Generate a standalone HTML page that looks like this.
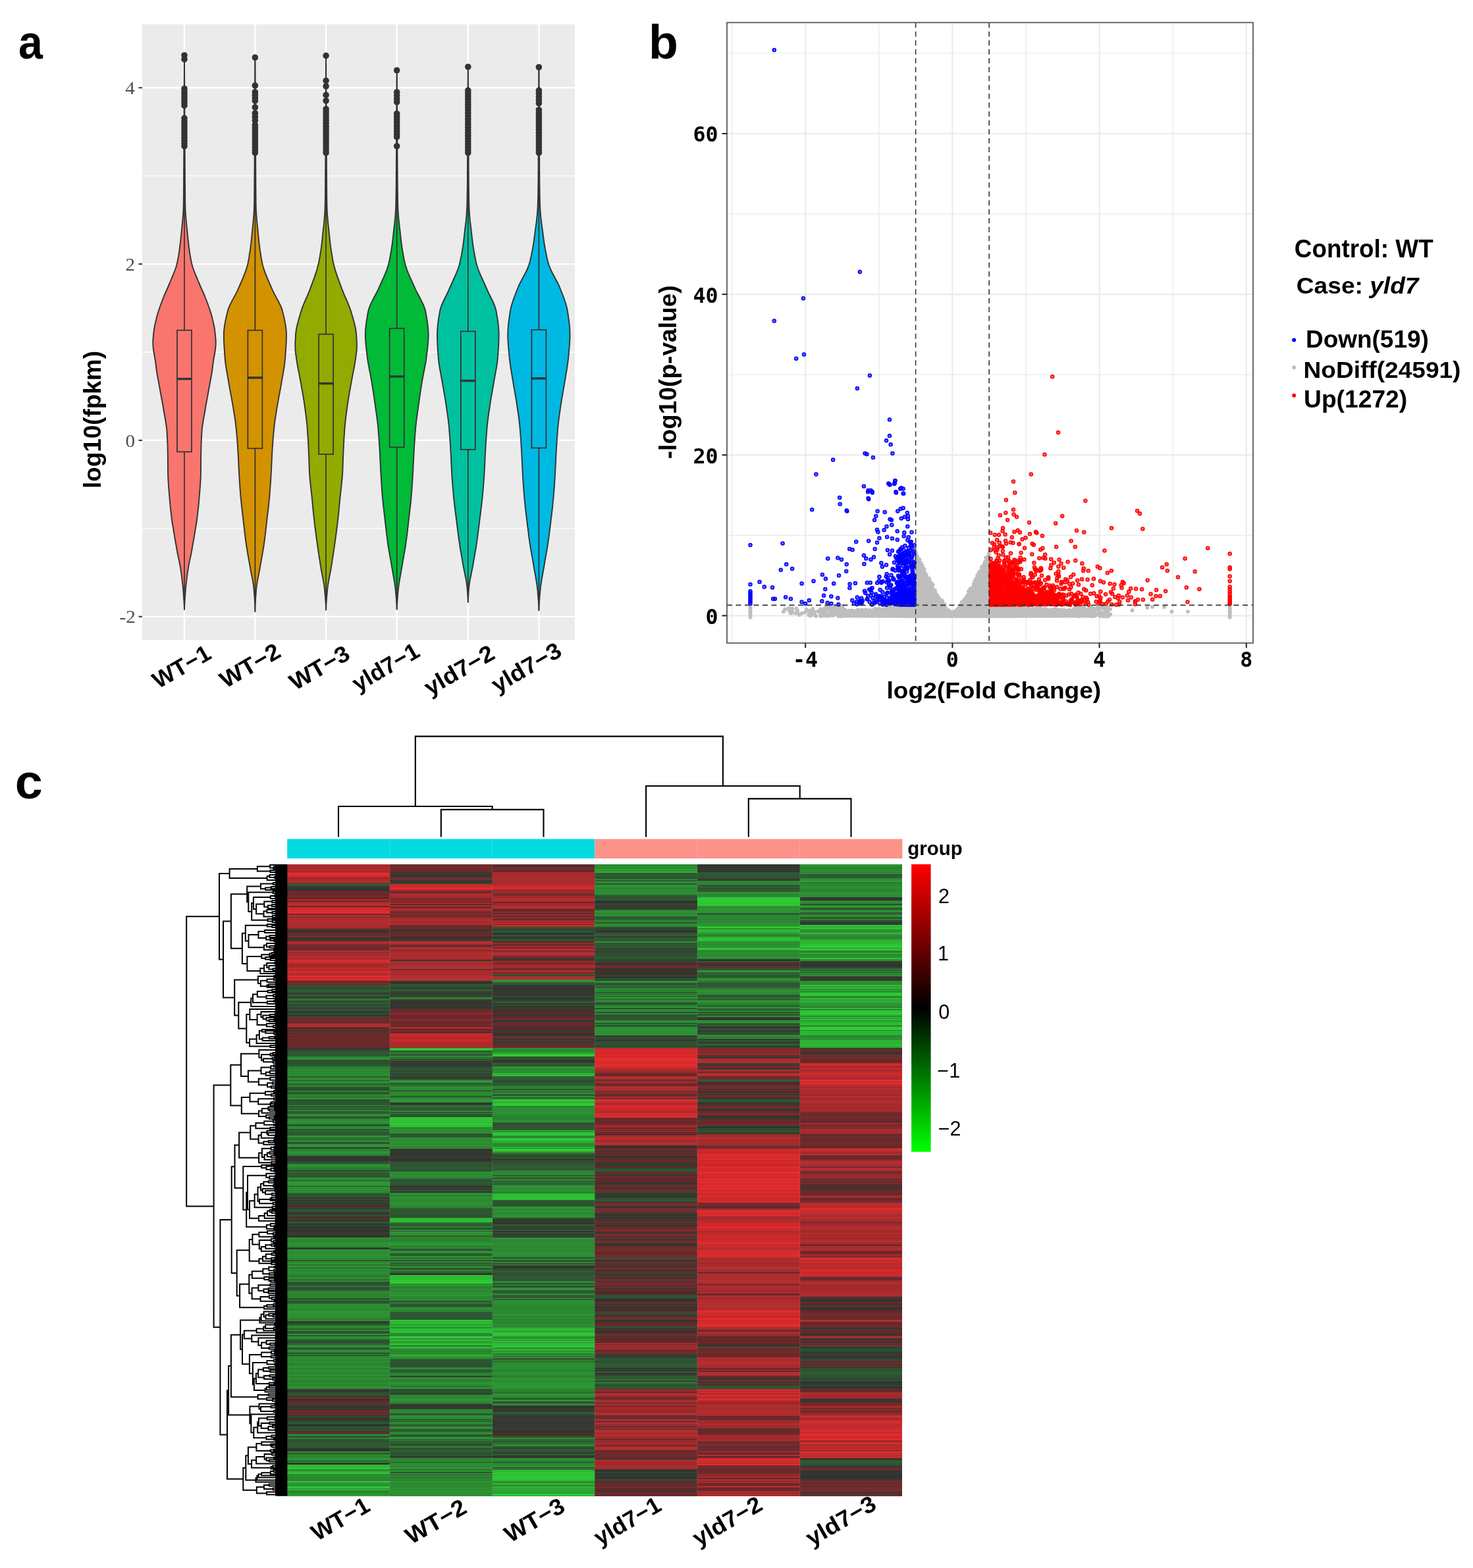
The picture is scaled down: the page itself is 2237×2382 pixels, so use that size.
<!DOCTYPE html><html><head><meta charset="utf-8"><title>Figure</title><style>
html,body{margin:0;padding:0;background:#fff;}
#w{position:relative;width:2237px;height:2382px;overflow:hidden;background:#fff;}
svg{position:absolute;left:0;top:0;}
.lab{font-family:"Liberation Sans",Arial,sans-serif;font-weight:bold;fill:#000;}
.ytka{font-family:"Liberation Serif","Times New Roman",serif;fill:#4D4D4D;}
.xla{font-family:"Liberation Sans",Arial,sans-serif;font-weight:bold;fill:#000;}
.yta{font-family:"Liberation Sans",Arial,sans-serif;font-weight:bold;fill:#000;}
.tkb{font-family:"DejaVu Sans Mono",monospace;font-weight:bold;fill:#000;}
.tt{font-family:"Liberation Sans",Arial,sans-serif;font-weight:bold;fill:#000;}
.lg1{font-family:"Liberation Sans",Arial,sans-serif;font-weight:bold;fill:#000;}
.lg2{font-family:"Liberation Sans",Arial,sans-serif;font-weight:bold;fill:#000;}
.grp{font-family:"Liberation Sans",Arial,sans-serif;font-weight:bold;fill:#000;}
.lgn{font-family:"Liberation Sans",Arial,sans-serif;fill:#000;}
</style></head><body><div id="w">
<div style="position:absolute;left:436.2px;top:1313.0px;width:155.7px;height:959.5px;background:linear-gradient(#b62e30 0.0px 1.5px,#aa2b2d 1.5px 3.0px,#a3292b 3.0px 5.0px,#ab2b2d 5.0px 7.0px,#b42e30 7.0px 9.0px,#aa2b2d 9.0px 9.6px,#a0292a 9.6px 10.6px,#af2c2e 10.6px 13.0px,#e72d2f 13.0px 15.0px,#dc2b2d 15.0px 16.5px,#dc2b2d 16.5px 18.5px,#c62628 18.5px 20.0px,#9f282a 20.0px 22.0px,#a3292b 22.0px 22.6px,#ae2c2e 22.6px 23.6px,#a72a2c 23.6px 25.1px,#b52e30 25.1px 27.1px,#a42a2c 27.1px 29.0px,#2f5833 29.0px 30.0px,#2d5431 30.0px 31.5px,#305a34 31.5px 33.5px,#363a31 33.5px 36.0px,#30342c 36.0px 38.0px,#363b32 38.0px 38.6px,#2f332c 38.6px 40.0px,#632628 40.0px 42.5px,#732c2f 42.5px 43.5px,#6b292b 43.5px 44.1px,#6a292b 44.1px 46.6px,#6d2a2c 46.6px 47.0px,#68282a 47.0px 48.0px,#9e282a 48.0px 48.6px,#652729 48.6px 50.1px,#632628 50.1px 51.1px,#662729 51.1px 52.6px,#ac2c2e 52.6px 54.6px,#6a292b 54.6px 57.1px,#a92b2d 57.1px 58.6px,#b62e30 58.6px 59.6px,#b62e30 59.6px 61.6px,#b92f31 61.6px 62.6px,#652729 62.6px 64.6px,#a52a2c 64.6px 65.0px,#d1282a 65.0px 67.0px,#d3292b 67.0px 68.0px,#c82729 68.0px 68.6px,#db2a2c 68.6px 70.6px,#da2a2c 70.6px 71.2px,#db2a2c 71.2px 72.2px,#e62d2f 72.2px 73.2px,#e22c2e 73.2px 74.7px,#e32c2e 74.7px 75.0px,#68282a 75.0px 76.0px,#67282a 76.0px 77.0px,#af2c2e 77.0px 78.0px,#b82f31 78.0px 80.0px,#6a292b 80.0px 81.5px,#ac2c2e 81.5px 82.1px,#b12d2f 82.1px 83.1px,#b72e30 83.1px 84.1px,#a3292b 84.1px 85.0px,#b92f31 85.0px 87.5px,#a42a2c 87.5px 88.5px,#b02d2f 88.5px 90.5px,#af2c2e 90.5px 92.5px,#a4292b 92.5px 93.5px,#b22d2f 93.5px 94.5px,#a52a2c 94.5px 95.1px,#a52a2c 95.1px 96.6px,#a3292b 96.6px 97.0px,#742d2f 97.0px 98.0px,#722c2e 98.0px 98.6px,#353931 98.6px 99.6px,#343830 99.6px 101.6px,#69292a 101.6px 102.2px,#30332c 102.2px 103.2px,#642728 103.2px 105.7px,#742d2f 105.7px 106.7px,#69292b 106.7px 107.3px,#353a31 107.3px 107.9px,#742d2f 107.9px 110.4px,#6f2b2d 110.4px 111.4px,#33372f 111.4px 112.0px,#343830 112.0px 112.6px,#32362f 112.6px 114.6px,#30342c 114.6px 115.2px,#67282a 115.2px 117.0px,#a82b2d 117.0px 118.5px,#aa2b2d 118.5px 121.0px,#a0292a 121.0px 122.5px,#6d2a2c 122.5px 124.5px,#732d2f 124.5px 126.0px,#6d2a2c 126.0px 126.6px,#632628 126.6px 128.1px,#6d2a2c 128.1px 129.1px,#732c2e 129.1px 131.1px,#ab2b2d 131.1px 133.6px,#6e2b2d 133.6px 134.6px,#b42e30 134.6px 135.0px,#b62e30 135.0px 136.0px,#a42a2b 136.0px 137.5px,#a4292b 137.5px 138.5px,#ab2b2d 138.5px 139.5px,#b12d2f 139.5px 140.1px,#b42e30 140.1px 141.1px,#aa2b2d 141.1px 141.7px,#b72e31 141.7px 142.7px,#a82b2d 142.7px 144.2px,#ab2b2d 144.2px 145.0px,#de2b2d 145.0px 146.0px,#d5292b 146.0px 148.0px,#e22c2e 148.0px 148.6px,#e32c2e 148.6px 149.0px,#b02d2f 149.0px 149.6px,#ad2c2e 149.6px 150.6px,#b02d2f 150.6px 151.6px,#9e282a 151.6px 153.6px,#a92b2d 153.6px 154.6px,#9e282a 154.6px 155.6px,#a42a2c 155.6px 156.6px,#b42e30 156.6px 157.0px,#c92729 157.0px 159.5px,#b42e30 159.5px 161.5px,#a3292b 161.5px 162.1px,#de2b2d 162.1px 163.6px,#c72628 163.6px 165.1px,#d1282a 165.1px 166.1px,#ac2c2e 166.1px 168.6px,#e12b2e 168.6px 169.6px,#e52c2f 169.6px 170.6px,#d5292b 170.6px 173.1px,#b72e31 173.1px 174.1px,#dc2b2d 174.1px 175.6px,#b82f31 175.6px 177.0px,#69282a 177.0px 178.5px,#652729 178.5px 179.5px,#732c2e 179.5px 182.0px,#672829 182.0px 182.6px,#742d2f 182.6px 184.0px,#305a34 184.0px 185.0px,#2f5933 185.0px 186.0px,#2a502e 186.0px 186.6px,#2d5431 186.6px 188.1px,#2a4f2e 188.1px 189.1px,#2a4f2e 189.1px 189.7px,#305934 189.7px 191.7px,#315c35 191.7px 192.7px,#2f5833 192.7px 195.2px,#33372f 195.2px 196.7px,#2b522f 196.7px 199.2px,#305a34 199.2px 201.2px,#343830 201.2px 203.2px,#2f5833 203.2px 205.0px,#29852f 205.0px 207.0px,#343830 207.0px 208.0px,#2d5431 208.0px 210.0px,#2e5732 210.0px 210.6px,#2a4f2e 210.6px 211.2px,#315c35 211.2px 212.7px,#2f5833 212.7px 213.3px,#33372f 213.3px 213.9px,#2d5531 213.9px 215.4px,#305b35 215.4px 216.4px,#2b502e 216.4px 217.9px,#373b33 217.9px 219.4px,#373c33 219.4px 220.4px,#2b522f 220.4px 221.0px,#2f5933 221.0px 223.5px,#30342c 223.5px 224.5px,#363b32 224.5px 227.0px,#2b512f 227.0px 229.0px,#30332c 229.0px 231.0px,#2e5632 231.0px 232.0px,#6c2a2c 232.0px 233.0px,#6c2a2c 233.0px 235.5px,#6c2a2c 235.5px 236.5px,#6d2a2c 236.5px 238.5px,#67282a 238.5px 239.5px,#6e2a2c 239.5px 242.0px,#b72e30 242.0px 243.0px,#ae2c2e 243.0px 244.0px,#a42a2b 244.0px 245.0px,#b62e30 245.0px 246.0px,#b62e30 246.0px 247.0px,#67282a 247.0px 248.0px,#373b33 248.0px 248.6px,#652729 248.6px 250.6px,#712c2e 250.6px 252.1px,#353931 252.1px 252.7px,#343830 252.7px 253.7px,#6f2b2d 253.7px 254.7px,#6b292b 254.7px 255.7px,#343830 255.7px 256.3px,#6b292b 256.3px 257.0px,#662729 257.0px 258.0px,#662729 258.0px 259.0px,#742d2f 259.0px 260.0px,#652729 260.0px 262.5px,#652729 262.5px 263.1px,#6b292b 263.1px 265.6px,#69282a 265.6px 266.2px,#6a292b 266.2px 267.7px,#6a292b 267.7px 268.7px,#69292b 268.7px 270.7px,#6f2b2d 270.7px 273.2px,#662729 273.2px 274.2px,#69292b 274.2px 275.7px,#6a292b 275.7px 276.7px,#6d2a2c 276.7px 277.7px,#6c2a2c 277.7px 278.3px,#68282a 278.3px 278.9px,#712c2e 278.9px 279.0px,#373b32 279.0px 281.5px,#373b33 281.5px 283.0px,#2e5732 283.0px 285.0px,#2e5732 285.0px 287.0px,#305a34 287.0px 288.0px,#2c5230 288.0px 289.0px,#2f5933 289.0px 289.6px,#305a34 289.6px 290.6px,#2b502f 290.6px 292.0px,#2e9435 292.0px 293.0px,#2b8930 293.0px 295.5px,#2d9134 295.5px 297.0px,#2b512f 297.0px 298.5px,#2b502e 298.5px 299.5px,#373b33 299.5px 300.5px,#315c35 300.5px 301.1px,#2b522f 301.1px 303.6px,#2e5632 303.6px 305.1px,#2d5531 305.1px 306.6px,#363a32 306.6px 307.0px,#28812e 307.0px 309.0px,#29832e 309.0px 311.0px,#2a8630 311.0px 312.0px,#2c8c32 312.0px 313.5px,#2d8f33 313.5px 314.5px,#29832e 314.5px 315.1px,#2a8630 315.1px 316.1px,#2c8d32 316.1px 317.1px,#2b8a31 317.1px 319.1px,#2c8d32 319.1px 321.1px,#2c8f33 321.1px 321.7px,#29822e 321.7px 322.0px,#2f5833 322.0px 324.0px,#2f9535 324.0px 324.6px,#29842f 324.6px 326.1px,#2c8e32 326.1px 327.6px,#2d5431 327.6px 329.1px,#2a8730 329.1px 331.1px,#2d8f33 331.1px 333.1px,#2f5833 333.1px 335.1px,#28812e 335.1px 337.6px,#2e5733 337.6px 338.6px,#2d5431 338.6px 340.1px,#2a4f2e 340.1px 341.1px,#2a502e 341.1px 343.6px,#2b8b31 343.6px 344.6px,#29832e 344.6px 345.6px,#2b512f 345.6px 348.1px,#2b502e 348.1px 349.1px,#29832e 349.1px 351.1px,#29842f 351.1px 351.7px,#2d8f33 351.7px 352.7px,#2f5733 352.7px 354.2px,#2d9234 354.2px 356.7px,#2b512f 356.7px 358.7px,#2c522f 358.7px 359.7px,#2a8730 359.7px 360.3px,#2c5430 360.3px 362.3px,#2f5933 362.3px 363.3px,#2e5733 363.3px 365.8px,#2a862f 365.8px 366.8px,#305b35 366.8px 369.3px,#2a4f2e 369.3px 369.9px,#2c8e32 369.9px 370.9px,#2a8730 370.9px 371.5px,#2b512f 371.5px 372.1px,#2d5430 372.1px 373.1px,#2a8830 373.1px 374.6px,#305a34 374.6px 376.1px,#2d5531 376.1px 376.7px,#2f5934 376.7px 378.7px,#2a8630 378.7px 380.2px,#2d8f33 380.2px 381.2px,#2c8d32 381.2px 383.2px,#2b512f 383.2px 385.7px,#29822e 385.7px 388.2px,#29822e 388.2px 389.2px,#2e9334 389.2px 391.2px,#2d9234 391.2px 392.7px,#2e9535 392.7px 393.3px,#2a8730 393.3px 395.3px,#2c5330 395.3px 397.8px,#2d8f33 397.8px 398.8px,#29832e 398.8px 399.8px,#2c8e32 399.8px 402.3px,#2d5531 402.3px 404.8px,#2a852f 404.8px 405.8px,#2c522f 405.8px 407.0px,#305a34 407.0px 408.0px,#2c5430 408.0px 408.6px,#2e5732 408.6px 410.1px,#2f5933 410.1px 411.1px,#305a34 411.1px 412.0px,#2c8e32 412.0px 414.0px,#2d9134 414.0px 415.0px,#2b522f 415.0px 416.0px,#2c8d32 416.0px 416.6px,#305a34 416.6px 417.2px,#2c5330 417.2px 417.8px,#29822e 417.8px 419.8px,#2a8730 419.8px 422.3px,#2b512f 422.3px 422.9px,#2d5431 422.9px 425.4px,#2d9134 425.4px 427.9px,#2b8b31 427.9px 429.9px,#2f9635 429.9px 430.0px,#30342d 430.0px 432.0px,#2c8c32 432.0px 433.5px,#28822e 433.5px 436.0px,#2e9535 436.0px 438.0px,#2d9134 438.0px 439.5px,#2a8830 439.5px 442.0px,#305a34 442.0px 442.6px,#2f5733 442.6px 444.1px,#2f332c 444.1px 446.1px,#33372f 446.1px 446.7px,#31342d 446.7px 447.7px,#31352d 447.7px 450.2px,#343830 450.2px 451.2px,#2a4f2e 451.2px 452.2px,#2c5330 452.2px 453.2px,#2b512f 453.2px 454.2px,#2a4f2e 454.2px 454.8px,#2a4f2e 454.8px 455.0px,#2b8830 455.0px 455.6px,#2d9033 455.6px 457.6px,#2b8a31 457.6px 459.6px,#2e9535 459.6px 460.6px,#315c35 460.6px 461.6px,#2a8630 461.6px 463.6px,#2c5330 463.6px 465.1px,#2b502e 465.1px 467.1px,#2a852f 467.1px 468.1px,#2d5431 468.1px 469.1px,#305934 469.1px 471.1px,#2c522f 471.1px 471.7px,#305b35 471.7px 472.3px,#2f5833 472.3px 473.8px,#2d5431 473.8px 475.8px,#2e9535 475.8px 476.8px,#2d9133 476.8px 477.0px,#2c8c32 477.0px 479.0px,#29842f 479.0px 480.0px,#305a34 480.0px 481.0px,#2a8630 481.0px 482.0px,#2e9435 482.0px 484.5px,#2f9635 484.5px 487.0px,#2c8c32 487.0px 489.0px,#2d5431 489.0px 489.6px,#2e9334 489.6px 492.1px,#2b8a31 492.1px 493.1px,#2e9334 493.1px 494.6px,#2b8931 494.6px 495.6px,#2b8b31 495.6px 497.6px,#29822e 497.6px 500.0px,#33372f 500.0px 501.0px,#305934 501.0px 502.5px,#2a4f2e 502.5px 503.1px,#2d5531 503.1px 504.6px,#2d5531 504.6px 505.6px,#305a34 505.6px 506.2px,#343930 506.2px 508.7px,#315c35 508.7px 509.7px,#32362e 509.7px 512.2px,#2a502e 512.2px 513.7px,#353a31 513.7px 514.7px,#32352e 514.7px 515.7px,#2c5330 515.7px 517.2px,#31342d 517.2px 518.7px,#353931 518.7px 519.3px,#33372f 519.3px 520.0px,#6d2a2c 520.0px 521.5px,#652729 521.5px 522.0px,#30342d 522.0px 522.6px,#2c5330 522.6px 524.1px,#2b512f 524.1px 525.6px,#305a34 525.6px 526.6px,#315b35 526.6px 528.1px,#33372f 528.1px 530.1px,#363a32 530.1px 532.6px,#2e5732 532.6px 533.6px,#31352d 533.6px 534.2px,#2b502e 534.2px 535.2px,#32362e 535.2px 536.7px,#2e5732 536.7px 537.0px,#67282a 537.0px 538.0px,#722c2e 538.0px 539.0px,#343930 539.0px 541.0px,#353931 541.0px 543.0px,#2f5833 543.0px 545.0px,#2a4f2e 545.0px 546.0px,#30342c 546.0px 548.5px,#2d5431 548.5px 549.0px,#32362e 549.0px 550.0px,#32352e 550.0px 551.0px,#33372f 551.0px 551.6px,#30342d 551.6px 554.1px,#343830 554.1px 556.1px,#30342c 556.1px 558.1px,#31352d 558.1px 559.1px,#383c33 559.1px 561.6px,#343830 561.6px 562.6px,#373b33 562.6px 563.2px,#32362e 563.2px 563.8px,#31352e 563.8px 564.8px,#32362e 564.8px 566.8px,#31352d 566.8px 567.0px,#2e9234 567.0px 569.0px,#28812e 569.0px 570.5px,#2d9234 570.5px 571.5px,#29832f 571.5px 574.0px,#2e9334 574.0px 576.5px,#2c8e32 576.5px 578.0px,#2e9234 578.0px 580.5px,#29842f 580.5px 581.1px,#2b8b31 581.1px 582.0px,#343830 582.0px 583.0px,#343830 583.0px 583.6px,#32362e 583.6px 584.6px,#32352e 584.6px 585.0px,#2f9535 585.0px 587.0px,#2c8f33 587.0px 587.6px,#2d9033 587.6px 588.2px,#2b8931 588.2px 589.2px,#2c8e32 589.2px 590.7px,#2a8830 590.7px 592.2px,#2e9535 592.2px 594.2px,#2d9134 594.2px 596.2px,#2b8b31 596.2px 597.0px,#2e9334 597.0px 598.5px,#29832e 598.5px 600.0px,#2c8c32 600.0px 600.6px,#2d5431 600.6px 602.6px,#2a4f2e 602.6px 603.2px,#2b8a31 603.2px 605.7px,#2d9134 605.7px 607.2px,#2e9435 607.2px 608.2px,#2d5531 608.2px 609.2px,#2f9635 609.2px 611.2px,#2c8c32 611.2px 612.7px,#2f5833 612.7px 613.7px,#2f9735 613.7px 614.7px,#2d8f33 614.7px 615.0px,#2b8a31 615.0px 617.0px,#2a852f 617.0px 618.0px,#2b8a31 618.0px 620.5px,#2e9535 620.5px 621.1px,#2c8c32 621.1px 621.7px,#29832e 621.7px 622.7px,#2c8d32 622.7px 624.7px,#28802e 624.7px 625.0px,#2a4f2e 625.0px 626.0px,#2e9435 626.0px 627.0px,#2a8830 627.0px 629.0px,#2a8730 629.0px 631.0px,#2c5330 631.0px 632.5px,#2d9234 632.5px 634.0px,#2b512f 634.0px 635.5px,#2b512f 635.5px 638.0px,#2a4f2e 638.0px 639.0px,#315c35 639.0px 641.5px,#2a862f 641.5px 642.5px,#2c5330 642.5px 643.1px,#2c5230 643.1px 644.1px,#2b502f 644.1px 645.6px,#305934 645.6px 648.1px,#2a852f 648.1px 649.6px,#2d9033 649.6px 650.6px,#2a862f 650.6px 651.6px,#2a8630 651.6px 654.1px,#29832e 654.1px 656.6px,#2a8730 656.6px 658.6px,#2c5230 658.6px 659.6px,#2d5531 659.6px 662.1px,#2c8c32 662.1px 662.7px,#2a4f2e 662.7px 664.0px,#2c5330 664.0px 666.0px,#2d5431 666.0px 667.0px,#29822e 667.0px 669.0px,#2f9635 669.0px 670.0px,#2a862f 670.0px 671.0px,#2d9133 671.0px 672.0px,#29842f 672.0px 672.6px,#2f9635 672.6px 673.6px,#2c8e32 673.6px 674.2px,#2b8931 674.2px 676.2px,#28822e 676.2px 677.7px,#2c8d32 677.7px 678.3px,#2e9535 678.3px 680.8px,#2d8f33 680.8px 681.8px,#2c8c32 681.8px 682.4px,#2e9334 682.4px 684.4px,#2d9033 684.4px 686.9px,#2d9133 686.9px 688.9px,#29842f 688.9px 690.9px,#29832e 690.9px 691.9px,#2a862f 691.9px 693.4px,#2c8d32 693.4px 694.0px,#363a32 694.0px 695.0px,#31352d 695.0px 697.0px,#305a34 697.0px 698.5px,#2a4f2e 698.5px 700.5px,#28812e 700.5px 702.5px,#29842f 702.5px 704.0px,#2c8e32 704.0px 705.0px,#2f5933 705.0px 706.5px,#305b35 706.5px 707.1px,#2c8d32 707.1px 709.1px,#2b512f 709.1px 711.6px,#2f5833 711.6px 712.6px,#2d9234 712.6px 714.6px,#2f5833 714.6px 716.6px,#2c5230 716.6px 717.0px,#2b8b31 717.0px 718.0px,#2e9334 718.0px 720.5px,#28822e 720.5px 722.0px,#2d5531 722.0px 723.5px,#2b522f 723.5px 726.0px,#2b502f 726.0px 726.6px,#315c35 726.6px 728.6px,#2f5933 728.6px 729.6px,#2f5933 729.6px 730.0px,#2b8931 730.0px 730.6px,#2b8931 730.6px 732.6px,#2f9535 732.6px 733.6px,#2f5833 733.6px 734.2px,#2c5330 734.2px 736.7px,#2a862f 736.7px 737.3px,#2a852f 737.3px 738.8px,#2f9635 738.8px 739.8px,#29842f 739.8px 741.8px,#2a4f2e 741.8px 743.8px,#2e9535 743.8px 744.8px,#2b512f 744.8px 746.8px,#2b522f 746.8px 747.0px,#2d9234 747.0px 748.5px,#2b8a31 748.5px 749.5px,#29842f 749.5px 750.5px,#2e9234 750.5px 752.5px,#29852f 752.5px 754.0px,#2c8e32 754.0px 755.0px,#2b8b31 755.0px 756.0px,#2f9735 756.0px 757.5px,#29842f 757.5px 760.0px,#29852f 760.0px 761.5px,#2b8a31 761.5px 763.0px,#2d9033 763.0px 763.6px,#2f9635 763.6px 764.6px,#28812e 764.6px 766.6px,#2d9133 766.6px 767.6px,#2b8931 767.6px 769.6px,#2d9033 769.6px 772.1px,#29832e 772.1px 773.1px,#29842f 773.1px 773.7px,#29832f 773.7px 774.7px,#2d9133 774.7px 775.7px,#28812e 775.7px 776.3px,#2e9334 776.3px 777.3px,#29822e 777.3px 778.8px,#2a8830 778.8px 780.3px,#2d8f33 780.3px 782.3px,#2b8931 782.3px 783.3px,#2b8b31 783.3px 784.3px,#29842f 784.3px 785.3px,#29832f 785.3px 787.3px,#2a8730 787.3px 788.3px,#2b8b31 788.3px 789.8px,#29832f 789.8px 792.3px,#2c8d32 792.3px 794.8px,#2d9133 794.8px 795.8px,#2b8931 795.8px 797.0px,#363a32 797.0px 798.0px,#353931 798.0px 800.0px,#30342d 800.0px 801.5px,#373b32 801.5px 802.0px,#2b502e 802.0px 803.0px,#2c5330 803.0px 804.0px,#2b512f 804.0px 805.0px,#2f5933 805.0px 805.6px,#2e5632 805.6px 807.0px,#353931 807.0px 809.5px,#69292a 809.5px 810.5px,#722c2e 810.5px 811.1px,#67282a 811.1px 812.1px,#33372f 812.1px 813.6px,#32362e 813.6px 815.1px,#67282a 815.1px 816.6px,#363a32 816.6px 818.1px,#67282a 818.1px 819.1px,#732c2e 819.1px 819.7px,#67282a 819.7px 820.7px,#373b33 820.7px 822.7px,#373b33 822.7px 824.2px,#32362f 824.2px 825.7px,#353931 825.7px 827.7px,#30332c 827.7px 828.7px,#6d2a2c 828.7px 829.7px,#722c2e 829.7px 830.7px,#6d2a2c 830.7px 833.2px,#353931 833.2px 834.2px,#6e2a2c 834.2px 835.2px,#6d2a2c 835.2px 837.0px,#363a32 837.0px 837.6px,#373b33 837.6px 839.1px,#2f5833 839.1px 839.7px,#32362e 839.7px 840.7px,#31352d 840.7px 841.3px,#31352d 841.3px 842.3px,#343830 842.3px 844.3px,#343830 844.3px 845.8px,#2a502e 845.8px 848.3px,#2f5833 848.3px 850.3px,#30342c 850.3px 851.3px,#353931 851.3px 851.9px,#31342d 851.9px 854.4px,#2b512f 854.4px 855.4px,#305a34 855.4px 857.4px,#32362e 857.4px 858.4px,#2d5531 858.4px 860.9px,#32362e 860.9px 862.0px,#732c2e 862.0px 863.0px,#652729 863.0px 865.0px,#305a34 865.0px 865.6px,#2e9334 865.6px 868.1px,#2d5531 868.1px 870.1px,#2d5431 870.1px 871.1px,#2a8630 871.1px 872.6px,#2f5833 872.6px 874.6px,#2c5230 874.6px 875.6px,#2b512f 875.6px 878.1px,#305a34 878.1px 879.1px,#2f5733 879.1px 881.1px,#305a34 881.1px 882.0px,#2d5431 882.0px 883.0px,#2f5833 883.0px 885.5px,#2f5833 885.5px 886.1px,#2c5230 886.1px 887.1px,#33372f 887.1px 888.1px,#30332c 888.1px 890.6px,#373b32 890.6px 892.0px,#2d9133 892.0px 893.0px,#2e9535 893.0px 893.6px,#2b512f 893.6px 895.6px,#2e9234 895.6px 896.2px,#2b8931 896.2px 898.7px,#29832f 898.7px 900.7px,#2d9033 900.7px 902.7px,#2e9434 902.7px 904.7px,#29832e 904.7px 906.2px,#2d5531 906.2px 907.2px,#28812e 907.2px 908.2px,#2a8630 908.2px 909.0px,#32352e 909.0px 910.5px,#30342c 910.5px 911.5px,#32362e 911.5px 912.0px,#2ec134 912.0px 913.0px,#2ab230 913.0px 914.0px,#2fc535 914.0px 915.0px,#2bb631 915.0px 915.6px,#2bb431 915.6px 917.1px,#31cf38 917.1px 918.1px,#2dbf33 918.1px 919.0px,#2c8d32 919.0px 920.5px,#2c8d32 920.5px 922.5px,#2cb831 922.5px 925.0px,#30cb37 925.0px 926.0px,#2f9535 926.0px 927.5px,#28812e 927.5px 928.1px,#2d8f33 928.1px 929.1px,#2d9134 929.1px 930.1px,#2b8b31 930.1px 931.1px,#2b8830 931.1px 932.1px,#2a862f 932.1px 934.1px,#2a8730 934.1px 936.6px,#2fc836 936.6px 938.6px,#2dbf33 938.6px 939.2px,#2e9435 939.2px 941.7px,#2c8d32 941.7px 943.7px,#2d9133 943.7px 944.7px,#30c936 944.7px 946.7px,#2dbe33 946.7px 947.7px,#2e9535 947.7px 948.7px,#2cb832 948.7px 949.7px,#2bb731 949.7px 950.7px,#2a8730 950.7px 953.2px,#29832e 953.2px 954.2px,#29842f 954.2px 955.2px,#2c8c32 955.2px 955.8px,#2f9635 955.8px 957.3px,#29842f 957.3px 958.3px,#2bb330 958.3px 958.9px,#2f9635 958.9px 959.5px)"></div>
<div style="position:absolute;left:591.9px;top:1313.0px;width:155.7px;height:959.5px;background:linear-gradient(#6b292b 0.0px 1.0px,#722c2e 1.0px 3.5px,#642728 3.5px 4.5px,#732d2f 4.5px 6.0px,#722c2e 6.0px 7.0px,#6c2a2c 7.0px 8.0px,#652729 8.0px 8.6px,#6e2b2d 8.6px 11.1px,#642728 11.1px 13.0px,#343930 13.0px 15.0px,#363b32 15.0px 16.5px,#33372f 16.5px 19.0px,#373b33 19.0px 20.0px,#712c2e 20.0px 20.6px,#702b2d 20.6px 23.1px,#6e2b2d 23.1px 24.0px,#343830 24.0px 25.5px,#343830 25.5px 27.0px,#343830 27.0px 29.0px,#2e5732 29.0px 30.0px,#c72728 30.0px 32.0px,#cb2729 32.0px 33.0px,#d1282a 33.0px 34.5px,#df2b2d 34.5px 35.5px,#cc2729 35.5px 36.5px,#e72d2f 36.5px 38.0px,#c72628 38.0px 39.0px,#722c2e 39.0px 40.0px,#b52e30 40.0px 40.6px,#652729 40.6px 43.1px,#6c2a2c 43.1px 43.7px,#b62e30 43.7px 44.7px,#ac2c2e 44.7px 47.2px,#ac2c2e 47.2px 48.2px,#a52a2c 48.2px 49.7px,#a1292b 49.7px 52.2px,#6b292b 52.2px 53.7px,#ab2b2d 53.7px 54.7px,#6c2a2c 54.7px 55.3px,#652729 55.3px 55.9px,#a72a2c 55.9px 56.9px,#67282a 56.9px 57.9px,#a3292b 57.9px 58.9px,#b12d2f 58.9px 60.4px,#642728 60.4px 61.9px,#af2c2e 61.9px 64.4px,#6d2a2c 64.4px 66.9px,#b42e30 66.9px 68.4px,#af2c2e 68.4px 70.9px,#662829 70.9px 71.9px,#a1292b 71.9px 72.9px,#642628 72.9px 75.4px,#b82f31 75.4px 76.4px,#68282a 76.4px 78.4px,#6f2b2d 78.4px 79.0px,#722c2e 79.0px 81.5px,#a0282a 81.5px 83.0px,#b42e30 83.0px 84.0px,#a1292b 84.0px 85.0px,#b82f31 85.0px 85.6px,#ac2c2e 85.6px 86.6px,#a42a2c 86.6px 88.1px,#a1292b 88.1px 90.1px,#b62e30 90.1px 90.7px,#b82f31 90.7px 91.7px,#b02d2f 91.7px 92.0px,#67282a 92.0px 93.5px,#6a292b 93.5px 95.0px,#6a292b 95.0px 97.0px,#642728 97.0px 98.0px,#6d2a2c 98.0px 99.5px,#32362e 99.5px 102.0px,#6d2a2c 102.0px 104.5px,#652729 104.5px 105.1px,#68282a 105.1px 106.1px,#363b32 106.1px 106.7px,#6e2b2d 106.7px 108.7px,#30342c 108.7px 110.2px,#632628 110.2px 111.2px,#32362e 111.2px 113.2px,#31342d 113.2px 113.8px,#6b292b 113.8px 114.4px,#6e2b2d 114.4px 115.4px,#373c33 115.4px 116.0px,#67282a 116.0px 117.0px,#b92f31 117.0px 119.0px,#b02d2f 119.0px 119.6px,#ac2c2e 119.6px 122.1px,#69292b 122.1px 124.1px,#652729 124.1px 125.1px,#732d2f 125.1px 125.7px,#b22d2f 125.7px 128.2px,#b82f31 128.2px 129.2px,#a1292b 129.2px 130.7px,#69292b 130.7px 132.0px,#b82f31 132.0px 133.0px,#a1292b 133.0px 133.6px,#ac2c2e 133.6px 135.1px,#b92f31 135.1px 137.1px,#a62a2c 137.1px 137.7px,#ad2c2e 137.7px 139.7px,#ad2c2e 139.7px 140.3px,#b02d2f 140.3px 141.3px,#ac2c2e 141.3px 143.3px,#a72a2c 143.3px 144.3px,#a52a2c 144.3px 145.0px,#33372f 145.0px 146.5px,#343830 146.5px 147.0px,#ad2c2e 147.0px 148.0px,#a2292b 148.0px 149.5px,#b42e30 149.5px 150.1px,#a2292b 150.1px 152.1px,#ac2c2e 152.1px 154.1px,#af2c2e 154.1px 155.6px,#b82f31 155.6px 158.1px,#b42e30 158.1px 159.0px,#662729 159.0px 160.0px,#702b2d 160.0px 160.6px,#69292b 160.6px 161.0px,#ac2c2e 161.0px 162.0px,#a92b2d 162.0px 162.6px,#a62a2c 162.6px 164.1px,#af2d2f 164.1px 166.1px,#a82b2d 166.1px 166.7px,#a0292a 166.7px 167.7px,#ad2c2e 167.7px 168.7px,#b72e31 168.7px 171.2px,#b62e30 171.2px 172.2px,#b02d2f 172.2px 173.2px,#b82f31 173.2px 175.2px,#b92f31 175.2px 177.0px,#33372f 177.0px 177.6px,#32352e 177.6px 178.6px,#31352e 178.6px 180.6px,#30342c 180.6px 181.6px,#33362f 181.6px 182.0px,#2d5531 182.0px 184.5px,#2b502e 184.5px 186.0px,#305a34 186.0px 187.0px,#33362f 187.0px 187.6px,#31352d 187.6px 188.6px,#2a4f2e 188.6px 189.2px,#2c522f 189.2px 190.2px,#2f5933 190.2px 192.7px,#373c33 192.7px 193.7px,#2c5430 193.7px 194.3px,#343830 194.3px 195.3px,#2b522f 195.3px 196.3px,#31352d 196.3px 198.3px,#2f5934 198.3px 198.9px,#2b522f 198.9px 199.5px,#363a32 199.5px 201.5px,#2d5430 201.5px 202.0px,#2a8730 202.0px 202.6px,#29822e 202.6px 205.0px,#363a32 205.0px 206.5px,#652729 206.5px 207.5px,#353931 207.5px 208.5px,#33372f 208.5px 209.1px,#343830 209.1px 210.6px,#30332c 210.6px 211.6px,#343830 211.6px 214.1px,#33372f 214.1px 214.7px,#383c33 214.7px 215.7px,#642729 215.7px 216.3px,#32362f 216.3px 218.8px,#363a32 218.8px 220.3px,#702b2d 220.3px 221.8px,#373c33 221.8px 222.0px,#6c2a2c 222.0px 223.0px,#6a292b 223.0px 223.6px,#6d2a2c 223.6px 226.1px,#a72a2c 226.1px 227.1px,#652729 227.1px 228.1px,#9f282a 228.1px 229.1px,#662729 229.1px 230.6px,#6b292b 230.6px 233.1px,#6c2a2c 233.1px 235.6px,#b22d2f 235.6px 237.0px,#702b2d 237.0px 238.0px,#662729 238.0px 239.0px,#712c2e 239.0px 240.0px,#69282a 240.0px 242.5px,#712c2e 242.5px 244.5px,#6a292b 244.5px 247.0px,#ae2c2e 247.0px 249.0px,#a82b2c 249.0px 250.0px,#652729 250.0px 252.0px,#742d2f 252.0px 254.5px,#642729 254.5px 255.5px,#67282a 255.5px 257.0px,#d3292b 257.0px 258.0px,#c82728 258.0px 258.6px,#de2b2d 258.6px 259.6px,#a0282a 259.6px 261.1px,#b72e31 261.1px 262.1px,#c92729 262.1px 263.6px,#a1292b 263.6px 264.6px,#ca2729 264.6px 265.6px,#cb2729 265.6px 268.1px,#cb2729 268.1px 269.6px,#a0292b 269.6px 270.6px,#cc2729 270.6px 271.6px,#a72a2c 271.6px 273.6px,#ae2c2e 273.6px 274.6px,#a82b2c 274.6px 275.6px,#ae2c2e 275.6px 278.1px,#a1292b 278.1px 279.0px,#2ab130 279.0px 280.0px,#30cb37 280.0px 282.0px,#2cb932 282.0px 283.0px,#2c5230 283.0px 284.0px,#2c5330 284.0px 284.6px,#29842f 284.6px 285.6px,#305a34 285.6px 287.1px,#2c8c32 287.1px 288.1px,#2f5934 288.1px 290.6px,#2d9234 290.6px 293.1px,#2d5431 293.1px 294.1px,#2c8c32 294.1px 295.1px,#2d5430 295.1px 296.6px,#2f5733 296.6px 299.0px,#343830 299.0px 300.0px,#373b32 300.0px 301.0px,#373c33 301.0px 301.6px,#343830 301.6px 302.2px,#363a31 302.2px 304.7px,#373b33 304.7px 305.0px,#373c33 305.0px 305.6px,#32362e 305.6px 306.6px,#2f5833 306.6px 307.6px,#2d5431 307.6px 308.2px,#353931 308.2px 309.2px,#2d5531 309.2px 311.2px,#2e5632 311.2px 313.7px,#373b33 313.7px 314.7px,#2b512f 314.7px 317.2px,#2d5531 317.2px 318.2px,#373b33 318.2px 320.2px,#2c5330 320.2px 320.8px,#2c5230 320.8px 321.8px,#373c33 321.8px 322.0px,#363b32 322.0px 323.0px,#343830 323.0px 323.6px,#383c33 323.6px 325.6px,#343930 325.6px 327.0px,#29842f 327.0px 329.0px,#2e9535 329.0px 331.0px,#2e9434 331.0px 331.6px,#29842f 331.6px 332.2px,#2e5632 332.2px 333.2px,#2f5833 333.2px 335.2px,#28822e 335.2px 335.8px,#305a34 335.8px 336.8px,#2a852f 336.8px 338.3px,#2d9234 338.3px 339.8px,#2b8930 339.8px 340.8px,#2d8f33 340.8px 343.3px,#315b35 343.3px 344.8px,#29842f 344.8px 346.3px,#2a852f 346.3px 347.3px,#2d8f33 347.3px 348.3px,#2c8c32 348.3px 350.3px,#28812e 350.3px 351.3px,#2a8730 351.3px 352.3px,#2b512f 352.3px 353.3px,#2e5632 353.3px 353.9px,#2e5632 353.9px 354.5px,#2b8a31 354.5px 356.0px,#2a8830 356.0px 357.0px,#2f9635 357.0px 357.6px,#2f9735 357.6px 359.1px,#2e9234 359.1px 360.6px,#2a8830 360.6px 361.6px,#2b8931 361.6px 362.0px,#343830 362.0px 363.0px,#30342c 363.0px 365.0px,#2a4f2e 365.0px 365.6px,#2b512f 365.6px 366.2px,#305b35 366.2px 366.8px,#2a8830 366.8px 367.8px,#2f5833 367.8px 368.8px,#2b502f 368.8px 369.4px,#305a34 369.4px 371.9px,#2d5430 371.9px 374.4px,#29842f 374.4px 375.0px,#2d9133 375.0px 375.6px,#2c5330 375.6px 378.1px,#2a8630 378.1px 379.1px,#2e5632 379.1px 381.1px,#2a502e 381.1px 383.1px,#2a502e 383.1px 384.0px,#31ce37 384.0px 385.0px,#2ec034 385.0px 387.5px,#31ce37 387.5px 388.5px,#2ec234 388.5px 391.0px,#2dbf33 391.0px 392.0px,#2dbe33 392.0px 394.0px,#31cf38 394.0px 396.0px,#2dbe33 396.0px 397.5px,#2bb531 397.5px 398.5px,#31ce37 398.5px 399.0px,#2b8a31 399.0px 399.6px,#2b8931 399.6px 401.6px,#2a8730 401.6px 402.2px,#29842f 402.2px 402.8px,#2e9334 402.8px 405.3px,#28812e 405.3px 405.9px,#2e9234 405.9px 407.4px,#2c8e32 407.4px 408.9px,#2b8b31 408.9px 409.0px,#2c5330 409.0px 410.0px,#2c5330 410.0px 411.0px,#2c5330 411.0px 411.6px,#2e5632 411.6px 413.6px,#2d5531 413.6px 415.0px,#2d9133 415.0px 417.0px,#2a8830 417.0px 418.0px,#2c8d32 418.0px 420.0px,#2b8a31 420.0px 421.5px,#2b8b31 421.5px 423.5px,#2f9635 423.5px 424.5px,#2a862f 424.5px 426.0px,#2e9334 426.0px 428.0px,#29842f 428.0px 430.5px,#2c8d32 430.5px 432.0px,#363a32 432.0px 433.0px,#32362e 433.0px 435.5px,#343830 435.5px 437.5px,#353931 437.5px 438.5px,#32362e 438.5px 439.5px,#353931 439.5px 440.1px,#32362e 440.1px 440.7px,#30342d 440.7px 442.7px,#373b33 442.7px 445.2px,#353931 445.2px 447.2px,#2f332c 447.2px 449.7px,#33372f 449.7px 451.2px,#343830 451.2px 452.0px,#2e5632 452.0px 454.5px,#2a502e 454.5px 455.1px,#2f5733 455.1px 456.6px,#2f5733 456.6px 457.2px,#2c5230 457.2px 457.8px,#2a4f2e 457.8px 459.3px,#305a34 459.3px 460.3px,#2e5732 460.3px 461.3px,#305a34 461.3px 462.8px,#2b512f 462.8px 463.8px,#2e5632 463.8px 466.3px,#2c5330 466.3px 467.0px,#2f9535 467.0px 467.6px,#2e9434 467.6px 469.1px,#2a8730 469.1px 470.1px,#2c8c32 470.1px 472.6px,#2f9535 472.6px 473.6px,#29852f 473.6px 476.1px,#2e9234 476.1px 477.0px,#315b35 477.0px 479.5px,#2c522f 479.5px 482.0px,#2f5833 482.0px 484.5px,#305a34 484.5px 485.5px,#2b502e 485.5px 486.5px,#2c5330 486.5px 487.0px,#305a34 487.0px 488.0px,#33372f 488.0px 490.0px,#373b33 490.0px 492.5px,#373c33 492.5px 495.0px,#315c35 495.0px 496.0px,#2b512f 496.0px 497.5px,#32352e 497.5px 499.0px,#2c8e32 499.0px 501.5px,#2d9133 501.5px 502.5px,#28822e 502.5px 505.0px,#2d9234 505.0px 506.5px,#2c8d32 506.5px 507.1px,#2c8f33 507.1px 508.6px,#2a852f 508.6px 510.1px,#2a8830 510.1px 512.6px,#2e9435 512.6px 513.2px,#2e9234 513.2px 514.7px,#2a852f 514.7px 515.7px,#2d9234 515.7px 517.7px,#29842f 517.7px 520.2px,#2a8730 520.2px 521.7px,#2d9033 521.7px 522.0px,#2f5833 522.0px 522.6px,#2f5934 522.6px 525.1px,#2c5330 525.1px 525.7px,#315b35 525.7px 526.3px,#2e5632 526.3px 527.3px,#2e5732 527.3px 529.3px,#305934 529.3px 530.8px,#2b502e 530.8px 531.8px,#2e5632 531.8px 532.8px,#2a502e 532.8px 534.3px,#305a34 534.3px 534.9px,#2a4f2e 534.9px 536.9px,#2e5632 536.9px 537.0px,#2bb631 537.0px 538.0px,#2dbb32 538.0px 540.0px,#2cba32 540.0px 541.5px,#2cbb32 541.5px 542.1px,#2cb932 542.1px 543.1px,#2ec034 543.1px 544.0px,#2c522f 544.0px 545.0px,#29822e 545.0px 546.5px,#2f5833 546.5px 548.0px,#2f5733 548.0px 550.5px,#2a8630 550.5px 552.5px,#2a4f2e 552.5px 554.5px,#2f5934 554.5px 555.1px,#29842f 555.1px 555.7px,#2c8d32 555.7px 556.7px,#305a34 556.7px 557.7px,#2b8b31 557.7px 558.3px,#2f9635 558.3px 559.8px,#2e9435 559.8px 560.8px,#2a4f2e 560.8px 561.4px,#2b8a31 561.4px 562.9px,#2b8b31 562.9px 563.9px,#305a34 563.9px 566.4px,#2c8e32 566.4px 567.0px,#29822e 567.0px 567.6px,#29832f 567.6px 569.6px,#2c8d32 569.6px 570.2px,#28812e 570.2px 571.7px,#2d9133 571.7px 572.3px,#2b8b31 572.3px 574.8px,#29852f 574.8px 575.4px,#2e9334 575.4px 576.4px,#2f9635 576.4px 577.9px,#2e9535 577.9px 578.9px,#29832e 578.9px 581.4px,#28812e 581.4px 582.0px,#2b8931 582.0px 584.5px,#2b512f 584.5px 586.0px,#2f5833 586.0px 586.6px,#2d8f33 586.6px 588.1px,#2a8730 588.1px 589.1px,#2e9434 589.1px 591.1px,#2d5531 591.1px 593.1px,#2e5632 593.1px 594.6px,#2e9435 594.6px 597.0px,#29822e 597.0px 598.5px,#2f5933 598.5px 599.5px,#2d8f33 599.5px 601.5px,#2c5330 601.5px 603.0px,#2c8c32 603.0px 605.0px,#2f5833 605.0px 607.5px,#2a8830 607.5px 608.1px,#2e5732 608.1px 609.6px,#2a8730 609.6px 610.6px,#2b8a31 610.6px 611.6px,#2e9334 611.6px 613.1px,#2e5732 613.1px 615.6px,#2a8830 615.6px 618.1px,#2c5230 618.1px 619.1px,#2b8931 619.1px 620.0px,#383c33 620.0px 621.0px,#363a31 621.0px 622.0px,#32362e 622.0px 624.0px,#2ec034 624.0px 626.5px,#2cb932 626.5px 627.1px,#2cbb32 627.1px 629.1px,#2cba32 629.1px 630.6px,#30c936 630.6px 633.1px,#2fc535 633.1px 634.6px,#30cc37 634.6px 635.6px,#2fc535 635.6px 637.0px,#2c8e32 637.0px 637.6px,#2b8b31 637.6px 639.1px,#2f9735 639.1px 641.1px,#28812e 641.1px 643.1px,#2a8830 643.1px 644.1px,#29822e 644.1px 644.7px,#2c8d32 644.7px 645.7px,#2d9033 645.7px 646.7px,#2b8931 646.7px 647.7px,#29842f 647.7px 648.7px,#2c8c32 648.7px 650.7px,#2c8c32 650.7px 651.3px,#2d8f33 651.3px 652.8px,#2e9234 652.8px 653.8px,#2e9434 653.8px 656.3px,#2a862f 656.3px 658.3px,#28812e 658.3px 659.3px,#2c8f33 659.3px 659.9px,#2d9133 659.9px 660.5px,#28812e 660.5px 661.5px,#2d9033 661.5px 662.0px,#2a8730 662.0px 662.6px,#2f5833 662.6px 663.6px,#305a34 663.6px 666.1px,#2d9033 666.1px 667.1px,#305a34 667.1px 667.7px,#2e5632 667.7px 669.7px,#2b522f 669.7px 670.7px,#2f5833 670.7px 672.7px,#2e9435 672.7px 673.7px,#2e9535 673.7px 674.7px,#2b8b31 674.7px 677.2px,#2a852f 677.2px 679.2px,#2a852f 679.2px 680.2px,#2d5531 680.2px 681.2px,#2f5833 681.2px 683.7px,#2d9033 683.7px 684.3px,#2c5330 684.3px 686.3px,#315c35 686.3px 688.3px,#2d5431 688.3px 690.3px,#315b35 690.3px 690.9px,#2c5230 690.9px 692.0px,#2fc535 692.0px 694.5px,#2cb932 694.5px 695.1px,#2cb831 695.1px 697.1px,#2cb932 697.1px 697.7px,#2dbb32 697.7px 698.7px,#2a8630 698.7px 700.2px,#2bb330 700.2px 700.8px,#2cba32 700.8px 703.3px,#2b8a31 703.3px 705.3px,#2dbd33 705.3px 707.8px,#2cb832 707.8px 709.3px,#2ec134 709.3px 710.8px,#2cb932 710.8px 711.8px,#30c936 711.8px 712.0px,#2b8b31 712.0px 714.0px,#29852f 714.0px 716.0px,#2d9033 716.0px 717.0px,#31cd37 717.0px 719.5px,#2ec134 719.5px 720.1px,#2e9535 720.1px 722.1px,#2cb831 722.1px 723.1px,#2ec034 723.1px 724.1px,#2cb932 724.1px 725.1px,#29822e 725.1px 726.1px,#2bb531 726.1px 726.7px,#2d9134 726.7px 728.2px,#31cd37 728.2px 729.7px,#2c8d32 729.7px 731.2px,#29842f 731.2px 731.8px,#2a862f 731.8px 733.3px,#2dbe33 733.3px 734.8px,#2f9635 734.8px 736.8px,#28812e 736.8px 739.3px,#29852f 739.3px 741.8px,#2cba32 741.8px 742.4px,#2c8d32 742.4px 743.4px,#29842f 743.4px 744.0px,#2d9133 744.0px 745.0px,#2ab130 745.0px 746.0px,#2bb631 746.0px 747.0px,#2d9133 747.0px 747.6px,#2d8f33 747.6px 749.1px,#2e9234 749.1px 750.1px,#29842f 750.1px 752.0px,#2b502e 752.0px 754.5px,#315b35 754.5px 755.1px,#305b34 755.1px 755.7px,#2d5431 755.7px 756.7px,#2c5230 756.7px 759.0px,#2d5431 759.0px 761.5px,#2c522f 761.5px 764.0px,#29852f 764.0px 765.0px,#29842f 765.0px 765.6px,#2f9535 765.6px 766.6px,#315c35 766.6px 769.1px,#2f5833 769.1px 771.6px,#28802e 771.6px 774.1px,#2b8931 774.1px 775.6px,#29832e 775.6px 777.0px,#383c33 777.0px 778.0px,#343830 778.0px 779.0px,#29842f 779.0px 780.5px,#2d8f33 780.5px 782.5px,#29842f 782.5px 784.5px,#28812e 784.5px 786.5px,#2d9134 786.5px 789.0px,#2c8e33 789.0px 791.0px,#29852f 791.0px 792.5px,#28812e 792.5px 795.0px,#2e9434 795.0px 797.0px,#2d5431 797.0px 797.6px,#343930 797.6px 798.6px,#2c5430 798.6px 801.1px,#2a502e 801.1px 801.7px,#2a4f2e 801.7px 802.7px,#2f5833 802.7px 803.3px,#2a4f2e 803.3px 804.3px,#373b33 804.3px 805.0px,#2c522f 805.0px 805.6px,#29832e 805.6px 806.6px,#2c8c32 806.6px 807.6px,#2c8c32 807.6px 808.2px,#2b8931 808.2px 809.7px,#2b8931 809.7px 812.2px,#2f9635 812.2px 813.7px,#2a8830 813.7px 814.3px,#2e9234 814.3px 814.9px,#2a8730 814.9px 816.4px,#2b8931 816.4px 818.9px,#315b35 818.9px 820.0px,#373b33 820.0px 820.6px,#32352e 820.6px 821.2px,#32362e 821.2px 822.2px,#353931 822.2px 822.8px,#31352d 822.8px 825.3px,#373b32 825.3px 826.8px,#363a32 826.8px 827.0px,#2b502e 827.0px 827.6px,#2b8830 827.6px 829.1px,#2c8d32 829.1px 831.1px,#2a8730 831.1px 833.1px,#2d8f33 833.1px 834.1px,#2d5431 834.1px 836.1px,#305934 836.1px 837.0px,#2c8e33 837.0px 839.5px,#2f9635 839.5px 840.5px,#2b8a31 840.5px 842.0px,#2b8830 842.0px 842.6px,#2e5632 842.6px 845.1px,#2c8d32 845.1px 846.1px,#2b502e 846.1px 847.1px,#2a8830 847.1px 849.6px,#2c8c32 849.6px 850.6px,#2d9033 850.6px 851.2px,#2b512f 851.2px 852.2px,#315b35 852.2px 853.7px,#2c8d32 853.7px 855.2px,#2d9133 855.2px 856.2px,#2c8e32 856.2px 857.7px,#2b512f 857.7px 860.2px,#2f5833 860.2px 862.2px,#29842f 862.2px 863.7px,#2d8f33 863.7px 866.2px,#2a4f2e 866.2px 867.2px,#2b512f 867.2px 867.8px,#2f5833 867.8px 870.3px,#2e9334 870.3px 872.3px,#2d8f33 872.3px 872.9px,#28812e 872.9px 874.4px,#2b512f 874.4px 875.4px,#2c8e32 875.4px 876.4px,#2d5430 876.4px 877.4px,#305b35 877.4px 879.9px,#2c522f 879.9px 881.9px,#315c35 881.9px 882.0px,#2c5330 882.0px 883.0px,#2a4f2e 883.0px 884.5px,#2b8b31 884.5px 886.0px,#2c5230 886.0px 888.0px,#2e5732 888.0px 890.0px,#315c35 890.0px 892.5px,#2d5531 892.5px 895.0px,#2c5230 895.0px 897.0px,#2d5431 897.0px 899.5px,#30342c 899.5px 901.0px,#2d5431 901.0px 901.6px,#373c33 901.6px 902.0px,#2b8a31 902.0px 903.5px,#29842f 903.5px 905.5px,#2b8930 905.5px 908.0px,#2a4f2e 908.0px 909.0px,#29832f 909.0px 910.0px,#2e9435 910.0px 911.0px,#2d8f33 911.0px 913.5px,#29842f 913.5px 914.5px,#28812e 914.5px 915.1px,#2d9234 915.1px 917.6px,#2f9635 917.6px 918.2px,#2e9435 918.2px 919.2px,#315b35 919.2px 920.2px,#2a8730 920.2px 921.2px,#2d8f33 921.2px 922.7px,#29842f 922.7px 923.3px,#2c5330 923.3px 924.8px,#2f9535 924.8px 927.3px,#2c522f 927.3px 927.9px,#2c8d32 927.9px 929.9px,#2c8d32 929.9px 930.9px,#2e5732 930.9px 931.9px,#2c5330 931.9px 932.0px,#2e9434 932.0px 933.5px,#2a852f 933.5px 936.0px,#29832e 936.0px 936.6px,#2a852f 936.6px 937.2px,#2e9334 937.2px 938.2px,#2e9334 938.2px 939.7px,#2b8830 939.7px 941.2px,#29822e 941.2px 942.2px,#2f9635 942.2px 943.2px,#2a862f 943.2px 945.2px,#2d9033 945.2px 945.8px,#2c8c32 945.8px 947.8px,#2e9234 947.8px 949.8px,#2b8931 949.8px 951.3px,#2f9635 951.3px 953.8px,#2d9234 953.8px 955.3px,#2d8f33 955.3px 955.9px,#2b8b31 955.9px 956.9px,#2e9334 956.9px 958.9px,#2d8f33 958.9px 959.5px)"></div>
<div style="position:absolute;left:747.6px;top:1313.0px;width:155.7px;height:959.5px;background:linear-gradient(#6e2a2d 0.0px 1.0px,#6d2a2c 1.0px 2.0px,#32362e 2.0px 3.0px,#353931 3.0px 4.5px,#6e2a2c 4.5px 7.0px,#702b2d 7.0px 9.0px,#642728 9.0px 10.0px,#662729 10.0px 12.0px,#b72f31 12.0px 13.0px,#a62a2c 13.0px 14.0px,#9f282a 14.0px 15.5px,#ad2c2e 15.5px 18.0px,#ab2b2d 18.0px 19.0px,#a1292b 19.0px 19.6px,#a0292a 19.6px 20.2px,#ae2c2e 20.2px 22.7px,#a42a2c 22.7px 23.3px,#ae2c2e 23.3px 24.8px,#a72a2c 24.8px 25.8px,#a92b2d 25.8px 27.8px,#a52a2c 27.8px 28.8px,#a82b2c 28.8px 29.8px,#ae2c2e 29.8px 32.0px,#d1282a 32.0px 33.0px,#c82729 33.0px 35.5px,#dc2b2d 35.5px 37.5px,#c82729 37.5px 39.0px,#68282a 39.0px 40.5px,#b62e30 40.5px 41.5px,#6e2a2d 41.5px 42.1px,#a62a2c 42.1px 43.6px,#ac2c2e 43.6px 44.2px,#702b2d 44.2px 45.7px,#712c2e 45.7px 48.2px,#a2292b 48.2px 49.7px,#732d2f 49.7px 50.3px,#a2292b 50.3px 51.3px,#a52a2c 51.3px 52.3px,#b52e30 52.3px 54.3px,#ad2c2e 54.3px 55.8px,#672829 55.8px 56.4px,#b32d2f 56.4px 57.4px,#662729 57.4px 59.4px,#a3292b 59.4px 60.4px,#9f282a 60.4px 61.9px,#a2292b 61.9px 63.4px,#ad2c2e 63.4px 64.4px,#b92f31 64.4px 65.9px,#a2292b 65.9px 68.4px,#662729 68.4px 70.9px,#662829 70.9px 72.4px,#aa2b2d 72.4px 73.0px,#6b292b 73.0px 73.6px,#642729 73.6px 74.6px,#6f2b2d 74.6px 75.6px,#aa2b2d 75.6px 76.6px,#712b2e 76.6px 78.1px,#6f2b2d 78.1px 80.1px,#6f2b2d 80.1px 81.1px,#a82b2d 81.1px 82.1px,#6c2a2c 82.1px 83.1px,#67282a 83.1px 84.6px,#a62a2c 84.6px 85.6px,#b32e30 85.6px 86.6px,#712c2e 86.6px 87.2px,#a3292b 87.2px 88.7px,#b32d2f 88.7px 89.7px,#b42e30 89.7px 90.7px,#a82b2d 90.7px 91.3px,#702b2d 91.3px 92.0px,#c72628 92.0px 93.0px,#d2292a 93.0px 94.5px,#c92729 94.5px 95.0px,#2a502e 95.0px 96.0px,#315c35 96.0px 97.0px,#383c33 97.0px 97.6px,#2b522f 97.6px 98.6px,#33372f 98.6px 100.1px,#2b512f 100.1px 102.1px,#2e5632 102.1px 103.6px,#373b33 103.6px 104.2px,#30342c 104.2px 105.7px,#31352e 105.7px 107.2px,#2d5531 107.2px 109.7px,#30332c 109.7px 111.2px,#32362e 111.2px 112.7px,#2d5430 112.7px 114.7px,#2c5330 114.7px 116.2px,#2b502e 116.2px 117.0px,#68282a 117.0px 119.0px,#67282a 119.0px 120.0px,#b22d2f 120.0px 121.5px,#6b292b 121.5px 122.1px,#6a292b 122.1px 124.1px,#ad2c2e 124.1px 125.6px,#6a292b 125.6px 127.1px,#712b2e 127.1px 128.1px,#b22d2f 128.1px 130.6px,#732d2f 130.6px 133.1px,#ac2c2e 133.1px 135.1px,#b42e30 135.1px 135.7px,#b72e31 135.7px 137.7px,#a1292b 137.7px 138.3px,#a2292b 138.3px 138.9px,#722c2e 138.9px 140.9px,#6e2a2c 140.9px 142.4px,#67282a 142.4px 143.0px,#32362f 143.0px 145.0px,#68282a 145.0px 147.5px,#aa2b2d 147.5px 148.1px,#6f2b2d 148.1px 148.7px,#ab2b2d 148.7px 149.3px,#ae2c2e 149.3px 150.3px,#652729 150.3px 151.8px,#ad2c2e 151.8px 153.3px,#a72a2c 153.3px 155.3px,#ac2c2e 155.3px 156.8px,#732c2f 156.8px 157.8px,#712c2e 157.8px 160.3px,#662729 160.3px 161.3px,#b12d2f 161.3px 163.8px,#68282a 163.8px 166.3px,#b72f31 166.3px 166.9px,#732c2f 166.9px 167.0px,#2c522f 167.0px 169.5px,#2b502e 169.5px 170.0px,#b62e30 170.0px 170.6px,#ad2c2e 170.6px 171.6px,#b82f31 171.6px 173.1px,#ae2c2e 173.1px 175.0px,#2d9133 175.0px 176.0px,#2d9134 176.0px 178.0px,#2c8e32 178.0px 179.0px,#2f5733 179.0px 181.5px,#315c35 181.5px 182.5px,#315c35 182.5px 183.5px,#363b32 183.5px 184.1px,#343830 184.1px 186.6px,#373b33 186.6px 187.2px,#30332c 187.2px 189.7px,#2f5934 189.7px 190.3px,#383c33 190.3px 190.9px,#31352d 190.9px 192.4px,#32362e 192.4px 193.4px,#363a32 193.4px 195.9px,#363a32 195.9px 197.4px,#31342d 197.4px 198.9px,#343830 198.9px 200.4px,#315c35 200.4px 201.0px,#30342d 201.0px 202.0px,#343830 202.0px 203.5px,#30332c 203.5px 204.5px,#353a31 204.5px 207.0px,#2a502e 207.0px 209.0px,#2f5833 209.0px 211.5px,#343830 211.5px 212.1px,#343830 212.1px 212.7px,#363a32 212.7px 213.3px,#2a4f2e 213.3px 214.8px,#31352d 214.8px 216.8px,#2a4f2e 216.8px 217.0px,#353930 217.0px 219.5px,#363b32 219.5px 221.0px,#33372f 221.0px 223.0px,#632628 223.0px 225.5px,#30342c 225.5px 226.5px,#68282a 226.5px 228.5px,#343830 228.5px 231.0px,#652729 231.0px 233.5px,#69292a 233.5px 235.5px,#742d2f 235.5px 236.1px,#68282a 236.1px 237.0px,#32362e 237.0px 238.0px,#33372f 238.0px 240.5px,#6f2b2d 240.5px 242.5px,#32362e 242.5px 243.5px,#702b2d 243.5px 244.5px,#652729 244.5px 247.0px,#642728 247.0px 248.0px,#30342c 248.0px 249.0px,#662729 249.0px 251.0px,#33372f 251.0px 253.0px,#373c33 253.0px 254.5px,#642728 254.5px 256.5px,#30342c 256.5px 258.0px,#30342c 258.0px 260.5px,#343830 260.5px 261.5px,#742d2f 261.5px 262.5px,#722c2e 262.5px 264.5px,#363a32 264.5px 267.0px,#712c2e 267.0px 267.6px,#373c33 267.6px 269.1px,#353931 269.1px 270.1px,#363a32 270.1px 272.1px,#702b2d 272.1px 272.7px,#6b292b 272.7px 275.2px,#32352e 275.2px 275.8px,#732c2e 275.8px 278.3px,#69282a 278.3px 279.0px,#2d9033 279.0px 280.0px,#2d9033 280.0px 281.0px,#29832f 281.0px 283.0px,#2c8c32 283.0px 285.0px,#2e9434 285.0px 286.0px,#2e9435 286.0px 287.0px,#2ab330 287.0px 288.0px,#2dbb32 288.0px 289.5px,#31cc37 289.5px 290.5px,#31ce37 290.5px 291.1px,#2dbf33 291.1px 292.0px,#2a4f2e 292.0px 293.5px,#2d5431 293.5px 295.5px,#2a502e 295.5px 296.5px,#2a4f2e 296.5px 297.1px,#33372f 297.1px 298.6px,#32362e 298.6px 300.6px,#2b502e 300.6px 301.6px,#2e5732 301.6px 302.2px,#2f5833 302.2px 304.2px,#305a34 304.2px 305.2px,#2c5330 305.2px 307.0px,#2f9635 307.0px 309.0px,#2e9535 309.0px 309.6px,#2b8b31 309.6px 311.6px,#2e9334 311.6px 312.6px,#28822e 312.6px 313.6px,#2d9033 313.6px 314.6px,#2e9435 314.6px 315.2px,#2e9434 315.2px 316.2px,#28812e 316.2px 317.0px,#2cb731 317.0px 318.5px,#2bb731 318.5px 321.0px,#2ec134 321.0px 322.0px,#2b502e 322.0px 322.6px,#305a34 322.6px 325.1px,#305a34 325.1px 326.1px,#2e5632 326.1px 327.1px,#2d5531 327.1px 329.1px,#31352d 329.1px 330.1px,#305a34 330.1px 331.1px,#2a502e 331.1px 332.1px,#305a34 332.1px 334.6px,#315b35 334.6px 336.6px,#33372f 336.6px 337.0px,#2d9133 337.0px 338.0px,#28802e 338.0px 340.0px,#2a8830 340.0px 341.0px,#2d5431 341.0px 343.0px,#2a8730 343.0px 345.5px,#2f5733 345.5px 346.1px,#2a8730 346.1px 348.1px,#2c8c32 348.1px 349.1px,#2f5833 349.1px 351.6px,#2e9535 351.6px 354.1px,#305a34 354.1px 355.6px,#29852f 355.6px 356.6px,#2d5531 356.6px 357.0px,#2cb932 357.0px 358.0px,#2fc836 358.0px 359.5px,#2fc736 359.5px 360.5px,#2cb932 360.5px 361.5px,#2ab230 361.5px 363.5px,#30cb37 363.5px 366.0px,#2ec034 366.0px 367.0px,#2c8d32 367.0px 368.0px,#28822e 368.0px 370.0px,#2f9735 370.0px 371.5px,#2b8b31 371.5px 373.0px,#2d9133 373.0px 374.0px,#2b8b31 374.0px 375.5px,#2e9234 375.5px 377.0px,#2c8d32 377.0px 377.6px,#2e9334 377.6px 379.1px,#2b8b31 379.1px 381.6px,#29832f 381.6px 382.2px,#29822e 382.2px 384.2px,#29832e 384.2px 385.7px,#2e9334 385.7px 386.3px,#28822e 386.3px 388.3px,#2c8d32 388.3px 389.8px,#2e9334 389.8px 390.8px,#2c8d32 390.8px 392.0px,#2e5632 392.0px 394.5px,#2a4f2e 394.5px 396.5px,#2c5330 396.5px 397.5px,#305a34 397.5px 398.1px,#2e5732 398.1px 399.1px,#2b512f 399.1px 400.1px,#2e5632 400.1px 401.1px,#305a34 401.1px 402.6px,#2b512f 402.6px 404.0px,#2dbd33 404.0px 405.0px,#2e9434 405.0px 405.6px,#2a8830 405.6px 406.6px,#2ec334 406.6px 407.6px,#2fc735 407.6px 410.1px,#2fc736 410.1px 412.1px,#2e9234 412.1px 413.1px,#2a8830 413.1px 414.1px,#2a8630 414.1px 416.1px,#2fc735 416.1px 418.6px,#2a862f 418.6px 419.2px,#30c836 419.2px 419.8px,#2b8b31 419.8px 420.8px,#31cd37 420.8px 421.8px,#2f9635 421.8px 424.3px,#2a862f 424.3px 426.3px,#2a8830 426.3px 427.3px,#2a8730 427.3px 428.8px,#2bb531 428.8px 431.3px,#2a862f 431.3px 432.3px,#30ca36 432.3px 432.9px,#30cb37 432.9px 434.9px,#2bb531 434.9px 436.9px,#2a8730 436.9px 438.9px,#30cb37 438.9px 439.0px,#2d5431 439.0px 440.0px,#315c35 440.0px 441.5px,#2b522f 441.5px 443.5px,#2f332c 443.5px 444.5px,#2e5632 444.5px 447.0px,#353931 447.0px 448.0px,#33372f 448.0px 450.0px,#2d5531 450.0px 451.0px,#2c5230 451.0px 453.5px,#373c33 453.5px 454.1px,#2f5934 454.1px 456.1px,#2d5430 456.1px 457.0px,#305b35 457.0px 458.5px,#315c35 458.5px 460.5px,#315c35 460.5px 462.5px,#2d5531 462.5px 464.5px,#2e5732 464.5px 465.1px,#2a852f 465.1px 467.6px,#2b8b31 467.6px 469.1px,#2b8830 469.1px 471.6px,#305a34 471.6px 473.6px,#2b8a31 473.6px 475.6px,#2b512f 475.6px 478.1px,#2a8730 478.1px 480.1px,#29842f 480.1px 480.7px,#2e5632 480.7px 483.2px,#29822e 483.2px 484.2px,#315c35 484.2px 485.7px,#305934 485.7px 487.0px,#2e9334 487.0px 488.0px,#2b8a31 488.0px 489.0px,#2c8e32 489.0px 489.6px,#2e9334 489.6px 491.1px,#2e9234 491.1px 491.7px,#2b8a31 491.7px 493.7px,#2f9635 493.7px 494.7px,#2d9033 494.7px 496.7px,#2c8d32 496.7px 497.7px,#28812e 497.7px 499.7px,#2a862f 499.7px 500.0px,#2cb932 500.0px 501.0px,#2dbe33 501.0px 502.0px,#2dbe33 502.0px 503.0px,#2cbb32 503.0px 504.5px,#2dbe33 504.5px 505.5px,#2dbf33 505.5px 508.0px,#2cb731 508.0px 509.0px,#2ec134 509.0px 510.0px,#2c5430 510.0px 511.0px,#2f5833 511.0px 512.5px,#2d5531 512.5px 514.0px,#2e5732 514.0px 515.0px,#2c5230 515.0px 517.0px,#2d5431 517.0px 518.5px,#2e5732 518.5px 520.0px,#2e9535 520.0px 522.0px,#2c8d32 522.0px 523.5px,#2d9133 523.5px 524.5px,#2a8830 524.5px 525.1px,#28812e 525.1px 525.7px,#2e9434 525.7px 526.3px,#2f9635 526.3px 527.3px,#2f9535 527.3px 528.3px,#2e9334 528.3px 528.9px,#2f9635 528.9px 529.5px,#28812e 529.5px 530.5px,#2b8931 530.5px 531.1px,#2b8b31 531.1px 532.6px,#2d8f33 532.6px 534.6px,#2c8e32 534.6px 535.6px,#2d8f33 535.6px 536.2px,#2b8b31 536.2px 537.0px,#2b502e 537.0px 538.0px,#2b512f 538.0px 539.5px,#33372f 539.5px 541.0px,#30342c 541.0px 542.0px,#2c5330 542.0px 543.0px,#31352d 543.0px 544.5px,#32352e 544.5px 547.0px,#315c35 547.0px 547.6px,#2e5733 547.6px 549.1px,#2f5833 549.1px 550.1px,#30342d 550.1px 550.7px,#2b512f 550.7px 551.3px,#343830 551.3px 552.3px,#2f5833 552.3px 553.3px,#33372f 553.3px 555.3px,#2f5934 555.3px 557.3px,#31352e 557.3px 558.8px,#30342c 558.8px 559.4px,#2e5632 559.4px 560.4px,#2d5430 560.4px 561.4px,#33372f 561.4px 563.9px,#2d5431 563.9px 564.5px,#305934 564.5px 565.1px,#32362e 565.1px 566.1px,#363b32 566.1px 567.0px,#2d9234 567.0px 568.0px,#2e9234 568.0px 568.6px,#2c8c32 568.6px 569.6px,#2b8b31 569.6px 570.6px,#2a8630 570.6px 572.6px,#28812e 572.6px 574.1px,#2c8e32 574.1px 575.1px,#2d9033 575.1px 576.6px,#2b8a31 576.6px 578.6px,#2c8d32 578.6px 579.6px,#2b8b31 579.6px 580.2px,#2a8630 580.2px 582.2px,#2b8a31 582.2px 583.2px,#2b8b31 583.2px 585.2px,#2a8830 585.2px 587.7px,#2c8e33 587.7px 589.7px,#2b8931 589.7px 590.3px,#2d9133 590.3px 591.3px,#2e9535 591.3px 592.3px,#2b8930 592.3px 593.3px,#2d9134 593.3px 593.9px,#2d8f33 593.9px 595.4px,#2c8d32 595.4px 596.0px,#28822e 596.0px 597.0px,#2e5632 597.0px 598.0px,#2a4f2e 598.0px 599.0px,#2c8c32 599.0px 601.0px,#2f5934 601.0px 602.0px,#2e5732 602.0px 603.0px,#2f5733 603.0px 604.5px,#2b8a31 604.5px 606.5px,#2b512f 606.5px 608.5px,#2d9234 608.5px 609.0px,#373b33 609.0px 611.5px,#31352e 611.5px 613.5px,#30342c 613.5px 614.0px,#2c522f 614.0px 615.0px,#2b512f 615.0px 617.0px,#2e5732 617.0px 618.5px,#305b35 618.5px 620.0px,#2c5330 620.0px 621.0px,#2a4f2e 621.0px 623.5px,#2c5330 623.5px 624.5px,#2e5632 624.5px 625.5px,#2d5531 625.5px 626.1px,#305b35 626.1px 628.6px,#2f5934 628.6px 629.2px,#2e5732 629.2px 631.7px,#2d5531 631.7px 632.0px,#2c5330 632.0px 633.5px,#2b8a31 633.5px 634.5px,#2b8a31 634.5px 636.5px,#2c5230 636.5px 637.5px,#305934 637.5px 639.0px,#2f9635 639.0px 639.6px,#2a4f2e 639.6px 642.1px,#2c5330 642.1px 643.1px,#2e9334 643.1px 645.6px,#2e9535 645.6px 646.6px,#2c5330 646.6px 648.1px,#2f5833 648.1px 650.6px,#2f5934 650.6px 651.6px,#2d8f33 651.6px 653.6px,#315c35 653.6px 655.6px,#2e5632 655.6px 658.1px,#2f5933 658.1px 659.1px,#2f9635 659.1px 659.7px,#315c35 659.7px 662.0px,#2b8b31 662.0px 663.0px,#2e9434 663.0px 664.0px,#2c8e33 664.0px 666.0px,#2c8d32 666.0px 668.0px,#2c8d32 668.0px 669.0px,#2b8b31 669.0px 670.0px,#2c8d32 670.0px 671.0px,#29842f 671.0px 672.5px,#29852f 672.5px 673.5px,#28812e 673.5px 675.0px,#2b8a31 675.0px 677.0px,#2b8931 677.0px 679.5px,#2c8e32 679.5px 680.5px,#2a8830 680.5px 683.0px,#2e9435 683.0px 685.5px,#2d9133 685.5px 686.5px,#2a862f 686.5px 689.0px,#2d9033 689.0px 690.5px,#29822e 690.5px 691.5px,#29842f 691.5px 692.1px,#2b8930 692.1px 693.6px,#2a8830 693.6px 694.6px,#2a862f 694.6px 695.6px,#2b8931 695.6px 696.6px,#2a8730 696.6px 697.2px,#2a8630 697.2px 698.2px,#2b8a31 698.2px 699.2px,#2e9435 699.2px 700.2px,#2b8b31 700.2px 702.7px,#2e9535 702.7px 703.7px,#2b8a31 703.7px 704.0px,#2ab130 704.0px 706.0px,#2ec335 706.0px 708.0px,#2b8b31 708.0px 708.6px,#2fc635 708.6px 710.1px,#29842f 710.1px 710.7px,#2fc535 710.7px 713.2px,#31ce37 713.2px 714.2px,#2ec034 714.2px 715.7px,#2cb831 715.7px 716.7px,#2d8f33 716.7px 718.7px,#2c8e33 718.7px 719.3px,#2d9033 719.3px 720.8px,#2c8e33 720.8px 721.4px,#2bb631 721.4px 722.9px,#2b8930 722.9px 723.9px,#2fc736 723.9px 726.4px,#2e9535 726.4px 727.0px,#2bb431 727.0px 728.5px,#2dbe33 728.5px 730.0px,#2ec034 730.0px 732.0px,#2fc535 732.0px 733.0px,#30ca36 733.0px 733.6px,#2c8c32 733.6px 734.2px,#2b8b31 734.2px 735.2px,#2c8c32 735.2px 736.2px,#2bb531 736.2px 738.7px,#2fc435 738.7px 739.3px,#2c8c32 739.3px 740.8px,#2bb430 740.8px 741.4px,#2cb932 741.4px 742.0px,#2c8c32 742.0px 743.0px,#2a8830 743.0px 744.0px,#28802e 744.0px 745.5px,#2d9033 745.5px 746.1px,#2f9635 746.1px 747.0px,#315c35 747.0px 748.0px,#2e9435 748.0px 750.0px,#2e5732 750.0px 752.0px,#305b35 752.0px 753.5px,#29852f 753.5px 755.0px,#2c522f 755.0px 756.5px,#2d9133 756.5px 757.0px,#29842f 757.0px 759.0px,#2f9635 759.0px 760.5px,#2a8830 760.5px 762.5px,#2d9234 762.5px 764.5px,#2b8931 764.5px 767.0px,#2d9134 767.0px 768.5px,#28812e 768.5px 770.0px,#29842f 770.0px 771.5px,#2d9033 771.5px 773.5px,#2e9434 773.5px 774.5px,#2c8e32 774.5px 776.5px,#29822e 776.5px 778.0px,#28812e 778.0px 780.5px,#2e9234 780.5px 782.5px,#2c8c32 782.5px 783.5px,#2e9435 783.5px 785.0px,#29852f 785.0px 786.0px,#2c8c32 786.0px 787.5px,#2e9334 787.5px 788.1px,#2e9334 788.1px 790.6px,#2f9535 790.6px 793.1px,#2f9635 793.1px 794.6px,#2e9434 794.6px 795.6px,#2b8b31 795.6px 796.6px,#2b8b31 796.6px 797.6px,#29842f 797.6px 799.1px,#2a8730 799.1px 800.1px,#28822e 800.1px 802.0px,#315c35 802.0px 803.0px,#29842f 803.0px 804.5px,#2b8b31 804.5px 805.1px,#2e9234 805.1px 807.6px,#2a502e 807.6px 808.2px,#29832e 808.2px 810.7px,#2a4f2e 810.7px 813.2px,#2c8f33 813.2px 815.7px,#2d9133 815.7px 816.3px,#2a4f2e 816.3px 818.3px,#2f5833 818.3px 819.0px,#2a852f 819.0px 821.5px,#2d9234 821.5px 822.0px,#353931 822.0px 823.5px,#33372f 823.5px 824.5px,#2f332c 824.5px 826.0px,#373b33 826.0px 827.0px,#353a31 827.0px 827.6px,#353a31 827.6px 829.1px,#32352e 829.1px 830.6px,#33372f 830.6px 831.2px,#373c33 831.2px 831.8px,#343830 831.8px 832.0px,#2f5933 832.0px 832.6px,#2f5934 832.6px 834.6px,#2a4f2e 834.6px 836.6px,#353931 836.6px 837.0px,#343830 837.0px 838.0px,#32352e 838.0px 839.0px,#373b32 839.0px 840.5px,#363a32 840.5px 841.5px,#343830 841.5px 842.5px,#373b33 842.5px 844.5px,#343830 844.5px 847.0px,#343830 847.0px 849.5px,#31352d 849.5px 850.5px,#353931 850.5px 853.0px,#363b32 853.0px 854.0px,#373b33 854.0px 855.0px,#343830 855.0px 856.0px,#373c33 856.0px 857.0px,#363a31 857.0px 859.5px,#363a32 859.5px 860.5px,#353931 860.5px 861.1px,#30332c 861.1px 862.6px,#363a32 862.6px 864.1px,#353931 864.1px 865.1px,#33372f 865.1px 866.1px,#31352d 866.1px 866.7px,#343830 866.7px 867.0px,#6c2a2c 867.0px 869.0px,#2d5531 869.0px 869.6px,#2b522f 869.6px 870.2px,#2c5230 870.2px 871.2px,#2d8f33 871.2px 872.7px,#2d5531 872.7px 873.7px,#29852f 873.7px 874.7px,#2d5431 874.7px 876.7px,#315b35 876.7px 879.2px,#2b8830 879.2px 880.2px,#2b512f 880.2px 881.2px,#2d8f33 881.2px 882.2px,#2c8c32 882.2px 883.7px,#2d5430 883.7px 885.7px,#2d5431 885.7px 886.3px,#2a4f2e 886.3px 887.0px,#363a32 887.0px 888.0px,#305b35 888.0px 889.5px,#2f5833 889.5px 890.5px,#315c35 890.5px 891.1px,#2a502e 891.1px 891.7px,#2d5531 891.7px 892.3px,#315b35 892.3px 893.3px,#32362e 893.3px 895.3px,#305934 895.3px 895.9px,#305b34 895.9px 898.4px,#30342c 898.4px 900.4px,#353931 900.4px 901.9px,#363a31 901.9px 902.0px,#2b8b31 902.0px 902.6px,#2c8e32 902.6px 904.1px,#29842f 904.1px 906.1px,#2f9535 906.1px 907.1px,#305a34 907.1px 907.7px,#2c8e33 907.7px 908.3px,#2e5732 908.3px 908.9px,#29842f 908.9px 909.9px,#28822e 909.9px 912.4px,#2d9033 912.4px 913.4px,#2c8d32 913.4px 915.4px,#2e9535 915.4px 916.4px,#2d5531 916.4px 917.9px,#2f9635 917.9px 918.9px,#2e9535 918.9px 919.5px,#315c35 919.5px 920.0px,#2dbe33 920.0px 922.5px,#2bb631 922.5px 924.5px,#31cc37 924.5px 925.5px,#2fc435 925.5px 926.5px,#2ec234 926.5px 927.5px,#2ec334 927.5px 928.1px,#2ec334 928.1px 929.1px,#2fc535 929.1px 931.1px,#30c936 931.1px 932.0px,#2fc535 932.0px 933.0px,#2ec335 933.0px 935.0px,#2dbc33 935.0px 937.0px,#28822e 937.0px 938.5px,#2d8f33 938.5px 940.5px,#2bb531 940.5px 941.5px,#2ab02f 941.5px 943.5px,#29842f 943.5px 945.0px,#2dbf33 945.0px 945.6px,#2b8b31 945.6px 946.2px,#2dbf33 946.2px 947.2px,#2e9234 947.2px 948.2px,#2cbb32 948.2px 949.2px,#2d9133 949.2px 949.8px,#30c936 949.8px 950.8px,#2d9033 950.8px 952.3px,#2e9234 952.3px 953.3px,#31cc37 953.3px 953.9px,#2b8b31 953.9px 956.4px,#31cc37 956.4px 957.0px,#31cd37 957.0px 959.0px,#2f9535 959.0px 959.5px)"></div>
<div style="position:absolute;left:903.3px;top:1313.0px;width:155.7px;height:959.5px;background:linear-gradient(#2a862f 0.0px 1.0px,#2c8c32 1.0px 1.6px,#2a852f 1.6px 2.6px,#2c8f33 2.6px 3.6px,#2a8730 3.6px 4.2px,#2c8e32 4.2px 5.2px,#2b8b31 5.2px 6.7px,#2b8b31 6.7px 7.0px,#2b8931 7.0px 7.6px,#2ec334 7.6px 8.6px,#29842f 8.6px 10.6px,#31cf38 10.6px 12.0px,#2e9334 12.0px 13.5px,#315c35 13.5px 15.0px,#2a4f2e 15.0px 15.6px,#315b35 15.6px 17.1px,#305b35 17.1px 18.1px,#2e5732 18.1px 19.1px,#2a502e 19.1px 21.6px,#2c8e32 21.6px 22.2px,#2a8730 22.2px 23.7px,#315c35 23.7px 24.7px,#2c5330 24.7px 25.3px,#2f5933 25.3px 26.3px,#2f9635 26.3px 27.3px,#2c8d32 27.3px 28.3px,#28822e 28.3px 29.3px,#305a34 29.3px 30.8px,#2a4f2e 30.8px 31.4px,#2c8c32 31.4px 32.4px,#2e9434 32.4px 33.0px,#2d9133 33.0px 35.0px,#29842f 35.0px 36.0px,#28822e 36.0px 38.0px,#2e9234 38.0px 38.6px,#2c8d32 38.6px 39.6px,#28812e 39.6px 41.1px,#2c8d32 41.1px 42.1px,#2c8c32 42.1px 44.6px,#29852f 44.6px 46.6px,#2a8730 46.6px 47.0px,#2a502e 47.0px 49.5px,#315b35 49.5px 50.5px,#2a502e 50.5px 52.5px,#305a34 52.5px 55.0px,#30342d 55.0px 57.0px,#31352d 57.0px 59.0px,#363b32 59.0px 60.0px,#2b512f 60.0px 61.0px,#383c33 61.0px 62.5px,#363b32 62.5px 63.5px,#373b32 63.5px 66.0px,#31352d 66.0px 67.0px,#363a32 67.0px 68.5px,#315c35 68.5px 70.0px,#2c8c32 70.0px 71.5px,#2e9435 71.5px 72.1px,#2d8f33 72.1px 74.1px,#2a8830 74.1px 75.6px,#2e9234 75.6px 76.6px,#29852f 76.6px 77.2px,#2c8f33 77.2px 78.7px,#2d5531 78.7px 80.7px,#305a34 80.7px 82.7px,#2a502e 82.7px 84.2px,#29832e 84.2px 85.7px,#29852f 85.7px 86.3px,#2a852f 86.3px 88.3px,#2f5934 88.3px 89.3px,#305b35 89.3px 90.3px,#28802e 90.3px 91.3px,#2e9334 91.3px 93.3px,#28812e 93.3px 93.9px,#2a8830 93.9px 94.9px,#29832f 94.9px 95.0px,#2c5330 95.0px 97.0px,#32362e 97.0px 98.0px,#2b522f 98.0px 99.0px,#2b502f 99.0px 100.0px,#32362e 100.0px 101.0px,#31352d 101.0px 103.0px,#2b502e 103.0px 103.6px,#383c33 103.6px 104.6px,#315c35 104.6px 106.6px,#305b35 106.6px 108.6px,#363a32 108.6px 111.1px,#2f5833 111.1px 113.6px,#2f5934 113.6px 116.1px,#2a502e 116.1px 117.0px,#2e9334 117.0px 119.0px,#2c522f 119.0px 120.5px,#2f5933 120.5px 121.5px,#2f5933 121.5px 123.0px,#2d5531 123.0px 124.5px,#2f5934 124.5px 125.1px,#2d5431 125.1px 126.1px,#2e5632 126.1px 128.1px,#363a32 128.1px 130.1px,#2c5230 130.1px 131.6px,#373b33 131.6px 133.6px,#2c5430 133.6px 135.6px,#2b502f 135.6px 137.6px,#2c5430 137.6px 140.1px,#2e5632 140.1px 141.6px,#2d5430 141.6px 143.1px,#315c35 143.1px 144.1px,#2b512f 144.1px 144.7px,#30332c 144.7px 145.7px,#2f5833 145.7px 146.7px,#315c35 146.7px 147.0px,#33372f 147.0px 147.6px,#732d2f 147.6px 149.1px,#33372f 149.1px 151.6px,#32362e 151.6px 152.6px,#6d2a2c 152.6px 154.1px,#722c2e 154.1px 156.1px,#702b2d 156.1px 157.1px,#642728 157.1px 157.7px,#652729 157.7px 158.3px,#30342c 158.3px 158.9px,#32362e 158.9px 160.9px,#6a292b 160.9px 161.5px,#30342c 161.5px 162.5px,#6b292b 162.5px 163.5px,#32352e 163.5px 165.5px,#31352d 165.5px 167.5px,#642729 167.5px 168.5px,#363a31 168.5px 169.0px,#2a4f2e 169.0px 169.6px,#31352e 169.6px 170.6px,#30342c 170.6px 173.1px,#2d5431 173.1px 174.1px,#2a4f2e 174.1px 176.6px,#373b33 176.6px 177.0px,#2c8d32 177.0px 178.0px,#2f9635 178.0px 179.0px,#2c8e32 179.0px 179.6px,#2e5732 179.6px 181.1px,#2c5230 181.1px 183.6px,#2b8931 183.6px 185.1px,#2e5733 185.1px 187.1px,#315c35 187.1px 188.1px,#2c8e33 188.1px 188.7px,#2a8630 188.7px 191.2px,#29852f 191.2px 193.7px,#29842f 193.7px 194.3px,#2f5833 194.3px 195.8px,#2e9434 195.8px 196.8px,#2e5732 196.8px 197.8px,#2d9033 197.8px 200.3px,#2d5431 200.3px 200.9px,#2d9033 200.9px 201.9px,#2c8c32 201.9px 204.4px,#2a8630 204.4px 205.4px,#305a34 205.4px 206.4px,#29832e 206.4px 207.4px,#2f9635 207.4px 209.4px,#2f5933 209.4px 211.4px,#2a4f2e 211.4px 212.4px,#305a34 212.4px 214.4px,#2a8830 214.4px 215.9px,#2c8c32 215.9px 217.4px,#2f9635 217.4px 218.0px,#2b502f 218.0px 220.5px,#2a862f 220.5px 221.5px,#2d8f33 221.5px 224.0px,#2c5330 224.0px 226.0px,#2a8830 226.0px 228.5px,#2f5934 228.5px 229.1px,#2d5431 229.1px 231.6px,#2d5531 231.6px 233.6px,#2b8a31 233.6px 234.2px,#2d5531 234.2px 236.7px,#2b522f 236.7px 237.0px,#2e9435 237.0px 239.5px,#2b8a31 239.5px 241.0px,#2c5330 241.0px 241.6px,#2e5733 241.6px 242.6px,#2d8f33 242.6px 243.6px,#2c5330 243.6px 246.1px,#2f5933 246.1px 247.0px,#2f9635 247.0px 248.5px,#2c8c32 248.5px 250.5px,#2e9234 250.5px 253.0px,#2d9033 253.0px 255.0px,#2e9334 255.0px 255.6px,#29842f 255.6px 256.6px,#2f9535 256.6px 257.2px,#2e9334 257.2px 259.7px,#29842f 259.7px 260.0px,#31342d 260.0px 261.0px,#383c33 261.0px 262.0px,#353930 262.0px 263.0px,#315c35 263.0px 264.0px,#373b33 264.0px 265.5px,#2e5632 265.5px 266.1px,#33372f 266.1px 267.6px,#373b33 267.6px 269.1px,#315b35 269.1px 269.7px,#30342c 269.7px 270.3px,#373c33 270.3px 271.3px,#2f5833 271.3px 272.3px,#2d5531 272.3px 272.9px,#2b512f 272.9px 273.9px,#2b512f 273.9px 274.9px,#2d5431 274.9px 275.9px,#30342d 275.9px 277.4px,#2f5933 277.4px 278.4px,#2d5531 278.4px 279.0px,#c82728 279.0px 281.5px,#db2a2c 281.5px 283.0px,#d5292b 283.0px 285.5px,#d5292b 285.5px 287.5px,#d3292b 287.5px 288.5px,#d6292b 288.5px 290.5px,#dd2b2d 290.5px 291.1px,#d4292b 291.1px 292.1px,#cf282a 292.1px 292.7px,#da2a2c 292.7px 294.2px,#e62d2f 294.2px 295.7px,#e42c2e 295.7px 298.2px,#df2b2d 298.2px 299.2px,#df2b2d 299.2px 301.2px,#d72a2c 301.2px 303.2px,#e22c2e 303.2px 305.7px,#e22c2e 305.7px 308.2px,#cc2829 308.2px 310.0px,#b32d30 310.0px 312.0px,#9f282a 312.0px 313.0px,#ab2b2d 313.0px 315.0px,#722c2e 315.0px 316.5px,#ac2c2e 316.5px 317.5px,#6b292b 317.5px 318.5px,#6b292b 318.5px 320.0px,#69282a 320.0px 321.5px,#662729 321.5px 322.1px,#b62e30 322.1px 324.6px,#ac2c2e 324.6px 326.1px,#9f282a 326.1px 327.1px,#712c2e 327.1px 328.6px,#702b2d 328.6px 329.6px,#af2c2e 329.6px 332.1px,#6d2a2c 332.1px 334.1px,#69292b 334.1px 335.6px,#632628 335.6px 337.0px,#b92f31 337.0px 339.0px,#ab2b2d 339.0px 339.6px,#b02d2f 339.6px 341.6px,#b32d2f 341.6px 343.6px,#b22d2f 343.6px 344.2px,#6e2b2d 344.2px 346.2px,#a92b2d 346.2px 347.2px,#722c2e 347.2px 349.7px,#6c2a2c 349.7px 351.2px,#642729 351.2px 352.2px,#6c2a2c 352.2px 353.2px,#ad2c2e 353.2px 355.2px,#712c2e 355.2px 356.2px,#722c2e 356.2px 357.0px,#df2b2d 357.0px 358.5px,#e72d2f 358.5px 360.0px,#b72e31 360.0px 362.0px,#d3292b 362.0px 363.0px,#a0292b 363.0px 365.5px,#cf282a 365.5px 367.5px,#d82a2c 367.5px 370.0px,#d5292b 370.0px 371.0px,#b02d2f 371.0px 372.0px,#d4292b 372.0px 373.0px,#c62628 373.0px 375.5px,#b62e30 375.5px 377.5px,#ac2c2e 377.5px 378.1px,#db2a2c 378.1px 380.6px,#c82729 380.6px 381.6px,#e62d2f 381.6px 383.6px,#b32d30 383.6px 384.6px,#d92a2c 384.6px 385.0px,#6e2a2c 385.0px 387.0px,#642728 387.0px 387.6px,#a42a2c 387.6px 388.2px,#6b292b 388.2px 390.2px,#662829 390.2px 391.7px,#6e2a2c 391.7px 392.7px,#6b292b 392.7px 393.7px,#6d2a2c 393.7px 396.2px,#a62a2c 396.2px 397.2px,#a0282a 397.2px 399.7px,#67282a 399.7px 401.7px,#b32d2f 401.7px 403.2px,#6a292b 403.2px 404.2px,#67282a 404.2px 405.2px,#b52e30 405.2px 406.2px,#6b292b 406.2px 407.2px,#69282a 407.2px 408.7px,#6d2a2c 408.7px 409.3px,#652729 409.3px 411.8px,#a1292b 411.8px 412.0px,#b52e30 412.0px 413.0px,#a3292b 413.0px 414.5px,#b52e30 414.5px 417.0px,#b82f31 417.0px 418.0px,#af2c2e 418.0px 418.6px,#a0282a 418.6px 419.6px,#a1292b 419.6px 420.6px,#ae2c2e 420.6px 422.6px,#b52e30 422.6px 424.1px,#b82f31 424.1px 424.7px,#b02d2f 424.7px 425.3px,#ae2c2e 425.3px 426.3px,#ab2b2d 426.3px 427.0px,#33372f 427.0px 428.5px,#30332c 428.5px 431.0px,#6a292b 431.0px 432.0px,#6f2b2d 432.0px 434.5px,#712c2e 434.5px 435.5px,#343830 435.5px 436.5px,#68282a 436.5px 437.5px,#6a292b 437.5px 439.5px,#363a31 439.5px 440.1px,#69282a 440.1px 442.6px,#32362e 442.6px 444.1px,#30342d 444.1px 445.6px,#67282a 445.6px 447.6px,#363a31 447.6px 448.6px,#6b292b 448.6px 451.1px,#69292b 451.1px 452.6px,#2f332c 452.6px 453.6px,#32362f 453.6px 454.2px,#343930 454.2px 456.7px,#31352d 456.7px 457.7px,#68282a 457.7px 459.7px,#373b33 459.7px 462.0px,#2d5531 462.0px 464.5px,#2e5732 464.5px 467.0px,#68282a 467.0px 468.0px,#68282a 468.0px 468.6px,#6e2b2d 468.6px 469.6px,#353931 469.6px 470.6px,#353a31 470.6px 471.2px,#6c2a2c 471.2px 472.2px,#363a32 472.2px 473.7px,#702b2d 473.7px 475.2px,#69282a 475.2px 476.7px,#652729 476.7px 478.7px,#642728 478.7px 481.2px,#632628 481.2px 483.2px,#373b33 483.2px 484.0px,#31352d 484.0px 485.5px,#343830 485.5px 487.0px,#6c2a2c 487.0px 489.0px,#6c2a2c 489.0px 489.6px,#632628 489.6px 490.6px,#363a32 490.6px 492.1px,#632628 492.1px 493.1px,#6d2a2c 493.1px 495.6px,#68282a 495.6px 496.6px,#32362e 496.6px 497.0px,#2c5330 497.0px 497.6px,#2a4f2e 497.6px 499.0px,#363a32 499.0px 499.6px,#353931 499.6px 500.6px,#363a32 500.6px 501.6px,#343830 501.6px 502.6px,#32352e 502.6px 503.2px,#32362e 503.2px 505.2px,#363b32 505.2px 506.2px,#343830 506.2px 507.0px,#2e5632 507.0px 507.6px,#2d5531 507.6px 508.2px,#2d5431 508.2px 510.2px,#2f5833 510.2px 511.7px,#2e5732 511.7px 512.0px,#363a32 512.0px 514.0px,#6e2b2d 514.0px 515.5px,#702b2d 515.5px 516.5px,#732c2f 516.5px 519.0px,#363a31 519.0px 521.5px,#31342d 521.5px 522.1px,#732c2f 522.1px 522.7px,#6f2b2d 522.7px 523.7px,#722c2e 523.7px 526.2px,#722c2e 526.2px 527.2px,#732d2f 527.2px 529.0px,#363a31 529.0px 529.6px,#373b32 529.6px 531.6px,#30342c 531.6px 534.1px,#373b33 534.1px 536.1px,#31352d 536.1px 537.0px,#343830 537.0px 537.6px,#353931 537.6px 538.2px,#363b32 538.2px 538.8px,#652729 538.8px 539.8px,#343830 539.8px 542.3px,#712c2e 542.3px 543.3px,#6c2a2c 543.3px 544.8px,#31352d 544.8px 546.3px,#6d2a2c 546.3px 546.9px,#652729 546.9px 547.5px,#32362e 547.5px 550.0px,#6b292b 550.0px 551.0px,#652729 551.0px 552.0px,#6d2a2c 552.0px 554.0px,#702b2d 554.0px 555.5px,#722c2e 555.5px 558.0px,#67282a 558.0px 559.0px,#33372f 559.0px 559.6px,#30342c 559.6px 561.1px,#742d2f 561.1px 563.6px,#30342c 563.6px 564.2px,#6d2a2c 564.2px 565.2px,#353931 565.2px 566.2px,#6e2b2d 566.2px 568.7px,#702b2d 568.7px 569.3px,#363a32 569.3px 570.3px,#363b32 570.3px 571.8px,#732c2e 571.8px 572.8px,#722c2e 572.8px 574.3px,#6f2b2d 574.3px 576.3px,#31352d 576.3px 577.0px,#30342c 577.0px 578.5px,#353931 578.5px 580.0px,#68282a 580.0px 582.5px,#702b2d 582.5px 584.0px,#702b2d 584.0px 584.6px,#722c2e 584.6px 585.6px,#6f2b2d 585.6px 587.1px,#6f2b2d 587.1px 589.1px,#632628 589.1px 591.1px,#6b292b 591.1px 592.1px,#632628 592.1px 592.7px,#702b2d 592.7px 594.2px,#732c2e 594.2px 595.2px,#712c2e 595.2px 595.8px,#68282a 595.8px 596.4px,#69282a 596.4px 597.0px,#2e5732 597.0px 598.0px,#2e5732 598.0px 599.0px,#722c2e 599.0px 600.0px,#6f2b2d 600.0px 600.6px,#33372f 600.6px 603.1px,#363b32 603.1px 604.1px,#732c2f 604.1px 604.7px,#67282a 604.7px 607.2px,#353931 607.2px 607.8px,#6d2a2c 607.8px 610.3px,#33372f 610.3px 610.9px,#30332c 610.9px 611.9px,#722c2e 611.9px 612.9px,#712c2e 612.9px 614.4px,#732c2e 614.4px 615.0px,#652729 615.0px 617.5px,#353a31 617.5px 619.0px,#712c2e 619.0px 620.0px,#373b32 620.0px 622.5px,#702b2d 622.5px 623.5px,#32362e 623.5px 624.1px,#363a32 624.1px 625.1px,#662729 625.1px 626.1px,#6e2a2c 626.1px 627.1px,#363a31 627.1px 629.6px,#343830 629.6px 630.2px,#702b2d 630.2px 631.2px,#702b2d 631.2px 631.8px,#722c2e 631.8px 633.3px,#353931 633.3px 634.3px,#6c2a2c 634.3px 635.3px,#6c2a2c 635.3px 637.8px,#712c2e 637.8px 640.3px,#652729 640.3px 642.3px,#6b292b 642.3px 644.3px,#343830 644.3px 646.3px,#69292a 646.3px 648.3px,#662729 648.3px 649.3px,#30342d 649.3px 651.3px,#642729 651.3px 653.8px,#32362e 653.8px 654.0px,#2a4f2e 654.0px 654.6px,#2d5430 654.6px 655.6px,#2c5330 655.6px 657.1px,#2b502f 657.1px 658.1px,#2e5632 658.1px 659.0px,#33372f 659.0px 660.0px,#32362e 660.0px 662.5px,#30332c 662.5px 664.0px,#31352d 664.0px 665.0px,#732d2f 665.0px 666.0px,#6c2a2c 666.0px 667.0px,#343830 667.0px 669.5px,#632628 669.5px 671.0px,#363a32 671.0px 672.0px,#33362f 672.0px 672.6px,#31352d 672.6px 674.1px,#31352d 674.1px 676.1px,#642728 676.1px 677.1px,#31342d 677.1px 677.7px,#32362e 677.7px 678.3px,#33372f 678.3px 679.3px,#702b2e 679.3px 680.3px,#6d2a2c 680.3px 681.0px,#2d5531 681.0px 683.0px,#343830 683.0px 685.0px,#6b292b 685.0px 686.0px,#353930 686.0px 688.5px,#732d2f 688.5px 690.0px,#712c2e 690.0px 692.0px,#32362e 692.0px 693.0px,#30332c 693.0px 693.6px,#31352d 693.6px 696.1px,#662729 696.1px 698.6px,#69282a 698.6px 699.6px,#6f2b2d 699.6px 700.6px,#662829 700.6px 702.0px,#2b512f 702.0px 703.0px,#2f5833 703.0px 704.0px,#33372f 704.0px 705.5px,#363a32 705.5px 706.1px,#353931 706.1px 707.1px,#632628 707.1px 708.6px,#33372f 708.6px 709.6px,#31352d 709.6px 712.1px,#373b33 712.1px 713.1px,#722c2e 713.1px 714.1px,#6d2a2c 714.1px 715.6px,#702b2d 715.6px 716.6px,#353931 716.6px 718.1px,#69292b 718.1px 719.1px,#6c2a2c 719.1px 720.6px,#30342c 720.6px 721.2px,#31352d 721.2px 722.2px,#642628 722.2px 724.2px,#6c2a2c 724.2px 726.2px,#30342c 726.2px 727.0px,#aa2b2d 727.0px 729.5px,#6a292b 729.5px 730.1px,#a52a2c 730.1px 732.1px,#a1292b 732.1px 734.6px,#a62a2c 734.6px 735.2px,#a3292b 735.2px 736.2px,#a4292b 736.2px 737.0px,#702b2d 737.0px 739.5px,#6b292b 739.5px 740.1px,#6b292b 740.1px 740.7px,#742d2f 740.7px 741.7px,#742d2f 741.7px 744.2px,#373c33 744.2px 745.7px,#363a32 745.7px 746.7px,#383c33 746.7px 748.2px,#363b32 748.2px 750.0px,#305934 750.0px 751.5px,#2f5833 751.5px 753.0px,#2f5833 753.0px 753.6px,#2b502f 753.6px 754.6px,#2b512f 754.6px 755.6px,#2a4f2e 755.6px 757.6px,#305a34 757.6px 760.1px,#305a34 760.1px 761.1px,#2d5431 761.1px 762.1px,#315c35 762.1px 763.1px,#2d5531 763.1px 765.0px,#30342d 765.0px 767.0px,#2d5531 767.0px 768.5px,#30342c 768.5px 770.5px,#315c35 770.5px 772.5px,#363a32 772.5px 775.0px,#363b32 775.0px 776.0px,#2b512f 776.0px 778.5px,#315c35 778.5px 781.0px,#373c33 781.0px 782.0px,#2d9033 782.0px 783.0px,#2d5431 783.0px 785.0px,#2b522f 785.0px 786.5px,#2b512f 786.5px 787.5px,#2c8d32 787.5px 788.5px,#315b35 788.5px 790.0px,#2a502e 790.0px 792.0px,#2f5933 792.0px 793.0px,#2c5330 793.0px 793.6px,#2d5431 793.6px 794.6px,#2f5833 794.6px 796.1px,#2f5934 796.1px 797.0px,#68282a 797.0px 798.0px,#a0292a 798.0px 799.0px,#a0282a 799.0px 801.5px,#632628 801.5px 803.5px,#a72a2c 803.5px 804.5px,#af2c2e 804.5px 805.5px,#b12d2f 805.5px 808.0px,#632628 808.0px 809.5px,#af2d2f 809.5px 810.1px,#652729 810.1px 810.7px,#68282a 810.7px 813.2px,#a82b2d 813.2px 815.7px,#af2c2e 815.7px 818.2px,#6f2b2d 818.2px 818.8px,#702b2d 818.8px 819.8px,#b22d2f 819.8px 822.3px,#6f2b2d 822.3px 822.9px,#6b292b 822.9px 823.9px,#9f282a 823.9px 824.5px,#a4292b 824.5px 826.5px,#9e282a 826.5px 827.5px,#a52a2c 827.5px 828.5px,#b62e30 828.5px 829.1px,#652729 829.1px 830.1px,#ac2c2e 830.1px 830.7px,#a72a2c 830.7px 831.7px,#702b2d 831.7px 833.2px,#b62e30 833.2px 835.7px,#732d2f 835.7px 836.3px,#a2292b 836.3px 837.0px,#722c2e 837.0px 838.0px,#6c2a2c 838.0px 839.0px,#642728 839.0px 840.5px,#722c2e 840.5px 842.0px,#662729 842.0px 843.0px,#b72e30 843.0px 845.5px,#732d2f 845.5px 848.0px,#b52e30 848.0px 849.0px,#b12d2f 849.0px 851.5px,#6b292b 851.5px 852.1px,#b12d2f 852.1px 853.1px,#702b2d 853.1px 855.6px,#ae2c2e 855.6px 856.6px,#69292b 856.6px 857.2px,#742d2f 857.2px 858.7px,#b02d2f 858.7px 859.7px,#ad2c2e 859.7px 860.3px,#b52e30 860.3px 862.8px,#a3292b 862.8px 864.8px,#ab2b2d 864.8px 867.3px,#b32d2f 867.3px 868.3px,#b52e30 868.3px 869.3px,#a3292b 869.3px 870.3px,#9e282a 870.3px 871.3px,#9e282a 871.3px 872.8px,#6b292b 872.8px 874.8px,#b82f31 874.8px 875.8px,#722c2e 875.8px 877.3px,#a3292b 877.3px 879.8px,#b22d2f 879.8px 880.8px,#a2292b 880.8px 881.8px,#6a292b 881.8px 884.3px,#aa2b2d 884.3px 885.8px,#b32e30 885.8px 888.3px,#a92b2d 888.3px 888.9px,#b12d2f 888.9px 889.9px,#b62e30 889.9px 890.0px,#662729 890.0px 891.0px,#662729 891.0px 892.5px,#6b292b 892.5px 893.1px,#6c2a2c 893.1px 893.7px,#6e2a2d 893.7px 896.2px,#6d2a2c 896.2px 898.7px,#6f2b2d 898.7px 899.7px,#6b292b 899.7px 901.2px,#6b292b 901.2px 902.0px,#32352e 902.0px 903.5px,#33372f 903.5px 904.0px,#a42a2c 904.0px 906.5px,#ab2b2d 906.5px 908.5px,#a0282a 908.5px 911.0px,#a52a2c 911.0px 912.0px,#9e282a 912.0px 913.0px,#ac2c2e 913.0px 914.0px,#b22d2f 914.0px 914.6px,#a1292b 914.6px 915.2px,#a82b2d 915.2px 916.7px,#b72e31 916.7px 917.3px,#a62a2c 917.3px 918.8px,#a1292b 918.8px 919.0px,#363a32 919.0px 920.5px,#30342c 920.5px 923.0px,#2f5833 923.0px 924.0px,#30342c 924.0px 926.0px,#363a32 926.0px 927.5px,#343830 927.5px 929.5px,#353931 929.5px 931.0px,#32362e 931.0px 933.5px,#30342d 933.5px 934.5px,#2d5531 934.5px 935.0px,#702b2d 935.0px 935.6px,#363a32 935.6px 937.1px,#722c2e 937.1px 938.1px,#363a32 938.1px 940.1px,#68282a 940.1px 941.1px,#722c2e 941.1px 942.1px,#68282a 942.1px 943.1px,#632628 943.1px 945.1px,#702b2d 945.1px 947.6px,#632628 947.6px 949.1px,#642728 949.1px 950.6px,#343830 950.6px 952.6px,#32362e 952.6px 953.2px,#68282a 953.2px 954.2px,#6c2a2c 954.2px 956.2px,#69282a 956.2px 957.2px,#6b292b 957.2px 958.2px,#67282a 958.2px 959.5px)"></div>
<div style="position:absolute;left:1059.0px;top:1313.0px;width:155.7px;height:959.5px;background:linear-gradient(#32362e 0.0px 2.5px,#31352d 2.5px 4.5px,#31352d 4.5px 5.5px,#373b33 5.5px 6.1px,#343830 6.1px 7.1px,#2f332c 7.1px 8.1px,#363a32 8.1px 10.1px,#30332c 10.1px 11.6px,#353931 11.6px 12.0px,#305934 12.0px 14.5px,#315c35 14.5px 15.5px,#2b512f 15.5px 16.1px,#2f5833 16.1px 16.7px,#2e5632 16.7px 17.7px,#2b512f 17.7px 18.7px,#2c5330 18.7px 19.7px,#305934 19.7px 20.7px,#2b512f 20.7px 22.0px,#363a31 22.0px 23.5px,#343830 23.5px 25.0px,#2a8830 25.0px 26.5px,#2b8b31 26.5px 27.5px,#29852f 27.5px 30.0px,#2e9434 30.0px 31.0px,#2d5431 31.0px 32.5px,#2e5732 32.5px 34.0px,#315b35 34.0px 36.5px,#2a4f2e 36.5px 38.0px,#2f5833 38.0px 39.5px,#2d5431 39.5px 40.5px,#2f5833 40.5px 42.0px,#2f9635 42.0px 44.0px,#2b8931 44.0px 45.0px,#2b8830 45.0px 45.6px,#2a8730 45.6px 47.1px,#2b8931 47.1px 48.6px,#2f9535 48.6px 49.2px,#2f9635 49.2px 50.0px,#2ec134 50.0px 52.0px,#31cd37 52.0px 54.0px,#30c936 54.0px 55.5px,#30cb37 55.5px 57.0px,#2fc836 57.0px 57.6px,#2ec234 57.6px 60.1px,#2fc635 60.1px 62.6px,#2cb832 62.6px 63.2px,#2ab02f 63.2px 64.0px,#2a8830 64.0px 66.5px,#2e9434 66.5px 69.0px,#2e9234 69.0px 70.0px,#2d9033 70.0px 71.0px,#2c8d32 71.0px 72.0px,#2d9133 72.0px 74.5px,#2f5933 74.5px 77.0px,#2c8f33 77.0px 78.5px,#2a8830 78.5px 80.5px,#2b8a31 80.5px 83.0px,#28812e 83.0px 85.0px,#2e9234 85.0px 86.0px,#29852f 86.0px 88.0px,#2c8c32 88.0px 89.0px,#2d8f33 89.0px 91.5px,#2e9334 91.5px 92.0px,#2d9033 92.0px 94.5px,#2ab330 94.5px 95.1px,#30cc37 95.1px 97.1px,#2b8a31 97.1px 98.6px,#2dbf33 98.6px 100.1px,#2ec034 100.1px 101.1px,#2bb531 101.1px 103.6px,#29832e 103.6px 104.6px,#2cb831 104.6px 105.6px,#28812e 105.6px 107.6px,#2a862f 107.6px 109.1px,#28802e 109.1px 110.1px,#2ab230 110.1px 112.6px,#30c836 112.6px 114.1px,#2dbc33 114.1px 115.6px,#2bb531 115.6px 117.0px,#2d8f33 117.0px 119.5px,#2c8e32 119.5px 122.0px,#28822e 122.0px 123.5px,#2f9635 123.5px 125.5px,#2c8d32 125.5px 127.0px,#30cc37 127.0px 128.0px,#2fc535 128.0px 130.0px,#2d9234 130.0px 131.0px,#2a8830 131.0px 132.0px,#29842f 132.0px 132.6px,#2c8d32 132.6px 134.1px,#2c8c32 134.1px 136.6px,#2c8c32 136.6px 138.1px,#2a8630 138.1px 139.6px,#2f9635 139.6px 141.6px,#29832e 141.6px 142.2px,#2e9334 142.2px 143.2px,#28812e 143.2px 143.8px,#2c8c32 143.8px 144.0px,#363a32 144.0px 145.0px,#30342c 145.0px 147.0px,#305a34 147.0px 148.0px,#2e5632 148.0px 148.6px,#2d5531 148.6px 149.0px,#662729 149.0px 150.0px,#32352e 150.0px 151.0px,#6b292b 151.0px 151.6px,#31352d 151.6px 152.6px,#2f332c 152.6px 153.6px,#6e2b2d 153.6px 154.6px,#6a292b 154.6px 157.0px,#2c5230 157.0px 159.0px,#2e5632 159.0px 161.5px,#2f9635 161.5px 164.0px,#2e5632 164.0px 166.0px,#28812e 166.0px 166.6px,#2d5431 166.6px 168.6px,#305a34 168.6px 170.1px,#2b512f 170.1px 171.6px,#28812e 171.6px 173.1px,#2b8931 173.1px 175.1px,#2f9635 175.1px 176.6px,#305a34 176.6px 177.2px,#2f5833 177.2px 178.2px,#2f9635 178.2px 179.2px,#2f5733 179.2px 181.2px,#2e5632 181.2px 183.7px,#305b34 183.7px 184.7px,#305a34 184.7px 185.7px,#305a34 185.7px 187.7px,#2e9435 187.7px 188.3px,#2e9535 188.3px 188.9px,#2b502e 188.9px 189.5px,#305a34 189.5px 190.5px,#2e9234 190.5px 193.0px,#2d9234 193.0px 194.5px,#2b8a31 194.5px 197.0px,#2c8e32 197.0px 198.5px,#2e5632 198.5px 201.0px,#315c35 201.0px 203.0px,#28812e 203.0px 204.0px,#2d5531 204.0px 206.0px,#2a8630 206.0px 208.5px,#2f9635 208.5px 210.5px,#28812e 210.5px 213.0px,#2c8d32 213.0px 213.6px,#2c5230 213.6px 215.6px,#29852f 215.6px 216.6px,#2c8e33 216.6px 219.1px,#315c35 219.1px 220.6px,#2f5833 220.6px 222.1px,#29842f 222.1px 222.7px,#2e9334 222.7px 223.7px,#305a34 223.7px 224.3px,#2a502e 224.3px 225.8px,#2b8a31 225.8px 227.3px,#2c5330 227.3px 229.8px,#2c8e32 229.8px 232.0px,#363a32 232.0px 234.0px,#32362f 234.0px 236.5px,#353931 236.5px 237.0px,#2f9535 237.0px 238.0px,#2e9435 238.0px 238.6px,#2b8b31 238.6px 241.1px,#29852f 241.1px 242.0px,#31352d 242.0px 242.6px,#2e5732 242.6px 244.1px,#2f5933 244.1px 245.6px,#373b33 245.6px 246.6px,#353931 246.6px 247.6px,#343830 247.6px 249.6px,#30332c 249.6px 250.2px,#305a34 250.2px 250.8px,#2e5732 250.8px 251.8px,#31352d 251.8px 254.3px,#2b512f 254.3px 255.8px,#373b33 255.8px 256.8px,#305a34 256.8px 258.3px,#33372f 258.3px 259.0px,#2e9334 259.0px 261.0px,#28822e 261.0px 262.0px,#29822e 262.0px 264.5px,#2d8f33 264.5px 265.0px,#373b33 265.0px 266.5px,#383c33 266.5px 267.1px,#305a34 267.1px 267.7px,#2b512f 267.7px 269.7px,#33372f 269.7px 271.7px,#2a4f2e 271.7px 272.7px,#315c35 272.7px 274.7px,#2c5330 274.7px 275.7px,#31342d 275.7px 276.3px,#353931 276.3px 277.3px,#33372f 277.3px 278.3px,#2d5531 278.3px 279.0px,#6a292b 279.0px 280.0px,#a42a2c 280.0px 280.6px,#642728 280.6px 281.6px,#712c2e 281.6px 282.6px,#ab2b2d 282.6px 283.6px,#712c2e 283.6px 285.6px,#a52a2c 285.6px 287.1px,#6b292b 287.1px 287.7px,#b52e30 287.7px 288.7px,#67282a 288.7px 289.7px,#642729 289.7px 290.3px,#6c2a2c 290.3px 291.8px,#ab2b2d 291.8px 292.0px,#33372f 292.0px 293.0px,#353a31 293.0px 295.0px,#9f282a 295.0px 296.5px,#b72f31 296.5px 297.5px,#af2c2f 297.5px 298.5px,#a82b2d 298.5px 299.1px,#b22d2f 299.1px 301.1px,#b52e30 301.1px 302.0px,#363a32 302.0px 303.0px,#662729 303.0px 304.0px,#373b32 304.0px 305.5px,#373c33 305.5px 306.1px,#6f2b2d 306.1px 307.6px,#6d2a2c 307.6px 310.1px,#343830 310.1px 312.0px,#b12d2f 312.0px 313.0px,#ab2b2d 313.0px 314.0px,#9f282a 314.0px 314.6px,#6e2b2d 314.6px 316.6px,#a62a2c 316.6px 317.6px,#b52e30 317.6px 318.6px,#b82f31 318.6px 320.6px,#a42a2c 320.6px 321.6px,#6a292b 321.6px 324.1px,#6d2a2c 324.1px 326.1px,#722c2e 326.1px 327.0px,#305b35 327.0px 327.6px,#305a34 327.6px 328.6px,#2f5934 328.6px 330.0px,#343830 330.0px 331.0px,#632628 331.0px 333.5px,#30342c 333.5px 335.5px,#702b2d 335.5px 338.0px,#732c2f 338.0px 340.0px,#68282a 340.0px 342.0px,#32362f 342.0px 342.6px,#363b32 342.6px 343.2px,#6c2a2c 343.2px 344.7px,#30342d 344.7px 346.7px,#353931 346.7px 347.3px,#6e2a2c 347.3px 348.8px,#373b32 348.8px 351.3px,#6e2b2d 351.3px 352.8px,#68282a 352.8px 354.8px,#343830 354.8px 356.8px,#353931 356.8px 357.0px,#315c35 357.0px 358.0px,#2c5230 358.0px 360.5px,#305b35 360.5px 361.0px,#33372f 361.0px 361.6px,#31352e 361.6px 362.2px,#363a32 362.2px 363.2px,#32362e 363.2px 364.2px,#353a31 364.2px 365.2px,#373c33 365.2px 365.8px,#702b2d 365.8px 366.8px,#652729 366.8px 368.3px,#722c2e 368.3px 370.8px,#31352d 370.8px 372.3px,#31342d 372.3px 373.8px,#32352e 373.8px 374.4px,#68282a 374.4px 375.9px,#69292b 375.9px 378.4px,#722c2e 378.4px 379.4px,#732c2e 379.4px 380.9px,#6d2a2c 380.9px 381.5px,#69282a 381.5px 382.5px,#30342d 382.5px 384.5px,#343830 384.5px 387.0px,#662729 387.0px 389.0px,#69282a 389.0px 389.6px,#6e2a2d 389.6px 390.6px,#632628 390.6px 392.1px,#6e2a2c 392.1px 392.7px,#6c2a2c 392.7px 393.3px,#672829 393.3px 394.3px,#702b2d 394.3px 395.8px,#67282a 395.8px 397.0px,#2c5330 397.0px 398.5px,#30342c 398.5px 401.0px,#2b522f 401.0px 403.0px,#353930 403.0px 404.5px,#315c35 404.5px 405.5px,#2a4f2e 405.5px 407.0px,#2b512f 407.0px 408.0px,#32362e 408.0px 410.0px,#a62a2c 410.0px 412.5px,#a3292b 412.5px 414.0px,#b52e30 414.0px 414.6px,#b62e30 414.6px 415.6px,#b82f31 415.6px 416.6px,#ac2c2e 416.6px 417.6px,#a0292a 417.6px 419.6px,#ab2b2d 419.6px 421.1px,#a52a2c 421.1px 423.1px,#a52a2c 423.1px 424.6px,#a52a2c 424.6px 425.6px,#a82b2d 425.6px 426.6px,#a52a2c 426.6px 427.0px,#722c2e 427.0px 429.0px,#732c2e 429.0px 430.0px,#722c2e 430.0px 431.0px,#69282a 431.0px 432.0px,#c92729 432.0px 434.5px,#cf282a 434.5px 436.5px,#d2292b 436.5px 437.1px,#c52628 437.1px 438.1px,#cb2729 438.1px 440.1px,#e12b2e 440.1px 442.1px,#d72a2c 442.1px 443.1px,#e42c2e 443.1px 444.1px,#d1282a 444.1px 444.7px,#d82a2c 444.7px 447.2px,#e12c2e 447.2px 448.7px,#ca2729 448.7px 449.7px,#c92729 449.7px 450.7px,#ce282a 450.7px 453.2px,#d82a2c 453.2px 454.7px,#c82729 454.7px 456.7px,#dc2b2d 456.7px 457.3px,#d0282a 457.3px 459.3px,#d6292b 459.3px 459.9px,#c82728 459.9px 460.5px,#e42c2e 460.5px 461.5px,#dd2b2d 461.5px 462.5px,#d3292b 462.5px 463.5px,#d5292b 463.5px 466.0px,#ce282a 466.0px 467.5px,#e62d2f 467.5px 470.0px,#d0282a 470.0px 470.6px,#da2a2c 470.6px 472.6px,#da2a2c 472.6px 474.1px,#cd282a 474.1px 475.1px,#d82a2c 475.1px 476.1px,#ca2729 476.1px 477.1px,#e62d2f 477.1px 478.6px,#db2a2c 478.6px 479.6px,#dc2b2d 479.6px 482.1px,#df2b2d 482.1px 484.1px,#e02b2d 484.1px 485.1px,#d2292b 485.1px 486.6px,#e52c2e 486.6px 487.6px,#df2b2d 487.6px 488.6px,#db2a2c 488.6px 490.1px,#da2a2c 490.1px 491.1px,#e42c2e 491.1px 493.6px,#dc2b2d 493.6px 494.6px,#d3292b 494.6px 496.1px,#c82728 496.1px 497.1px,#da2a2c 497.1px 498.1px,#e52c2f 498.1px 498.7px,#d0282a 498.7px 501.2px,#d0282a 501.2px 503.7px,#d82a2c 503.7px 504.7px,#e22c2e 504.7px 505.7px,#c72728 505.7px 506.7px,#ce282a 506.7px 508.2px,#ce282a 508.2px 510.2px,#c72728 510.2px 511.2px,#e22c2e 511.2px 512.7px,#d82a2c 512.7px 513.0px,#a72a2c 513.0px 514.0px,#ad2c2e 514.0px 515.0px,#632628 515.0px 516.0px,#6e2b2d 516.0px 517.0px,#732d2f 517.0px 519.0px,#68282a 519.0px 519.6px,#68282a 519.6px 520.6px,#652729 520.6px 522.6px,#b92f31 522.6px 523.6px,#732c2f 523.6px 524.6px,#ac2c2e 524.6px 525.0px,#df2b2d 525.0px 527.5px,#e32c2e 527.5px 528.5px,#d82a2c 528.5px 529.5px,#df2b2d 529.5px 530.5px,#cc2729 530.5px 531.5px,#ca2729 531.5px 532.5px,#e72d2f 532.5px 533.5px,#d6292b 533.5px 534.0px,#b92f31 534.0px 535.5px,#a92b2d 535.5px 537.0px,#a52a2c 537.0px 539.0px,#ae2c2e 539.0px 541.0px,#b52e30 541.0px 542.0px,#b22d2f 542.0px 544.0px,#c92729 544.0px 545.5px,#ce282a 545.5px 547.0px,#cc2829 547.0px 549.5px,#d92a2c 549.5px 551.0px,#e02b2d 551.0px 553.0px,#ce282a 553.0px 554.0px,#d0282a 554.0px 556.5px,#d0282a 556.5px 557.0px,#ad2c2e 557.0px 558.0px,#aa2b2d 558.0px 559.0px,#a82b2c 559.0px 560.5px,#cd2829 560.5px 561.5px,#d0282a 561.5px 562.5px,#a3292b 562.5px 563.5px,#d72a2c 563.5px 565.0px,#cd282a 565.0px 567.0px,#d0282a 567.0px 569.5px,#cb2729 569.5px 570.5px,#cb2729 570.5px 571.5px,#df2b2d 571.5px 572.5px,#c62628 572.5px 573.5px,#d2292b 573.5px 574.5px,#e32c2e 574.5px 575.5px,#e12b2e 575.5px 577.0px,#ae2c2e 577.0px 577.6px,#de2b2d 577.6px 578.6px,#cb2729 578.6px 580.6px,#b42e30 580.6px 581.6px,#aa2b2d 581.6px 582.2px,#d5292b 582.2px 583.2px,#a2292b 583.2px 584.2px,#d2292b 584.2px 584.8px,#d2292b 584.8px 585.4px,#b92f31 585.4px 587.0px,#de2b2d 587.0px 589.5px,#d82a2c 589.5px 591.0px,#cc2829 591.0px 592.5px,#e12c2e 592.5px 595.0px,#cb2729 595.0px 595.6px,#e02b2d 595.6px 597.0px,#b72f31 597.0px 598.0px,#a2292b 598.0px 599.5px,#a82b2c 599.5px 601.5px,#ac2c2e 601.5px 602.5px,#b12d2f 602.5px 604.0px,#ab2b2d 604.0px 605.5px,#a3292b 605.5px 608.0px,#b22d2f 608.0px 609.0px,#a4292b 609.0px 611.5px,#b82f31 611.5px 614.0px,#b22d2f 614.0px 615.0px,#ac2c2e 615.0px 616.0px,#9e282a 616.0px 617.0px,#b02d2f 617.0px 618.5px,#ad2c2e 618.5px 619.0px,#6d2a2c 619.0px 620.0px,#702b2e 620.0px 622.0px,#b92f31 622.0px 623.0px,#ab2b2d 623.0px 625.5px,#ac2c2e 625.5px 627.0px,#a52a2c 627.0px 628.0px,#b62e30 628.0px 630.0px,#a3292b 630.0px 631.5px,#b62e30 631.5px 634.0px,#af2c2e 634.0px 635.0px,#b72f31 635.0px 637.0px,#712c2e 637.0px 637.6px,#6b292b 637.6px 639.0px,#a2292b 639.0px 640.0px,#b32e30 640.0px 641.0px,#a3292b 641.0px 642.0px,#b62e30 642.0px 643.0px,#af2c2e 643.0px 644.0px,#a2292b 644.0px 645.0px,#b62e30 645.0px 646.0px,#a2292b 646.0px 647.5px,#a2292b 647.5px 648.5px,#9f282a 648.5px 649.5px,#a0282a 649.5px 650.5px,#af2c2e 650.5px 651.5px,#b22d2f 651.5px 652.0px,#6b292b 652.0px 652.6px,#652729 652.6px 653.6px,#6a292b 653.6px 655.0px,#b12d2f 655.0px 657.0px,#b32d2f 657.0px 657.6px,#9e282a 657.6px 658.6px,#a0292a 658.6px 661.1px,#b32d2f 661.1px 663.6px,#a92b2d 663.6px 664.6px,#b12d2f 664.6px 666.1px,#b72f31 666.1px 668.6px,#b12d2f 668.6px 671.1px,#b82f31 671.1px 672.6px,#ae2c2e 672.6px 675.1px,#b22d2f 675.1px 676.1px,#ac2c2e 676.1px 677.0px,#c72628 677.0px 678.5px,#e42c2e 678.5px 680.0px,#da2a2c 680.0px 682.0px,#c82729 682.0px 682.6px,#dc2b2d 682.6px 683.6px,#d0282a 683.6px 686.1px,#cd282a 686.1px 686.7px,#c72728 686.7px 689.2px,#dd2b2d 689.2px 691.7px,#da2a2c 691.7px 693.2px,#ce282a 693.2px 695.2px,#d82a2c 695.2px 696.7px,#cf282a 696.7px 697.7px,#d92a2c 697.7px 699.2px,#e72d2f 699.2px 701.7px,#cb2729 701.7px 702.0px,#b82f31 702.0px 704.0px,#a82b2d 704.0px 706.0px,#a1292b 706.0px 707.0px,#6e2b2d 707.0px 708.0px,#742d2f 708.0px 709.5px,#662729 709.5px 710.5px,#ab2b2d 710.5px 712.5px,#ad2c2e 712.5px 714.0px,#712c2e 714.0px 714.6px,#9e282a 714.6px 716.6px,#b22d2f 716.6px 717.0px,#642728 717.0px 719.5px,#67282a 719.5px 722.0px,#642729 722.0px 724.0px,#652729 724.0px 726.0px,#712b2e 726.0px 726.6px,#632628 726.6px 727.6px,#652729 727.6px 728.6px,#652729 728.6px 730.1px,#2f332c 730.1px 731.6px,#6c2a2c 731.6px 732.0px,#2c5230 732.0px 733.0px,#2b512f 733.0px 734.0px,#742d2f 734.0px 736.0px,#68282a 736.0px 736.6px,#6a292b 736.6px 737.2px,#6e2b2d 737.2px 738.7px,#6e2a2c 738.7px 741.2px,#6f2b2d 741.2px 743.2px,#68282a 743.2px 744.2px,#652729 744.2px 745.7px,#6e2a2c 745.7px 746.3px,#6b292b 746.3px 747.8px,#69292b 747.8px 749.0px,#b12d2f 749.0px 750.0px,#b22d2f 750.0px 751.0px,#ae2c2e 751.0px 752.0px,#af2c2e 752.0px 752.6px,#ae2c2e 752.6px 754.6px,#b52e30 754.6px 755.6px,#b32d2f 755.6px 757.6px,#b72e30 757.6px 759.6px,#ad2c2e 759.6px 760.2px,#a72a2c 760.2px 762.2px,#a72a2c 762.2px 764.2px,#b42e30 764.2px 765.0px,#68282a 765.0px 767.0px,#6f2b2d 767.0px 768.0px,#b42e30 768.0px 769.0px,#662729 769.0px 771.5px,#b02d2f 771.5px 774.0px,#b62e30 774.0px 774.6px,#b82f31 774.6px 775.6px,#9e282a 775.6px 776.6px,#642729 776.6px 777.0px,#69292b 777.0px 778.0px,#662729 778.0px 779.5px,#6e2a2c 779.5px 780.1px,#353930 780.1px 782.6px,#68282a 782.6px 783.6px,#742d2f 783.6px 785.6px,#33362f 785.6px 787.6px,#6e2a2d 787.6px 789.6px,#353931 789.6px 791.6px,#6a292b 791.6px 792.0px,#2e5632 792.0px 793.0px,#305a34 793.0px 794.5px,#2d5430 794.5px 795.5px,#2c5330 795.5px 797.0px,#d0282a 797.0px 799.0px,#db2a2c 799.0px 800.0px,#b52e30 800.0px 800.6px,#d92a2c 800.6px 801.2px,#b32e30 801.2px 802.2px,#d2292b 802.2px 803.2px,#da2a2c 803.2px 804.2px,#a0292a 804.2px 806.2px,#e72d2f 806.2px 807.7px,#ab2b2d 807.7px 810.2px,#d1282a 810.2px 812.2px,#dc2b2d 812.2px 814.2px,#cc2729 814.2px 814.8px,#a42a2c 814.8px 816.3px,#ce282a 816.3px 817.0px,#68282a 817.0px 818.5px,#a2292b 818.5px 819.5px,#a62a2c 819.5px 820.1px,#a62a2c 820.1px 822.0px,#b92f31 822.0px 822.6px,#ac2c2e 822.6px 825.1px,#b22d2f 825.1px 826.1px,#aa2b2d 826.1px 828.1px,#ae2c2e 828.1px 830.6px,#b02d2f 830.6px 831.2px,#b72e30 831.2px 832.7px,#ab2b2d 832.7px 833.3px,#af2c2e 833.3px 834.8px,#ab2b2d 834.8px 836.8px,#ac2c2e 836.8px 837.0px,#ad2c2e 837.0px 838.0px,#652729 838.0px 839.0px,#69282a 839.0px 840.5px,#712b2e 840.5px 841.5px,#642729 841.5px 843.0px,#722c2e 843.0px 845.5px,#a92b2d 845.5px 846.5px,#a0282a 846.5px 848.5px,#a82b2d 848.5px 851.0px,#b12d2f 851.0px 851.6px,#a2292b 851.6px 852.2px,#b72e31 852.2px 853.2px,#6f2b2d 853.2px 854.2px,#b02d2f 854.2px 855.2px,#af2c2e 855.2px 855.8px,#6e2a2d 855.8px 857.3px,#702b2e 857.3px 858.3px,#642728 858.3px 860.3px,#662729 860.3px 861.3px,#6a292b 861.3px 863.3px,#6d2a2c 863.3px 863.9px,#672829 863.9px 864.9px,#6e2a2c 864.9px 865.9px,#652729 865.9px 866.9px,#a1292b 866.9px 867.0px,#af2c2e 867.0px 867.6px,#af2d2f 867.6px 868.2px,#a4292b 868.2px 870.2px,#a2292b 870.2px 871.7px,#a1292b 871.7px 873.2px,#ab2b2d 873.2px 874.7px,#a0292a 874.7px 877.0px,#67282a 877.0px 878.0px,#652729 878.0px 879.5px,#732d2f 879.5px 882.0px,#712c2e 882.0px 883.0px,#712c2e 883.0px 883.6px,#6f2b2d 883.6px 885.1px,#67282a 885.1px 886.1px,#6b292b 886.1px 887.1px,#712b2e 887.1px 887.7px,#712c2e 887.7px 889.2px,#67282a 889.2px 890.2px,#732c2f 890.2px 892.0px,#ab2b2d 892.0px 892.6px,#6f2b2d 892.6px 894.1px,#6d2a2c 894.1px 895.6px,#662829 895.6px 896.6px,#b62e30 896.6px 898.6px,#652729 898.6px 901.1px,#6d2a2c 901.1px 902.0px,#ca2729 902.0px 903.0px,#dc2b2d 903.0px 905.0px,#d4292b 905.0px 907.5px,#d72a2c 907.5px 908.5px,#d3292b 908.5px 909.1px,#c82729 909.1px 911.1px,#e22c2e 911.1px 913.0px,#6f2b2d 913.0px 914.5px,#6d2a2c 914.5px 915.1px,#712c2e 915.1px 915.7px,#732c2f 915.7px 916.7px,#652729 916.7px 919.0px,#6f2b2d 919.0px 920.5px,#6b292b 920.5px 921.1px,#67282a 921.1px 922.1px,#6d2a2c 922.1px 924.1px,#702b2d 924.1px 925.6px,#6d2a2c 925.6px 926.6px,#b52e30 926.6px 927.6px,#69282a 927.6px 928.6px,#a1292b 928.6px 929.6px,#b22d2f 929.6px 930.6px,#a42a2c 930.6px 932.1px,#67282a 932.1px 934.1px,#af2c2e 934.1px 936.6px,#6e2a2c 936.6px 937.6px,#af2d2f 937.6px 938.6px,#ab2b2d 938.6px 939.6px,#67282a 939.6px 941.1px,#6d2a2c 941.1px 942.1px,#68282a 942.1px 944.1px,#a92b2d 944.1px 945.1px,#b02d2f 945.1px 946.1px,#a52a2c 946.1px 947.1px,#652729 947.1px 949.1px,#6d2a2c 949.1px 950.1px,#67282a 950.1px 952.0px,#aa2b2d 952.0px 953.0px,#a52a2c 953.0px 954.5px,#a52a2c 954.5px 956.5px,#a82b2d 956.5px 959.0px,#b62e30 959.0px 959.5px)"></div>
<div style="position:absolute;left:1214.7px;top:1313.0px;width:155.7px;height:959.5px;background:linear-gradient(#2c8f33 0.0px 1.0px,#2e9334 1.0px 1.6px,#2a8730 1.6px 2.2px,#2d9134 2.2px 3.2px,#2a8830 3.2px 4.2px,#28812e 4.2px 5.7px,#2a8730 5.7px 6.7px,#2a852f 6.7px 8.2px,#2c8d32 8.2px 10.7px,#2b8b31 10.7px 12.0px,#2a852f 12.0px 13.5px,#2c8c32 13.5px 15.5px,#2c522f 15.5px 16.5px,#2e5632 16.5px 17.5px,#315c35 17.5px 19.5px,#305a34 19.5px 20.5px,#2c522f 20.5px 21.5px,#2c8c32 21.5px 23.5px,#2a8830 23.5px 24.1px,#2f9635 24.1px 26.1px,#2f9535 26.1px 27.6px,#2d5431 27.6px 28.6px,#29832e 28.6px 29.2px,#2e9435 29.2px 30.2px,#2b8931 30.2px 32.0px,#29852f 32.0px 33.0px,#2e9434 33.0px 34.0px,#2c8d32 34.0px 35.0px,#2c8d32 35.0px 36.0px,#2b8b31 36.0px 36.6px,#2b8b31 36.6px 37.6px,#28822e 37.6px 38.6px,#28822e 38.6px 40.1px,#29832f 40.1px 41.1px,#2d8f33 41.1px 43.6px,#2e9334 43.6px 44.2px,#2e9434 44.2px 45.7px,#2a862f 45.7px 47.2px,#2c8f33 47.2px 49.7px,#29832e 49.7px 50.0px,#31352e 50.0px 52.0px,#373b32 52.0px 53.0px,#32352e 53.0px 55.0px,#29852f 55.0px 57.0px,#2e9535 57.0px 57.6px,#2b8930 57.6px 59.1px,#2b8931 59.1px 60.1px,#2a4f2e 60.1px 61.6px,#2c8c32 61.6px 63.1px,#2e9535 63.1px 65.6px,#2b512f 65.6px 67.6px,#305a34 67.6px 68.6px,#2b522f 68.6px 69.2px,#2a8630 69.2px 70.2px,#2b8931 70.2px 71.2px,#2e9435 71.2px 72.7px,#2c522f 72.7px 74.2px,#305a34 74.2px 75.7px,#28822e 75.7px 77.2px,#2c8d32 77.2px 79.2px,#2e9434 79.2px 80.2px,#2e5732 80.2px 81.2px,#2e5632 81.2px 82.7px,#2a8730 82.7px 85.0px,#343830 85.0px 86.0px,#305b35 86.0px 87.0px,#373b33 87.0px 89.5px,#33372f 89.5px 90.5px,#363a32 90.5px 91.5px,#32362f 91.5px 92.0px,#30cb37 92.0px 93.0px,#2dbf33 93.0px 94.0px,#2bb631 94.0px 95.0px,#2dbd33 95.0px 96.0px,#2ab330 96.0px 97.0px,#30c936 97.0px 98.0px,#2cb832 98.0px 99.0px,#2c8d32 99.0px 100.0px,#2c8c32 100.0px 102.0px,#2e9334 102.0px 104.5px,#2cb831 104.5px 105.1px,#2ec334 105.1px 105.7px,#2c8e32 105.7px 107.2px,#2c8e32 107.2px 109.2px,#2b8b31 109.2px 110.2px,#2a8630 110.2px 112.7px,#2d9133 112.7px 114.2px,#2f9635 114.2px 115.2px,#2cbb32 115.2px 116.2px,#2bb330 116.2px 116.8px,#2a862f 116.8px 117.0px,#2bb430 117.0px 119.0px,#2bb731 119.0px 121.0px,#2dbf33 121.0px 122.0px,#2fc736 122.0px 124.5px,#30c936 124.5px 126.5px,#30ca36 126.5px 127.0px,#2d9134 127.0px 128.0px,#30c836 128.0px 129.5px,#30c936 129.5px 131.5px,#2a852f 131.5px 133.0px,#29842f 133.0px 134.5px,#2d9033 134.5px 135.5px,#2ec234 135.5px 136.1px,#29832e 136.1px 138.1px,#2d9134 138.1px 139.1px,#2b8b31 139.1px 140.6px,#2d9234 140.6px 141.6px,#2dbc33 141.6px 142.6px,#2fc535 142.6px 144.1px,#2c8e32 144.1px 146.6px,#2e9334 146.6px 147.0px,#353931 147.0px 149.0px,#373b32 149.0px 151.0px,#343830 151.0px 152.0px,#30342d 152.0px 154.5px,#343830 154.5px 156.0px,#353931 156.0px 157.0px,#2f5833 157.0px 159.0px,#2a8730 159.0px 160.0px,#305a34 160.0px 162.0px,#2a8730 162.0px 164.0px,#2a4f2e 164.0px 165.0px,#2d9033 165.0px 166.0px,#29852f 166.0px 168.0px,#2b8931 168.0px 168.6px,#2f9535 168.6px 170.0px,#373b33 170.0px 170.6px,#343930 170.6px 171.6px,#353a31 171.6px 173.6px,#353a31 173.6px 176.1px,#343830 176.1px 177.0px,#2b8931 177.0px 178.0px,#2d8f33 178.0px 180.0px,#2a862f 180.0px 181.0px,#2e9535 181.0px 182.0px,#2c8d32 182.0px 183.0px,#2cba32 183.0px 184.0px,#2dbc33 184.0px 186.5px,#2a852f 186.5px 187.5px,#2ec234 187.5px 189.0px,#2b8931 189.0px 191.5px,#2cb831 191.5px 192.1px,#2b8b31 192.1px 194.6px,#30cb37 194.6px 195.6px,#2ec435 195.6px 197.6px,#30cb37 197.6px 199.6px,#2ab230 199.6px 200.2px,#28812e 200.2px 201.7px,#2d9133 201.7px 202.7px,#2ab230 202.7px 203.7px,#2dbb32 203.7px 205.2px,#2f9635 205.2px 206.2px,#2fc735 206.2px 207.2px,#2d8f33 207.2px 207.8px,#2bb731 207.8px 209.8px,#2b8830 209.8px 210.4px,#2f9535 210.4px 212.9px,#30c936 212.9px 213.5px,#2e9334 213.5px 216.0px,#28812e 216.0px 217.0px,#29852f 217.0px 218.0px,#2dbd33 218.0px 220.5px,#2a852f 220.5px 222.0px,#31cc37 222.0px 224.0px,#2cb731 224.0px 225.0px,#2fc535 225.0px 225.6px,#31cd37 225.6px 227.6px,#2bb430 227.6px 229.6px,#2c8c32 229.6px 232.1px,#2cbb32 232.1px 234.1px,#2b8a31 234.1px 234.7px,#31cc37 234.7px 235.3px,#2ec234 235.3px 237.0px,#2f9635 237.0px 239.5px,#2bb631 239.5px 242.0px,#2ec334 242.0px 244.5px,#2d8f33 244.5px 247.0px,#30ca36 247.0px 249.0px,#30ca36 249.0px 251.0px,#30ca36 251.0px 252.0px,#29822e 252.0px 252.6px,#2dbf33 252.6px 253.6px,#31ce37 253.6px 254.2px,#2bb531 254.2px 255.7px,#2ab02f 255.7px 256.3px,#2ab330 256.3px 258.3px,#2ec234 258.3px 258.9px,#2e9535 258.9px 259.9px,#2b8931 259.9px 261.4px,#2b8830 261.4px 263.9px,#2e9334 263.9px 264.9px,#2e9535 264.9px 265.9px,#29842f 265.9px 266.9px,#2cb932 266.9px 269.4px,#2bb330 269.4px 270.9px,#31cd37 270.9px 271.5px,#2ab02f 271.5px 272.5px,#2dbd33 272.5px 273.5px,#2cb932 273.5px 276.0px,#2ab230 276.0px 278.0px,#2e9535 278.0px 279.0px,#30342d 279.0px 280.0px,#67282a 280.0px 282.0px,#6f2b2d 282.0px 283.0px,#69282a 283.0px 284.5px,#383c33 284.5px 285.1px,#32362e 285.1px 287.6px,#652729 287.6px 289.1px,#712c2e 289.1px 291.1px,#722c2e 291.1px 292.0px,#702b2d 292.0px 293.0px,#67282a 293.0px 293.6px,#732d2f 293.6px 294.2px,#712c2e 294.2px 295.7px,#662829 295.7px 298.2px,#662729 298.2px 300.2px,#69292a 300.2px 302.0px,#c62628 302.0px 302.6px,#d2292a 302.6px 304.6px,#d92a2c 304.6px 305.6px,#c72628 305.6px 306.2px,#a3292b 306.2px 308.7px,#e12c2e 308.7px 309.3px,#c92729 309.3px 311.8px,#a3292b 311.8px 313.3px,#ad2c2e 313.3px 315.8px,#ce282a 315.8px 318.3px,#d5292b 318.3px 319.3px,#cd282a 319.3px 320.3px,#b72f31 320.3px 321.8px,#c82728 321.8px 322.8px,#b02d2f 322.8px 323.8px,#a82b2d 323.8px 325.3px,#b02d2f 325.3px 326.3px,#a0292a 326.3px 327.3px,#e62d2f 327.3px 329.8px,#b32d2f 329.8px 331.3px,#dc2b2d 331.3px 331.9px,#ac2c2e 331.9px 332.0px,#da2a2c 332.0px 333.0px,#e72d2f 333.0px 334.5px,#c82728 334.5px 335.5px,#c92729 335.5px 337.0px,#b02d2f 337.0px 338.0px,#9f282a 338.0px 338.6px,#a62a2c 338.6px 339.6px,#b42e30 339.6px 341.6px,#b72e31 341.6px 342.6px,#a0292b 342.6px 343.2px,#a1292b 343.2px 344.7px,#a92b2d 344.7px 346.2px,#ac2c2e 346.2px 347.2px,#a82b2d 347.2px 349.7px,#9f282a 349.7px 351.7px,#b92f31 351.7px 353.2px,#b22d2f 353.2px 354.7px,#9e282a 354.7px 357.2px,#a72a2c 357.2px 358.7px,#a0292b 358.7px 359.3px,#ac2c2e 359.3px 360.3px,#b42e30 360.3px 362.3px,#ac2c2e 362.3px 363.8px,#9f282a 363.8px 365.8px,#b02d2f 365.8px 366.8px,#a42a2c 366.8px 369.3px,#a2292b 369.3px 370.3px,#a62a2c 370.3px 372.8px,#aa2b2d 372.8px 375.3px,#9f282a 375.3px 377.0px,#632628 377.0px 378.0px,#662729 378.0px 379.5px,#6e2b2d 379.5px 380.5px,#6d2a2c 380.5px 381.5px,#6b292b 381.5px 382.1px,#6f2b2d 382.1px 382.7px,#6e2a2c 382.7px 383.3px,#712c2e 383.3px 385.8px,#652729 385.8px 386.4px,#732d2f 386.4px 387.0px,#6a292b 387.0px 387.6px,#68282a 387.6px 390.1px,#642628 390.1px 391.1px,#68282a 391.1px 393.1px,#a72a2c 393.1px 394.6px,#6d2a2c 394.6px 397.1px,#742d2f 397.1px 399.6px,#9e282a 399.6px 401.1px,#652729 401.1px 401.7px,#b92f31 401.7px 403.2px,#a92b2d 403.2px 405.7px,#aa2b2d 405.7px 406.7px,#ad2c2e 406.7px 409.2px,#6f2b2d 409.2px 410.7px,#a1292b 410.7px 411.3px,#68282a 411.3px 412.0px,#67282a 412.0px 412.6px,#702b2d 412.6px 413.6px,#6f2b2d 413.6px 414.6px,#722c2e 414.6px 415.2px,#69292b 415.2px 417.2px,#69292a 417.2px 418.2px,#69292b 418.2px 420.2px,#6a292b 420.2px 420.8px,#6d2a2c 420.8px 422.3px,#6c2a2c 422.3px 423.3px,#742d2f 423.3px 424.3px,#702b2d 424.3px 424.9px,#642729 424.9px 426.4px,#732d2f 426.4px 427.4px,#642728 427.4px 429.9px,#742d2f 429.9px 432.0px,#e02b2d 432.0px 434.5px,#cc2729 434.5px 435.0px,#b12d2f 435.0px 437.5px,#aa2b2d 437.5px 438.5px,#9f282a 438.5px 440.5px,#b72f31 440.5px 442.5px,#69282a 442.5px 445.0px,#67282a 445.0px 447.5px,#6f2b2d 447.5px 448.5px,#6c2a2c 448.5px 449.5px,#a3292b 449.5px 451.5px,#b12d2f 451.5px 452.1px,#b72f31 452.1px 454.1px,#ac2c2e 454.1px 456.6px,#b02d2f 456.6px 457.6px,#6e2a2c 457.6px 458.2px,#ad2c2e 458.2px 459.2px,#732c2e 459.2px 460.7px,#b62e30 460.7px 462.7px,#642729 462.7px 463.3px,#b42e30 463.3px 464.8px,#9f282a 464.8px 465.4px,#ad2c2e 465.4px 466.4px,#672829 466.4px 467.4px,#6e2b2d 467.4px 469.9px,#a3292b 469.9px 470.9px,#702b2d 470.9px 472.4px,#b92f31 472.4px 473.4px,#742d2f 473.4px 474.4px,#a2292b 474.4px 476.9px,#a52a2c 476.9px 477.0px,#6d2a2c 477.0px 479.0px,#6d2a2c 479.0px 480.0px,#742d2f 480.0px 481.0px,#722c2e 481.0px 482.0px,#642628 482.0px 482.6px,#732c2f 482.6px 484.1px,#732c2f 484.1px 485.6px,#6a292b 485.6px 487.0px,#31352d 487.0px 487.6px,#6b292b 487.6px 489.1px,#672829 489.1px 490.1px,#33372f 490.1px 492.1px,#373b33 492.1px 493.6px,#652729 493.6px 494.2px,#6b292b 494.2px 496.7px,#30342c 496.7px 497.0px,#672829 497.0px 499.5px,#6d2a2c 499.5px 500.5px,#652729 500.5px 502.0px,#702b2e 502.0px 503.0px,#a42a2c 503.0px 504.0px,#ac2c2e 504.0px 506.5px,#722c2e 506.5px 508.0px,#662729 508.0px 510.5px,#652729 510.5px 511.5px,#742d2f 511.5px 514.0px,#aa2b2d 514.0px 515.5px,#b82f31 515.5px 518.0px,#c82728 518.0px 520.0px,#9f282a 520.0px 521.0px,#e12c2e 521.0px 521.6px,#b52e30 521.6px 522.2px,#c82729 522.2px 522.8px,#e62d2f 522.8px 525.3px,#b72f31 525.3px 527.3px,#dd2b2d 527.3px 528.3px,#b02d2f 528.3px 529.8px,#e72d2f 529.8px 531.3px,#a82b2d 531.3px 533.8px,#b62e30 533.8px 535.3px,#a1292b 535.3px 536.3px,#d6292b 536.3px 537.0px,#b32d2f 537.0px 539.0px,#ac2c2e 539.0px 541.5px,#a3292b 541.5px 544.0px,#662829 544.0px 544.6px,#9f282a 544.6px 545.6px,#9e282a 545.6px 547.6px,#a92b2d 547.6px 549.0px,#af2c2e 549.0px 551.5px,#b42e30 551.5px 554.0px,#b02d2f 554.0px 555.5px,#a92b2d 555.5px 556.1px,#a3292b 556.1px 556.7px,#a62a2c 556.7px 558.2px,#a1292b 558.2px 559.7px,#b32d2f 559.7px 560.3px,#b42e30 560.3px 561.8px,#a3292b 561.8px 563.8px,#aa2b2d 563.8px 564.8px,#ab2b2d 564.8px 567.3px,#a1292b 567.3px 568.8px,#ab2b2d 568.8px 569.8px,#a2292b 569.8px 571.3px,#ac2c2e 571.3px 571.9px,#b92f31 571.9px 574.4px,#a62a2c 574.4px 575.9px,#b02d2f 575.9px 576.9px,#b42e30 576.9px 577.0px,#6d2a2c 577.0px 579.0px,#69292b 579.0px 579.6px,#ad2c2e 579.6px 582.1px,#a1292b 582.1px 582.7px,#ab2b2d 582.7px 583.7px,#b82f31 583.7px 585.2px,#a52a2c 585.2px 586.2px,#9e282a 586.2px 588.2px,#662729 588.2px 590.2px,#6a292b 590.2px 592.2px,#a0292a 592.2px 594.7px,#732d2f 594.7px 596.7px,#732c2e 596.7px 597.0px,#d0282a 597.0px 597.6px,#d6292b 597.6px 599.1px,#db2a2c 599.1px 601.1px,#b82f31 601.1px 603.6px,#db2a2c 603.6px 604.6px,#d72a2c 604.6px 605.6px,#a52a2c 605.6px 606.6px,#b82f31 606.6px 607.6px,#a62a2c 607.6px 609.1px,#d4292b 609.1px 611.1px,#a62a2c 611.1px 613.1px,#c92729 613.1px 614.6px,#cc2729 614.6px 616.1px,#e12c2e 616.1px 617.1px,#d4292b 617.1px 618.1px,#cd2829 618.1px 620.6px,#b62e30 620.6px 623.1px,#e32c2e 623.1px 624.1px,#d0282a 624.1px 625.6px,#a52a2c 625.6px 626.6px,#d82a2c 626.6px 627.0px,#712c2e 627.0px 628.0px,#642729 628.0px 628.6px,#69292b 628.6px 629.2px,#6a292b 629.2px 630.7px,#6d2a2c 630.7px 631.3px,#68282a 631.3px 632.0px,#9f282a 632.0px 633.0px,#a82b2d 633.0px 635.5px,#af2c2e 635.5px 636.1px,#b72e30 636.1px 636.7px,#9f282a 636.7px 637.3px,#a62a2c 637.3px 637.9px,#af2c2e 637.9px 639.4px,#a3292b 639.4px 641.9px,#b52e30 641.9px 642.5px,#a52a2c 642.5px 643.5px,#a3292b 643.5px 644.1px,#a3292b 644.1px 645.1px,#a1292b 645.1px 646.1px,#a92b2d 646.1px 647.6px,#a42a2c 647.6px 648.2px,#a2292b 648.2px 649.2px,#ac2c2e 649.2px 650.2px,#b52e30 650.2px 651.2px,#a82b2d 651.2px 652.7px,#b42e30 652.7px 654.7px,#b72e30 654.7px 655.3px,#a4292b 655.3px 657.0px,#373b32 657.0px 659.5px,#632628 659.5px 661.5px,#30342d 661.5px 663.0px,#353931 663.0px 664.5px,#32362e 664.5px 665.5px,#6c2a2c 665.5px 667.0px,#373b33 667.0px 667.6px,#30332c 667.6px 668.6px,#68282a 668.6px 671.1px,#6c2a2c 671.1px 672.1px,#662729 672.1px 673.1px,#343830 673.1px 674.1px,#2f332c 674.1px 676.6px,#31352d 676.6px 677.0px,#69292b 677.0px 678.0px,#642729 678.0px 680.0px,#6b292b 680.0px 681.5px,#712c2e 681.5px 684.0px,#732c2e 684.0px 686.0px,#69282a 686.0px 688.0px,#69292b 688.0px 689.0px,#68282a 689.0px 690.0px,#68282a 690.0px 691.5px,#722c2e 691.5px 692.0px,#b62e30 692.0px 694.0px,#b02d2f 694.0px 695.0px,#702b2d 695.0px 695.6px,#67282a 695.6px 696.2px,#642729 696.2px 698.7px,#6e2a2c 698.7px 699.7px,#6c2a2c 699.7px 702.2px,#6d2a2c 702.2px 702.8px,#702b2e 702.8px 703.8px,#32362e 703.8px 704.4px,#343830 704.4px 706.9px,#702b2d 706.9px 707.9px,#642728 707.9px 708.9px,#343830 708.9px 709.5px,#6a292b 709.5px 710.1px,#68282a 710.1px 711.1px,#68282a 711.1px 712.6px,#30342c 712.6px 713.6px,#30342c 713.6px 714.6px,#363b32 714.6px 715.6px,#6e2a2c 715.6px 717.0px,#b52e30 717.0px 718.5px,#a72a2c 718.5px 720.0px,#33362f 720.0px 722.0px,#652729 722.0px 724.0px,#712b2e 724.0px 724.6px,#32362e 724.6px 726.6px,#6f2b2d 726.6px 728.6px,#672829 728.6px 729.6px,#702b2e 729.6px 731.6px,#6a292b 731.6px 732.0px,#305b35 732.0px 732.6px,#31352d 732.6px 734.6px,#2a4f2e 734.6px 736.1px,#2c5430 736.1px 737.1px,#2b502e 737.1px 738.6px,#2d5531 738.6px 739.6px,#2b512f 739.6px 740.2px,#353931 740.2px 742.0px,#353931 742.0px 743.0px,#373b33 743.0px 744.0px,#383c33 744.0px 746.5px,#353931 746.5px 747.5px,#30342c 747.5px 748.5px,#33372f 748.5px 749.5px,#373b32 749.5px 750.5px,#343830 750.5px 752.0px,#2d5531 752.0px 753.0px,#2e5632 753.0px 754.0px,#353931 754.0px 755.0px,#652729 755.0px 755.6px,#732c2e 755.6px 756.2px,#6c2a2c 756.2px 757.7px,#68282a 757.7px 759.7px,#343830 759.7px 760.7px,#722c2e 760.7px 763.2px,#343830 763.2px 765.0px,#305a34 765.0px 765.6px,#2a4f2e 765.6px 767.6px,#2e5732 767.6px 769.1px,#2c5330 769.1px 770.1px,#305b34 770.1px 771.1px,#305a34 771.1px 772.6px,#305a34 772.6px 773.6px,#305b34 773.6px 774.6px,#305a34 774.6px 775.2px,#2d5531 775.2px 776.2px,#2b512f 776.2px 777.0px,#2b512f 777.0px 778.0px,#2b512f 778.0px 779.0px,#2c522f 779.0px 780.0px,#2e5632 780.0px 781.5px,#363a32 781.5px 783.0px,#2e5632 783.0px 785.0px,#30342d 785.0px 787.0px,#32352e 787.0px 789.0px,#32352e 789.0px 791.0px,#2d5431 791.0px 792.5px,#32362e 792.5px 795.0px,#31352e 795.0px 797.0px,#6c2a2c 797.0px 799.0px,#652729 799.0px 801.5px,#702b2d 801.5px 802.5px,#a62a2c 802.5px 803.5px,#a82b2d 803.5px 804.1px,#b22d2f 804.1px 805.1px,#a3292b 805.1px 806.6px,#a1292b 806.6px 809.1px,#a72a2c 809.1px 810.1px,#a0282a 810.1px 812.0px,#30332c 812.0px 813.5px,#363a32 813.5px 814.5px,#343830 814.5px 815.1px,#32362e 815.1px 815.7px,#30332c 815.7px 816.3px,#373b33 816.3px 817.0px,#632628 817.0px 818.0px,#6d2a2c 818.0px 820.5px,#69292b 820.5px 822.5px,#a0292a 822.5px 825.0px,#a2292b 825.0px 826.0px,#6d2a2c 826.0px 828.5px,#a42a2b 828.5px 829.1px,#6f2b2d 829.1px 831.6px,#67282a 831.6px 832.6px,#aa2b2d 832.6px 833.6px,#6c2a2c 833.6px 834.6px,#b42e30 834.6px 835.2px,#a2292b 835.2px 837.0px,#b72e31 837.0px 839.0px,#e52c2f 839.0px 840.0px,#ca2729 840.0px 841.5px,#9e282a 841.5px 843.5px,#af2c2f 843.5px 845.0px,#d4292b 845.0px 846.0px,#d5292b 846.0px 848.5px,#e22c2e 848.5px 849.1px,#b92f31 849.1px 850.1px,#b92f31 850.1px 851.1px,#c62628 851.1px 851.7px,#b72f31 851.7px 852.7px,#cc2729 852.7px 854.2px,#b92f31 854.2px 856.7px,#d5292b 856.7px 858.2px,#d92a2c 858.2px 860.7px,#e72d2f 860.7px 861.7px,#b72f31 861.7px 863.7px,#d82a2c 863.7px 864.7px,#d92a2c 864.7px 865.3px,#e22c2e 865.3px 867.3px,#e02b2d 867.3px 869.3px,#cf282a 869.3px 870.8px,#cc2829 870.8px 871.8px,#e22c2e 871.8px 874.3px,#d82a2c 874.3px 875.3px,#a0292b 875.3px 877.8px,#d82a2c 877.8px 879.3px,#de2b2d 879.3px 880.8px,#a82b2d 880.8px 882.3px,#b12d2f 882.3px 884.8px,#d5292b 884.8px 886.3px,#a52a2c 886.3px 887.3px,#b02d2f 887.3px 888.3px,#dc2b2d 888.3px 889.3px,#a2292b 889.3px 891.3px,#a1292b 891.3px 892.3px,#e02b2d 892.3px 893.3px,#de2b2d 893.3px 895.3px,#ac2c2e 895.3px 896.3px,#e12c2e 896.3px 897.3px,#b42e30 897.3px 899.8px,#a3292b 899.8px 900.4px,#d5292b 900.4px 901.0px,#d3292b 901.0px 902.0px,#32352e 902.0px 904.5px,#31352d 904.5px 905.0px,#2e5632 905.0px 905.6px,#2f5934 905.6px 906.6px,#305b35 906.6px 909.1px,#2d5431 909.1px 911.1px,#2d5531 911.1px 912.1px,#2e5632 912.1px 912.7px,#2c5230 912.7px 913.0px,#373c33 913.0px 915.5px,#343830 915.5px 917.0px,#6f2b2d 917.0px 919.0px,#6d2a2c 919.0px 920.0px,#652729 920.0px 921.5px,#343830 921.5px 922.5px,#30342c 922.5px 923.1px,#32362e 923.1px 924.6px,#662729 924.6px 925.2px,#32362e 925.2px 927.0px,#33372f 927.0px 927.6px,#30332c 927.6px 928.6px,#30342d 928.6px 930.1px,#30342d 930.1px 932.6px,#33372f 932.6px 935.0px,#6b292b 935.0px 937.0px,#722c2e 937.0px 939.5px,#69292a 939.5px 941.0px,#722c2e 941.0px 943.0px,#6f2b2d 943.0px 944.0px,#6e2a2c 944.0px 945.0px,#6b292b 945.0px 947.5px,#742d2f 947.5px 948.1px,#742d2f 948.1px 949.1px,#712b2e 949.1px 950.6px,#6b292b 950.6px 951.2px,#712c2e 951.2px 952.0px,#68282a 952.0px 953.0px,#642628 953.0px 955.0px,#373b33 955.0px 956.0px,#30342c 956.0px 957.0px,#6b292b 957.0px 957.6px,#6d2a2c 957.6px 959.5px)"></div>
<svg width="2237" height="2382" viewBox="0 0 2237 2382">
<rect x="216" y="37" width="657" height="935" fill="#EBEBEB"/>
<line x1="216" x2="873" y1="267.2" y2="267.2" stroke="#fff" stroke-width="1.3"/>
<line x1="216" x2="873" y1="535.0" y2="535.0" stroke="#fff" stroke-width="1.3"/>
<line x1="216" x2="873" y1="802.8" y2="802.8" stroke="#fff" stroke-width="1.3"/>
<line x1="216" x2="873" y1="133.3" y2="133.3" stroke="#fff" stroke-width="2.4"/>
<line x1="216" x2="873" y1="401.1" y2="401.1" stroke="#fff" stroke-width="2.4"/>
<line x1="216" x2="873" y1="668.9" y2="668.9" stroke="#fff" stroke-width="2.4"/>
<line x1="216" x2="873" y1="936.7" y2="936.7" stroke="#fff" stroke-width="2.4"/>
<line x1="280.0" x2="280.0" y1="37" y2="972" stroke="#fff" stroke-width="2.4"/>
<line x1="387.4" x2="387.4" y1="37" y2="972" stroke="#fff" stroke-width="2.4"/>
<line x1="495.1" x2="495.1" y1="37" y2="972" stroke="#fff" stroke-width="2.4"/>
<line x1="602.7" x2="602.7" y1="37" y2="972" stroke="#fff" stroke-width="2.4"/>
<line x1="710.8" x2="710.8" y1="37" y2="972" stroke="#fff" stroke-width="2.4"/>
<line x1="818.4" x2="818.4" y1="37" y2="972" stroke="#fff" stroke-width="2.4"/>
<line x1="210.5" x2="216" y1="133.3" y2="133.3" stroke="#333" stroke-width="2"/>
<line x1="210.5" x2="216" y1="401.1" y2="401.1" stroke="#333" stroke-width="2"/>
<line x1="210.5" x2="216" y1="668.9" y2="668.9" stroke="#333" stroke-width="2"/>
<line x1="210.5" x2="216" y1="936.7" y2="936.7" stroke="#333" stroke-width="2"/>
<path d="M280.0 84.0 L280.0 87.0 L280.0 90.0 L280.0 93.0 L280.0 96.0 L280.1 99.0 L280.1 102.0 L280.1 105.0 L280.1 108.0 L280.1 111.0 L280.1 114.0 L280.1 117.0 L280.2 120.0 L280.2 123.0 L280.2 126.0 L280.2 129.0 L280.2 132.0 L280.2 135.0 L280.2 138.0 L280.2 141.0 L280.3 144.0 L280.3 147.0 L280.3 150.0 L280.3 153.0 L280.3 156.0 L280.3 159.0 L280.3 162.0 L280.4 165.0 L280.4 168.0 L280.4 171.0 L280.4 174.0 L280.4 177.0 L280.4 180.0 L280.5 183.0 L280.5 186.0 L280.5 189.0 L280.5 192.0 L280.5 195.0 L280.5 198.0 L280.5 201.0 L280.6 204.0 L280.6 207.0 L280.6 210.0 L280.6 213.0 L280.6 216.0 L280.6 219.0 L280.7 222.0 L280.7 225.0 L280.7 228.0 L280.7 231.0 L280.7 234.0 L280.7 237.0 L280.8 240.0 L280.8 243.0 L280.8 246.0 L280.8 249.0 L280.8 252.0 L280.8 255.0 L280.9 258.0 L280.9 261.0 L280.9 264.0 L280.9 267.0 L280.9 270.0 L280.9 273.0 L281.0 276.0 L281.0 279.0 L281.0 282.0 L281.0 285.0 L281.1 288.0 L281.1 291.0 L281.1 294.0 L281.1 297.0 L281.2 300.0 L281.2 303.0 L281.2 306.0 L281.3 309.0 L281.3 312.0 L281.4 315.0 L281.5 318.0 L281.6 321.0 L281.8 324.0 L282.0 327.0 L282.3 330.0 L282.5 333.0 L282.8 336.0 L283.0 339.0 L283.4 342.0 L283.7 345.0 L284.0 348.0 L284.3 351.0 L284.6 354.0 L284.9 357.0 L285.2 360.0 L285.5 363.0 L285.8 366.0 L286.1 369.0 L286.5 372.0 L286.9 375.0 L287.3 378.0 L287.7 381.0 L288.1 384.0 L288.6 387.0 L289.1 390.0 L289.7 393.0 L290.2 396.0 L290.9 399.0 L291.6 402.0 L292.4 405.0 L293.4 408.0 L294.5 411.0 L295.7 414.0 L296.9 417.0 L298.1 420.0 L299.4 423.0 L300.6 426.0 L301.8 429.0 L303.1 432.0 L304.4 435.0 L305.7 438.0 L307.1 441.0 L308.4 444.0 L309.7 447.0 L311.0 450.0 L312.2 453.0 L313.4 456.0 L314.5 459.0 L315.6 462.0 L316.7 465.0 L317.8 468.0 L318.8 471.0 L319.8 474.0 L320.7 477.0 L321.5 480.0 L322.3 483.0 L323.0 486.0 L323.8 489.0 L324.4 492.0 L325.1 495.0 L325.6 498.0 L326.1 501.0 L326.5 504.0 L326.8 507.0 L327.1 510.0 L327.3 513.0 L327.6 516.0 L327.7 519.0 L327.7 522.0 L327.6 525.0 L327.3 528.0 L327.0 531.0 L326.5 534.0 L326.0 537.0 L325.5 540.0 L325.0 543.0 L324.4 546.0 L324.0 549.0 L323.5 552.0 L323.2 555.0 L322.8 558.0 L322.5 561.0 L322.0 564.0 L321.6 567.0 L321.1 570.0 L320.5 573.0 L320.0 576.0 L319.4 579.0 L318.8 582.0 L318.3 585.0 L317.7 588.0 L317.2 591.0 L316.6 594.0 L316.1 597.0 L315.6 600.0 L315.0 603.0 L314.5 606.0 L313.9 609.0 L313.4 612.0 L312.8 615.0 L312.3 618.0 L311.8 621.0 L311.3 624.0 L310.8 627.0 L310.3 630.0 L309.7 633.0 L309.2 636.0 L308.7 639.0 L308.2 642.0 L307.7 645.0 L307.3 648.0 L306.9 651.0 L306.6 654.0 L306.4 657.0 L306.3 660.0 L306.1 663.0 L305.9 666.0 L305.8 669.0 L305.7 672.0 L305.5 675.0 L305.4 678.0 L305.4 681.0 L305.3 684.0 L305.2 687.0 L305.2 690.0 L305.1 693.0 L305.1 696.0 L305.1 699.0 L305.1 702.0 L305.1 705.0 L305.0 708.0 L305.0 711.0 L305.0 714.0 L305.0 717.0 L304.9 720.0 L304.8 723.0 L304.7 726.0 L304.6 729.0 L304.4 732.0 L304.2 735.0 L304.0 738.0 L303.8 741.0 L303.5 744.0 L303.3 747.0 L303.0 750.0 L302.8 753.0 L302.5 756.0 L302.3 759.0 L302.0 762.0 L301.8 765.0 L301.5 768.0 L301.2 771.0 L300.9 774.0 L300.5 777.0 L300.2 780.0 L299.8 783.0 L299.5 786.0 L299.1 789.0 L298.7 792.0 L298.2 795.0 L297.7 798.0 L297.2 801.0 L296.7 804.0 L296.2 807.0 L295.7 810.0 L295.2 813.0 L294.7 816.0 L294.2 819.0 L293.7 822.0 L293.2 825.0 L292.6 828.0 L292.1 831.0 L291.6 834.0 L291.1 837.0 L290.5 840.0 L289.9 843.0 L289.3 846.0 L288.6 849.0 L288.0 852.0 L287.3 855.0 L286.8 858.0 L286.2 861.0 L285.7 864.0 L285.3 867.0 L284.8 870.0 L284.4 873.0 L284.0 876.0 L283.6 879.0 L283.3 882.0 L282.9 885.0 L282.6 888.0 L282.3 891.0 L282.0 894.0 L281.7 897.0 L281.5 900.0 L281.3 903.0 L281.1 906.0 L280.9 909.0 L280.7 912.0 L280.5 915.0 L280.3 918.0 L280.2 921.0 L280.1 924.0 L280.0 926.0 L280.0 926.0 L279.9 924.0 L279.8 921.0 L279.7 918.0 L279.5 915.0 L279.3 912.0 L279.1 909.0 L278.9 906.0 L278.7 903.0 L278.5 900.0 L278.3 897.0 L278.0 894.0 L277.7 891.0 L277.4 888.0 L277.1 885.0 L276.7 882.0 L276.4 879.0 L276.0 876.0 L275.6 873.0 L275.2 870.0 L274.7 867.0 L274.3 864.0 L273.8 861.0 L273.2 858.0 L272.7 855.0 L272.0 852.0 L271.4 849.0 L270.7 846.0 L270.1 843.0 L269.5 840.0 L268.9 837.0 L268.4 834.0 L267.9 831.0 L267.4 828.0 L266.8 825.0 L266.3 822.0 L265.8 819.0 L265.3 816.0 L264.8 813.0 L264.3 810.0 L263.8 807.0 L263.3 804.0 L262.8 801.0 L262.3 798.0 L261.8 795.0 L261.3 792.0 L260.9 789.0 L260.5 786.0 L260.2 783.0 L259.8 780.0 L259.5 777.0 L259.1 774.0 L258.8 771.0 L258.5 768.0 L258.2 765.0 L258.0 762.0 L257.7 759.0 L257.5 756.0 L257.2 753.0 L257.0 750.0 L256.7 747.0 L256.5 744.0 L256.2 741.0 L256.0 738.0 L255.8 735.0 L255.6 732.0 L255.4 729.0 L255.3 726.0 L255.2 723.0 L255.1 720.0 L255.0 717.0 L255.0 714.0 L255.0 711.0 L255.0 708.0 L254.9 705.0 L254.9 702.0 L254.9 699.0 L254.9 696.0 L254.9 693.0 L254.8 690.0 L254.8 687.0 L254.7 684.0 L254.6 681.0 L254.6 678.0 L254.5 675.0 L254.3 672.0 L254.2 669.0 L254.1 666.0 L253.9 663.0 L253.7 660.0 L253.6 657.0 L253.4 654.0 L253.1 651.0 L252.7 648.0 L252.3 645.0 L251.8 642.0 L251.3 639.0 L250.8 636.0 L250.3 633.0 L249.7 630.0 L249.2 627.0 L248.7 624.0 L248.2 621.0 L247.7 618.0 L247.2 615.0 L246.6 612.0 L246.1 609.0 L245.5 606.0 L245.0 603.0 L244.4 600.0 L243.9 597.0 L243.4 594.0 L242.8 591.0 L242.3 588.0 L241.7 585.0 L241.2 582.0 L240.6 579.0 L240.0 576.0 L239.5 573.0 L238.9 570.0 L238.4 567.0 L238.0 564.0 L237.5 561.0 L237.2 558.0 L236.8 555.0 L236.5 552.0 L236.0 549.0 L235.6 546.0 L235.0 543.0 L234.5 540.0 L234.0 537.0 L233.5 534.0 L233.0 531.0 L232.7 528.0 L232.4 525.0 L232.3 522.0 L232.3 519.0 L232.4 516.0 L232.7 513.0 L232.9 510.0 L233.2 507.0 L233.5 504.0 L233.9 501.0 L234.4 498.0 L234.9 495.0 L235.6 492.0 L236.2 489.0 L237.0 486.0 L237.7 483.0 L238.5 480.0 L239.3 477.0 L240.2 474.0 L241.2 471.0 L242.2 468.0 L243.3 465.0 L244.4 462.0 L245.5 459.0 L246.6 456.0 L247.8 453.0 L249.0 450.0 L250.3 447.0 L251.6 444.0 L252.9 441.0 L254.3 438.0 L255.6 435.0 L256.9 432.0 L258.2 429.0 L259.4 426.0 L260.6 423.0 L261.9 420.0 L263.1 417.0 L264.3 414.0 L265.5 411.0 L266.6 408.0 L267.6 405.0 L268.4 402.0 L269.1 399.0 L269.8 396.0 L270.3 393.0 L270.9 390.0 L271.4 387.0 L271.9 384.0 L272.3 381.0 L272.7 378.0 L273.1 375.0 L273.5 372.0 L273.9 369.0 L274.2 366.0 L274.5 363.0 L274.8 360.0 L275.1 357.0 L275.4 354.0 L275.7 351.0 L276.0 348.0 L276.3 345.0 L276.6 342.0 L277.0 339.0 L277.2 336.0 L277.5 333.0 L277.7 330.0 L278.0 327.0 L278.2 324.0 L278.4 321.0 L278.5 318.0 L278.6 315.0 L278.7 312.0 L278.7 309.0 L278.8 306.0 L278.8 303.0 L278.8 300.0 L278.9 297.0 L278.9 294.0 L278.9 291.0 L278.9 288.0 L279.0 285.0 L279.0 282.0 L279.0 279.0 L279.0 276.0 L279.1 273.0 L279.1 270.0 L279.1 267.0 L279.1 264.0 L279.1 261.0 L279.1 258.0 L279.2 255.0 L279.2 252.0 L279.2 249.0 L279.2 246.0 L279.2 243.0 L279.2 240.0 L279.3 237.0 L279.3 234.0 L279.3 231.0 L279.3 228.0 L279.3 225.0 L279.3 222.0 L279.4 219.0 L279.4 216.0 L279.4 213.0 L279.4 210.0 L279.4 207.0 L279.4 204.0 L279.5 201.0 L279.5 198.0 L279.5 195.0 L279.5 192.0 L279.5 189.0 L279.5 186.0 L279.5 183.0 L279.6 180.0 L279.6 177.0 L279.6 174.0 L279.6 171.0 L279.6 168.0 L279.6 165.0 L279.7 162.0 L279.7 159.0 L279.7 156.0 L279.7 153.0 L279.7 150.0 L279.7 147.0 L279.7 144.0 L279.8 141.0 L279.8 138.0 L279.8 135.0 L279.8 132.0 L279.8 129.0 L279.8 126.0 L279.8 123.0 L279.8 120.0 L279.9 117.0 L279.9 114.0 L279.9 111.0 L279.9 108.0 L279.9 105.0 L279.9 102.0 L279.9 99.0 L280.0 96.0 L280.0 93.0 L280.0 90.0 L280.0 87.0 L280.0 84.0Z" fill="#F8766D" stroke="#333" stroke-width="1.9" stroke-linejoin="round"/>
<path d="M387.4 87.4 L387.4 90.4 L387.4 93.4 L387.4 96.4 L387.5 99.4 L387.5 102.4 L387.5 105.4 L387.5 108.4 L387.5 111.4 L387.5 114.4 L387.5 117.4 L387.5 120.4 L387.6 123.4 L387.6 126.4 L387.6 129.4 L387.6 132.4 L387.6 135.4 L387.6 138.4 L387.6 141.4 L387.7 144.4 L387.7 147.4 L387.7 150.4 L387.7 153.4 L387.7 156.4 L387.7 159.4 L387.7 162.4 L387.8 165.4 L387.8 168.4 L387.8 171.4 L387.8 174.4 L387.8 177.4 L387.8 180.4 L387.9 183.4 L387.9 186.4 L387.9 189.4 L387.9 192.4 L387.9 195.4 L387.9 198.4 L387.9 201.4 L388.0 204.4 L388.0 207.4 L388.0 210.4 L388.0 213.4 L388.0 216.4 L388.0 219.4 L388.1 222.4 L388.1 225.4 L388.1 228.4 L388.1 231.4 L388.1 234.4 L388.1 237.4 L388.2 240.4 L388.2 243.4 L388.2 246.4 L388.2 249.4 L388.2 252.4 L388.2 255.4 L388.3 258.4 L388.3 261.4 L388.3 264.4 L388.3 267.4 L388.3 270.4 L388.4 273.4 L388.4 276.4 L388.4 279.4 L388.4 282.4 L388.4 285.4 L388.5 288.4 L388.5 291.4 L388.5 294.4 L388.5 297.4 L388.6 300.4 L388.6 303.4 L388.6 306.4 L388.7 309.4 L388.7 312.4 L388.8 315.4 L388.9 318.4 L389.1 321.4 L389.2 324.4 L389.5 327.4 L389.7 330.4 L389.9 333.4 L390.2 336.4 L390.5 339.4 L390.8 342.4 L391.1 345.4 L391.4 348.4 L391.7 351.4 L392.0 354.4 L392.3 357.4 L392.6 360.4 L392.9 363.4 L393.2 366.4 L393.5 369.4 L393.9 372.4 L394.3 375.4 L394.7 378.4 L395.1 381.4 L395.6 384.4 L396.1 387.4 L396.5 390.4 L397.0 393.4 L397.6 396.4 L398.2 399.4 L398.9 402.4 L399.7 405.4 L400.6 408.4 L401.6 411.4 L402.7 414.4 L403.9 417.4 L405.1 420.4 L406.3 423.4 L407.6 426.4 L408.9 429.4 L410.2 432.4 L411.5 435.4 L412.8 438.4 L414.1 441.4 L415.6 444.4 L417.1 447.4 L418.8 450.4 L420.4 453.4 L422.1 456.4 L423.6 459.4 L425.1 462.4 L426.5 465.4 L427.7 468.4 L428.7 471.4 L429.5 474.4 L430.2 477.4 L430.9 480.4 L431.6 483.4 L432.2 486.4 L432.8 489.4 L433.4 492.4 L433.8 495.4 L434.2 498.4 L434.6 501.4 L434.8 504.4 L434.9 507.4 L434.9 510.4 L434.9 513.4 L434.8 516.4 L434.7 519.4 L434.6 522.4 L434.4 525.4 L434.2 528.4 L434.0 531.4 L433.8 534.4 L433.6 537.4 L433.4 540.4 L433.2 543.4 L432.9 546.4 L432.6 549.4 L432.3 552.4 L431.8 555.4 L431.4 558.4 L430.9 561.4 L430.4 564.4 L429.9 567.4 L429.4 570.4 L428.8 573.4 L428.3 576.4 L427.8 579.4 L427.3 582.4 L426.8 585.4 L426.2 588.4 L425.7 591.4 L425.1 594.4 L424.6 597.4 L424.0 600.4 L423.4 603.4 L422.9 606.4 L422.4 609.4 L421.8 612.4 L421.3 615.4 L420.8 618.4 L420.3 621.4 L419.8 624.4 L419.4 627.4 L418.9 630.4 L418.4 633.4 L417.9 636.4 L417.5 639.4 L417.1 642.4 L416.7 645.4 L416.4 648.4 L416.1 651.4 L415.8 654.4 L415.5 657.4 L415.2 660.4 L415.0 663.4 L414.7 666.4 L414.5 669.4 L414.3 672.4 L414.0 675.4 L413.8 678.4 L413.6 681.4 L413.5 684.4 L413.3 687.4 L413.1 690.4 L413.0 693.4 L412.8 696.4 L412.7 699.4 L412.5 702.4 L412.4 705.4 L412.3 708.4 L412.1 711.4 L412.0 714.4 L411.8 717.4 L411.6 720.4 L411.5 723.4 L411.3 726.4 L411.1 729.4 L410.9 732.4 L410.7 735.4 L410.5 738.4 L410.3 741.4 L410.1 744.4 L409.8 747.4 L409.6 750.4 L409.4 753.4 L409.1 756.4 L408.8 759.4 L408.5 762.4 L408.2 765.4 L407.9 768.4 L407.5 771.4 L407.2 774.4 L406.9 777.4 L406.5 780.4 L406.1 783.4 L405.8 786.4 L405.4 789.4 L405.1 792.4 L404.8 795.4 L404.4 798.4 L404.1 801.4 L403.7 804.4 L403.4 807.4 L403.0 810.4 L402.7 813.4 L402.3 816.4 L401.9 819.4 L401.5 822.4 L401.1 825.4 L400.7 828.4 L400.2 831.4 L399.7 834.4 L399.2 837.4 L398.7 840.4 L398.2 843.4 L397.7 846.4 L397.1 849.4 L396.6 852.4 L396.0 855.4 L395.5 858.4 L395.0 861.4 L394.5 864.4 L393.9 867.4 L393.3 870.4 L392.7 873.4 L392.1 876.4 L391.5 879.4 L391.0 882.4 L390.5 885.4 L390.0 888.4 L389.6 891.4 L389.3 894.4 L389.0 897.4 L388.8 900.4 L388.6 903.4 L388.3 906.4 L388.1 909.4 L388.0 912.4 L387.8 915.4 L387.6 918.4 L387.5 921.4 L387.5 924.4 L387.4 927.4 L387.4 929.2 L387.4 929.2 L387.4 927.4 L387.3 924.4 L387.3 921.4 L387.2 918.4 L387.0 915.4 L386.8 912.4 L386.7 909.4 L386.5 906.4 L386.2 903.4 L386.0 900.4 L385.8 897.4 L385.5 894.4 L385.2 891.4 L384.8 888.4 L384.3 885.4 L383.8 882.4 L383.3 879.4 L382.7 876.4 L382.1 873.4 L381.5 870.4 L380.9 867.4 L380.3 864.4 L379.8 861.4 L379.3 858.4 L378.8 855.4 L378.2 852.4 L377.7 849.4 L377.1 846.4 L376.6 843.4 L376.1 840.4 L375.6 837.4 L375.1 834.4 L374.6 831.4 L374.1 828.4 L373.7 825.4 L373.3 822.4 L372.9 819.4 L372.5 816.4 L372.1 813.4 L371.8 810.4 L371.4 807.4 L371.1 804.4 L370.7 801.4 L370.4 798.4 L370.0 795.4 L369.7 792.4 L369.4 789.4 L369.0 786.4 L368.7 783.4 L368.3 780.4 L367.9 777.4 L367.6 774.4 L367.3 771.4 L366.9 768.4 L366.6 765.4 L366.3 762.4 L366.0 759.4 L365.7 756.4 L365.4 753.4 L365.2 750.4 L365.0 747.4 L364.7 744.4 L364.5 741.4 L364.3 738.4 L364.1 735.4 L363.9 732.4 L363.7 729.4 L363.5 726.4 L363.3 723.4 L363.2 720.4 L363.0 717.4 L362.8 714.4 L362.7 711.4 L362.5 708.4 L362.4 705.4 L362.3 702.4 L362.1 699.4 L362.0 696.4 L361.8 693.4 L361.7 690.4 L361.5 687.4 L361.3 684.4 L361.2 681.4 L361.0 678.4 L360.8 675.4 L360.5 672.4 L360.3 669.4 L360.1 666.4 L359.8 663.4 L359.6 660.4 L359.3 657.4 L359.0 654.4 L358.7 651.4 L358.4 648.4 L358.1 645.4 L357.7 642.4 L357.3 639.4 L356.9 636.4 L356.4 633.4 L355.9 630.4 L355.4 627.4 L355.0 624.4 L354.5 621.4 L354.0 618.4 L353.5 615.4 L353.0 612.4 L352.4 609.4 L351.9 606.4 L351.4 603.4 L350.8 600.4 L350.2 597.4 L349.7 594.4 L349.1 591.4 L348.6 588.4 L348.0 585.4 L347.5 582.4 L347.0 579.4 L346.5 576.4 L346.0 573.4 L345.4 570.4 L344.9 567.4 L344.4 564.4 L343.9 561.4 L343.4 558.4 L343.0 555.4 L342.5 552.4 L342.2 549.4 L341.9 546.4 L341.6 543.4 L341.4 540.4 L341.2 537.4 L341.0 534.4 L340.8 531.4 L340.6 528.4 L340.4 525.4 L340.2 522.4 L340.1 519.4 L340.0 516.4 L339.9 513.4 L339.9 510.4 L339.9 507.4 L340.0 504.4 L340.2 501.4 L340.6 498.4 L341.0 495.4 L341.4 492.4 L342.0 489.4 L342.6 486.4 L343.2 483.4 L343.9 480.4 L344.6 477.4 L345.3 474.4 L346.1 471.4 L347.1 468.4 L348.3 465.4 L349.7 462.4 L351.2 459.4 L352.7 456.4 L354.4 453.4 L356.0 450.4 L357.7 447.4 L359.2 444.4 L360.7 441.4 L362.0 438.4 L363.3 435.4 L364.6 432.4 L365.9 429.4 L367.2 426.4 L368.5 423.4 L369.7 420.4 L370.9 417.4 L372.1 414.4 L373.2 411.4 L374.2 408.4 L375.1 405.4 L375.9 402.4 L376.6 399.4 L377.2 396.4 L377.8 393.4 L378.3 390.4 L378.7 387.4 L379.2 384.4 L379.7 381.4 L380.1 378.4 L380.5 375.4 L380.9 372.4 L381.3 369.4 L381.6 366.4 L381.9 363.4 L382.2 360.4 L382.5 357.4 L382.8 354.4 L383.1 351.4 L383.4 348.4 L383.7 345.4 L384.0 342.4 L384.3 339.4 L384.6 336.4 L384.9 333.4 L385.1 330.4 L385.3 327.4 L385.6 324.4 L385.7 321.4 L385.9 318.4 L386.0 315.4 L386.1 312.4 L386.1 309.4 L386.2 306.4 L386.2 303.4 L386.2 300.4 L386.3 297.4 L386.3 294.4 L386.3 291.4 L386.3 288.4 L386.4 285.4 L386.4 282.4 L386.4 279.4 L386.4 276.4 L386.4 273.4 L386.5 270.4 L386.5 267.4 L386.5 264.4 L386.5 261.4 L386.5 258.4 L386.6 255.4 L386.6 252.4 L386.6 249.4 L386.6 246.4 L386.6 243.4 L386.6 240.4 L386.7 237.4 L386.7 234.4 L386.7 231.4 L386.7 228.4 L386.7 225.4 L386.7 222.4 L386.8 219.4 L386.8 216.4 L386.8 213.4 L386.8 210.4 L386.8 207.4 L386.8 204.4 L386.9 201.4 L386.9 198.4 L386.9 195.4 L386.9 192.4 L386.9 189.4 L386.9 186.4 L386.9 183.4 L387.0 180.4 L387.0 177.4 L387.0 174.4 L387.0 171.4 L387.0 168.4 L387.0 165.4 L387.1 162.4 L387.1 159.4 L387.1 156.4 L387.1 153.4 L387.1 150.4 L387.1 147.4 L387.1 144.4 L387.2 141.4 L387.2 138.4 L387.2 135.4 L387.2 132.4 L387.2 129.4 L387.2 126.4 L387.2 123.4 L387.3 120.4 L387.3 117.4 L387.3 114.4 L387.3 111.4 L387.3 108.4 L387.3 105.4 L387.3 102.4 L387.3 99.4 L387.4 96.4 L387.4 93.4 L387.4 90.4 L387.4 87.4Z" fill="#D39200" stroke="#333" stroke-width="1.9" stroke-linejoin="round"/>
<path d="M495.1 84.6 L495.1 87.6 L495.1 90.6 L495.1 93.6 L495.1 96.6 L495.2 99.6 L495.2 102.6 L495.2 105.6 L495.2 108.6 L495.2 111.6 L495.2 114.6 L495.2 117.6 L495.3 120.6 L495.3 123.6 L495.3 126.6 L495.3 129.6 L495.3 132.6 L495.3 135.6 L495.3 138.6 L495.3 141.6 L495.4 144.6 L495.4 147.6 L495.4 150.6 L495.4 153.6 L495.4 156.6 L495.4 159.6 L495.4 162.6 L495.5 165.6 L495.5 168.6 L495.5 171.6 L495.5 174.6 L495.5 177.6 L495.5 180.6 L495.6 183.6 L495.6 186.6 L495.6 189.6 L495.6 192.6 L495.6 195.6 L495.6 198.6 L495.6 201.6 L495.7 204.6 L495.7 207.6 L495.7 210.6 L495.7 213.6 L495.7 216.6 L495.7 219.6 L495.8 222.6 L495.8 225.6 L495.8 228.6 L495.8 231.6 L495.8 234.6 L495.8 237.6 L495.9 240.6 L495.9 243.6 L495.9 246.6 L495.9 249.6 L495.9 252.6 L495.9 255.6 L496.0 258.6 L496.0 261.6 L496.0 264.6 L496.0 267.6 L496.0 270.6 L496.1 273.6 L496.1 276.6 L496.1 279.6 L496.1 282.6 L496.1 285.6 L496.2 288.6 L496.2 291.6 L496.2 294.6 L496.3 297.6 L496.3 300.6 L496.3 303.6 L496.4 306.6 L496.4 309.6 L496.5 312.6 L496.6 315.6 L496.7 318.6 L496.8 321.6 L497.0 324.6 L497.2 327.6 L497.5 330.6 L497.7 333.6 L498.0 336.6 L498.3 339.6 L498.6 342.6 L498.9 345.6 L499.3 348.6 L499.6 351.6 L499.9 354.6 L500.2 357.6 L500.5 360.6 L500.8 363.6 L501.1 366.6 L501.5 369.6 L501.8 372.6 L502.2 375.6 L502.7 378.6 L503.1 381.6 L503.6 384.6 L504.1 387.6 L504.6 390.6 L505.1 393.6 L505.7 396.6 L506.3 399.6 L507.0 402.6 L507.8 405.6 L508.6 408.6 L509.5 411.6 L510.5 414.6 L511.5 417.6 L512.5 420.6 L513.6 423.6 L514.7 426.6 L515.8 429.6 L516.9 432.6 L518.0 435.6 L519.1 438.6 L520.3 441.6 L521.5 444.6 L522.7 447.6 L524.0 450.6 L525.4 453.6 L526.7 456.6 L528.0 459.6 L529.2 462.6 L530.4 465.6 L531.5 468.6 L532.5 471.6 L533.4 474.6 L534.3 477.6 L535.2 480.6 L536.1 483.6 L536.9 486.6 L537.8 489.6 L538.5 492.6 L539.2 495.6 L539.9 498.6 L540.4 501.6 L540.8 504.6 L541.1 507.6 L541.3 510.6 L541.5 513.6 L541.6 516.6 L541.8 519.6 L541.9 522.6 L541.9 525.6 L541.8 528.6 L541.7 531.6 L541.4 534.6 L541.0 537.6 L540.6 540.6 L540.2 543.6 L539.8 546.6 L539.3 549.6 L538.8 552.6 L538.3 555.6 L537.8 558.6 L537.2 561.6 L536.6 564.6 L536.0 567.6 L535.4 570.6 L534.8 573.6 L534.3 576.6 L533.7 579.6 L533.2 582.6 L532.6 585.6 L532.1 588.6 L531.6 591.6 L531.0 594.6 L530.5 597.6 L530.0 600.6 L529.5 603.6 L529.0 606.6 L528.5 609.6 L528.1 612.6 L527.6 615.6 L527.2 618.6 L526.8 621.6 L526.4 624.6 L526.0 627.6 L525.6 630.6 L525.2 633.6 L524.9 636.6 L524.5 639.6 L524.2 642.6 L523.9 645.6 L523.7 648.6 L523.4 651.6 L523.2 654.6 L523.0 657.6 L522.8 660.6 L522.6 663.6 L522.4 666.6 L522.3 669.6 L522.1 672.6 L521.9 675.6 L521.8 678.6 L521.6 681.6 L521.5 684.6 L521.4 687.6 L521.2 690.6 L521.1 693.6 L521.0 696.6 L520.9 699.6 L520.8 702.6 L520.7 705.6 L520.6 708.6 L520.5 711.6 L520.4 714.6 L520.2 717.6 L520.0 720.6 L519.8 723.6 L519.6 726.6 L519.3 729.6 L519.0 732.6 L518.7 735.6 L518.4 738.6 L518.0 741.6 L517.7 744.6 L517.4 747.6 L517.0 750.6 L516.7 753.6 L516.4 756.6 L516.1 759.6 L515.8 762.6 L515.5 765.6 L515.2 768.6 L515.0 771.6 L514.7 774.6 L514.4 777.6 L514.1 780.6 L513.8 783.6 L513.4 786.6 L513.1 789.6 L512.8 792.6 L512.4 795.6 L512.1 798.6 L511.7 801.6 L511.3 804.6 L510.9 807.6 L510.5 810.6 L510.1 813.6 L509.7 816.6 L509.3 819.6 L508.9 822.6 L508.4 825.6 L508.0 828.6 L507.6 831.6 L507.2 834.6 L506.7 837.6 L506.3 840.6 L505.8 843.6 L505.4 846.6 L504.9 849.6 L504.4 852.6 L504.0 855.6 L503.5 858.6 L503.0 861.6 L502.5 864.6 L502.0 867.6 L501.4 870.6 L500.8 873.6 L500.2 876.6 L499.7 879.6 L499.1 882.6 L498.6 885.6 L498.1 888.6 L497.7 891.6 L497.3 894.6 L497.0 897.6 L496.8 900.6 L496.5 903.6 L496.2 906.6 L496.0 909.6 L495.8 912.6 L495.6 915.6 L495.4 918.6 L495.3 921.6 L495.2 924.6 L495.1 926.7 L495.1 926.7 L495.0 924.6 L494.9 921.6 L494.8 918.6 L494.6 915.6 L494.4 912.6 L494.2 909.6 L494.0 906.6 L493.7 903.6 L493.4 900.6 L493.2 897.6 L492.9 894.6 L492.5 891.6 L492.1 888.6 L491.6 885.6 L491.1 882.6 L490.5 879.6 L490.0 876.6 L489.4 873.6 L488.8 870.6 L488.2 867.6 L487.7 864.6 L487.2 861.6 L486.7 858.6 L486.2 855.6 L485.8 852.6 L485.3 849.6 L484.8 846.6 L484.4 843.6 L483.9 840.6 L483.5 837.6 L483.0 834.6 L482.6 831.6 L482.2 828.6 L481.8 825.6 L481.3 822.6 L480.9 819.6 L480.5 816.6 L480.1 813.6 L479.7 810.6 L479.3 807.6 L478.9 804.6 L478.5 801.6 L478.1 798.6 L477.8 795.6 L477.4 792.6 L477.1 789.6 L476.8 786.6 L476.4 783.6 L476.1 780.6 L475.8 777.6 L475.5 774.6 L475.2 771.6 L475.0 768.6 L474.7 765.6 L474.4 762.6 L474.1 759.6 L473.8 756.6 L473.5 753.6 L473.2 750.6 L472.8 747.6 L472.5 744.6 L472.2 741.6 L471.8 738.6 L471.5 735.6 L471.2 732.6 L470.9 729.6 L470.6 726.6 L470.4 723.6 L470.2 720.6 L470.0 717.6 L469.8 714.6 L469.7 711.6 L469.6 708.6 L469.5 705.6 L469.4 702.6 L469.3 699.6 L469.2 696.6 L469.1 693.6 L469.0 690.6 L468.8 687.6 L468.7 684.6 L468.6 681.6 L468.4 678.6 L468.3 675.6 L468.1 672.6 L467.9 669.6 L467.8 666.6 L467.6 663.6 L467.4 660.6 L467.2 657.6 L467.0 654.6 L466.8 651.6 L466.5 648.6 L466.3 645.6 L466.0 642.6 L465.7 639.6 L465.3 636.6 L465.0 633.6 L464.6 630.6 L464.2 627.6 L463.8 624.6 L463.4 621.6 L463.0 618.6 L462.6 615.6 L462.1 612.6 L461.7 609.6 L461.2 606.6 L460.7 603.6 L460.2 600.6 L459.7 597.6 L459.2 594.6 L458.6 591.6 L458.1 588.6 L457.6 585.6 L457.0 582.6 L456.5 579.6 L455.9 576.6 L455.4 573.6 L454.8 570.6 L454.2 567.6 L453.6 564.6 L453.0 561.6 L452.4 558.6 L451.9 555.6 L451.4 552.6 L450.9 549.6 L450.4 546.6 L450.0 543.6 L449.6 540.6 L449.2 537.6 L448.8 534.6 L448.5 531.6 L448.4 528.6 L448.3 525.6 L448.3 522.6 L448.4 519.6 L448.6 516.6 L448.7 513.6 L448.9 510.6 L449.1 507.6 L449.4 504.6 L449.8 501.6 L450.3 498.6 L451.0 495.6 L451.7 492.6 L452.4 489.6 L453.3 486.6 L454.1 483.6 L455.0 480.6 L455.9 477.6 L456.8 474.6 L457.7 471.6 L458.7 468.6 L459.8 465.6 L461.0 462.6 L462.2 459.6 L463.5 456.6 L464.8 453.6 L466.2 450.6 L467.5 447.6 L468.7 444.6 L469.9 441.6 L471.1 438.6 L472.2 435.6 L473.3 432.6 L474.4 429.6 L475.5 426.6 L476.6 423.6 L477.7 420.6 L478.7 417.6 L479.7 414.6 L480.7 411.6 L481.6 408.6 L482.4 405.6 L483.2 402.6 L483.9 399.6 L484.5 396.6 L485.1 393.6 L485.6 390.6 L486.1 387.6 L486.6 384.6 L487.1 381.6 L487.5 378.6 L488.0 375.6 L488.4 372.6 L488.7 369.6 L489.1 366.6 L489.4 363.6 L489.7 360.6 L490.0 357.6 L490.3 354.6 L490.6 351.6 L490.9 348.6 L491.3 345.6 L491.6 342.6 L491.9 339.6 L492.2 336.6 L492.5 333.6 L492.7 330.6 L493.0 327.6 L493.2 324.6 L493.4 321.6 L493.5 318.6 L493.6 315.6 L493.7 312.6 L493.8 309.6 L493.8 306.6 L493.9 303.6 L493.9 300.6 L493.9 297.6 L494.0 294.6 L494.0 291.6 L494.0 288.6 L494.1 285.6 L494.1 282.6 L494.1 279.6 L494.1 276.6 L494.1 273.6 L494.2 270.6 L494.2 267.6 L494.2 264.6 L494.2 261.6 L494.2 258.6 L494.3 255.6 L494.3 252.6 L494.3 249.6 L494.3 246.6 L494.3 243.6 L494.3 240.6 L494.4 237.6 L494.4 234.6 L494.4 231.6 L494.4 228.6 L494.4 225.6 L494.4 222.6 L494.5 219.6 L494.5 216.6 L494.5 213.6 L494.5 210.6 L494.5 207.6 L494.5 204.6 L494.6 201.6 L494.6 198.6 L494.6 195.6 L494.6 192.6 L494.6 189.6 L494.6 186.6 L494.6 183.6 L494.7 180.6 L494.7 177.6 L494.7 174.6 L494.7 171.6 L494.7 168.6 L494.7 165.6 L494.8 162.6 L494.8 159.6 L494.8 156.6 L494.8 153.6 L494.8 150.6 L494.8 147.6 L494.8 144.6 L494.9 141.6 L494.9 138.6 L494.9 135.6 L494.9 132.6 L494.9 129.6 L494.9 126.6 L494.9 123.6 L494.9 120.6 L495.0 117.6 L495.0 114.6 L495.0 111.6 L495.0 108.6 L495.0 105.6 L495.0 102.6 L495.0 99.6 L495.1 96.6 L495.1 93.6 L495.1 90.6 L495.1 87.6 L495.1 84.6Z" fill="#93AA00" stroke="#333" stroke-width="1.9" stroke-linejoin="round"/>
<path d="M602.7 106.8 L602.7 109.8 L602.7 112.8 L602.7 115.8 L602.8 118.8 L602.8 121.8 L602.8 124.8 L602.8 127.8 L602.8 130.8 L602.8 133.8 L602.9 136.8 L602.9 139.8 L602.9 142.8 L602.9 145.8 L602.9 148.8 L602.9 151.8 L603.0 154.8 L603.0 157.8 L603.0 160.8 L603.0 163.8 L603.0 166.8 L603.1 169.8 L603.1 172.8 L603.1 175.8 L603.1 178.8 L603.1 181.8 L603.1 184.8 L603.2 187.8 L603.2 190.8 L603.2 193.8 L603.2 196.8 L603.2 199.8 L603.2 202.8 L603.3 205.8 L603.3 208.8 L603.3 211.8 L603.3 214.8 L603.3 217.8 L603.3 220.8 L603.4 223.8 L603.4 226.8 L603.4 229.8 L603.4 232.8 L603.4 235.8 L603.4 238.8 L603.5 241.8 L603.5 244.8 L603.5 247.8 L603.5 250.8 L603.5 253.8 L603.5 256.8 L603.6 259.8 L603.6 262.8 L603.6 265.8 L603.6 268.8 L603.6 271.8 L603.7 274.8 L603.7 277.8 L603.7 280.8 L603.7 283.8 L603.8 286.8 L603.8 289.8 L603.8 292.8 L603.9 295.8 L603.9 298.8 L604.0 301.8 L604.0 304.8 L604.1 307.8 L604.2 310.8 L604.2 313.8 L604.3 316.8 L604.5 319.8 L604.7 322.8 L604.9 325.8 L605.1 328.8 L605.4 331.8 L605.7 334.8 L606.0 337.8 L606.3 340.8 L606.7 343.8 L607.0 346.8 L607.4 349.8 L607.7 352.8 L608.0 355.8 L608.4 358.8 L608.7 361.8 L609.0 364.8 L609.4 367.8 L609.8 370.8 L610.2 373.8 L610.7 376.8 L611.1 379.8 L611.6 382.8 L612.2 385.8 L612.7 388.8 L613.2 391.8 L613.8 394.8 L614.5 397.8 L615.2 400.8 L616.0 403.8 L617.0 406.8 L618.0 409.8 L619.2 412.8 L620.4 415.8 L621.7 418.8 L623.0 421.8 L624.4 424.8 L625.8 427.8 L627.1 430.8 L628.5 433.8 L629.8 436.8 L631.1 439.8 L632.6 442.8 L634.1 445.8 L635.7 448.8 L637.3 451.8 L638.9 454.8 L640.4 457.8 L641.9 460.8 L643.2 463.8 L644.4 466.8 L645.4 469.8 L646.2 472.8 L646.8 475.8 L647.3 478.8 L647.8 481.8 L648.3 484.8 L648.8 487.8 L649.2 490.8 L649.6 493.8 L649.9 496.8 L650.2 499.8 L650.4 502.8 L650.5 505.8 L650.6 508.8 L650.5 511.8 L650.4 514.8 L650.2 517.8 L650.0 520.8 L649.7 523.8 L649.4 526.8 L649.1 529.8 L648.8 532.8 L648.4 535.8 L648.0 538.8 L647.6 541.8 L647.3 544.8 L646.9 547.8 L646.4 550.8 L645.9 553.8 L645.3 556.8 L644.7 559.8 L644.2 562.8 L643.5 565.8 L642.9 568.8 L642.4 571.8 L641.8 574.8 L641.3 577.8 L640.8 580.8 L640.3 583.8 L639.8 586.8 L639.4 589.8 L638.9 592.8 L638.4 595.8 L638.0 598.8 L637.6 601.8 L637.1 604.8 L636.7 607.8 L636.3 610.8 L635.8 613.8 L635.4 616.8 L635.0 619.8 L634.6 622.8 L634.1 625.8 L633.7 628.8 L633.3 631.8 L632.9 634.8 L632.5 637.8 L632.1 640.8 L631.8 643.8 L631.5 646.8 L631.2 649.8 L630.9 652.8 L630.7 655.8 L630.4 658.8 L630.2 661.8 L630.0 664.8 L629.8 667.8 L629.6 670.8 L629.4 673.8 L629.2 676.8 L629.0 679.8 L628.8 682.8 L628.7 685.8 L628.5 688.8 L628.4 691.8 L628.2 694.8 L628.1 697.8 L627.9 700.8 L627.8 703.8 L627.6 706.8 L627.5 709.8 L627.4 712.8 L627.2 715.8 L627.0 718.8 L626.9 721.8 L626.7 724.8 L626.5 727.8 L626.3 730.8 L626.1 733.8 L625.9 736.8 L625.7 739.8 L625.5 742.8 L625.3 745.8 L625.0 748.8 L624.8 751.8 L624.5 754.8 L624.3 757.8 L624.0 760.8 L623.7 763.8 L623.4 766.8 L623.0 769.8 L622.7 772.8 L622.3 775.8 L622.0 778.8 L621.6 781.8 L621.3 784.8 L620.9 787.8 L620.6 790.8 L620.2 793.8 L619.9 796.8 L619.6 799.8 L619.2 802.8 L618.9 805.8 L618.5 808.8 L618.2 811.8 L617.8 814.8 L617.4 817.8 L617.0 820.8 L616.6 823.8 L616.2 826.8 L615.8 829.8 L615.3 832.8 L614.8 835.8 L614.3 838.8 L613.7 841.8 L613.2 844.8 L612.7 847.8 L612.1 850.8 L611.6 853.8 L611.1 856.8 L610.6 859.8 L610.1 862.8 L609.5 865.8 L609.0 868.8 L608.5 871.8 L607.9 874.8 L607.4 877.8 L606.9 880.8 L606.4 883.8 L605.9 886.8 L605.5 889.8 L605.1 892.8 L604.8 895.8 L604.5 898.8 L604.2 901.8 L604.0 904.8 L603.7 907.8 L603.5 910.8 L603.3 913.8 L603.1 916.8 L602.9 919.8 L602.8 922.8 L602.7 925.7 L602.7 925.7 L602.6 922.8 L602.5 919.8 L602.3 916.8 L602.1 913.8 L601.9 910.8 L601.7 907.8 L601.4 904.8 L601.2 901.8 L600.9 898.8 L600.6 895.8 L600.3 892.8 L599.9 889.8 L599.5 886.8 L599.0 883.8 L598.5 880.8 L598.0 877.8 L597.5 874.8 L596.9 871.8 L596.4 868.8 L595.9 865.8 L595.3 862.8 L594.8 859.8 L594.3 856.8 L593.8 853.8 L593.3 850.8 L592.7 847.8 L592.2 844.8 L591.7 841.8 L591.1 838.8 L590.6 835.8 L590.1 832.8 L589.6 829.8 L589.2 826.8 L588.8 823.8 L588.4 820.8 L588.0 817.8 L587.6 814.8 L587.2 811.8 L586.9 808.8 L586.5 805.8 L586.2 802.8 L585.8 799.8 L585.5 796.8 L585.2 793.8 L584.8 790.8 L584.5 787.8 L584.1 784.8 L583.8 781.8 L583.4 778.8 L583.1 775.8 L582.7 772.8 L582.4 769.8 L582.0 766.8 L581.7 763.8 L581.4 760.8 L581.1 757.8 L580.9 754.8 L580.6 751.8 L580.4 748.8 L580.1 745.8 L579.9 742.8 L579.7 739.8 L579.5 736.8 L579.3 733.8 L579.1 730.8 L578.9 727.8 L578.7 724.8 L578.5 721.8 L578.4 718.8 L578.2 715.8 L578.0 712.8 L577.9 709.8 L577.8 706.8 L577.6 703.8 L577.5 700.8 L577.3 697.8 L577.2 694.8 L577.0 691.8 L576.9 688.8 L576.7 685.8 L576.6 682.8 L576.4 679.8 L576.2 676.8 L576.0 673.8 L575.8 670.8 L575.6 667.8 L575.4 664.8 L575.2 661.8 L575.0 658.8 L574.7 655.8 L574.5 652.8 L574.2 649.8 L573.9 646.8 L573.6 643.8 L573.3 640.8 L572.9 637.8 L572.5 634.8 L572.1 631.8 L571.7 628.8 L571.3 625.8 L570.8 622.8 L570.4 619.8 L570.0 616.8 L569.6 613.8 L569.1 610.8 L568.7 607.8 L568.3 604.8 L567.8 601.8 L567.4 598.8 L567.0 595.8 L566.5 592.8 L566.0 589.8 L565.6 586.8 L565.1 583.8 L564.6 580.8 L564.1 577.8 L563.6 574.8 L563.0 571.8 L562.5 568.8 L561.9 565.8 L561.2 562.8 L560.7 559.8 L560.1 556.8 L559.5 553.8 L559.0 550.8 L558.5 547.8 L558.1 544.8 L557.8 541.8 L557.4 538.8 L557.0 535.8 L556.6 532.8 L556.3 529.8 L556.0 526.8 L555.7 523.8 L555.4 520.8 L555.2 517.8 L555.0 514.8 L554.9 511.8 L554.8 508.8 L554.9 505.8 L555.0 502.8 L555.2 499.8 L555.5 496.8 L555.8 493.8 L556.2 490.8 L556.6 487.8 L557.1 484.8 L557.6 481.8 L558.1 478.8 L558.6 475.8 L559.2 472.8 L560.0 469.8 L561.0 466.8 L562.2 463.8 L563.5 460.8 L565.0 457.8 L566.5 454.8 L568.1 451.8 L569.7 448.8 L571.3 445.8 L572.8 442.8 L574.3 439.8 L575.6 436.8 L576.9 433.8 L578.3 430.8 L579.6 427.8 L581.0 424.8 L582.4 421.8 L583.7 418.8 L585.0 415.8 L586.2 412.8 L587.4 409.8 L588.4 406.8 L589.4 403.8 L590.2 400.8 L590.9 397.8 L591.6 394.8 L592.2 391.8 L592.7 388.8 L593.2 385.8 L593.8 382.8 L594.3 379.8 L594.7 376.8 L595.2 373.8 L595.6 370.8 L596.0 367.8 L596.4 364.8 L596.7 361.8 L597.0 358.8 L597.4 355.8 L597.7 352.8 L598.0 349.8 L598.4 346.8 L598.7 343.8 L599.1 340.8 L599.4 337.8 L599.7 334.8 L600.0 331.8 L600.3 328.8 L600.5 325.8 L600.7 322.8 L600.9 319.8 L601.1 316.8 L601.2 313.8 L601.2 310.8 L601.3 307.8 L601.4 304.8 L601.4 301.8 L601.5 298.8 L601.5 295.8 L601.6 292.8 L601.6 289.8 L601.6 286.8 L601.7 283.8 L601.7 280.8 L601.7 277.8 L601.7 274.8 L601.8 271.8 L601.8 268.8 L601.8 265.8 L601.8 262.8 L601.8 259.8 L601.9 256.8 L601.9 253.8 L601.9 250.8 L601.9 247.8 L601.9 244.8 L601.9 241.8 L602.0 238.8 L602.0 235.8 L602.0 232.8 L602.0 229.8 L602.0 226.8 L602.0 223.8 L602.1 220.8 L602.1 217.8 L602.1 214.8 L602.1 211.8 L602.1 208.8 L602.1 205.8 L602.2 202.8 L602.2 199.8 L602.2 196.8 L602.2 193.8 L602.2 190.8 L602.2 187.8 L602.3 184.8 L602.3 181.8 L602.3 178.8 L602.3 175.8 L602.3 172.8 L602.3 169.8 L602.4 166.8 L602.4 163.8 L602.4 160.8 L602.4 157.8 L602.4 154.8 L602.5 151.8 L602.5 148.8 L602.5 145.8 L602.5 142.8 L602.5 139.8 L602.5 136.8 L602.6 133.8 L602.6 130.8 L602.6 127.8 L602.6 124.8 L602.6 121.8 L602.6 118.8 L602.7 115.8 L602.7 112.8 L602.7 109.8 L602.7 106.8Z" fill="#00BA38" stroke="#333" stroke-width="1.9" stroke-linejoin="round"/>
<path d="M710.8 101.5 L710.8 104.5 L710.8 107.5 L710.8 110.5 L710.9 113.5 L710.9 116.5 L710.9 119.5 L710.9 122.5 L710.9 125.5 L710.9 128.5 L711.0 131.5 L711.0 134.5 L711.0 137.5 L711.0 140.5 L711.0 143.5 L711.0 146.5 L711.1 149.5 L711.1 152.5 L711.1 155.5 L711.1 158.5 L711.1 161.5 L711.1 164.5 L711.1 167.5 L711.2 170.5 L711.2 173.5 L711.2 176.5 L711.2 179.5 L711.2 182.5 L711.2 185.5 L711.3 188.5 L711.3 191.5 L711.3 194.5 L711.3 197.5 L711.3 200.5 L711.3 203.5 L711.4 206.5 L711.4 209.5 L711.4 212.5 L711.4 215.5 L711.4 218.5 L711.5 221.5 L711.5 224.5 L711.5 227.5 L711.5 230.5 L711.5 233.5 L711.5 236.5 L711.6 239.5 L711.6 242.5 L711.6 245.5 L711.6 248.5 L711.6 251.5 L711.6 254.5 L711.6 257.5 L711.7 260.5 L711.7 263.5 L711.7 266.5 L711.7 269.5 L711.7 272.5 L711.8 275.5 L711.8 278.5 L711.8 281.5 L711.8 284.5 L711.9 287.5 L711.9 290.5 L712.0 293.5 L712.0 296.5 L712.0 299.5 L712.1 302.5 L712.2 305.5 L712.2 308.5 L712.3 311.5 L712.4 314.5 L712.5 317.5 L712.7 320.5 L712.9 323.5 L713.1 326.5 L713.4 329.5 L713.6 332.5 L713.9 335.5 L714.2 338.5 L714.6 341.5 L715.0 344.5 L715.3 347.5 L715.7 350.5 L716.0 353.5 L716.4 356.5 L716.7 359.5 L717.0 362.5 L717.4 365.5 L717.8 368.5 L718.2 371.5 L718.6 374.5 L719.1 377.5 L719.6 380.5 L720.1 383.5 L720.6 386.5 L721.2 389.5 L721.8 392.5 L722.4 395.5 L723.1 398.5 L723.8 401.5 L724.7 404.5 L725.7 407.5 L726.8 410.5 L728.0 413.5 L729.2 416.5 L730.5 419.5 L731.9 422.5 L733.2 425.5 L734.6 428.5 L736.0 431.5 L737.3 434.5 L738.6 437.5 L739.9 440.5 L741.3 443.5 L742.7 446.5 L744.2 449.5 L745.7 452.5 L747.2 455.5 L748.6 458.5 L749.9 461.5 L751.2 464.5 L752.2 467.5 L753.1 470.5 L753.7 473.5 L754.2 476.5 L754.7 479.5 L755.2 482.5 L755.7 485.5 L756.1 488.5 L756.5 491.5 L756.8 494.5 L757.1 497.5 L757.3 500.5 L757.5 503.5 L757.6 506.5 L757.6 509.5 L757.6 512.5 L757.5 515.5 L757.4 518.5 L757.3 521.5 L757.2 524.5 L757.0 527.5 L756.8 530.5 L756.6 533.5 L756.4 536.5 L756.2 539.5 L755.9 542.5 L755.7 545.5 L755.4 548.5 L755.0 551.5 L754.6 554.5 L754.1 557.5 L753.6 560.5 L753.0 563.5 L752.5 566.5 L751.9 569.5 L751.4 572.5 L750.8 575.5 L750.3 578.5 L749.8 581.5 L749.3 584.5 L748.8 587.5 L748.2 590.5 L747.7 593.5 L747.2 596.5 L746.6 599.5 L746.1 602.5 L745.6 605.5 L745.1 608.5 L744.6 611.5 L744.2 614.5 L743.8 617.5 L743.3 620.5 L742.9 623.5 L742.4 626.5 L742.0 629.5 L741.6 632.5 L741.2 635.5 L740.8 638.5 L740.5 641.5 L740.1 644.5 L739.8 647.5 L739.6 650.5 L739.3 653.5 L739.1 656.5 L738.8 659.5 L738.6 662.5 L738.4 665.5 L738.2 668.5 L738.0 671.5 L737.8 674.5 L737.6 677.5 L737.4 680.5 L737.3 683.5 L737.1 686.5 L736.9 689.5 L736.8 692.5 L736.6 695.5 L736.5 698.5 L736.4 701.5 L736.2 704.5 L736.1 707.5 L735.9 710.5 L735.8 713.5 L735.6 716.5 L735.5 719.5 L735.3 722.5 L735.1 725.5 L734.9 728.5 L734.6 731.5 L734.4 734.5 L734.2 737.5 L733.9 740.5 L733.7 743.5 L733.4 746.5 L733.1 749.5 L732.9 752.5 L732.6 755.5 L732.3 758.5 L731.9 761.5 L731.6 764.5 L731.3 767.5 L730.9 770.5 L730.5 773.5 L730.1 776.5 L729.8 779.5 L729.4 782.5 L729.0 785.5 L728.6 788.5 L728.2 791.5 L727.9 794.5 L727.5 797.5 L727.1 800.5 L726.7 803.5 L726.4 806.5 L726.0 809.5 L725.6 812.5 L725.2 815.5 L724.8 818.5 L724.4 821.5 L723.9 824.5 L723.5 827.5 L723.0 830.5 L722.6 833.5 L722.1 836.5 L721.5 839.5 L721.0 842.5 L720.5 845.5 L720.0 848.5 L719.4 851.5 L718.9 854.5 L718.4 857.5 L717.9 860.5 L717.3 863.5 L716.7 866.5 L716.1 869.5 L715.5 872.5 L714.9 875.5 L714.3 878.5 L713.7 881.5 L713.2 884.5 L712.8 887.5 L712.4 890.5 L712.1 893.5 L711.8 896.5 L711.6 899.5 L711.4 902.5 L711.2 905.5 L711.0 908.5 L710.9 911.5 L710.8 914.5 L710.8 915.0 L710.8 915.0 L710.8 914.5 L710.7 911.5 L710.6 908.5 L710.4 905.5 L710.2 902.5 L710.0 899.5 L709.8 896.5 L709.5 893.5 L709.2 890.5 L708.8 887.5 L708.4 884.5 L707.9 881.5 L707.3 878.5 L706.7 875.5 L706.1 872.5 L705.5 869.5 L704.9 866.5 L704.3 863.5 L703.7 860.5 L703.2 857.5 L702.7 854.5 L702.2 851.5 L701.6 848.5 L701.1 845.5 L700.6 842.5 L700.1 839.5 L699.5 836.5 L699.0 833.5 L698.6 830.5 L698.1 827.5 L697.7 824.5 L697.2 821.5 L696.8 818.5 L696.4 815.5 L696.0 812.5 L695.6 809.5 L695.2 806.5 L694.9 803.5 L694.5 800.5 L694.1 797.5 L693.7 794.5 L693.4 791.5 L693.0 788.5 L692.6 785.5 L692.2 782.5 L691.8 779.5 L691.5 776.5 L691.1 773.5 L690.7 770.5 L690.3 767.5 L690.0 764.5 L689.7 761.5 L689.3 758.5 L689.0 755.5 L688.7 752.5 L688.5 749.5 L688.2 746.5 L687.9 743.5 L687.7 740.5 L687.4 737.5 L687.2 734.5 L687.0 731.5 L686.7 728.5 L686.5 725.5 L686.3 722.5 L686.1 719.5 L686.0 716.5 L685.8 713.5 L685.7 710.5 L685.5 707.5 L685.4 704.5 L685.2 701.5 L685.1 698.5 L685.0 695.5 L684.8 692.5 L684.7 689.5 L684.5 686.5 L684.3 683.5 L684.2 680.5 L684.0 677.5 L683.8 674.5 L683.6 671.5 L683.4 668.5 L683.2 665.5 L683.0 662.5 L682.8 659.5 L682.5 656.5 L682.3 653.5 L682.0 650.5 L681.8 647.5 L681.5 644.5 L681.1 641.5 L680.8 638.5 L680.4 635.5 L680.0 632.5 L679.6 629.5 L679.2 626.5 L678.7 623.5 L678.3 620.5 L677.8 617.5 L677.4 614.5 L677.0 611.5 L676.5 608.5 L676.0 605.5 L675.5 602.5 L675.0 599.5 L674.4 596.5 L673.9 593.5 L673.4 590.5 L672.8 587.5 L672.3 584.5 L671.8 581.5 L671.3 578.5 L670.8 575.5 L670.2 572.5 L669.7 569.5 L669.1 566.5 L668.6 563.5 L668.0 560.5 L667.5 557.5 L667.0 554.5 L666.6 551.5 L666.2 548.5 L665.9 545.5 L665.7 542.5 L665.4 539.5 L665.2 536.5 L665.0 533.5 L664.8 530.5 L664.6 527.5 L664.4 524.5 L664.3 521.5 L664.2 518.5 L664.1 515.5 L664.0 512.5 L664.0 509.5 L664.0 506.5 L664.1 503.5 L664.3 500.5 L664.5 497.5 L664.8 494.5 L665.1 491.5 L665.5 488.5 L665.9 485.5 L666.4 482.5 L666.9 479.5 L667.4 476.5 L667.9 473.5 L668.5 470.5 L669.4 467.5 L670.4 464.5 L671.7 461.5 L673.0 458.5 L674.4 455.5 L675.9 452.5 L677.4 449.5 L678.9 446.5 L680.3 443.5 L681.7 440.5 L683.0 437.5 L684.3 434.5 L685.6 431.5 L687.0 428.5 L688.4 425.5 L689.7 422.5 L691.1 419.5 L692.4 416.5 L693.6 413.5 L694.8 410.5 L695.9 407.5 L696.9 404.5 L697.8 401.5 L698.5 398.5 L699.2 395.5 L699.8 392.5 L700.4 389.5 L701.0 386.5 L701.5 383.5 L702.0 380.5 L702.5 377.5 L703.0 374.5 L703.4 371.5 L703.8 368.5 L704.2 365.5 L704.6 362.5 L704.9 359.5 L705.2 356.5 L705.6 353.5 L705.9 350.5 L706.3 347.5 L706.6 344.5 L707.0 341.5 L707.4 338.5 L707.7 335.5 L708.0 332.5 L708.2 329.5 L708.5 326.5 L708.7 323.5 L708.9 320.5 L709.1 317.5 L709.2 314.5 L709.3 311.5 L709.4 308.5 L709.4 305.5 L709.5 302.5 L709.6 299.5 L709.6 296.5 L709.6 293.5 L709.7 290.5 L709.7 287.5 L709.8 284.5 L709.8 281.5 L709.8 278.5 L709.8 275.5 L709.9 272.5 L709.9 269.5 L709.9 266.5 L709.9 263.5 L709.9 260.5 L710.0 257.5 L710.0 254.5 L710.0 251.5 L710.0 248.5 L710.0 245.5 L710.0 242.5 L710.0 239.5 L710.1 236.5 L710.1 233.5 L710.1 230.5 L710.1 227.5 L710.1 224.5 L710.1 221.5 L710.2 218.5 L710.2 215.5 L710.2 212.5 L710.2 209.5 L710.2 206.5 L710.3 203.5 L710.3 200.5 L710.3 197.5 L710.3 194.5 L710.3 191.5 L710.3 188.5 L710.4 185.5 L710.4 182.5 L710.4 179.5 L710.4 176.5 L710.4 173.5 L710.4 170.5 L710.5 167.5 L710.5 164.5 L710.5 161.5 L710.5 158.5 L710.5 155.5 L710.5 152.5 L710.5 149.5 L710.6 146.5 L710.6 143.5 L710.6 140.5 L710.6 137.5 L710.6 134.5 L710.6 131.5 L710.7 128.5 L710.7 125.5 L710.7 122.5 L710.7 119.5 L710.7 116.5 L710.7 113.5 L710.8 110.5 L710.8 107.5 L710.8 104.5 L710.8 101.5Z" fill="#00C19F" stroke="#333" stroke-width="1.9" stroke-linejoin="round"/>
<path d="M818.4 102.0 L818.4 105.0 L818.4 108.0 L818.4 111.0 L818.5 114.0 L818.5 117.0 L818.5 120.0 L818.5 123.0 L818.5 126.0 L818.5 129.0 L818.6 132.0 L818.6 135.0 L818.6 138.0 L818.6 141.0 L818.6 144.0 L818.6 147.0 L818.7 150.0 L818.7 153.0 L818.7 156.0 L818.7 159.0 L818.7 162.0 L818.7 165.0 L818.8 168.0 L818.8 171.0 L818.8 174.0 L818.8 177.0 L818.8 180.0 L818.8 183.0 L818.9 186.0 L818.9 189.0 L818.9 192.0 L818.9 195.0 L818.9 198.0 L818.9 201.0 L819.0 204.0 L819.0 207.0 L819.0 210.0 L819.0 213.0 L819.0 216.0 L819.0 219.0 L819.1 222.0 L819.1 225.0 L819.1 228.0 L819.1 231.0 L819.1 234.0 L819.1 237.0 L819.2 240.0 L819.2 243.0 L819.2 246.0 L819.2 249.0 L819.2 252.0 L819.2 255.0 L819.2 258.0 L819.3 261.0 L819.3 264.0 L819.3 267.0 L819.3 270.0 L819.3 273.0 L819.4 276.0 L819.4 279.0 L819.4 282.0 L819.5 285.0 L819.5 288.0 L819.6 291.0 L819.6 294.0 L819.7 297.0 L819.8 300.0 L819.8 303.0 L819.9 306.0 L820.0 309.0 L820.1 312.0 L820.2 315.0 L820.4 318.0 L820.6 321.0 L820.8 324.0 L821.1 327.0 L821.4 330.0 L821.7 333.0 L822.0 336.0 L822.4 339.0 L822.8 342.0 L823.2 345.0 L823.6 348.0 L824.0 351.0 L824.4 354.0 L824.8 357.0 L825.2 360.0 L825.5 363.0 L826.0 366.0 L826.4 369.0 L826.9 372.0 L827.4 375.0 L827.9 378.0 L828.5 381.0 L829.1 384.0 L829.7 387.0 L830.3 390.0 L831.0 393.0 L831.7 396.0 L832.5 399.0 L833.4 402.0 L834.4 405.0 L835.7 408.0 L837.0 411.0 L838.5 414.0 L840.1 417.0 L841.7 420.0 L843.3 423.0 L844.9 426.0 L846.5 429.0 L848.0 432.0 L849.4 435.0 L850.6 438.0 L851.8 441.0 L853.0 444.0 L854.1 447.0 L855.3 450.0 L856.4 453.0 L857.4 456.0 L858.4 459.0 L859.4 462.0 L860.2 465.0 L861.0 468.0 L861.6 471.0 L862.1 474.0 L862.6 477.0 L863.0 480.0 L863.4 483.0 L863.8 486.0 L864.2 489.0 L864.6 492.0 L864.9 495.0 L865.1 498.0 L865.3 501.0 L865.5 504.0 L865.5 507.0 L865.5 510.0 L865.5 513.0 L865.4 516.0 L865.2 519.0 L865.1 522.0 L864.8 525.0 L864.6 528.0 L864.3 531.0 L864.0 534.0 L863.8 537.0 L863.5 540.0 L863.2 543.0 L862.9 546.0 L862.5 549.0 L862.1 552.0 L861.7 555.0 L861.3 558.0 L860.8 561.0 L860.3 564.0 L859.8 567.0 L859.3 570.0 L858.8 573.0 L858.3 576.0 L857.8 579.0 L857.3 582.0 L856.8 585.0 L856.3 588.0 L855.8 591.0 L855.2 594.0 L854.7 597.0 L854.2 600.0 L853.7 603.0 L853.1 606.0 L852.6 609.0 L852.2 612.0 L851.7 615.0 L851.3 618.0 L850.8 621.0 L850.4 624.0 L850.0 627.0 L849.5 630.0 L849.1 633.0 L848.7 636.0 L848.4 639.0 L848.0 642.0 L847.7 645.0 L847.4 648.0 L847.1 651.0 L846.9 654.0 L846.6 657.0 L846.4 660.0 L846.2 663.0 L845.9 666.0 L845.7 669.0 L845.6 672.0 L845.4 675.0 L845.2 678.0 L845.0 681.0 L844.8 684.0 L844.7 687.0 L844.5 690.0 L844.3 693.0 L844.2 696.0 L844.1 699.0 L843.9 702.0 L843.8 705.0 L843.6 708.0 L843.5 711.0 L843.3 714.0 L843.2 717.0 L843.0 720.0 L842.8 723.0 L842.7 726.0 L842.5 729.0 L842.3 732.0 L842.1 735.0 L841.9 738.0 L841.7 741.0 L841.4 744.0 L841.2 747.0 L841.0 750.0 L840.7 753.0 L840.5 756.0 L840.2 759.0 L839.9 762.0 L839.6 765.0 L839.3 768.0 L839.0 771.0 L838.6 774.0 L838.3 777.0 L837.9 780.0 L837.6 783.0 L837.2 786.0 L836.8 789.0 L836.5 792.0 L836.1 795.0 L835.8 798.0 L835.4 801.0 L835.0 804.0 L834.6 807.0 L834.2 810.0 L833.9 813.0 L833.5 816.0 L833.0 819.0 L832.6 822.0 L832.2 825.0 L831.7 828.0 L831.3 831.0 L830.8 834.0 L830.3 837.0 L829.7 840.0 L829.2 843.0 L828.7 846.0 L828.1 849.0 L827.6 852.0 L827.1 855.0 L826.6 858.0 L826.1 861.0 L825.6 864.0 L825.0 867.0 L824.5 870.0 L823.9 873.0 L823.4 876.0 L822.9 879.0 L822.4 882.0 L821.9 885.0 L821.4 888.0 L821.0 891.0 L820.7 894.0 L820.4 897.0 L820.1 900.0 L819.9 903.0 L819.6 906.0 L819.4 909.0 L819.1 912.0 L818.9 915.0 L818.8 918.0 L818.6 921.0 L818.5 924.0 L818.4 927.0 L818.4 927.4 L818.4 927.4 L818.4 927.0 L818.3 924.0 L818.2 921.0 L818.0 918.0 L817.9 915.0 L817.7 912.0 L817.4 909.0 L817.2 906.0 L816.9 903.0 L816.7 900.0 L816.4 897.0 L816.1 894.0 L815.8 891.0 L815.4 888.0 L814.9 885.0 L814.4 882.0 L813.9 879.0 L813.4 876.0 L812.9 873.0 L812.3 870.0 L811.8 867.0 L811.2 864.0 L810.7 861.0 L810.2 858.0 L809.7 855.0 L809.2 852.0 L808.7 849.0 L808.1 846.0 L807.6 843.0 L807.1 840.0 L806.5 837.0 L806.0 834.0 L805.5 831.0 L805.1 828.0 L804.6 825.0 L804.2 822.0 L803.8 819.0 L803.3 816.0 L802.9 813.0 L802.6 810.0 L802.2 807.0 L801.8 804.0 L801.4 801.0 L801.0 798.0 L800.7 795.0 L800.3 792.0 L800.0 789.0 L799.6 786.0 L799.2 783.0 L798.9 780.0 L798.5 777.0 L798.2 774.0 L797.8 771.0 L797.5 768.0 L797.2 765.0 L796.9 762.0 L796.6 759.0 L796.3 756.0 L796.1 753.0 L795.8 750.0 L795.6 747.0 L795.4 744.0 L795.1 741.0 L794.9 738.0 L794.7 735.0 L794.5 732.0 L794.3 729.0 L794.1 726.0 L794.0 723.0 L793.8 720.0 L793.6 717.0 L793.5 714.0 L793.3 711.0 L793.2 708.0 L793.0 705.0 L792.9 702.0 L792.7 699.0 L792.6 696.0 L792.5 693.0 L792.3 690.0 L792.1 687.0 L792.0 684.0 L791.8 681.0 L791.6 678.0 L791.4 675.0 L791.2 672.0 L791.1 669.0 L790.9 666.0 L790.6 663.0 L790.4 660.0 L790.2 657.0 L789.9 654.0 L789.7 651.0 L789.4 648.0 L789.1 645.0 L788.8 642.0 L788.4 639.0 L788.1 636.0 L787.7 633.0 L787.3 630.0 L786.8 627.0 L786.4 624.0 L786.0 621.0 L785.5 618.0 L785.1 615.0 L784.6 612.0 L784.2 609.0 L783.7 606.0 L783.1 603.0 L782.6 600.0 L782.1 597.0 L781.6 594.0 L781.0 591.0 L780.5 588.0 L780.0 585.0 L779.5 582.0 L779.0 579.0 L778.5 576.0 L778.0 573.0 L777.5 570.0 L777.0 567.0 L776.5 564.0 L776.0 561.0 L775.5 558.0 L775.1 555.0 L774.7 552.0 L774.3 549.0 L773.9 546.0 L773.6 543.0 L773.3 540.0 L773.0 537.0 L772.8 534.0 L772.5 531.0 L772.2 528.0 L772.0 525.0 L771.7 522.0 L771.6 519.0 L771.4 516.0 L771.3 513.0 L771.3 510.0 L771.3 507.0 L771.3 504.0 L771.5 501.0 L771.7 498.0 L771.9 495.0 L772.2 492.0 L772.6 489.0 L773.0 486.0 L773.4 483.0 L773.8 480.0 L774.2 477.0 L774.7 474.0 L775.2 471.0 L775.8 468.0 L776.6 465.0 L777.4 462.0 L778.4 459.0 L779.4 456.0 L780.4 453.0 L781.5 450.0 L782.7 447.0 L783.8 444.0 L785.0 441.0 L786.2 438.0 L787.4 435.0 L788.8 432.0 L790.3 429.0 L791.9 426.0 L793.5 423.0 L795.1 420.0 L796.7 417.0 L798.3 414.0 L799.8 411.0 L801.1 408.0 L802.4 405.0 L803.4 402.0 L804.3 399.0 L805.1 396.0 L805.8 393.0 L806.5 390.0 L807.1 387.0 L807.7 384.0 L808.3 381.0 L808.9 378.0 L809.4 375.0 L809.9 372.0 L810.4 369.0 L810.8 366.0 L811.3 363.0 L811.6 360.0 L812.0 357.0 L812.4 354.0 L812.8 351.0 L813.2 348.0 L813.6 345.0 L814.0 342.0 L814.4 339.0 L814.8 336.0 L815.1 333.0 L815.4 330.0 L815.7 327.0 L816.0 324.0 L816.2 321.0 L816.4 318.0 L816.6 315.0 L816.7 312.0 L816.8 309.0 L816.9 306.0 L817.0 303.0 L817.0 300.0 L817.1 297.0 L817.2 294.0 L817.2 291.0 L817.3 288.0 L817.3 285.0 L817.4 282.0 L817.4 279.0 L817.4 276.0 L817.5 273.0 L817.5 270.0 L817.5 267.0 L817.5 264.0 L817.5 261.0 L817.6 258.0 L817.6 255.0 L817.6 252.0 L817.6 249.0 L817.6 246.0 L817.6 243.0 L817.6 240.0 L817.7 237.0 L817.7 234.0 L817.7 231.0 L817.7 228.0 L817.7 225.0 L817.7 222.0 L817.8 219.0 L817.8 216.0 L817.8 213.0 L817.8 210.0 L817.8 207.0 L817.8 204.0 L817.9 201.0 L817.9 198.0 L817.9 195.0 L817.9 192.0 L817.9 189.0 L817.9 186.0 L818.0 183.0 L818.0 180.0 L818.0 177.0 L818.0 174.0 L818.0 171.0 L818.0 168.0 L818.1 165.0 L818.1 162.0 L818.1 159.0 L818.1 156.0 L818.1 153.0 L818.1 150.0 L818.2 147.0 L818.2 144.0 L818.2 141.0 L818.2 138.0 L818.2 135.0 L818.2 132.0 L818.3 129.0 L818.3 126.0 L818.3 123.0 L818.3 120.0 L818.3 117.0 L818.3 114.0 L818.4 111.0 L818.4 108.0 L818.4 105.0 L818.4 102.0Z" fill="#00B9E3" stroke="#333" stroke-width="1.9" stroke-linejoin="round"/>
<line x1="280.0" x2="280.0" y1="84.0" y2="501.7" stroke="#333" stroke-width="1.7"/>
<line x1="280.0" x2="280.0" y1="686.4" y2="926.0" stroke="#333" stroke-width="1.7"/>
<rect x="269.0" y="501.7" width="22" height="184.7" fill="#F8766D" stroke="#333" stroke-width="1.7"/>
<line x1="269.0" x2="291.0" y1="575.6" y2="575.6" stroke="#333" stroke-width="3.4"/>
<g fill="#333"><circle cx="280.0" cy="84.0" r="4.8"/><circle cx="280.0" cy="90.0" r="4.8"/><circle cx="280.0" cy="134.6" r="4.8"/><circle cx="280.0" cy="138.9" r="4.8"/><circle cx="280.0" cy="143.2" r="4.8"/><circle cx="280.0" cy="147.4" r="4.8"/><circle cx="280.0" cy="151.7" r="4.8"/><circle cx="280.0" cy="156.0" r="4.8"/><circle cx="280.0" cy="160.3" r="4.8"/><circle cx="280.0" cy="179.6" r="4.8"/><circle cx="280.0" cy="183.8" r="4.8"/><circle cx="280.0" cy="188.1" r="4.8"/><circle cx="280.0" cy="192.3" r="4.8"/><circle cx="280.0" cy="196.6" r="4.8"/><circle cx="280.0" cy="200.8" r="4.8"/><circle cx="280.0" cy="205.0" r="4.8"/><circle cx="280.0" cy="209.3" r="4.8"/><circle cx="280.0" cy="213.5" r="4.8"/><circle cx="280.0" cy="217.8" r="4.8"/><circle cx="280.0" cy="222.0" r="4.8"/></g>
<line x1="387.4" x2="387.4" y1="87.4" y2="501.7" stroke="#333" stroke-width="1.7"/>
<line x1="387.4" x2="387.4" y1="681.1" y2="929.2" stroke="#333" stroke-width="1.7"/>
<rect x="376.4" y="501.7" width="22" height="179.5" fill="#D39200" stroke="#333" stroke-width="1.7"/>
<line x1="376.4" x2="398.4" y1="573.8" y2="573.8" stroke="#333" stroke-width="3.4"/>
<g fill="#333"><circle cx="387.4" cy="87.4" r="4.8"/><circle cx="387.4" cy="130.0" r="4.8"/><circle cx="387.4" cy="140.0" r="4.8"/><circle cx="387.4" cy="144.3" r="4.8"/><circle cx="387.4" cy="148.7" r="4.8"/><circle cx="387.4" cy="153.0" r="4.8"/><circle cx="387.4" cy="163.0" r="4.8"/><circle cx="387.4" cy="172.0" r="4.8"/><circle cx="387.4" cy="177.5" r="4.8"/><circle cx="387.4" cy="183.0" r="4.8"/><circle cx="387.4" cy="190.0" r="4.8"/><circle cx="387.4" cy="194.2" r="4.8"/><circle cx="387.4" cy="198.4" r="4.8"/><circle cx="387.4" cy="202.6" r="4.8"/><circle cx="387.4" cy="206.8" r="4.8"/><circle cx="387.4" cy="211.0" r="4.8"/><circle cx="387.4" cy="215.2" r="4.8"/><circle cx="387.4" cy="219.4" r="4.8"/><circle cx="387.4" cy="223.6" r="4.8"/><circle cx="387.4" cy="227.8" r="4.8"/><circle cx="387.4" cy="232.0" r="4.8"/></g>
<line x1="495.1" x2="495.1" y1="84.6" y2="507.7" stroke="#333" stroke-width="1.7"/>
<line x1="495.1" x2="495.1" y1="689.9" y2="926.7" stroke="#333" stroke-width="1.7"/>
<rect x="484.1" y="507.7" width="22" height="182.3" fill="#93AA00" stroke="#333" stroke-width="1.7"/>
<line x1="484.1" x2="506.1" y1="582.6" y2="582.6" stroke="#333" stroke-width="3.4"/>
<g fill="#333"><circle cx="495.1" cy="84.6" r="4.8"/><circle cx="495.1" cy="122.6" r="4.8"/><circle cx="495.1" cy="131.0" r="4.8"/><circle cx="495.1" cy="144.4" r="4.8"/><circle cx="495.1" cy="153.0" r="4.8"/><circle cx="495.1" cy="165.6" r="4.8"/><circle cx="495.1" cy="170.0" r="4.8"/><circle cx="495.1" cy="174.5" r="4.8"/><circle cx="495.1" cy="178.9" r="4.8"/><circle cx="495.1" cy="183.3" r="4.8"/><circle cx="495.1" cy="187.7" r="4.8"/><circle cx="495.1" cy="192.2" r="4.8"/><circle cx="495.1" cy="196.6" r="4.8"/><circle cx="495.1" cy="201.0" r="4.8"/><circle cx="495.1" cy="205.4" r="4.8"/><circle cx="495.1" cy="209.9" r="4.8"/><circle cx="495.1" cy="214.3" r="4.8"/><circle cx="495.1" cy="218.7" r="4.8"/><circle cx="495.1" cy="223.1" r="4.8"/><circle cx="495.1" cy="227.6" r="4.8"/><circle cx="495.1" cy="232.0" r="4.8"/></g>
<line x1="602.7" x2="602.7" y1="106.8" y2="498.9" stroke="#333" stroke-width="1.7"/>
<line x1="602.7" x2="602.7" y1="679.4" y2="925.7" stroke="#333" stroke-width="1.7"/>
<rect x="591.7" y="498.9" width="22" height="180.5" fill="#00BA38" stroke="#333" stroke-width="1.7"/>
<line x1="591.7" x2="613.7" y1="572.0" y2="572.0" stroke="#333" stroke-width="3.4"/>
<g fill="#333"><circle cx="602.7" cy="106.8" r="4.8"/><circle cx="602.7" cy="140.0" r="4.8"/><circle cx="602.7" cy="145.0" r="4.8"/><circle cx="602.7" cy="150.0" r="4.8"/><circle cx="602.7" cy="155.0" r="4.8"/><circle cx="602.7" cy="172.6" r="4.8"/><circle cx="602.7" cy="177.0" r="4.8"/><circle cx="602.7" cy="181.4" r="4.8"/><circle cx="602.7" cy="185.9" r="4.8"/><circle cx="602.7" cy="190.3" r="4.8"/><circle cx="602.7" cy="194.7" r="4.8"/><circle cx="602.7" cy="199.2" r="4.8"/><circle cx="602.7" cy="203.6" r="4.8"/><circle cx="602.7" cy="208.0" r="4.8"/><circle cx="602.7" cy="222.0" r="4.8"/></g>
<line x1="710.8" x2="710.8" y1="101.5" y2="503.4" stroke="#333" stroke-width="1.7"/>
<line x1="710.8" x2="710.8" y1="682.9" y2="915.0" stroke="#333" stroke-width="1.7"/>
<rect x="699.8" y="503.4" width="22" height="179.5" fill="#00C19F" stroke="#333" stroke-width="1.7"/>
<line x1="699.8" x2="721.8" y1="578.4" y2="578.4" stroke="#333" stroke-width="3.4"/>
<g fill="#333"><circle cx="710.8" cy="101.5" r="4.8"/><circle cx="710.8" cy="137.4" r="4.8"/><circle cx="710.8" cy="141.7" r="4.8"/><circle cx="710.8" cy="146.0" r="4.8"/><circle cx="710.8" cy="150.3" r="4.8"/><circle cx="710.8" cy="154.6" r="4.8"/><circle cx="710.8" cy="158.9" r="4.8"/><circle cx="710.8" cy="163.2" r="4.8"/><circle cx="710.8" cy="167.5" r="4.8"/><circle cx="710.8" cy="171.8" r="4.8"/><circle cx="710.8" cy="176.1" r="4.8"/><circle cx="710.8" cy="180.4" r="4.8"/><circle cx="710.8" cy="184.7" r="4.8"/><circle cx="710.8" cy="189.0" r="4.8"/><circle cx="710.8" cy="193.3" r="4.8"/><circle cx="710.8" cy="197.6" r="4.8"/><circle cx="710.8" cy="201.9" r="4.8"/><circle cx="710.8" cy="206.2" r="4.8"/><circle cx="710.8" cy="210.5" r="4.8"/><circle cx="710.8" cy="214.8" r="4.8"/><circle cx="710.8" cy="219.1" r="4.8"/><circle cx="710.8" cy="223.4" r="4.8"/><circle cx="710.8" cy="227.7" r="4.8"/><circle cx="710.8" cy="232.0" r="4.8"/></g>
<line x1="818.4" x2="818.4" y1="102.0" y2="501.0" stroke="#333" stroke-width="1.7"/>
<line x1="818.4" x2="818.4" y1="680.4" y2="927.4" stroke="#333" stroke-width="1.7"/>
<rect x="807.4" y="501.0" width="22" height="179.5" fill="#00B9E3" stroke="#333" stroke-width="1.7"/>
<line x1="807.4" x2="829.4" y1="574.9" y2="574.9" stroke="#333" stroke-width="3.4"/>
<g fill="#333"><circle cx="818.4" cy="102.0" r="4.8"/><circle cx="818.4" cy="137.4" r="4.8"/><circle cx="818.4" cy="142.2" r="4.8"/><circle cx="818.4" cy="147.1" r="4.8"/><circle cx="818.4" cy="152.0" r="4.8"/><circle cx="818.4" cy="156.8" r="4.8"/><circle cx="818.4" cy="167.0" r="4.8"/><circle cx="818.4" cy="171.3" r="4.8"/><circle cx="818.4" cy="175.7" r="4.8"/><circle cx="818.4" cy="180.0" r="4.8"/><circle cx="818.4" cy="184.3" r="4.8"/><circle cx="818.4" cy="188.7" r="4.8"/><circle cx="818.4" cy="193.0" r="4.8"/><circle cx="818.4" cy="197.3" r="4.8"/><circle cx="818.4" cy="201.7" r="4.8"/><circle cx="818.4" cy="206.0" r="4.8"/><circle cx="818.4" cy="210.3" r="4.8"/><circle cx="818.4" cy="214.7" r="4.8"/><circle cx="818.4" cy="219.0" r="4.8"/><circle cx="818.4" cy="223.3" r="4.8"/><circle cx="818.4" cy="227.7" r="4.8"/><circle cx="818.4" cy="232.0" r="4.8"/></g>
<rect x="1104" y="34.3" width="799" height="942.5" fill="#fff"/>
<g stroke="#EBEBEB"><line x1="1111.6" x2="1111.6" y1="34.3" y2="976.8" stroke-width="1.4"/><line x1="1334.8" x2="1334.8" y1="34.3" y2="976.8" stroke-width="1.4"/><line x1="1558.0" x2="1558.0" y1="34.3" y2="976.8" stroke-width="1.4"/><line x1="1781.2" x2="1781.2" y1="34.3" y2="976.8" stroke-width="1.4"/><line x1="1104" x2="1903" y1="813.2" y2="813.2" stroke-width="1.4"/><line x1="1104" x2="1903" y1="569.1" y2="569.1" stroke-width="1.4"/><line x1="1104" x2="1903" y1="325.0" y2="325.0" stroke-width="1.4"/><line x1="1104" x2="1903" y1="80.9" y2="80.9" stroke-width="1.4"/><line x1="1223.2" x2="1223.2" y1="34.3" y2="976.8" stroke-width="2.2"/><line x1="1446.4" x2="1446.4" y1="34.3" y2="976.8" stroke-width="2.2"/><line x1="1669.6" x2="1669.6" y1="34.3" y2="976.8" stroke-width="2.2"/><line x1="1892.8" x2="1892.8" y1="34.3" y2="976.8" stroke-width="2.2"/><line x1="1104" x2="1903" y1="935.3" y2="935.3" stroke-width="2.2"/><line x1="1104" x2="1903" y1="691.2" y2="691.2" stroke-width="2.2"/><line x1="1104" x2="1903" y1="447.1" y2="447.1" stroke-width="2.2"/><line x1="1104" x2="1903" y1="203.0" y2="203.0" stroke-width="2.2"/></g>
<path d="M1273.4 935.9 L1273.4 929.5 L1276.3 929.2 L1279.3 927.1 L1282.2 928.7 L1285.1 928.9 L1288.1 926.8 L1291.0 927.5 L1293.9 926.5 L1296.9 927.8 L1299.8 927.3 L1302.7 925.7 L1305.6 926.9 L1308.6 925.2 L1311.5 927.4 L1314.4 925.3 L1317.4 927.0 L1320.3 925.7 L1323.2 927.0 L1326.2 926.3 L1329.1 923.8 L1332.0 925.0 L1334.9 923.7 L1337.9 925.1 L1340.8 924.6 L1343.7 925.0 L1346.7 923.5 L1349.6 922.3 L1352.5 923.1 L1355.4 923.2 L1358.4 921.3 L1361.3 921.1 L1364.2 921.5 L1367.2 923.0 L1370.1 921.1 L1373.0 921.3 L1376.0 919.6 L1378.9 921.0 L1381.8 919.8 L1384.7 919.6 L1387.7 920.1 L1390.6 919.4 L1390.6 837.7 L1392.0 842.8 L1393.4 847.2 L1394.8 850.5 L1396.2 851.2 L1397.6 857.4 L1399.0 857.4 L1400.4 860.7 L1401.8 864.0 L1403.2 867.2 L1404.6 868.8 L1405.9 871.0 L1407.3 874.3 L1408.7 876.9 L1410.1 882.2 L1411.5 883.7 L1412.9 887.0 L1414.3 886.6 L1415.7 889.4 L1417.1 894.6 L1418.5 895.5 L1419.9 898.0 L1421.3 902.3 L1422.7 903.4 L1424.1 904.5 L1425.5 907.2 L1426.9 910.8 L1428.3 911.3 L1429.7 915.2 L1431.1 916.4 L1432.5 919.0 L1433.8 919.0 L1435.2 922.2 L1436.6 923.5 L1438.0 925.9 L1439.4 928.8 L1440.8 928.3 L1442.2 929.7 L1443.6 929.7 L1445.0 931.2 L1446.4 931.7 L1447.8 930.1 L1449.2 929.2 L1450.6 929.3 L1452.0 930.6 L1453.4 929.6 L1454.8 926.5 L1456.2 923.3 L1457.6 924.0 L1459.0 919.9 L1460.4 919.9 L1461.7 917.3 L1463.1 916.1 L1464.5 913.0 L1465.9 910.4 L1467.3 906.0 L1468.7 903.7 L1470.1 904.2 L1471.5 901.4 L1472.9 896.6 L1474.3 896.9 L1475.7 894.0 L1477.1 891.0 L1478.5 889.7 L1479.9 886.6 L1481.3 883.5 L1482.7 880.9 L1484.1 876.1 L1485.5 876.0 L1486.9 873.5 L1488.2 868.2 L1489.6 867.1 L1491.0 863.0 L1492.4 860.9 L1493.8 857.6 L1495.2 856.4 L1496.6 854.2 L1498.0 849.1 L1499.4 847.3 L1500.8 844.0 L1502.2 837.7 L1502.2 918.7 L1506.2 920.4 L1510.3 920.4 L1514.3 919.0 L1518.4 920.4 L1522.4 921.4 L1526.5 920.6 L1530.5 922.0 L1534.6 920.7 L1538.6 923.1 L1542.7 921.1 L1546.7 922.1 L1550.7 923.0 L1554.8 921.5 L1558.8 923.8 L1562.9 924.1 L1566.9 924.8 L1571.0 923.7 L1575.0 923.4 L1579.1 923.8 L1583.1 924.9 L1587.2 924.0 L1591.2 926.3 L1595.2 926.0 L1599.3 925.2 L1603.3 924.5 L1607.4 925.8 L1611.4 925.9 L1615.5 925.9 L1619.5 927.3 L1623.6 925.9 L1627.6 926.8 L1631.7 928.2 L1635.7 928.3 L1639.7 927.4 L1643.8 929.0 L1647.8 929.7 L1651.9 927.9 L1655.9 929.2 L1660.0 929.5 L1664.0 929.3 L1664.0 935.3 L1664.0 936.3 L1502.2 936.8 L1390.6 936.8 L1273.4 936.3Z" fill="#BEBEBE" stroke="#BEBEBE" stroke-width="4" stroke-linejoin="round"/>
<g fill="#BEBEBE"><circle cx="1258.8" cy="935.5" r="2.9"/><circle cx="1278.8" cy="925.9" r="2.9"/><circle cx="1267.9" cy="932.2" r="2.9"/><circle cx="1265.1" cy="923.2" r="2.9"/><circle cx="1203.2" cy="926.7" r="2.9"/><circle cx="1234.4" cy="924.9" r="2.9"/><circle cx="1256.1" cy="926.2" r="2.9"/><circle cx="1273.0" cy="925.4" r="2.9"/><circle cx="1248.1" cy="928.6" r="2.9"/><circle cx="1253.8" cy="933.0" r="2.9"/><circle cx="1198.1" cy="923.9" r="2.9"/><circle cx="1272.8" cy="935.4" r="2.9"/><circle cx="1245.7" cy="928.3" r="2.9"/><circle cx="1247.8" cy="930.6" r="2.9"/><circle cx="1239.3" cy="935.8" r="2.9"/><circle cx="1254.3" cy="926.5" r="2.9"/><circle cx="1267.7" cy="933.1" r="2.9"/><circle cx="1278.3" cy="923.7" r="2.9"/><circle cx="1275.9" cy="936.1" r="2.9"/><circle cx="1248.0" cy="928.3" r="2.9"/><circle cx="1261.1" cy="928.4" r="2.9"/><circle cx="1279.4" cy="920.7" r="2.9"/><circle cx="1261.5" cy="931.3" r="2.9"/><circle cx="1264.2" cy="934.4" r="2.9"/><circle cx="1230.3" cy="927.3" r="2.9"/><circle cx="1252.9" cy="930.1" r="2.9"/><circle cx="1274.3" cy="928.3" r="2.9"/><circle cx="1273.0" cy="933.4" r="2.9"/><circle cx="1272.9" cy="921.1" r="2.9"/><circle cx="1256.5" cy="921.9" r="2.9"/><circle cx="1254.2" cy="935.5" r="2.9"/><circle cx="1279.3" cy="925.1" r="2.9"/><circle cx="1259.4" cy="933.9" r="2.9"/><circle cx="1246.2" cy="932.4" r="2.9"/><circle cx="1259.4" cy="922.3" r="2.9"/><circle cx="1249.5" cy="934.9" r="2.9"/><circle cx="1203.5" cy="930.3" r="2.9"/><circle cx="1278.2" cy="923.9" r="2.9"/><circle cx="1232.2" cy="934.6" r="2.9"/><circle cx="1265.4" cy="933.2" r="2.9"/><circle cx="1281.0" cy="925.3" r="2.9"/><circle cx="1274.1" cy="929.6" r="2.9"/><circle cx="1277.2" cy="923.2" r="2.9"/><circle cx="1253.9" cy="927.2" r="2.9"/><circle cx="1278.0" cy="924.0" r="2.9"/><circle cx="1280.2" cy="928.0" r="2.9"/><circle cx="1269.9" cy="922.5" r="2.9"/><circle cx="1233.0" cy="933.7" r="2.9"/><circle cx="1211.5" cy="931.4" r="2.9"/><circle cx="1250.5" cy="933.7" r="2.9"/><circle cx="1270.4" cy="925.3" r="2.9"/><circle cx="1273.8" cy="935.7" r="2.9"/><circle cx="1271.8" cy="925.2" r="2.9"/><circle cx="1211.1" cy="927.5" r="2.9"/><circle cx="1281.0" cy="927.0" r="2.9"/><circle cx="1284.1" cy="932.9" r="2.9"/><circle cx="1224.7" cy="925.8" r="2.9"/><circle cx="1246.3" cy="935.8" r="2.9"/><circle cx="1198.1" cy="926.1" r="2.9"/><circle cx="1254.9" cy="921.8" r="2.9"/><circle cx="1209.3" cy="924.5" r="2.9"/><circle cx="1246.7" cy="932.9" r="2.9"/><circle cx="1275.1" cy="934.9" r="2.9"/><circle cx="1276.6" cy="933.6" r="2.9"/><circle cx="1265.5" cy="934.8" r="2.9"/><circle cx="1260.0" cy="922.0" r="2.9"/><circle cx="1189.9" cy="929.2" r="2.9"/><circle cx="1269.7" cy="927.1" r="2.9"/><circle cx="1247.6" cy="929.4" r="2.9"/><circle cx="1245.8" cy="926.8" r="2.9"/><circle cx="1191.9" cy="926.0" r="2.9"/><circle cx="1270.9" cy="933.2" r="2.9"/><circle cx="1283.7" cy="927.9" r="2.9"/><circle cx="1274.0" cy="923.0" r="2.9"/><circle cx="1259.9" cy="931.7" r="2.9"/><circle cx="1269.2" cy="921.0" r="2.9"/><circle cx="1248.4" cy="934.8" r="2.9"/><circle cx="1265.8" cy="929.3" r="2.9"/><circle cx="1226.1" cy="928.0" r="2.9"/><circle cx="1271.5" cy="923.9" r="2.9"/><circle cx="1271.2" cy="925.1" r="2.9"/><circle cx="1192.5" cy="925.5" r="2.9"/><circle cx="1228.2" cy="934.0" r="2.9"/><circle cx="1273.1" cy="932.5" r="2.9"/><circle cx="1258.2" cy="935.0" r="2.9"/><circle cx="1229.3" cy="928.0" r="2.9"/><circle cx="1272.9" cy="923.2" r="2.9"/><circle cx="1278.5" cy="932.2" r="2.9"/><circle cx="1246.3" cy="933.3" r="2.9"/><circle cx="1268.8" cy="931.3" r="2.9"/><circle cx="1258.5" cy="922.4" r="2.9"/><circle cx="1249.6" cy="925.8" r="2.9"/><circle cx="1217.7" cy="931.6" r="2.9"/><circle cx="1237.7" cy="934.2" r="2.9"/><circle cx="1237.1" cy="929.4" r="2.9"/><circle cx="1281.2" cy="925.6" r="2.9"/><circle cx="1253.8" cy="932.0" r="2.9"/><circle cx="1255.7" cy="925.2" r="2.9"/><circle cx="1262.6" cy="925.6" r="2.9"/><circle cx="1251.4" cy="924.6" r="2.9"/><circle cx="1246.6" cy="927.5" r="2.9"/><circle cx="1283.2" cy="926.3" r="2.9"/><circle cx="1242.5" cy="928.7" r="2.9"/><circle cx="1248.0" cy="935.4" r="2.9"/><circle cx="1251.1" cy="934.8" r="2.9"/><circle cx="1233.8" cy="927.5" r="2.9"/><circle cx="1214.1" cy="934.0" r="2.9"/><circle cx="1261.5" cy="925.6" r="2.9"/><circle cx="1229.4" cy="935.1" r="2.9"/><circle cx="1278.0" cy="936.0" r="2.9"/><circle cx="1278.9" cy="923.8" r="2.9"/><circle cx="1245.9" cy="933.9" r="2.9"/><circle cx="1271.3" cy="927.2" r="2.9"/><circle cx="1251.1" cy="935.0" r="2.9"/><circle cx="1271.0" cy="927.5" r="2.9"/><circle cx="1246.1" cy="925.5" r="2.9"/><circle cx="1201.3" cy="931.7" r="2.9"/><circle cx="1276.3" cy="932.5" r="2.9"/><circle cx="1249.9" cy="933.1" r="2.9"/><circle cx="1260.4" cy="924.4" r="2.9"/><circle cx="1254.1" cy="930.4" r="2.9"/><circle cx="1222.3" cy="930.3" r="2.9"/><circle cx="1271.4" cy="923.2" r="2.9"/><circle cx="1262.6" cy="934.7" r="2.9"/><circle cx="1230.8" cy="935.1" r="2.9"/><circle cx="1252.3" cy="932.9" r="2.9"/><circle cx="1248.2" cy="931.7" r="2.9"/><circle cx="1231.6" cy="929.2" r="2.9"/><circle cx="1274.6" cy="927.6" r="2.9"/><circle cx="1267.4" cy="922.9" r="2.9"/><circle cx="1199.5" cy="929.6" r="2.9"/><circle cx="1279.3" cy="933.2" r="2.9"/><circle cx="1281.6" cy="929.2" r="2.9"/><circle cx="1263.2" cy="931.5" r="2.9"/><circle cx="1208.1" cy="931.7" r="2.9"/><circle cx="1200.4" cy="930.2" r="2.9"/><circle cx="1271.0" cy="928.4" r="2.9"/><circle cx="1274.4" cy="928.0" r="2.9"/><circle cx="1269.1" cy="926.2" r="2.9"/><circle cx="1202.7" cy="924.3" r="2.9"/><circle cx="1677.6" cy="931.1" r="2.9"/><circle cx="1638.1" cy="927.8" r="2.9"/><circle cx="1637.8" cy="936.0" r="2.9"/><circle cx="1637.0" cy="925.6" r="2.9"/><circle cx="1672.4" cy="930.6" r="2.9"/><circle cx="1662.3" cy="933.1" r="2.9"/><circle cx="1668.8" cy="922.6" r="2.9"/><circle cx="1669.3" cy="927.4" r="2.9"/><circle cx="1660.1" cy="933.6" r="2.9"/><circle cx="1686.3" cy="933.2" r="2.9"/><circle cx="1644.2" cy="931.5" r="2.9"/><circle cx="1643.1" cy="934.1" r="2.9"/><circle cx="1650.9" cy="932.7" r="2.9"/><circle cx="1668.1" cy="926.1" r="2.9"/><circle cx="1634.6" cy="922.5" r="2.9"/><circle cx="1648.0" cy="928.0" r="2.9"/><circle cx="1638.4" cy="934.1" r="2.9"/><circle cx="1672.5" cy="930.5" r="2.9"/><circle cx="1682.6" cy="923.9" r="2.9"/><circle cx="1662.1" cy="930.5" r="2.9"/><circle cx="1654.6" cy="935.0" r="2.9"/><circle cx="1640.2" cy="922.4" r="2.9"/><circle cx="1682.0" cy="928.8" r="2.9"/><circle cx="1681.3" cy="927.0" r="2.9"/><circle cx="1638.7" cy="926.9" r="2.9"/><circle cx="1672.5" cy="923.4" r="2.9"/><circle cx="1633.1" cy="923.4" r="2.9"/><circle cx="1653.7" cy="932.8" r="2.9"/><circle cx="1648.1" cy="926.6" r="2.9"/><circle cx="1655.3" cy="927.4" r="2.9"/><circle cx="1668.7" cy="924.8" r="2.9"/><circle cx="1653.2" cy="926.6" r="2.9"/><circle cx="1676.6" cy="933.9" r="2.9"/><circle cx="1685.0" cy="933.1" r="2.9"/><circle cx="1667.3" cy="933.5" r="2.9"/><circle cx="1666.6" cy="923.3" r="2.9"/><circle cx="1660.6" cy="931.3" r="2.9"/><circle cx="1675.1" cy="934.7" r="2.9"/><circle cx="1639.4" cy="936.0" r="2.9"/><circle cx="1657.4" cy="930.4" r="2.9"/><circle cx="1655.5" cy="922.7" r="2.9"/><circle cx="1654.1" cy="930.1" r="2.9"/><circle cx="1658.7" cy="936.3" r="2.9"/><circle cx="1642.9" cy="922.4" r="2.9"/><circle cx="1678.5" cy="927.1" r="2.9"/><circle cx="1674.1" cy="922.4" r="2.9"/><circle cx="1659.4" cy="932.1" r="2.9"/><circle cx="1661.4" cy="927.7" r="2.9"/><circle cx="1681.3" cy="927.9" r="2.9"/><circle cx="1648.4" cy="925.9" r="2.9"/><circle cx="1630.7" cy="934.0" r="2.9"/><circle cx="1638.2" cy="932.6" r="2.9"/><circle cx="1676.7" cy="936.2" r="2.9"/><circle cx="1656.7" cy="922.3" r="2.9"/><circle cx="1648.0" cy="931.8" r="2.9"/><circle cx="1666.8" cy="932.7" r="2.9"/><circle cx="1636.0" cy="935.2" r="2.9"/><circle cx="1673.8" cy="932.7" r="2.9"/><circle cx="1679.4" cy="931.5" r="2.9"/><circle cx="1661.6" cy="928.3" r="2.9"/><circle cx="1653.7" cy="930.9" r="2.9"/><circle cx="1657.2" cy="924.8" r="2.9"/><circle cx="1656.0" cy="933.7" r="2.9"/><circle cx="1676.6" cy="924.9" r="2.9"/><circle cx="1652.8" cy="928.2" r="2.9"/><circle cx="1650.0" cy="934.9" r="2.9"/><circle cx="1639.2" cy="930.3" r="2.9"/><circle cx="1670.7" cy="936.1" r="2.9"/><circle cx="1640.3" cy="927.2" r="2.9"/><circle cx="1676.0" cy="923.3" r="2.9"/><circle cx="1652.7" cy="932.7" r="2.9"/><circle cx="1656.4" cy="924.4" r="2.9"/><circle cx="1676.8" cy="924.9" r="2.9"/><circle cx="1654.7" cy="935.7" r="2.9"/><circle cx="1632.2" cy="929.0" r="2.9"/><circle cx="1657.9" cy="923.7" r="2.9"/><circle cx="1634.5" cy="929.1" r="2.9"/><circle cx="1654.5" cy="928.8" r="2.9"/><circle cx="1632.9" cy="930.9" r="2.9"/><circle cx="1652.9" cy="933.3" r="2.9"/><circle cx="1663.5" cy="926.1" r="2.9"/><circle cx="1645.5" cy="922.9" r="2.9"/><circle cx="1684.1" cy="935.0" r="2.9"/><circle cx="1668.1" cy="932.4" r="2.9"/><circle cx="1654.1" cy="923.2" r="2.9"/><circle cx="1657.2" cy="927.4" r="2.9"/><circle cx="1655.7" cy="925.2" r="2.9"/><circle cx="1643.7" cy="935.1" r="2.9"/><circle cx="1640.2" cy="925.3" r="2.9"/><circle cx="1632.9" cy="934.1" r="2.9"/><circle cx="1670.7" cy="934.0" r="2.9"/><circle cx="1658.7" cy="930.3" r="2.9"/><circle cx="1638.7" cy="922.3" r="2.9"/><circle cx="1655.3" cy="923.5" r="2.9"/><circle cx="1683.1" cy="922.5" r="2.9"/><circle cx="1646.1" cy="926.0" r="2.9"/><circle cx="1637.0" cy="922.5" r="2.9"/><circle cx="1656.4" cy="931.6" r="2.9"/><circle cx="1646.2" cy="922.0" r="2.9"/><circle cx="1657.8" cy="931.8" r="2.9"/><circle cx="1658.6" cy="931.5" r="2.9"/><circle cx="1659.1" cy="924.5" r="2.9"/><circle cx="1681.8" cy="936.4" r="2.9"/><circle cx="1678.4" cy="923.3" r="2.9"/><circle cx="1658.9" cy="924.5" r="2.9"/><circle cx="1643.1" cy="931.4" r="2.9"/><circle cx="1638.1" cy="923.2" r="2.9"/><circle cx="1666.6" cy="923.5" r="2.9"/><circle cx="1661.3" cy="924.7" r="2.9"/><circle cx="1686.0" cy="925.5" r="2.9"/><circle cx="1652.5" cy="930.9" r="2.9"/><circle cx="1648.6" cy="931.6" r="2.9"/><circle cx="1658.8" cy="924.1" r="2.9"/><circle cx="1662.0" cy="925.6" r="2.9"/><circle cx="1675.5" cy="935.8" r="2.9"/><circle cx="1682.0" cy="929.8" r="2.9"/><circle cx="1664.2" cy="925.1" r="2.9"/><circle cx="1641.9" cy="932.9" r="2.9"/><circle cx="1631.4" cy="924.9" r="2.9"/><circle cx="1632.8" cy="925.7" r="2.9"/><circle cx="1719.6" cy="927.2" r="2.9"/><circle cx="1742.3" cy="923.1" r="2.9"/><circle cx="1804.0" cy="929.1" r="2.9"/><circle cx="1768.1" cy="921.9" r="2.9"/><circle cx="1750.0" cy="921.9" r="2.9"/><circle cx="1779.4" cy="929.1" r="2.9"/><circle cx="1488.1" cy="869.8" r="2.9"/><circle cx="1402.4" cy="865.3" r="2.9"/><circle cx="1483.1" cy="880.0" r="2.9"/><circle cx="1444.6" cy="930.4" r="2.9"/><circle cx="1488.9" cy="867.5" r="2.9"/><circle cx="1413.8" cy="889.3" r="2.9"/><circle cx="1431.1" cy="912.8" r="2.9"/><circle cx="1468.3" cy="910.4" r="2.9"/><circle cx="1492.6" cy="866.2" r="2.9"/><circle cx="1456.5" cy="925.4" r="2.9"/><circle cx="1470.7" cy="903.4" r="2.9"/><circle cx="1400.9" cy="862.9" r="2.9"/><circle cx="1482.2" cy="879.2" r="2.9"/><circle cx="1430.4" cy="918.9" r="2.9"/><circle cx="1473.7" cy="894.5" r="2.9"/><circle cx="1415.0" cy="886.4" r="2.9"/><circle cx="1501.4" cy="844.4" r="2.9"/><circle cx="1433.1" cy="918.2" r="2.9"/><circle cx="1494.4" cy="861.0" r="2.9"/><circle cx="1424.3" cy="908.0" r="2.9"/><circle cx="1472.3" cy="902.9" r="2.9"/><circle cx="1451.6" cy="930.4" r="2.9"/><circle cx="1465.2" cy="915.3" r="2.9"/><circle cx="1497.4" cy="847.1" r="2.9"/><circle cx="1453.2" cy="926.2" r="2.9"/><circle cx="1411.1" cy="878.8" r="2.9"/><circle cx="1452.1" cy="927.9" r="2.9"/><circle cx="1487.5" cy="873.1" r="2.9"/><circle cx="1493.7" cy="862.3" r="2.9"/><circle cx="1393.2" cy="847.4" r="2.9"/><circle cx="1490.9" cy="861.2" r="2.9"/><circle cx="1497.2" cy="852.3" r="2.9"/><circle cx="1494.7" cy="856.9" r="2.9"/><circle cx="1406.6" cy="873.1" r="2.9"/><circle cx="1480.3" cy="886.3" r="2.9"/><circle cx="1457.8" cy="925.4" r="2.9"/><circle cx="1421.4" cy="902.2" r="2.9"/><circle cx="1447.9" cy="930.4" r="2.9"/><circle cx="1400.9" cy="867.9" r="2.9"/><circle cx="1428.6" cy="911.2" r="2.9"/><circle cx="1474.1" cy="899.3" r="2.9"/><circle cx="1419.1" cy="897.3" r="2.9"/><circle cx="1410.2" cy="880.2" r="2.9"/><circle cx="1491.5" cy="866.8" r="2.9"/><circle cx="1455.9" cy="923.4" r="2.9"/><circle cx="1474.2" cy="894.5" r="2.9"/><circle cx="1469.9" cy="906.2" r="2.9"/><circle cx="1484.2" cy="874.1" r="2.9"/><circle cx="1396.5" cy="849.8" r="2.9"/><circle cx="1440.0" cy="930.4" r="2.9"/><circle cx="1398.4" cy="855.1" r="2.9"/><circle cx="1466.2" cy="913.6" r="2.9"/><circle cx="1441.9" cy="930.4" r="2.9"/><circle cx="1501.9" cy="844.1" r="2.9"/><circle cx="1476.2" cy="895.6" r="2.9"/><circle cx="1412.8" cy="889.4" r="2.9"/><circle cx="1436.4" cy="923.8" r="2.9"/><circle cx="1424.4" cy="909.9" r="2.9"/><circle cx="1415.0" cy="894.1" r="2.9"/><circle cx="1412.2" cy="886.7" r="2.9"/><circle cx="1446.9" cy="930.4" r="2.9"/><circle cx="1444.1" cy="930.4" r="2.9"/><circle cx="1499.2" cy="848.4" r="2.9"/><circle cx="1496.0" cy="855.0" r="2.9"/><circle cx="1412.7" cy="885.0" r="2.9"/><circle cx="1406.7" cy="877.8" r="2.9"/><circle cx="1398.8" cy="856.9" r="2.9"/><circle cx="1498.5" cy="850.6" r="2.9"/><circle cx="1430.1" cy="916.5" r="2.9"/><circle cx="1429.9" cy="913.5" r="2.9"/><circle cx="1434.3" cy="925.5" r="2.9"/><circle cx="1487.1" cy="871.9" r="2.9"/><circle cx="1391.3" cy="840.0" r="2.9"/><circle cx="1471.9" cy="902.0" r="2.9"/><circle cx="1460.9" cy="914.4" r="2.9"/><circle cx="1435.4" cy="924.3" r="2.9"/><circle cx="1423.9" cy="905.2" r="2.9"/><circle cx="1464.6" cy="910.5" r="2.9"/><circle cx="1496.5" cy="857.2" r="2.9"/><circle cx="1431.4" cy="914.3" r="2.9"/><circle cx="1478.9" cy="887.3" r="2.9"/><circle cx="1466.2" cy="911.8" r="2.9"/><circle cx="1496.0" cy="854.2" r="2.9"/><circle cx="1435.5" cy="926.8" r="2.9"/><circle cx="1403.5" cy="864.3" r="2.9"/><circle cx="1479.9" cy="890.8" r="2.9"/><circle cx="1426.7" cy="910.5" r="2.9"/><circle cx="1445.9" cy="930.4" r="2.9"/><circle cx="1490.5" cy="867.3" r="2.9"/><circle cx="1450.0" cy="928.7" r="2.9"/><circle cx="1461.9" cy="917.1" r="2.9"/><circle cx="1427.7" cy="913.1" r="2.9"/><circle cx="1458.6" cy="919.1" r="2.9"/><circle cx="1419.7" cy="899.7" r="2.9"/><circle cx="1433.9" cy="922.7" r="2.9"/><circle cx="1492.5" cy="861.5" r="2.9"/><circle cx="1421.4" cy="903.1" r="2.9"/><circle cx="1482.3" cy="885.1" r="2.9"/><circle cx="1467.6" cy="912.5" r="2.9"/><circle cx="1412.2" cy="889.2" r="2.9"/><circle cx="1480.5" cy="888.6" r="2.9"/><circle cx="1416.0" cy="896.3" r="2.9"/><circle cx="1420.0" cy="896.8" r="2.9"/><circle cx="1471.0" cy="898.2" r="2.9"/><circle cx="1496.3" cy="853.7" r="2.9"/><circle cx="1493.5" cy="863.9" r="2.9"/><circle cx="1493.8" cy="859.8" r="2.9"/><circle cx="1412.1" cy="882.4" r="2.9"/><circle cx="1486.4" cy="875.0" r="2.9"/><circle cx="1401.0" cy="859.6" r="2.9"/><circle cx="1474.7" cy="894.8" r="2.9"/><circle cx="1499.6" cy="851.9" r="2.9"/><circle cx="1396.8" cy="858.6" r="2.9"/><circle cx="1393.0" cy="845.0" r="2.9"/><circle cx="1460.9" cy="922.2" r="2.9"/><circle cx="1408.7" cy="881.4" r="2.9"/><circle cx="1458.6" cy="920.2" r="2.9"/><circle cx="1498.8" cy="850.4" r="2.9"/><circle cx="1499.9" cy="847.5" r="2.9"/><circle cx="1434.2" cy="924.3" r="2.9"/><circle cx="1416.6" cy="888.3" r="2.9"/><circle cx="1501.6" cy="841.1" r="2.9"/><circle cx="1410.1" cy="884.2" r="2.9"/><circle cx="1407.6" cy="877.7" r="2.9"/><circle cx="1472.9" cy="903.2" r="2.9"/><circle cx="1449.8" cy="930.4" r="2.9"/><circle cx="1394.3" cy="850.3" r="2.9"/><circle cx="1478.9" cy="887.4" r="2.9"/><circle cx="1441.0" cy="927.1" r="2.9"/><circle cx="1457.7" cy="924.8" r="2.9"/><circle cx="1434.8" cy="918.4" r="2.9"/><circle cx="1486.5" cy="869.7" r="2.9"/><circle cx="1453.2" cy="930.4" r="2.9"/><circle cx="1410.1" cy="882.2" r="2.9"/><circle cx="1467.7" cy="912.6" r="2.9"/><circle cx="1480.1" cy="883.1" r="2.9"/><circle cx="1448.1" cy="930.4" r="2.9"/><circle cx="1479.7" cy="887.5" r="2.9"/><circle cx="1465.3" cy="911.0" r="2.9"/><circle cx="1471.9" cy="901.5" r="2.9"/><circle cx="1139.5" cy="937.7" r="2.9"/><circle cx="1867.7" cy="937.7" r="2.9"/><circle cx="1139.5" cy="935.5" r="2.9"/><circle cx="1867.7" cy="935.5" r="2.9"/><circle cx="1139.5" cy="933.3" r="2.9"/><circle cx="1867.7" cy="933.3" r="2.9"/><circle cx="1139.5" cy="931.2" r="2.9"/><circle cx="1867.7" cy="931.2" r="2.9"/><circle cx="1139.5" cy="929.0" r="2.9"/><circle cx="1867.7" cy="929.0" r="2.9"/><circle cx="1139.5" cy="926.8" r="2.9"/><circle cx="1867.7" cy="926.8" r="2.9"/><circle cx="1139.5" cy="924.6" r="2.9"/><circle cx="1867.7" cy="924.6" r="2.9"/><circle cx="1139.5" cy="922.4" r="2.9"/><circle cx="1867.7" cy="922.4" r="2.9"/></g>
<g fill="#0000FF" fill-opacity="0.6" stroke="#0000FF" stroke-width="1.5"><circle cx="1175.8" cy="76.1" r="2.5"/><circle cx="1305.8" cy="412.9" r="2.5"/><circle cx="1219.9" cy="453.2" r="2.5"/><circle cx="1175.8" cy="487.4" r="2.5"/><circle cx="1221.0" cy="538.6" r="2.5"/><circle cx="1209.2" cy="544.7" r="2.5"/><circle cx="1320.9" cy="570.4" r="2.5"/><circle cx="1301.9" cy="589.9" r="2.5"/><circle cx="1351.0" cy="637.5" r="2.5"/><circle cx="1351.0" cy="661.9" r="2.5"/><circle cx="1346.0" cy="669.2" r="2.5"/><circle cx="1352.7" cy="675.3" r="2.5"/><circle cx="1355.4" cy="688.8" r="2.5"/><circle cx="1313.6" cy="688.8" r="2.5"/><circle cx="1316.4" cy="690.0" r="2.5"/><circle cx="1325.9" cy="694.9" r="2.5"/><circle cx="1265.1" cy="698.5" r="2.5"/><circle cx="1239.4" cy="720.5" r="2.5"/><circle cx="1311.9" cy="738.8" r="2.5"/><circle cx="1349.9" cy="735.1" r="2.5"/><circle cx="1359.4" cy="730.3" r="2.5"/><circle cx="1358.2" cy="735.1" r="2.5"/><circle cx="1318.6" cy="744.9" r="2.5"/><circle cx="1324.8" cy="747.3" r="2.5"/><circle cx="1368.8" cy="741.2" r="2.5"/><circle cx="1372.2" cy="749.8" r="2.5"/><circle cx="1361.0" cy="748.6" r="2.5"/><circle cx="1275.1" cy="755.9" r="2.5"/><circle cx="1275.7" cy="765.7" r="2.5"/><circle cx="1233.2" cy="774.2" r="2.5"/><circle cx="1285.7" cy="775.4" r="2.5"/><circle cx="1318.6" cy="757.1" r="2.5"/><circle cx="1286.3" cy="776.6" r="2.5"/><circle cx="1139.5" cy="827.9" r="2.5"/><circle cx="1188.6" cy="825.5" r="2.5"/><circle cx="1194.2" cy="857.2" r="2.5"/><circle cx="1185.8" cy="865.7" r="2.5"/><circle cx="1203.1" cy="863.9" r="2.5"/><circle cx="1153.5" cy="884.0" r="2.5"/><circle cx="1160.7" cy="891.4" r="2.5"/><circle cx="1173.0" cy="892.6" r="2.5"/><circle cx="1139.5" cy="887.7" r="2.5"/><circle cx="1174.1" cy="909.7" r="2.5"/><circle cx="1176.9" cy="909.7" r="2.5"/><circle cx="1193.1" cy="907.2" r="2.5"/><circle cx="1200.9" cy="909.7" r="2.5"/><circle cx="1217.6" cy="886.5" r="2.5"/><circle cx="1235.5" cy="882.8" r="2.5"/><circle cx="1300.2" cy="823.0" r="2.5"/><circle cx="1290.2" cy="834.0" r="2.5"/><circle cx="1294.6" cy="835.2" r="2.5"/><circle cx="1257.2" cy="848.6" r="2.5"/><circle cx="1272.3" cy="847.4" r="2.5"/><circle cx="1277.9" cy="849.9" r="2.5"/><circle cx="1285.7" cy="857.2" r="2.5"/><circle cx="1248.9" cy="873.1" r="2.5"/><circle cx="1253.9" cy="879.2" r="2.5"/><circle cx="1274.0" cy="874.3" r="2.5"/><circle cx="1266.2" cy="886.5" r="2.5"/><circle cx="1253.3" cy="895.0" r="2.5"/><circle cx="1251.1" cy="904.8" r="2.5"/><circle cx="1262.3" cy="906.0" r="2.5"/><circle cx="1248.3" cy="913.3" r="2.5"/><circle cx="1256.7" cy="915.8" r="2.5"/><circle cx="1262.3" cy="917.0" r="2.5"/><circle cx="1273.4" cy="918.2" r="2.5"/><circle cx="1217.6" cy="914.6" r="2.5"/><circle cx="1223.2" cy="917.0" r="2.5"/><circle cx="1228.8" cy="912.1" r="2.5"/><circle cx="1318.1" cy="747.3" r="2.5"/><circle cx="1322.5" cy="744.9" r="2.5"/><circle cx="1324.8" cy="748.6" r="2.5"/><circle cx="1319.2" cy="758.3" r="2.5"/><circle cx="1349.3" cy="734.5" r="2.5"/><circle cx="1351.5" cy="736.4" r="2.5"/><circle cx="1359.4" cy="730.3" r="2.5"/><circle cx="1358.8" cy="733.9" r="2.5"/><circle cx="1367.2" cy="742.5" r="2.5"/><circle cx="1371.6" cy="742.5" r="2.5"/><circle cx="1360.5" cy="747.3" r="2.5"/><circle cx="1371.6" cy="749.8" r="2.5"/><circle cx="1332.6" cy="776.6" r="2.5"/><circle cx="1343.7" cy="777.9" r="2.5"/><circle cx="1330.3" cy="784.0" r="2.5"/><circle cx="1328.1" cy="790.1" r="2.5"/><circle cx="1351.5" cy="788.8" r="2.5"/><circle cx="1353.8" cy="790.1" r="2.5"/><circle cx="1354.3" cy="797.4" r="2.5"/><circle cx="1346.5" cy="799.8" r="2.5"/><circle cx="1342.6" cy="805.3" r="2.5"/><circle cx="1332.0" cy="804.7" r="2.5"/><circle cx="1363.3" cy="776.6" r="2.5"/><circle cx="1367.7" cy="773.0" r="2.5"/><circle cx="1371.6" cy="771.8" r="2.5"/><circle cx="1377.8" cy="779.1" r="2.5"/><circle cx="1378.9" cy="784.0" r="2.5"/><circle cx="1373.9" cy="785.2" r="2.5"/><circle cx="1368.8" cy="787.6" r="2.5"/><circle cx="1378.3" cy="799.8" r="2.5"/><circle cx="1378.9" cy="788.8" r="2.5"/><circle cx="1362.7" cy="807.1" r="2.5"/><circle cx="1332.0" cy="824.2" r="2.5"/><circle cx="1335.4" cy="817.5" r="2.5"/><circle cx="1319.2" cy="821.8" r="2.5"/><circle cx="1328.7" cy="834.0" r="2.5"/><circle cx="1347.1" cy="815.7" r="2.5"/><circle cx="1354.9" cy="818.1" r="2.5"/><circle cx="1362.7" cy="820.0" r="2.5"/><circle cx="1372.7" cy="814.5" r="2.5"/><circle cx="1381.7" cy="823.0" r="2.5"/><circle cx="1384.5" cy="808.4" r="2.5"/><circle cx="1378.3" cy="820.6" r="2.5"/><circle cx="1384.5" cy="829.1" r="2.5"/><circle cx="1311.9" cy="843.8" r="2.5"/><circle cx="1315.3" cy="848.6" r="2.5"/><circle cx="1322.5" cy="849.9" r="2.5"/><circle cx="1327.0" cy="846.2" r="2.5"/><circle cx="1354.9" cy="836.4" r="2.5"/><circle cx="1359.9" cy="845.0" r="2.5"/><circle cx="1370.0" cy="831.6" r="2.5"/><circle cx="1374.4" cy="829.1" r="2.5"/><circle cx="1370.5" cy="841.3" r="2.5"/><circle cx="1379.4" cy="838.9" r="2.5"/><circle cx="1139.5" cy="917.0" r="2.5"/><circle cx="1139.5" cy="914.3" r="2.5"/><circle cx="1139.5" cy="911.6" r="2.5"/><circle cx="1139.5" cy="908.9" r="2.5"/><circle cx="1139.5" cy="906.3" r="2.5"/><circle cx="1139.5" cy="903.6" r="2.5"/><circle cx="1139.5" cy="900.9" r="2.5"/><circle cx="1139.5" cy="898.2" r="2.5"/><circle cx="1379.8" cy="914.8" r="2.5"/><circle cx="1364.3" cy="917.1" r="2.5"/><circle cx="1370.9" cy="908.1" r="2.5"/><circle cx="1387.5" cy="900.8" r="2.5"/><circle cx="1388.0" cy="904.3" r="2.5"/><circle cx="1387.2" cy="916.4" r="2.5"/><circle cx="1376.0" cy="876.4" r="2.5"/><circle cx="1385.8" cy="912.4" r="2.5"/><circle cx="1365.8" cy="850.7" r="2.5"/><circle cx="1368.8" cy="907.0" r="2.5"/><circle cx="1301.3" cy="918.0" r="2.5"/><circle cx="1343.1" cy="911.8" r="2.5"/><circle cx="1385.3" cy="915.7" r="2.5"/><circle cx="1380.3" cy="877.0" r="2.5"/><circle cx="1384.3" cy="896.9" r="2.5"/><circle cx="1365.1" cy="908.1" r="2.5"/><circle cx="1370.3" cy="917.3" r="2.5"/><circle cx="1387.5" cy="912.9" r="2.5"/><circle cx="1362.2" cy="906.2" r="2.5"/><circle cx="1380.1" cy="897.1" r="2.5"/><circle cx="1374.8" cy="910.2" r="2.5"/><circle cx="1351.9" cy="892.9" r="2.5"/><circle cx="1382.4" cy="897.5" r="2.5"/><circle cx="1371.5" cy="869.5" r="2.5"/><circle cx="1358.3" cy="911.3" r="2.5"/><circle cx="1297.0" cy="916.8" r="2.5"/><circle cx="1376.2" cy="884.5" r="2.5"/><circle cx="1385.1" cy="901.9" r="2.5"/><circle cx="1388.0" cy="890.7" r="2.5"/><circle cx="1355.0" cy="900.2" r="2.5"/><circle cx="1340.1" cy="911.2" r="2.5"/><circle cx="1361.1" cy="898.4" r="2.5"/><circle cx="1368.6" cy="904.6" r="2.5"/><circle cx="1346.0" cy="858.2" r="2.5"/><circle cx="1373.9" cy="892.7" r="2.5"/><circle cx="1387.5" cy="888.0" r="2.5"/><circle cx="1364.5" cy="862.1" r="2.5"/><circle cx="1381.1" cy="906.7" r="2.5"/><circle cx="1363.0" cy="918.3" r="2.5"/><circle cx="1374.4" cy="914.4" r="2.5"/><circle cx="1386.0" cy="917.3" r="2.5"/><circle cx="1354.7" cy="915.8" r="2.5"/><circle cx="1382.3" cy="906.5" r="2.5"/><circle cx="1340.9" cy="917.1" r="2.5"/><circle cx="1374.9" cy="899.6" r="2.5"/><circle cx="1338.6" cy="884.4" r="2.5"/><circle cx="1342.2" cy="912.1" r="2.5"/><circle cx="1376.3" cy="908.0" r="2.5"/><circle cx="1338.4" cy="855.2" r="2.5"/><circle cx="1385.1" cy="913.9" r="2.5"/><circle cx="1382.7" cy="912.2" r="2.5"/><circle cx="1373.4" cy="897.5" r="2.5"/><circle cx="1381.8" cy="918.7" r="2.5"/><circle cx="1376.2" cy="907.7" r="2.5"/><circle cx="1369.3" cy="847.0" r="2.5"/><circle cx="1361.4" cy="902.4" r="2.5"/><circle cx="1366.4" cy="892.7" r="2.5"/><circle cx="1387.6" cy="860.3" r="2.5"/><circle cx="1353.4" cy="873.7" r="2.5"/><circle cx="1351.5" cy="908.1" r="2.5"/><circle cx="1377.0" cy="916.2" r="2.5"/><circle cx="1365.4" cy="917.3" r="2.5"/><circle cx="1387.3" cy="912.9" r="2.5"/><circle cx="1384.8" cy="908.4" r="2.5"/><circle cx="1387.7" cy="918.8" r="2.5"/><circle cx="1385.1" cy="916.1" r="2.5"/><circle cx="1378.3" cy="918.2" r="2.5"/><circle cx="1340.3" cy="899.5" r="2.5"/><circle cx="1385.2" cy="911.5" r="2.5"/><circle cx="1378.9" cy="907.7" r="2.5"/><circle cx="1385.9" cy="871.0" r="2.5"/><circle cx="1272.3" cy="908.5" r="2.5"/><circle cx="1373.4" cy="916.7" r="2.5"/><circle cx="1386.4" cy="908.2" r="2.5"/><circle cx="1381.7" cy="875.0" r="2.5"/><circle cx="1384.8" cy="918.2" r="2.5"/><circle cx="1318.3" cy="905.4" r="2.5"/><circle cx="1385.2" cy="899.1" r="2.5"/><circle cx="1388.3" cy="899.6" r="2.5"/><circle cx="1298.9" cy="886.0" r="2.5"/><circle cx="1361.0" cy="912.0" r="2.5"/><circle cx="1378.2" cy="914.4" r="2.5"/><circle cx="1354.3" cy="902.2" r="2.5"/><circle cx="1353.5" cy="910.1" r="2.5"/><circle cx="1383.0" cy="877.1" r="2.5"/><circle cx="1290.6" cy="887.3" r="2.5"/><circle cx="1350.5" cy="882.3" r="2.5"/><circle cx="1357.4" cy="913.1" r="2.5"/><circle cx="1371.8" cy="908.4" r="2.5"/><circle cx="1388.2" cy="918.1" r="2.5"/><circle cx="1381.2" cy="911.4" r="2.5"/><circle cx="1361.3" cy="847.9" r="2.5"/><circle cx="1375.0" cy="852.2" r="2.5"/><circle cx="1285.2" cy="867.7" r="2.5"/><circle cx="1378.3" cy="912.7" r="2.5"/><circle cx="1382.9" cy="913.4" r="2.5"/><circle cx="1383.6" cy="894.3" r="2.5"/><circle cx="1334.9" cy="882.6" r="2.5"/><circle cx="1373.6" cy="893.5" r="2.5"/><circle cx="1351.2" cy="916.9" r="2.5"/><circle cx="1363.6" cy="863.8" r="2.5"/><circle cx="1353.2" cy="888.7" r="2.5"/><circle cx="1373.7" cy="914.1" r="2.5"/><circle cx="1352.4" cy="910.1" r="2.5"/><circle cx="1351.1" cy="842.2" r="2.5"/><circle cx="1377.1" cy="906.3" r="2.5"/><circle cx="1320.2" cy="895.5" r="2.5"/><circle cx="1384.6" cy="915.4" r="2.5"/><circle cx="1385.1" cy="859.5" r="2.5"/><circle cx="1350.4" cy="915.4" r="2.5"/><circle cx="1347.9" cy="835.8" r="2.5"/><circle cx="1363.8" cy="909.0" r="2.5"/><circle cx="1370.3" cy="915.5" r="2.5"/><circle cx="1388.6" cy="828.3" r="2.5"/><circle cx="1364.3" cy="901.7" r="2.5"/><circle cx="1325.4" cy="908.2" r="2.5"/><circle cx="1340.8" cy="883.2" r="2.5"/><circle cx="1383.4" cy="911.6" r="2.5"/><circle cx="1380.8" cy="912.0" r="2.5"/><circle cx="1368.2" cy="911.8" r="2.5"/><circle cx="1376.2" cy="915.4" r="2.5"/><circle cx="1332.5" cy="910.3" r="2.5"/><circle cx="1374.6" cy="897.8" r="2.5"/><circle cx="1333.9" cy="908.1" r="2.5"/><circle cx="1330.4" cy="905.4" r="2.5"/><circle cx="1371.1" cy="901.3" r="2.5"/><circle cx="1388.5" cy="904.0" r="2.5"/><circle cx="1384.2" cy="918.7" r="2.5"/><circle cx="1351.3" cy="914.8" r="2.5"/><circle cx="1373.9" cy="887.8" r="2.5"/><circle cx="1369.9" cy="909.5" r="2.5"/><circle cx="1371.8" cy="899.6" r="2.5"/><circle cx="1353.0" cy="916.4" r="2.5"/><circle cx="1369.7" cy="912.1" r="2.5"/><circle cx="1381.3" cy="882.1" r="2.5"/><circle cx="1372.3" cy="899.2" r="2.5"/><circle cx="1355.5" cy="865.3" r="2.5"/><circle cx="1375.2" cy="895.9" r="2.5"/><circle cx="1372.4" cy="901.7" r="2.5"/><circle cx="1361.3" cy="905.2" r="2.5"/><circle cx="1371.1" cy="903.4" r="2.5"/><circle cx="1322.4" cy="896.8" r="2.5"/><circle cx="1339.9" cy="861.0" r="2.5"/><circle cx="1381.9" cy="898.4" r="2.5"/><circle cx="1321.7" cy="885.3" r="2.5"/><circle cx="1385.5" cy="915.5" r="2.5"/><circle cx="1375.2" cy="917.0" r="2.5"/><circle cx="1382.5" cy="916.9" r="2.5"/><circle cx="1363.0" cy="883.9" r="2.5"/><circle cx="1335.6" cy="915.5" r="2.5"/><circle cx="1359.4" cy="894.6" r="2.5"/><circle cx="1385.3" cy="864.7" r="2.5"/><circle cx="1308.6" cy="914.6" r="2.5"/><circle cx="1317.5" cy="909.8" r="2.5"/><circle cx="1373.3" cy="809.0" r="2.5"/><circle cx="1347.1" cy="915.1" r="2.5"/><circle cx="1375.7" cy="901.3" r="2.5"/><circle cx="1379.2" cy="913.5" r="2.5"/><circle cx="1379.9" cy="887.3" r="2.5"/><circle cx="1388.5" cy="898.2" r="2.5"/><circle cx="1375.3" cy="918.4" r="2.5"/><circle cx="1379.5" cy="894.8" r="2.5"/><circle cx="1372.1" cy="917.2" r="2.5"/><circle cx="1290.4" cy="893.2" r="2.5"/><circle cx="1305.4" cy="917.0" r="2.5"/><circle cx="1381.7" cy="917.8" r="2.5"/><circle cx="1353.5" cy="912.0" r="2.5"/><circle cx="1385.7" cy="905.0" r="2.5"/><circle cx="1332.1" cy="885.6" r="2.5"/><circle cx="1381.9" cy="914.8" r="2.5"/><circle cx="1330.0" cy="902.6" r="2.5"/><circle cx="1360.7" cy="916.7" r="2.5"/><circle cx="1387.5" cy="889.1" r="2.5"/><circle cx="1375.9" cy="917.0" r="2.5"/><circle cx="1323.6" cy="900.2" r="2.5"/><circle cx="1351.0" cy="916.9" r="2.5"/><circle cx="1343.5" cy="917.4" r="2.5"/><circle cx="1342.4" cy="906.4" r="2.5"/><circle cx="1379.2" cy="899.0" r="2.5"/><circle cx="1327.7" cy="912.9" r="2.5"/><circle cx="1385.7" cy="899.9" r="2.5"/><circle cx="1382.5" cy="915.9" r="2.5"/><circle cx="1384.8" cy="917.5" r="2.5"/><circle cx="1383.6" cy="909.5" r="2.5"/><circle cx="1380.4" cy="883.6" r="2.5"/><circle cx="1380.9" cy="901.7" r="2.5"/><circle cx="1384.3" cy="908.1" r="2.5"/><circle cx="1388.5" cy="911.4" r="2.5"/><circle cx="1388.6" cy="885.0" r="2.5"/><circle cx="1370.2" cy="913.9" r="2.5"/><circle cx="1373.8" cy="853.4" r="2.5"/><circle cx="1386.3" cy="875.5" r="2.5"/><circle cx="1375.7" cy="902.3" r="2.5"/><circle cx="1346.8" cy="908.3" r="2.5"/><circle cx="1372.4" cy="891.1" r="2.5"/><circle cx="1294.2" cy="911.9" r="2.5"/><circle cx="1347.1" cy="893.0" r="2.5"/><circle cx="1365.2" cy="906.9" r="2.5"/><circle cx="1378.9" cy="917.5" r="2.5"/><circle cx="1385.7" cy="917.0" r="2.5"/><circle cx="1357.3" cy="912.3" r="2.5"/><circle cx="1384.7" cy="916.6" r="2.5"/><circle cx="1345.8" cy="876.1" r="2.5"/><circle cx="1362.9" cy="911.3" r="2.5"/><circle cx="1382.4" cy="910.2" r="2.5"/><circle cx="1374.5" cy="914.7" r="2.5"/><circle cx="1375.1" cy="911.5" r="2.5"/><circle cx="1312.4" cy="856.7" r="2.5"/><circle cx="1370.4" cy="912.2" r="2.5"/><circle cx="1309.9" cy="912.5" r="2.5"/><circle cx="1378.6" cy="918.8" r="2.5"/><circle cx="1377.7" cy="903.1" r="2.5"/><circle cx="1372.6" cy="913.5" r="2.5"/><circle cx="1372.5" cy="918.7" r="2.5"/><circle cx="1381.7" cy="916.5" r="2.5"/><circle cx="1377.0" cy="917.8" r="2.5"/><circle cx="1388.4" cy="909.5" r="2.5"/><circle cx="1382.7" cy="896.8" r="2.5"/><circle cx="1371.3" cy="885.9" r="2.5"/><circle cx="1363.8" cy="890.0" r="2.5"/><circle cx="1339.4" cy="908.8" r="2.5"/><circle cx="1379.7" cy="815.9" r="2.5"/><circle cx="1385.1" cy="886.3" r="2.5"/><circle cx="1364.8" cy="917.8" r="2.5"/><circle cx="1346.7" cy="872.1" r="2.5"/><circle cx="1365.8" cy="888.2" r="2.5"/><circle cx="1349.7" cy="915.6" r="2.5"/><circle cx="1371.5" cy="902.2" r="2.5"/><circle cx="1346.7" cy="884.5" r="2.5"/><circle cx="1347.9" cy="900.3" r="2.5"/><circle cx="1336.6" cy="896.0" r="2.5"/><circle cx="1361.2" cy="912.9" r="2.5"/><circle cx="1388.2" cy="915.2" r="2.5"/><circle cx="1378.4" cy="916.1" r="2.5"/><circle cx="1346.6" cy="901.7" r="2.5"/><circle cx="1365.8" cy="896.1" r="2.5"/><circle cx="1362.2" cy="903.6" r="2.5"/><circle cx="1388.8" cy="877.9" r="2.5"/><circle cx="1356.6" cy="903.4" r="2.5"/><circle cx="1371.0" cy="893.3" r="2.5"/><circle cx="1387.3" cy="884.8" r="2.5"/><circle cx="1382.1" cy="916.9" r="2.5"/><circle cx="1381.7" cy="886.4" r="2.5"/><circle cx="1383.5" cy="885.1" r="2.5"/><circle cx="1301.8" cy="907.6" r="2.5"/><circle cx="1377.6" cy="902.9" r="2.5"/><circle cx="1361.9" cy="885.8" r="2.5"/><circle cx="1366.4" cy="895.0" r="2.5"/><circle cx="1387.0" cy="914.8" r="2.5"/><circle cx="1382.1" cy="885.0" r="2.5"/><circle cx="1380.4" cy="898.1" r="2.5"/><circle cx="1388.6" cy="917.2" r="2.5"/><circle cx="1381.6" cy="891.1" r="2.5"/><circle cx="1361.3" cy="893.4" r="2.5"/><circle cx="1380.9" cy="900.8" r="2.5"/><circle cx="1374.3" cy="903.7" r="2.5"/><circle cx="1386.0" cy="862.1" r="2.5"/><circle cx="1383.7" cy="823.0" r="2.5"/><circle cx="1324.4" cy="918.5" r="2.5"/><circle cx="1374.5" cy="877.6" r="2.5"/><circle cx="1308.2" cy="908.8" r="2.5"/><circle cx="1381.6" cy="913.0" r="2.5"/><circle cx="1320.7" cy="914.5" r="2.5"/><circle cx="1368.5" cy="915.2" r="2.5"/><circle cx="1371.5" cy="846.4" r="2.5"/><circle cx="1385.6" cy="875.5" r="2.5"/><circle cx="1372.3" cy="866.9" r="2.5"/><circle cx="1360.4" cy="912.9" r="2.5"/><circle cx="1335.5" cy="905.6" r="2.5"/><circle cx="1388.3" cy="918.7" r="2.5"/><circle cx="1373.1" cy="904.5" r="2.5"/><circle cx="1380.5" cy="915.1" r="2.5"/><circle cx="1379.0" cy="909.5" r="2.5"/><circle cx="1345.9" cy="918.8" r="2.5"/><circle cx="1356.4" cy="878.5" r="2.5"/><circle cx="1385.9" cy="852.8" r="2.5"/><circle cx="1359.7" cy="866.8" r="2.5"/><circle cx="1380.9" cy="907.3" r="2.5"/><circle cx="1377.2" cy="878.2" r="2.5"/><circle cx="1378.4" cy="905.1" r="2.5"/><circle cx="1381.4" cy="917.6" r="2.5"/><circle cx="1386.4" cy="873.2" r="2.5"/><circle cx="1381.0" cy="850.9" r="2.5"/><circle cx="1382.2" cy="911.1" r="2.5"/><circle cx="1372.2" cy="913.8" r="2.5"/><circle cx="1378.0" cy="842.4" r="2.5"/><circle cx="1338.4" cy="885.2" r="2.5"/><circle cx="1365.6" cy="862.4" r="2.5"/><circle cx="1322.7" cy="904.2" r="2.5"/><circle cx="1359.1" cy="917.7" r="2.5"/><circle cx="1358.0" cy="905.5" r="2.5"/><circle cx="1356.2" cy="896.0" r="2.5"/><circle cx="1381.0" cy="917.6" r="2.5"/><circle cx="1327.7" cy="916.2" r="2.5"/><circle cx="1374.0" cy="908.7" r="2.5"/><circle cx="1380.6" cy="885.6" r="2.5"/><circle cx="1301.2" cy="913.9" r="2.5"/><circle cx="1363.9" cy="910.6" r="2.5"/><circle cx="1369.8" cy="907.0" r="2.5"/><circle cx="1384.6" cy="914.4" r="2.5"/><circle cx="1383.5" cy="859.6" r="2.5"/><circle cx="1372.8" cy="912.9" r="2.5"/><circle cx="1333.4" cy="808.3" r="2.5"/><circle cx="1374.9" cy="915.2" r="2.5"/><circle cx="1383.9" cy="916.4" r="2.5"/><circle cx="1379.1" cy="916.5" r="2.5"/><circle cx="1382.5" cy="911.4" r="2.5"/><circle cx="1369.2" cy="867.6" r="2.5"/><circle cx="1356.5" cy="907.1" r="2.5"/><circle cx="1376.4" cy="900.8" r="2.5"/><circle cx="1377.8" cy="908.7" r="2.5"/><circle cx="1387.4" cy="910.5" r="2.5"/><circle cx="1308.5" cy="916.6" r="2.5"/><circle cx="1372.5" cy="895.1" r="2.5"/><circle cx="1342.4" cy="913.8" r="2.5"/><circle cx="1381.5" cy="911.7" r="2.5"/><circle cx="1377.0" cy="904.5" r="2.5"/><circle cx="1316.8" cy="885.3" r="2.5"/><circle cx="1340.6" cy="918.4" r="2.5"/><circle cx="1388.2" cy="887.2" r="2.5"/><circle cx="1336.0" cy="906.1" r="2.5"/><circle cx="1368.2" cy="918.8" r="2.5"/><circle cx="1377.3" cy="855.1" r="2.5"/><circle cx="1348.0" cy="877.9" r="2.5"/><circle cx="1304.9" cy="914.1" r="2.5"/><circle cx="1386.2" cy="914.6" r="2.5"/><circle cx="1371.6" cy="891.6" r="2.5"/><circle cx="1322.4" cy="895.3" r="2.5"/><circle cx="1364.5" cy="885.6" r="2.5"/><circle cx="1374.6" cy="899.5" r="2.5"/><circle cx="1388.0" cy="879.9" r="2.5"/><circle cx="1382.7" cy="855.8" r="2.5"/><circle cx="1364.6" cy="910.5" r="2.5"/><circle cx="1385.7" cy="911.5" r="2.5"/><circle cx="1365.2" cy="891.2" r="2.5"/><circle cx="1386.1" cy="917.0" r="2.5"/><circle cx="1371.5" cy="898.1" r="2.5"/><circle cx="1377.4" cy="912.7" r="2.5"/><circle cx="1367.4" cy="918.6" r="2.5"/><circle cx="1380.5" cy="903.6" r="2.5"/><circle cx="1314.1" cy="900.8" r="2.5"/><circle cx="1338.5" cy="905.9" r="2.5"/><circle cx="1382.7" cy="911.7" r="2.5"/><circle cx="1313.1" cy="897.7" r="2.5"/><circle cx="1380.3" cy="918.3" r="2.5"/><circle cx="1372.8" cy="892.0" r="2.5"/><circle cx="1376.2" cy="911.6" r="2.5"/><circle cx="1363.1" cy="859.7" r="2.5"/><circle cx="1382.9" cy="918.0" r="2.5"/><circle cx="1379.3" cy="905.4" r="2.5"/><circle cx="1362.0" cy="913.8" r="2.5"/><circle cx="1351.5" cy="889.9" r="2.5"/><circle cx="1372.5" cy="913.4" r="2.5"/><circle cx="1306.9" cy="912.6" r="2.5"/><circle cx="1348.7" cy="913.3" r="2.5"/><circle cx="1383.1" cy="883.1" r="2.5"/><circle cx="1380.7" cy="843.8" r="2.5"/><circle cx="1372.9" cy="913.9" r="2.5"/><circle cx="1383.0" cy="905.3" r="2.5"/><circle cx="1363.3" cy="851.0" r="2.5"/><circle cx="1385.2" cy="906.2" r="2.5"/><circle cx="1383.3" cy="827.4" r="2.5"/><circle cx="1385.3" cy="917.5" r="2.5"/><circle cx="1387.5" cy="906.1" r="2.5"/><circle cx="1335.4" cy="876.3" r="2.5"/><circle cx="1358.0" cy="854.6" r="2.5"/><circle cx="1379.6" cy="913.8" r="2.5"/><circle cx="1324.5" cy="893.3" r="2.5"/><circle cx="1388.2" cy="890.9" r="2.5"/><circle cx="1377.8" cy="907.4" r="2.5"/><circle cx="1379.5" cy="914.3" r="2.5"/><circle cx="1388.9" cy="910.4" r="2.5"/><circle cx="1378.8" cy="842.5" r="2.5"/><circle cx="1385.8" cy="834.6" r="2.5"/><circle cx="1383.5" cy="907.8" r="2.5"/><circle cx="1348.5" cy="882.2" r="2.5"/><circle cx="1375.7" cy="917.6" r="2.5"/><circle cx="1373.9" cy="907.6" r="2.5"/><circle cx="1329.9" cy="914.7" r="2.5"/><circle cx="1378.3" cy="863.2" r="2.5"/><circle cx="1388.2" cy="905.3" r="2.5"/><circle cx="1349.8" cy="887.8" r="2.5"/><circle cx="1388.0" cy="917.9" r="2.5"/><circle cx="1387.4" cy="854.5" r="2.5"/><circle cx="1382.0" cy="884.6" r="2.5"/><circle cx="1335.3" cy="910.6" r="2.5"/><circle cx="1381.5" cy="840.3" r="2.5"/><circle cx="1366.4" cy="911.8" r="2.5"/><circle cx="1359.4" cy="910.3" r="2.5"/><circle cx="1381.4" cy="918.7" r="2.5"/><circle cx="1355.9" cy="864.2" r="2.5"/><circle cx="1365.4" cy="852.7" r="2.5"/><circle cx="1388.4" cy="912.0" r="2.5"/><circle cx="1373.8" cy="843.5" r="2.5"/><circle cx="1316.8" cy="910.2" r="2.5"/><circle cx="1382.2" cy="904.8" r="2.5"/><circle cx="1373.0" cy="855.9" r="2.5"/><circle cx="1384.2" cy="878.1" r="2.5"/><circle cx="1357.5" cy="880.4" r="2.5"/><circle cx="1354.2" cy="898.4" r="2.5"/><circle cx="1371.3" cy="890.9" r="2.5"/><circle cx="1372.2" cy="850.6" r="2.5"/><circle cx="1364.8" cy="901.6" r="2.5"/><circle cx="1382.4" cy="897.2" r="2.5"/><circle cx="1364.4" cy="915.9" r="2.5"/><circle cx="1377.2" cy="890.4" r="2.5"/><circle cx="1388.4" cy="841.7" r="2.5"/><circle cx="1388.6" cy="895.7" r="2.5"/><circle cx="1364.9" cy="910.4" r="2.5"/><circle cx="1375.8" cy="856.9" r="2.5"/><circle cx="1374.4" cy="898.4" r="2.5"/><circle cx="1373.6" cy="864.7" r="2.5"/><circle cx="1380.4" cy="853.6" r="2.5"/><circle cx="1384.9" cy="860.8" r="2.5"/><circle cx="1365.9" cy="845.4" r="2.5"/><circle cx="1370.4" cy="869.4" r="2.5"/><circle cx="1372.5" cy="854.4" r="2.5"/><circle cx="1367.9" cy="897.2" r="2.5"/><circle cx="1369.1" cy="905.4" r="2.5"/><circle cx="1385.9" cy="868.4" r="2.5"/><circle cx="1371.3" cy="884.3" r="2.5"/><circle cx="1388.7" cy="874.6" r="2.5"/><circle cx="1368.8" cy="848.3" r="2.5"/><circle cx="1379.8" cy="832.3" r="2.5"/><circle cx="1365.4" cy="877.4" r="2.5"/><circle cx="1384.2" cy="845.5" r="2.5"/><circle cx="1386.7" cy="915.3" r="2.5"/><circle cx="1370.4" cy="908.4" r="2.5"/><circle cx="1367.7" cy="833.9" r="2.5"/><circle cx="1378.0" cy="837.7" r="2.5"/><circle cx="1372.5" cy="843.2" r="2.5"/><circle cx="1374.5" cy="896.1" r="2.5"/><circle cx="1383.1" cy="836.3" r="2.5"/><circle cx="1365.5" cy="866.8" r="2.5"/><circle cx="1379.0" cy="899.8" r="2.5"/><circle cx="1372.4" cy="906.5" r="2.5"/><circle cx="1368.0" cy="896.6" r="2.5"/><circle cx="1378.4" cy="862.0" r="2.5"/><circle cx="1368.0" cy="917.8" r="2.5"/><circle cx="1371.3" cy="859.6" r="2.5"/><circle cx="1367.6" cy="891.6" r="2.5"/><circle cx="1368.0" cy="849.4" r="2.5"/><circle cx="1377.1" cy="913.3" r="2.5"/><circle cx="1365.4" cy="884.3" r="2.5"/><circle cx="1377.1" cy="863.0" r="2.5"/><circle cx="1365.1" cy="904.5" r="2.5"/><circle cx="1380.9" cy="883.1" r="2.5"/><circle cx="1370.1" cy="892.0" r="2.5"/><circle cx="1387.7" cy="891.6" r="2.5"/><circle cx="1377.6" cy="887.7" r="2.5"/><circle cx="1373.6" cy="843.4" r="2.5"/><circle cx="1388.8" cy="887.1" r="2.5"/><circle cx="1367.9" cy="855.3" r="2.5"/><circle cx="1368.0" cy="918.3" r="2.5"/><circle cx="1386.3" cy="881.8" r="2.5"/><circle cx="1384.2" cy="883.4" r="2.5"/><circle cx="1385.9" cy="878.6" r="2.5"/><circle cx="1367.0" cy="917.5" r="2.5"/><circle cx="1377.2" cy="862.9" r="2.5"/><circle cx="1386.6" cy="911.1" r="2.5"/><circle cx="1379.0" cy="886.5" r="2.5"/><circle cx="1375.9" cy="906.1" r="2.5"/><circle cx="1370.1" cy="873.3" r="2.5"/><circle cx="1387.0" cy="909.3" r="2.5"/><circle cx="1375.6" cy="848.6" r="2.5"/><circle cx="1388.1" cy="901.6" r="2.5"/><circle cx="1366.0" cy="836.5" r="2.5"/><circle cx="1388.3" cy="876.7" r="2.5"/><circle cx="1364.1" cy="838.0" r="2.5"/><circle cx="1372.9" cy="839.9" r="2.5"/><circle cx="1379.0" cy="846.9" r="2.5"/><circle cx="1366.9" cy="850.2" r="2.5"/><circle cx="1368.5" cy="883.5" r="2.5"/><circle cx="1384.9" cy="846.5" r="2.5"/><circle cx="1367.5" cy="899.8" r="2.5"/><circle cx="1373.2" cy="873.6" r="2.5"/><circle cx="1372.8" cy="908.1" r="2.5"/><circle cx="1369.2" cy="855.6" r="2.5"/><circle cx="1386.2" cy="915.2" r="2.5"/><circle cx="1377.4" cy="852.7" r="2.5"/><circle cx="1363.7" cy="845.7" r="2.5"/><circle cx="1365.8" cy="866.5" r="2.5"/><circle cx="1377.1" cy="864.1" r="2.5"/><circle cx="1370.7" cy="882.2" r="2.5"/><circle cx="1378.0" cy="881.7" r="2.5"/><circle cx="1380.0" cy="879.8" r="2.5"/><circle cx="1374.2" cy="916.8" r="2.5"/><circle cx="1378.9" cy="876.1" r="2.5"/><circle cx="1368.9" cy="852.2" r="2.5"/><circle cx="1383.2" cy="878.8" r="2.5"/><circle cx="1367.4" cy="877.5" r="2.5"/><circle cx="1365.5" cy="907.6" r="2.5"/><circle cx="1374.0" cy="910.8" r="2.5"/><circle cx="1374.3" cy="874.3" r="2.5"/><circle cx="1363.8" cy="863.3" r="2.5"/><circle cx="1364.9" cy="854.8" r="2.5"/><circle cx="1383.1" cy="874.2" r="2.5"/><circle cx="1364.1" cy="874.8" r="2.5"/><circle cx="1372.6" cy="835.8" r="2.5"/><circle cx="1366.3" cy="844.0" r="2.5"/><circle cx="1388.8" cy="854.9" r="2.5"/><circle cx="1384.1" cy="901.9" r="2.5"/><circle cx="1388.4" cy="875.9" r="2.5"/><circle cx="1387.8" cy="838.9" r="2.5"/><circle cx="1367.0" cy="850.0" r="2.5"/><circle cx="1387.1" cy="913.1" r="2.5"/><circle cx="1371.9" cy="852.8" r="2.5"/><circle cx="1366.9" cy="840.6" r="2.5"/><circle cx="1369.9" cy="847.6" r="2.5"/><circle cx="1366.5" cy="875.0" r="2.5"/><circle cx="1386.8" cy="900.6" r="2.5"/><circle cx="1369.6" cy="874.7" r="2.5"/><circle cx="1371.1" cy="915.6" r="2.5"/><circle cx="1367.5" cy="904.8" r="2.5"/><circle cx="1387.3" cy="859.5" r="2.5"/><circle cx="1386.2" cy="904.1" r="2.5"/><circle cx="1383.3" cy="908.8" r="2.5"/><circle cx="1376.6" cy="863.3" r="2.5"/><circle cx="1372.1" cy="842.6" r="2.5"/><circle cx="1377.3" cy="868.2" r="2.5"/></g>
<g fill="#FF0000" fill-opacity="0.6" stroke="#FF0000" stroke-width="1.5"><circle cx="1598.2" cy="572.2" r="2.5"/><circle cx="1607.1" cy="657.0" r="2.5"/><circle cx="1586.5" cy="690.5" r="2.5"/><circle cx="1565.8" cy="720.5" r="2.5"/><circle cx="1539.0" cy="731.5" r="2.5"/><circle cx="1541.3" cy="748.6" r="2.5"/><circle cx="1527.9" cy="759.5" r="2.5"/><circle cx="1648.4" cy="760.8" r="2.5"/><circle cx="1727.1" cy="776.0" r="2.5"/><circle cx="1731.0" cy="780.3" r="2.5"/><circle cx="1735.4" cy="803.5" r="2.5"/><circle cx="1688.0" cy="802.3" r="2.5"/><circle cx="1613.2" cy="784.0" r="2.5"/><circle cx="1603.2" cy="794.9" r="2.5"/><circle cx="1563.0" cy="793.7" r="2.5"/><circle cx="1635.0" cy="805.9" r="2.5"/><circle cx="1646.2" cy="808.4" r="2.5"/><circle cx="1626.6" cy="821.8" r="2.5"/><circle cx="1677.4" cy="836.4" r="2.5"/><circle cx="1834.2" cy="832.8" r="2.5"/><circle cx="1867.7" cy="841.3" r="2.5"/><circle cx="1799.6" cy="848.6" r="2.5"/><circle cx="1771.7" cy="857.2" r="2.5"/><circle cx="1765.0" cy="862.1" r="2.5"/><circle cx="1772.8" cy="867.0" r="2.5"/><circle cx="1814.7" cy="868.2" r="2.5"/><circle cx="1789.0" cy="876.7" r="2.5"/><circle cx="1801.8" cy="892.6" r="2.5"/><circle cx="1821.4" cy="895.0" r="2.5"/><circle cx="1803.5" cy="914.6" r="2.5"/><circle cx="1742.7" cy="881.6" r="2.5"/><circle cx="1518.9" cy="782.7" r="2.5"/><circle cx="1527.3" cy="779.1" r="2.5"/><circle cx="1539.0" cy="774.2" r="2.5"/><circle cx="1539.6" cy="781.5" r="2.5"/><circle cx="1544.1" cy="785.2" r="2.5"/><circle cx="1530.1" cy="790.1" r="2.5"/><circle cx="1756.1" cy="896.2" r="2.5"/><circle cx="1770.1" cy="898.0" r="2.5"/><circle cx="1747.6" cy="902.5" r="2.5"/><circle cx="1750.3" cy="910.8" r="2.5"/><circle cx="1755.5" cy="905.4" r="2.5"/><circle cx="1761.8" cy="905.4" r="2.5"/><circle cx="1734.1" cy="895.3" r="2.5"/><circle cx="1725.1" cy="894.6" r="2.5"/><circle cx="1717.2" cy="894.1" r="2.5"/><circle cx="1714.3" cy="899.1" r="2.5"/><circle cx="1717.7" cy="907.4" r="2.5"/><circle cx="1724.0" cy="914.2" r="2.5"/><circle cx="1728.0" cy="911.0" r="2.5"/><circle cx="1735.9" cy="911.0" r="2.5"/><circle cx="1704.8" cy="884.0" r="2.5"/><circle cx="1702.8" cy="889.0" r="2.5"/><circle cx="1692.5" cy="887.8" r="2.5"/><circle cx="1690.9" cy="894.1" r="2.5"/><circle cx="1693.4" cy="907.0" r="2.5"/><circle cx="1698.8" cy="904.7" r="2.5"/><circle cx="1700.3" cy="914.2" r="2.5"/><circle cx="1685.7" cy="886.7" r="2.5"/><circle cx="1681.9" cy="870.3" r="2.5"/><circle cx="1671.1" cy="882.7" r="2.5"/><circle cx="1666.8" cy="860.8" r="2.5"/><circle cx="1670.4" cy="863.1" r="2.5"/><circle cx="1661.0" cy="879.3" r="2.5"/><circle cx="1658.7" cy="889.0" r="2.5"/><circle cx="1652.7" cy="866.9" r="2.5"/><circle cx="1645.7" cy="863.5" r="2.5"/><circle cx="1645.2" cy="866.9" r="2.5"/><circle cx="1633.3" cy="851.4" r="2.5"/><circle cx="1621.6" cy="853.4" r="2.5"/><circle cx="1615.3" cy="862.4" r="2.5"/><circle cx="1608.6" cy="850.3" r="2.5"/><circle cx="1611.5" cy="856.3" r="2.5"/><circle cx="1607.4" cy="860.8" r="2.5"/><circle cx="1600.7" cy="854.8" r="2.5"/><circle cx="1596.2" cy="849.6" r="2.5"/><circle cx="1596.4" cy="858.6" r="2.5"/><circle cx="1587.2" cy="842.4" r="2.5"/><circle cx="1587.4" cy="848.5" r="2.5"/><circle cx="1583.4" cy="832.7" r="2.5"/><circle cx="1580.2" cy="835.0" r="2.5"/><circle cx="1582.9" cy="814.0" r="2.5"/><circle cx="1573.0" cy="808.0" r="2.5"/><circle cx="1574.4" cy="809.5" r="2.5"/><circle cx="1567.6" cy="826.0" r="2.5"/><circle cx="1569.9" cy="827.8" r="2.5"/><circle cx="1564.0" cy="811.3" r="2.5"/><circle cx="1557.5" cy="817.0" r="2.5"/><circle cx="1552.5" cy="819.2" r="2.5"/><circle cx="1547.8" cy="826.4" r="2.5"/><circle cx="1545.8" cy="805.7" r="2.5"/><circle cx="1540.4" cy="808.0" r="2.5"/><circle cx="1536.8" cy="816.3" r="2.5"/><circle cx="1538.4" cy="824.8" r="2.5"/><circle cx="1527.1" cy="821.5" r="2.5"/><circle cx="1523.1" cy="802.3" r="2.5"/><circle cx="1522.6" cy="806.8" r="2.5"/><circle cx="1510.7" cy="812.5" r="2.5"/><circle cx="1517.0" cy="812.5" r="2.5"/><circle cx="1506.9" cy="824.8" r="2.5"/><circle cx="1514.1" cy="820.3" r="2.5"/><circle cx="1518.1" cy="830.0" r="2.5"/><circle cx="1643.0" cy="880.0" r="2.5"/><circle cx="1636.2" cy="881.8" r="2.5"/><circle cx="1618.2" cy="880.0" r="2.5"/><circle cx="1626.1" cy="876.6" r="2.5"/><circle cx="1612.6" cy="884.5" r="2.5"/><circle cx="1603.6" cy="871.6" r="2.5"/><circle cx="1608.1" cy="875.5" r="2.5"/><circle cx="1867.7" cy="862.1" r="2.5"/><circle cx="1867.7" cy="864.5" r="2.5"/><circle cx="1867.7" cy="875.5" r="2.5"/><circle cx="1867.7" cy="882.8" r="2.5"/><circle cx="1867.7" cy="891.4" r="2.5"/><circle cx="1867.7" cy="895.0" r="2.5"/><circle cx="1867.7" cy="898.7" r="2.5"/><circle cx="1867.7" cy="902.3" r="2.5"/><circle cx="1867.7" cy="906.0" r="2.5"/><circle cx="1867.7" cy="908.4" r="2.5"/><circle cx="1867.7" cy="910.9" r="2.5"/><circle cx="1867.7" cy="913.3" r="2.5"/><circle cx="1867.7" cy="915.8" r="2.5"/><circle cx="1867.7" cy="917.6" r="2.5"/><circle cx="1611.4" cy="917.0" r="2.5"/><circle cx="1591.7" cy="910.0" r="2.5"/><circle cx="1584.1" cy="913.2" r="2.5"/><circle cx="1584.4" cy="910.7" r="2.5"/><circle cx="1576.5" cy="907.8" r="2.5"/><circle cx="1513.6" cy="886.6" r="2.5"/><circle cx="1506.4" cy="877.3" r="2.5"/><circle cx="1518.6" cy="895.1" r="2.5"/><circle cx="1711.7" cy="904.8" r="2.5"/><circle cx="1558.6" cy="911.2" r="2.5"/><circle cx="1504.0" cy="918.0" r="2.5"/><circle cx="1512.0" cy="896.1" r="2.5"/><circle cx="1532.3" cy="902.8" r="2.5"/><circle cx="1617.3" cy="916.6" r="2.5"/><circle cx="1516.8" cy="894.0" r="2.5"/><circle cx="1505.0" cy="918.8" r="2.5"/><circle cx="1525.9" cy="916.3" r="2.5"/><circle cx="1526.1" cy="913.1" r="2.5"/><circle cx="1547.9" cy="900.1" r="2.5"/><circle cx="1515.3" cy="895.8" r="2.5"/><circle cx="1536.2" cy="915.6" r="2.5"/><circle cx="1642.4" cy="914.4" r="2.5"/><circle cx="1512.0" cy="916.4" r="2.5"/><circle cx="1554.9" cy="876.8" r="2.5"/><circle cx="1580.4" cy="909.3" r="2.5"/><circle cx="1519.3" cy="918.6" r="2.5"/><circle cx="1555.9" cy="901.9" r="2.5"/><circle cx="1525.5" cy="895.2" r="2.5"/><circle cx="1533.3" cy="857.5" r="2.5"/><circle cx="1570.3" cy="913.3" r="2.5"/><circle cx="1621.3" cy="918.1" r="2.5"/><circle cx="1542.0" cy="907.6" r="2.5"/><circle cx="1517.5" cy="917.4" r="2.5"/><circle cx="1579.7" cy="918.6" r="2.5"/><circle cx="1544.1" cy="858.5" r="2.5"/><circle cx="1511.6" cy="913.5" r="2.5"/><circle cx="1550.9" cy="904.1" r="2.5"/><circle cx="1555.4" cy="884.5" r="2.5"/><circle cx="1513.5" cy="910.1" r="2.5"/><circle cx="1521.8" cy="917.7" r="2.5"/><circle cx="1614.4" cy="894.5" r="2.5"/><circle cx="1567.0" cy="918.7" r="2.5"/><circle cx="1597.3" cy="895.2" r="2.5"/><circle cx="1535.3" cy="889.0" r="2.5"/><circle cx="1534.1" cy="913.2" r="2.5"/><circle cx="1509.5" cy="912.5" r="2.5"/><circle cx="1505.9" cy="908.9" r="2.5"/><circle cx="1573.4" cy="896.2" r="2.5"/><circle cx="1597.6" cy="897.4" r="2.5"/><circle cx="1519.4" cy="900.1" r="2.5"/><circle cx="1532.6" cy="884.3" r="2.5"/><circle cx="1541.1" cy="912.2" r="2.5"/><circle cx="1555.5" cy="850.1" r="2.5"/><circle cx="1516.2" cy="869.1" r="2.5"/><circle cx="1504.6" cy="911.5" r="2.5"/><circle cx="1517.4" cy="887.0" r="2.5"/><circle cx="1649.3" cy="897.1" r="2.5"/><circle cx="1523.8" cy="870.3" r="2.5"/><circle cx="1523.9" cy="912.6" r="2.5"/><circle cx="1623.5" cy="903.0" r="2.5"/><circle cx="1563.2" cy="897.1" r="2.5"/><circle cx="1697.9" cy="908.8" r="2.5"/><circle cx="1595.8" cy="898.0" r="2.5"/><circle cx="1601.7" cy="909.1" r="2.5"/><circle cx="1568.6" cy="902.4" r="2.5"/><circle cx="1522.3" cy="913.3" r="2.5"/><circle cx="1552.8" cy="917.1" r="2.5"/><circle cx="1625.2" cy="916.3" r="2.5"/><circle cx="1505.2" cy="916.1" r="2.5"/><circle cx="1636.7" cy="912.1" r="2.5"/><circle cx="1511.6" cy="918.1" r="2.5"/><circle cx="1506.0" cy="890.2" r="2.5"/><circle cx="1554.3" cy="894.3" r="2.5"/><circle cx="1570.9" cy="917.5" r="2.5"/><circle cx="1548.7" cy="909.3" r="2.5"/><circle cx="1589.3" cy="888.2" r="2.5"/><circle cx="1615.3" cy="917.7" r="2.5"/><circle cx="1605.5" cy="877.9" r="2.5"/><circle cx="1648.9" cy="917.0" r="2.5"/><circle cx="1515.4" cy="916.0" r="2.5"/><circle cx="1505.6" cy="873.1" r="2.5"/><circle cx="1587.8" cy="900.7" r="2.5"/><circle cx="1591.4" cy="901.1" r="2.5"/><circle cx="1520.9" cy="916.4" r="2.5"/><circle cx="1509.0" cy="884.8" r="2.5"/><circle cx="1515.4" cy="909.8" r="2.5"/><circle cx="1531.6" cy="918.4" r="2.5"/><circle cx="1518.8" cy="911.1" r="2.5"/><circle cx="1567.0" cy="909.8" r="2.5"/><circle cx="1523.3" cy="842.6" r="2.5"/><circle cx="1539.1" cy="877.4" r="2.5"/><circle cx="1552.2" cy="918.2" r="2.5"/><circle cx="1530.6" cy="906.0" r="2.5"/><circle cx="1578.3" cy="910.9" r="2.5"/><circle cx="1565.1" cy="903.6" r="2.5"/><circle cx="1516.1" cy="872.3" r="2.5"/><circle cx="1508.7" cy="877.6" r="2.5"/><circle cx="1513.3" cy="918.8" r="2.5"/><circle cx="1515.2" cy="885.0" r="2.5"/><circle cx="1695.2" cy="918.8" r="2.5"/><circle cx="1537.8" cy="904.1" r="2.5"/><circle cx="1583.9" cy="915.1" r="2.5"/><circle cx="1538.1" cy="909.5" r="2.5"/><circle cx="1593.4" cy="913.5" r="2.5"/><circle cx="1648.5" cy="913.5" r="2.5"/><circle cx="1516.0" cy="890.6" r="2.5"/><circle cx="1538.5" cy="916.3" r="2.5"/><circle cx="1554.7" cy="917.1" r="2.5"/><circle cx="1581.8" cy="896.8" r="2.5"/><circle cx="1581.5" cy="900.6" r="2.5"/><circle cx="1525.9" cy="907.2" r="2.5"/><circle cx="1529.1" cy="869.1" r="2.5"/><circle cx="1508.4" cy="866.0" r="2.5"/><circle cx="1505.2" cy="913.2" r="2.5"/><circle cx="1519.2" cy="865.0" r="2.5"/><circle cx="1538.8" cy="908.5" r="2.5"/><circle cx="1612.0" cy="914.5" r="2.5"/><circle cx="1534.9" cy="902.1" r="2.5"/><circle cx="1574.4" cy="892.2" r="2.5"/><circle cx="1556.1" cy="910.1" r="2.5"/><circle cx="1523.7" cy="915.0" r="2.5"/><circle cx="1596.9" cy="900.1" r="2.5"/><circle cx="1571.9" cy="915.3" r="2.5"/><circle cx="1532.9" cy="885.9" r="2.5"/><circle cx="1547.3" cy="916.0" r="2.5"/><circle cx="1535.0" cy="871.2" r="2.5"/><circle cx="1517.5" cy="913.9" r="2.5"/><circle cx="1521.9" cy="890.9" r="2.5"/><circle cx="1597.1" cy="915.9" r="2.5"/><circle cx="1512.4" cy="912.1" r="2.5"/><circle cx="1523.7" cy="901.9" r="2.5"/><circle cx="1512.7" cy="909.4" r="2.5"/><circle cx="1514.4" cy="831.6" r="2.5"/><circle cx="1569.4" cy="916.7" r="2.5"/><circle cx="1668.6" cy="917.1" r="2.5"/><circle cx="1528.2" cy="825.8" r="2.5"/><circle cx="1583.4" cy="894.6" r="2.5"/><circle cx="1532.5" cy="914.0" r="2.5"/><circle cx="1554.9" cy="916.5" r="2.5"/><circle cx="1515.5" cy="907.3" r="2.5"/><circle cx="1505.6" cy="906.5" r="2.5"/><circle cx="1582.5" cy="897.1" r="2.5"/><circle cx="1538.7" cy="897.1" r="2.5"/><circle cx="1535.1" cy="915.5" r="2.5"/><circle cx="1550.4" cy="908.0" r="2.5"/><circle cx="1571.7" cy="873.0" r="2.5"/><circle cx="1532.1" cy="899.8" r="2.5"/><circle cx="1573.3" cy="908.4" r="2.5"/><circle cx="1516.9" cy="888.8" r="2.5"/><circle cx="1610.4" cy="894.6" r="2.5"/><circle cx="1564.4" cy="881.0" r="2.5"/><circle cx="1561.0" cy="898.3" r="2.5"/><circle cx="1534.3" cy="910.5" r="2.5"/><circle cx="1553.6" cy="916.7" r="2.5"/><circle cx="1531.2" cy="884.8" r="2.5"/><circle cx="1566.6" cy="899.3" r="2.5"/><circle cx="1518.3" cy="906.0" r="2.5"/><circle cx="1534.4" cy="897.4" r="2.5"/><circle cx="1530.3" cy="893.6" r="2.5"/><circle cx="1637.6" cy="915.6" r="2.5"/><circle cx="1557.2" cy="888.2" r="2.5"/><circle cx="1528.6" cy="903.7" r="2.5"/><circle cx="1688.4" cy="918.2" r="2.5"/><circle cx="1543.2" cy="915.1" r="2.5"/><circle cx="1580.3" cy="866.4" r="2.5"/><circle cx="1540.7" cy="916.5" r="2.5"/><circle cx="1546.8" cy="902.4" r="2.5"/><circle cx="1567.3" cy="904.8" r="2.5"/><circle cx="1555.1" cy="882.6" r="2.5"/><circle cx="1540.9" cy="907.4" r="2.5"/><circle cx="1652.3" cy="915.1" r="2.5"/><circle cx="1561.8" cy="908.9" r="2.5"/><circle cx="1576.1" cy="916.4" r="2.5"/><circle cx="1713.0" cy="911.9" r="2.5"/><circle cx="1506.8" cy="911.1" r="2.5"/><circle cx="1529.5" cy="918.5" r="2.5"/><circle cx="1531.1" cy="906.6" r="2.5"/><circle cx="1564.0" cy="910.2" r="2.5"/><circle cx="1519.3" cy="912.9" r="2.5"/><circle cx="1571.8" cy="864.8" r="2.5"/><circle cx="1541.5" cy="913.5" r="2.5"/><circle cx="1585.1" cy="909.8" r="2.5"/><circle cx="1515.8" cy="915.6" r="2.5"/><circle cx="1579.1" cy="887.9" r="2.5"/><circle cx="1554.4" cy="905.8" r="2.5"/><circle cx="1545.3" cy="913.4" r="2.5"/><circle cx="1670.6" cy="911.9" r="2.5"/><circle cx="1555.0" cy="883.8" r="2.5"/><circle cx="1588.9" cy="907.5" r="2.5"/><circle cx="1521.4" cy="900.5" r="2.5"/><circle cx="1510.6" cy="875.9" r="2.5"/><circle cx="1525.9" cy="875.6" r="2.5"/><circle cx="1519.5" cy="907.9" r="2.5"/><circle cx="1518.6" cy="905.9" r="2.5"/><circle cx="1514.2" cy="918.8" r="2.5"/><circle cx="1568.1" cy="912.4" r="2.5"/><circle cx="1518.0" cy="910.4" r="2.5"/><circle cx="1536.7" cy="906.6" r="2.5"/><circle cx="1554.8" cy="896.7" r="2.5"/><circle cx="1526.5" cy="858.9" r="2.5"/><circle cx="1600.7" cy="917.8" r="2.5"/><circle cx="1592.2" cy="877.1" r="2.5"/><circle cx="1580.8" cy="916.0" r="2.5"/><circle cx="1593.3" cy="901.2" r="2.5"/><circle cx="1504.6" cy="918.5" r="2.5"/><circle cx="1656.1" cy="901.9" r="2.5"/><circle cx="1518.3" cy="916.3" r="2.5"/><circle cx="1511.6" cy="912.5" r="2.5"/><circle cx="1579.1" cy="910.9" r="2.5"/><circle cx="1512.2" cy="863.1" r="2.5"/><circle cx="1582.7" cy="915.4" r="2.5"/><circle cx="1615.2" cy="903.9" r="2.5"/><circle cx="1580.2" cy="898.3" r="2.5"/><circle cx="1616.5" cy="894.2" r="2.5"/><circle cx="1595.5" cy="915.0" r="2.5"/><circle cx="1563.1" cy="903.8" r="2.5"/><circle cx="1571.9" cy="907.7" r="2.5"/><circle cx="1611.5" cy="905.7" r="2.5"/><circle cx="1519.3" cy="912.6" r="2.5"/><circle cx="1511.4" cy="902.6" r="2.5"/><circle cx="1506.9" cy="903.6" r="2.5"/><circle cx="1511.7" cy="902.7" r="2.5"/><circle cx="1538.5" cy="901.9" r="2.5"/><circle cx="1603.7" cy="918.7" r="2.5"/><circle cx="1596.1" cy="907.9" r="2.5"/><circle cx="1545.4" cy="895.6" r="2.5"/><circle cx="1596.1" cy="910.7" r="2.5"/><circle cx="1531.1" cy="846.6" r="2.5"/><circle cx="1507.8" cy="894.4" r="2.5"/><circle cx="1554.6" cy="918.2" r="2.5"/><circle cx="1551.1" cy="895.0" r="2.5"/><circle cx="1638.5" cy="912.5" r="2.5"/><circle cx="1704.8" cy="907.5" r="2.5"/><circle cx="1537.2" cy="869.0" r="2.5"/><circle cx="1505.6" cy="888.1" r="2.5"/><circle cx="1553.2" cy="910.3" r="2.5"/><circle cx="1603.2" cy="911.2" r="2.5"/><circle cx="1536.2" cy="902.5" r="2.5"/><circle cx="1577.8" cy="914.4" r="2.5"/><circle cx="1532.6" cy="906.6" r="2.5"/><circle cx="1544.4" cy="881.5" r="2.5"/><circle cx="1521.3" cy="878.2" r="2.5"/><circle cx="1529.8" cy="903.1" r="2.5"/><circle cx="1519.8" cy="902.4" r="2.5"/><circle cx="1689.1" cy="902.0" r="2.5"/><circle cx="1582.7" cy="911.4" r="2.5"/><circle cx="1523.0" cy="910.7" r="2.5"/><circle cx="1548.2" cy="897.7" r="2.5"/><circle cx="1580.9" cy="918.1" r="2.5"/><circle cx="1568.3" cy="876.6" r="2.5"/><circle cx="1543.5" cy="917.7" r="2.5"/><circle cx="1521.8" cy="918.7" r="2.5"/><circle cx="1514.5" cy="858.8" r="2.5"/><circle cx="1551.0" cy="896.5" r="2.5"/><circle cx="1582.0" cy="874.5" r="2.5"/><circle cx="1551.4" cy="898.9" r="2.5"/><circle cx="1553.4" cy="894.2" r="2.5"/><circle cx="1549.4" cy="894.9" r="2.5"/><circle cx="1515.9" cy="893.0" r="2.5"/><circle cx="1534.6" cy="887.1" r="2.5"/><circle cx="1509.2" cy="914.0" r="2.5"/><circle cx="1505.8" cy="882.7" r="2.5"/><circle cx="1627.1" cy="901.9" r="2.5"/><circle cx="1527.0" cy="879.7" r="2.5"/><circle cx="1581.4" cy="903.6" r="2.5"/><circle cx="1518.9" cy="910.5" r="2.5"/><circle cx="1531.4" cy="910.3" r="2.5"/><circle cx="1532.2" cy="896.0" r="2.5"/><circle cx="1640.3" cy="917.9" r="2.5"/><circle cx="1546.0" cy="918.0" r="2.5"/><circle cx="1510.2" cy="879.1" r="2.5"/><circle cx="1546.9" cy="865.8" r="2.5"/><circle cx="1533.6" cy="918.5" r="2.5"/><circle cx="1528.5" cy="898.6" r="2.5"/><circle cx="1643.3" cy="856.1" r="2.5"/><circle cx="1536.3" cy="907.2" r="2.5"/><circle cx="1509.3" cy="894.0" r="2.5"/><circle cx="1515.9" cy="915.0" r="2.5"/><circle cx="1504.7" cy="918.7" r="2.5"/><circle cx="1561.7" cy="916.2" r="2.5"/><circle cx="1674.2" cy="917.4" r="2.5"/><circle cx="1606.2" cy="916.5" r="2.5"/><circle cx="1504.8" cy="887.9" r="2.5"/><circle cx="1517.8" cy="887.9" r="2.5"/><circle cx="1514.3" cy="917.6" r="2.5"/><circle cx="1578.6" cy="895.5" r="2.5"/><circle cx="1601.0" cy="896.6" r="2.5"/><circle cx="1508.3" cy="895.0" r="2.5"/><circle cx="1565.9" cy="906.7" r="2.5"/><circle cx="1639.1" cy="914.2" r="2.5"/><circle cx="1671.3" cy="898.8" r="2.5"/><circle cx="1504.4" cy="918.5" r="2.5"/><circle cx="1556.7" cy="884.2" r="2.5"/><circle cx="1508.0" cy="909.8" r="2.5"/><circle cx="1569.5" cy="915.3" r="2.5"/><circle cx="1603.0" cy="907.6" r="2.5"/><circle cx="1507.0" cy="907.7" r="2.5"/><circle cx="1546.8" cy="906.6" r="2.5"/><circle cx="1560.6" cy="915.7" r="2.5"/><circle cx="1584.0" cy="910.6" r="2.5"/><circle cx="1555.9" cy="898.5" r="2.5"/><circle cx="1531.1" cy="907.9" r="2.5"/><circle cx="1581.4" cy="865.3" r="2.5"/><circle cx="1581.0" cy="903.3" r="2.5"/><circle cx="1521.2" cy="917.4" r="2.5"/><circle cx="1687.1" cy="899.5" r="2.5"/><circle cx="1592.1" cy="911.7" r="2.5"/><circle cx="1550.6" cy="839.8" r="2.5"/><circle cx="1593.2" cy="902.7" r="2.5"/><circle cx="1522.4" cy="906.0" r="2.5"/><circle cx="1613.9" cy="911.3" r="2.5"/><circle cx="1561.9" cy="900.4" r="2.5"/><circle cx="1617.6" cy="892.7" r="2.5"/><circle cx="1520.6" cy="918.8" r="2.5"/><circle cx="1519.2" cy="906.1" r="2.5"/><circle cx="1548.2" cy="883.3" r="2.5"/><circle cx="1613.6" cy="918.1" r="2.5"/><circle cx="1593.8" cy="889.6" r="2.5"/><circle cx="1605.3" cy="904.7" r="2.5"/><circle cx="1519.9" cy="874.7" r="2.5"/><circle cx="1586.5" cy="898.0" r="2.5"/><circle cx="1626.9" cy="912.1" r="2.5"/><circle cx="1508.3" cy="899.4" r="2.5"/><circle cx="1584.0" cy="914.7" r="2.5"/><circle cx="1573.5" cy="867.6" r="2.5"/><circle cx="1517.3" cy="897.0" r="2.5"/><circle cx="1560.7" cy="906.3" r="2.5"/><circle cx="1515.5" cy="911.9" r="2.5"/><circle cx="1573.7" cy="888.9" r="2.5"/><circle cx="1534.8" cy="916.8" r="2.5"/><circle cx="1586.4" cy="892.1" r="2.5"/><circle cx="1517.2" cy="898.6" r="2.5"/><circle cx="1618.0" cy="884.5" r="2.5"/><circle cx="1540.9" cy="904.9" r="2.5"/><circle cx="1548.6" cy="914.4" r="2.5"/><circle cx="1514.6" cy="914.1" r="2.5"/><circle cx="1564.5" cy="909.9" r="2.5"/><circle cx="1545.6" cy="907.9" r="2.5"/><circle cx="1540.4" cy="915.3" r="2.5"/><circle cx="1506.2" cy="897.6" r="2.5"/><circle cx="1509.5" cy="894.8" r="2.5"/><circle cx="1581.6" cy="915.7" r="2.5"/><circle cx="1549.5" cy="910.0" r="2.5"/><circle cx="1540.7" cy="918.4" r="2.5"/><circle cx="1505.6" cy="869.7" r="2.5"/><circle cx="1537.3" cy="900.5" r="2.5"/><circle cx="1519.1" cy="883.7" r="2.5"/><circle cx="1531.7" cy="853.6" r="2.5"/><circle cx="1577.1" cy="886.7" r="2.5"/><circle cx="1670.1" cy="914.2" r="2.5"/><circle cx="1505.8" cy="913.4" r="2.5"/><circle cx="1513.9" cy="916.8" r="2.5"/><circle cx="1506.5" cy="899.1" r="2.5"/><circle cx="1606.6" cy="908.7" r="2.5"/><circle cx="1651.6" cy="880.6" r="2.5"/><circle cx="1507.2" cy="896.8" r="2.5"/><circle cx="1529.3" cy="916.0" r="2.5"/><circle cx="1664.7" cy="914.1" r="2.5"/><circle cx="1545.6" cy="897.1" r="2.5"/><circle cx="1661.2" cy="901.2" r="2.5"/><circle cx="1529.0" cy="905.4" r="2.5"/><circle cx="1512.6" cy="838.7" r="2.5"/><circle cx="1534.8" cy="918.0" r="2.5"/><circle cx="1518.7" cy="908.7" r="2.5"/><circle cx="1620.9" cy="881.5" r="2.5"/><circle cx="1595.0" cy="918.0" r="2.5"/><circle cx="1581.4" cy="896.0" r="2.5"/><circle cx="1556.1" cy="832.5" r="2.5"/><circle cx="1506.8" cy="915.0" r="2.5"/><circle cx="1574.5" cy="865.6" r="2.5"/><circle cx="1560.6" cy="911.7" r="2.5"/><circle cx="1548.8" cy="889.1" r="2.5"/><circle cx="1509.5" cy="909.4" r="2.5"/><circle cx="1518.8" cy="915.7" r="2.5"/><circle cx="1536.8" cy="914.8" r="2.5"/><circle cx="1517.6" cy="915.2" r="2.5"/><circle cx="1560.7" cy="918.6" r="2.5"/><circle cx="1567.3" cy="914.6" r="2.5"/><circle cx="1505.7" cy="855.1" r="2.5"/><circle cx="1516.4" cy="855.1" r="2.5"/><circle cx="1605.1" cy="882.2" r="2.5"/><circle cx="1511.4" cy="904.7" r="2.5"/><circle cx="1509.0" cy="855.4" r="2.5"/><circle cx="1596.6" cy="901.7" r="2.5"/><circle cx="1534.1" cy="909.6" r="2.5"/><circle cx="1590.9" cy="907.3" r="2.5"/><circle cx="1553.6" cy="915.6" r="2.5"/><circle cx="1516.5" cy="917.5" r="2.5"/><circle cx="1566.7" cy="903.0" r="2.5"/><circle cx="1511.7" cy="870.1" r="2.5"/><circle cx="1519.4" cy="906.5" r="2.5"/><circle cx="1512.4" cy="911.3" r="2.5"/><circle cx="1595.8" cy="911.7" r="2.5"/><circle cx="1513.1" cy="902.8" r="2.5"/><circle cx="1523.1" cy="865.3" r="2.5"/><circle cx="1510.0" cy="826.7" r="2.5"/><circle cx="1506.8" cy="864.3" r="2.5"/><circle cx="1559.3" cy="914.0" r="2.5"/><circle cx="1536.5" cy="911.4" r="2.5"/><circle cx="1518.8" cy="913.6" r="2.5"/><circle cx="1526.6" cy="812.0" r="2.5"/><circle cx="1632.9" cy="917.2" r="2.5"/><circle cx="1521.0" cy="866.5" r="2.5"/><circle cx="1506.8" cy="887.5" r="2.5"/><circle cx="1521.3" cy="830.1" r="2.5"/><circle cx="1504.7" cy="878.8" r="2.5"/><circle cx="1524.8" cy="915.4" r="2.5"/><circle cx="1504.0" cy="875.3" r="2.5"/><circle cx="1541.4" cy="914.4" r="2.5"/><circle cx="1532.6" cy="864.8" r="2.5"/><circle cx="1516.2" cy="898.9" r="2.5"/><circle cx="1511.3" cy="914.1" r="2.5"/><circle cx="1577.8" cy="895.5" r="2.5"/><circle cx="1514.9" cy="916.9" r="2.5"/><circle cx="1508.5" cy="896.3" r="2.5"/><circle cx="1538.2" cy="911.9" r="2.5"/><circle cx="1515.5" cy="896.5" r="2.5"/><circle cx="1565.7" cy="886.0" r="2.5"/><circle cx="1547.8" cy="914.1" r="2.5"/><circle cx="1507.3" cy="887.0" r="2.5"/><circle cx="1530.2" cy="890.2" r="2.5"/><circle cx="1506.7" cy="878.6" r="2.5"/><circle cx="1524.4" cy="876.7" r="2.5"/><circle cx="1604.3" cy="907.5" r="2.5"/><circle cx="1504.7" cy="860.1" r="2.5"/><circle cx="1536.4" cy="873.8" r="2.5"/><circle cx="1519.4" cy="914.0" r="2.5"/><circle cx="1593.3" cy="910.8" r="2.5"/><circle cx="1512.8" cy="907.8" r="2.5"/><circle cx="1549.3" cy="918.7" r="2.5"/><circle cx="1540.7" cy="906.1" r="2.5"/><circle cx="1540.3" cy="916.0" r="2.5"/><circle cx="1566.8" cy="885.6" r="2.5"/><circle cx="1604.6" cy="912.4" r="2.5"/><circle cx="1566.2" cy="909.4" r="2.5"/><circle cx="1573.8" cy="917.6" r="2.5"/><circle cx="1607.4" cy="868.1" r="2.5"/><circle cx="1538.2" cy="903.1" r="2.5"/><circle cx="1541.8" cy="902.2" r="2.5"/><circle cx="1504.9" cy="835.5" r="2.5"/><circle cx="1516.6" cy="914.1" r="2.5"/><circle cx="1509.3" cy="911.9" r="2.5"/><circle cx="1589.2" cy="918.3" r="2.5"/><circle cx="1509.0" cy="890.0" r="2.5"/><circle cx="1514.8" cy="918.4" r="2.5"/><circle cx="1549.8" cy="900.9" r="2.5"/><circle cx="1541.0" cy="892.7" r="2.5"/><circle cx="1509.3" cy="870.0" r="2.5"/><circle cx="1567.3" cy="917.9" r="2.5"/><circle cx="1510.5" cy="902.6" r="2.5"/><circle cx="1538.8" cy="911.7" r="2.5"/><circle cx="1510.4" cy="906.4" r="2.5"/><circle cx="1511.3" cy="897.5" r="2.5"/><circle cx="1603.0" cy="916.1" r="2.5"/><circle cx="1546.6" cy="889.8" r="2.5"/><circle cx="1512.9" cy="877.3" r="2.5"/><circle cx="1643.2" cy="911.0" r="2.5"/><circle cx="1531.3" cy="878.0" r="2.5"/><circle cx="1541.3" cy="908.0" r="2.5"/><circle cx="1646.3" cy="895.0" r="2.5"/><circle cx="1524.6" cy="912.5" r="2.5"/><circle cx="1524.4" cy="905.8" r="2.5"/><circle cx="1703.5" cy="892.9" r="2.5"/><circle cx="1626.4" cy="892.0" r="2.5"/><circle cx="1598.4" cy="917.9" r="2.5"/><circle cx="1540.5" cy="850.4" r="2.5"/><circle cx="1640.6" cy="914.3" r="2.5"/><circle cx="1531.4" cy="896.5" r="2.5"/><circle cx="1526.6" cy="901.7" r="2.5"/><circle cx="1507.5" cy="905.1" r="2.5"/><circle cx="1539.2" cy="918.4" r="2.5"/><circle cx="1511.4" cy="835.5" r="2.5"/><circle cx="1579.1" cy="867.3" r="2.5"/><circle cx="1554.2" cy="884.8" r="2.5"/><circle cx="1612.2" cy="884.0" r="2.5"/><circle cx="1505.6" cy="893.9" r="2.5"/><circle cx="1519.4" cy="892.5" r="2.5"/><circle cx="1519.9" cy="900.7" r="2.5"/><circle cx="1633.5" cy="903.4" r="2.5"/><circle cx="1518.4" cy="901.7" r="2.5"/><circle cx="1532.4" cy="851.9" r="2.5"/><circle cx="1520.9" cy="910.4" r="2.5"/><circle cx="1556.2" cy="916.2" r="2.5"/><circle cx="1549.2" cy="853.4" r="2.5"/><circle cx="1540.1" cy="912.1" r="2.5"/><circle cx="1535.4" cy="902.0" r="2.5"/><circle cx="1511.9" cy="915.7" r="2.5"/><circle cx="1510.9" cy="910.5" r="2.5"/><circle cx="1530.1" cy="911.2" r="2.5"/><circle cx="1517.9" cy="916.7" r="2.5"/><circle cx="1543.6" cy="879.7" r="2.5"/><circle cx="1551.2" cy="901.3" r="2.5"/><circle cx="1556.6" cy="914.2" r="2.5"/><circle cx="1566.1" cy="906.7" r="2.5"/><circle cx="1543.8" cy="898.6" r="2.5"/><circle cx="1535.7" cy="910.7" r="2.5"/><circle cx="1517.8" cy="913.0" r="2.5"/><circle cx="1540.0" cy="908.4" r="2.5"/><circle cx="1548.1" cy="918.6" r="2.5"/><circle cx="1525.7" cy="873.8" r="2.5"/><circle cx="1517.6" cy="899.8" r="2.5"/><circle cx="1537.8" cy="911.5" r="2.5"/><circle cx="1724.0" cy="913.3" r="2.5"/><circle cx="1578.1" cy="915.6" r="2.5"/><circle cx="1507.3" cy="869.3" r="2.5"/><circle cx="1533.0" cy="917.4" r="2.5"/><circle cx="1528.5" cy="905.8" r="2.5"/><circle cx="1570.6" cy="916.6" r="2.5"/><circle cx="1516.7" cy="843.8" r="2.5"/><circle cx="1571.3" cy="915.6" r="2.5"/><circle cx="1524.5" cy="908.9" r="2.5"/><circle cx="1560.4" cy="899.6" r="2.5"/><circle cx="1599.1" cy="889.4" r="2.5"/><circle cx="1540.5" cy="889.8" r="2.5"/><circle cx="1572.2" cy="891.5" r="2.5"/><circle cx="1536.3" cy="885.1" r="2.5"/><circle cx="1565.8" cy="870.4" r="2.5"/><circle cx="1510.7" cy="869.9" r="2.5"/><circle cx="1504.1" cy="883.4" r="2.5"/><circle cx="1548.1" cy="904.3" r="2.5"/><circle cx="1669.1" cy="905.4" r="2.5"/><circle cx="1531.0" cy="884.6" r="2.5"/><circle cx="1607.4" cy="903.4" r="2.5"/><circle cx="1527.8" cy="905.2" r="2.5"/><circle cx="1534.6" cy="890.5" r="2.5"/><circle cx="1521.3" cy="907.4" r="2.5"/><circle cx="1544.6" cy="908.5" r="2.5"/><circle cx="1523.4" cy="883.4" r="2.5"/><circle cx="1599.0" cy="907.0" r="2.5"/><circle cx="1533.4" cy="914.3" r="2.5"/><circle cx="1522.1" cy="915.2" r="2.5"/><circle cx="1546.9" cy="900.4" r="2.5"/><circle cx="1508.5" cy="858.0" r="2.5"/><circle cx="1523.5" cy="876.4" r="2.5"/><circle cx="1595.3" cy="863.3" r="2.5"/><circle cx="1515.4" cy="905.7" r="2.5"/><circle cx="1625.1" cy="918.7" r="2.5"/><circle cx="1506.3" cy="898.7" r="2.5"/><circle cx="1538.4" cy="863.8" r="2.5"/><circle cx="1578.4" cy="904.4" r="2.5"/><circle cx="1576.1" cy="905.1" r="2.5"/><circle cx="1561.9" cy="909.0" r="2.5"/><circle cx="1526.1" cy="898.3" r="2.5"/><circle cx="1525.6" cy="851.6" r="2.5"/><circle cx="1560.5" cy="903.9" r="2.5"/><circle cx="1509.1" cy="907.6" r="2.5"/><circle cx="1529.6" cy="900.3" r="2.5"/><circle cx="1546.7" cy="874.1" r="2.5"/><circle cx="1671.5" cy="908.2" r="2.5"/><circle cx="1533.0" cy="897.1" r="2.5"/><circle cx="1551.8" cy="903.2" r="2.5"/><circle cx="1588.9" cy="915.5" r="2.5"/><circle cx="1523.1" cy="830.8" r="2.5"/><circle cx="1591.7" cy="906.1" r="2.5"/><circle cx="1509.8" cy="864.9" r="2.5"/><circle cx="1562.7" cy="884.6" r="2.5"/><circle cx="1627.8" cy="910.2" r="2.5"/><circle cx="1512.4" cy="910.7" r="2.5"/><circle cx="1539.9" cy="903.6" r="2.5"/><circle cx="1514.3" cy="914.1" r="2.5"/><circle cx="1553.8" cy="899.8" r="2.5"/><circle cx="1525.8" cy="882.7" r="2.5"/><circle cx="1506.0" cy="906.0" r="2.5"/><circle cx="1581.7" cy="912.1" r="2.5"/><circle cx="1562.8" cy="918.7" r="2.5"/><circle cx="1522.1" cy="876.3" r="2.5"/><circle cx="1548.2" cy="895.6" r="2.5"/><circle cx="1514.9" cy="902.6" r="2.5"/><circle cx="1544.3" cy="912.2" r="2.5"/><circle cx="1556.1" cy="903.3" r="2.5"/><circle cx="1584.0" cy="909.1" r="2.5"/><circle cx="1510.4" cy="914.7" r="2.5"/><circle cx="1575.4" cy="916.7" r="2.5"/><circle cx="1509.2" cy="914.3" r="2.5"/><circle cx="1541.0" cy="881.5" r="2.5"/><circle cx="1551.5" cy="884.7" r="2.5"/><circle cx="1507.1" cy="918.5" r="2.5"/><circle cx="1577.8" cy="911.5" r="2.5"/><circle cx="1567.0" cy="910.3" r="2.5"/><circle cx="1513.2" cy="911.5" r="2.5"/><circle cx="1509.1" cy="862.6" r="2.5"/><circle cx="1547.7" cy="909.8" r="2.5"/><circle cx="1533.9" cy="908.0" r="2.5"/><circle cx="1506.7" cy="865.3" r="2.5"/><circle cx="1547.8" cy="851.3" r="2.5"/><circle cx="1533.0" cy="897.3" r="2.5"/><circle cx="1518.3" cy="917.8" r="2.5"/><circle cx="1638.0" cy="888.2" r="2.5"/><circle cx="1522.9" cy="866.2" r="2.5"/><circle cx="1588.9" cy="912.3" r="2.5"/><circle cx="1550.2" cy="851.7" r="2.5"/><circle cx="1538.2" cy="853.7" r="2.5"/><circle cx="1517.9" cy="907.3" r="2.5"/><circle cx="1567.5" cy="913.9" r="2.5"/><circle cx="1522.4" cy="871.0" r="2.5"/><circle cx="1537.1" cy="884.4" r="2.5"/><circle cx="1517.9" cy="914.4" r="2.5"/><circle cx="1526.2" cy="914.1" r="2.5"/><circle cx="1682.6" cy="913.4" r="2.5"/><circle cx="1545.3" cy="916.2" r="2.5"/><circle cx="1542.2" cy="908.4" r="2.5"/><circle cx="1529.8" cy="917.3" r="2.5"/><circle cx="1510.5" cy="877.0" r="2.5"/><circle cx="1525.6" cy="912.4" r="2.5"/><circle cx="1514.5" cy="911.0" r="2.5"/><circle cx="1517.5" cy="918.0" r="2.5"/><circle cx="1558.7" cy="910.4" r="2.5"/><circle cx="1512.4" cy="889.7" r="2.5"/><circle cx="1508.8" cy="911.3" r="2.5"/><circle cx="1594.4" cy="916.4" r="2.5"/><circle cx="1533.3" cy="878.7" r="2.5"/><circle cx="1586.0" cy="915.7" r="2.5"/><circle cx="1525.7" cy="889.7" r="2.5"/><circle cx="1527.6" cy="847.0" r="2.5"/><circle cx="1515.6" cy="847.9" r="2.5"/><circle cx="1539.2" cy="913.2" r="2.5"/><circle cx="1534.1" cy="915.7" r="2.5"/><circle cx="1565.4" cy="912.9" r="2.5"/><circle cx="1619.3" cy="904.8" r="2.5"/><circle cx="1526.9" cy="912.4" r="2.5"/><circle cx="1550.9" cy="913.9" r="2.5"/><circle cx="1607.3" cy="916.7" r="2.5"/><circle cx="1540.0" cy="901.9" r="2.5"/><circle cx="1519.7" cy="884.6" r="2.5"/><circle cx="1528.3" cy="894.7" r="2.5"/><circle cx="1546.0" cy="910.9" r="2.5"/><circle cx="1528.7" cy="916.8" r="2.5"/><circle cx="1513.7" cy="873.8" r="2.5"/><circle cx="1523.3" cy="893.9" r="2.5"/><circle cx="1509.7" cy="899.0" r="2.5"/><circle cx="1526.4" cy="903.1" r="2.5"/><circle cx="1521.6" cy="917.3" r="2.5"/><circle cx="1522.6" cy="912.9" r="2.5"/><circle cx="1510.6" cy="888.7" r="2.5"/><circle cx="1520.5" cy="906.9" r="2.5"/><circle cx="1624.2" cy="895.2" r="2.5"/><circle cx="1611.5" cy="886.9" r="2.5"/><circle cx="1511.0" cy="911.1" r="2.5"/><circle cx="1505.4" cy="891.2" r="2.5"/><circle cx="1558.6" cy="910.1" r="2.5"/><circle cx="1530.6" cy="894.8" r="2.5"/><circle cx="1564.2" cy="913.2" r="2.5"/><circle cx="1598.1" cy="911.4" r="2.5"/><circle cx="1553.6" cy="914.7" r="2.5"/><circle cx="1510.0" cy="860.5" r="2.5"/><circle cx="1570.4" cy="894.7" r="2.5"/><circle cx="1505.9" cy="917.8" r="2.5"/><circle cx="1512.8" cy="913.6" r="2.5"/><circle cx="1522.0" cy="907.8" r="2.5"/><circle cx="1505.9" cy="909.8" r="2.5"/><circle cx="1554.9" cy="914.8" r="2.5"/><circle cx="1595.7" cy="904.2" r="2.5"/><circle cx="1567.2" cy="913.1" r="2.5"/><circle cx="1532.5" cy="893.2" r="2.5"/><circle cx="1525.4" cy="918.8" r="2.5"/><circle cx="1594.1" cy="892.6" r="2.5"/><circle cx="1520.8" cy="917.8" r="2.5"/><circle cx="1600.6" cy="902.9" r="2.5"/><circle cx="1506.3" cy="912.0" r="2.5"/><circle cx="1509.8" cy="881.3" r="2.5"/><circle cx="1515.7" cy="861.0" r="2.5"/><circle cx="1573.4" cy="917.1" r="2.5"/><circle cx="1563.5" cy="908.9" r="2.5"/><circle cx="1573.0" cy="885.1" r="2.5"/><circle cx="1520.5" cy="916.6" r="2.5"/><circle cx="1650.8" cy="910.1" r="2.5"/><circle cx="1637.6" cy="900.2" r="2.5"/><circle cx="1571.3" cy="884.7" r="2.5"/><circle cx="1553.5" cy="906.4" r="2.5"/><circle cx="1506.7" cy="889.8" r="2.5"/><circle cx="1532.0" cy="902.9" r="2.5"/><circle cx="1636.1" cy="916.7" r="2.5"/><circle cx="1575.9" cy="918.0" r="2.5"/><circle cx="1564.8" cy="886.5" r="2.5"/><circle cx="1519.1" cy="900.4" r="2.5"/><circle cx="1679.0" cy="902.7" r="2.5"/><circle cx="1543.3" cy="912.7" r="2.5"/><circle cx="1506.9" cy="908.1" r="2.5"/><circle cx="1530.5" cy="913.8" r="2.5"/><circle cx="1522.5" cy="915.4" r="2.5"/><circle cx="1565.5" cy="897.0" r="2.5"/><circle cx="1517.5" cy="912.4" r="2.5"/><circle cx="1540.3" cy="906.1" r="2.5"/><circle cx="1641.8" cy="912.0" r="2.5"/><circle cx="1521.7" cy="869.1" r="2.5"/><circle cx="1511.6" cy="899.1" r="2.5"/><circle cx="1524.3" cy="880.2" r="2.5"/><circle cx="1543.8" cy="888.3" r="2.5"/><circle cx="1513.2" cy="892.8" r="2.5"/><circle cx="1549.7" cy="905.9" r="2.5"/><circle cx="1576.8" cy="885.3" r="2.5"/><circle cx="1510.0" cy="910.6" r="2.5"/><circle cx="1526.3" cy="913.6" r="2.5"/><circle cx="1507.0" cy="910.9" r="2.5"/><circle cx="1514.9" cy="890.3" r="2.5"/><circle cx="1533.7" cy="916.2" r="2.5"/><circle cx="1523.6" cy="904.3" r="2.5"/><circle cx="1526.5" cy="914.6" r="2.5"/><circle cx="1507.6" cy="918.6" r="2.5"/><circle cx="1608.6" cy="917.4" r="2.5"/><circle cx="1567.3" cy="842.1" r="2.5"/><circle cx="1545.5" cy="916.4" r="2.5"/><circle cx="1537.6" cy="906.4" r="2.5"/><circle cx="1514.4" cy="900.3" r="2.5"/><circle cx="1504.3" cy="857.4" r="2.5"/><circle cx="1555.8" cy="898.6" r="2.5"/><circle cx="1641.3" cy="902.0" r="2.5"/><circle cx="1518.4" cy="912.2" r="2.5"/><circle cx="1511.4" cy="918.2" r="2.5"/><circle cx="1578.7" cy="884.6" r="2.5"/><circle cx="1521.5" cy="914.1" r="2.5"/><circle cx="1554.9" cy="880.5" r="2.5"/><circle cx="1635.1" cy="915.9" r="2.5"/><circle cx="1581.0" cy="886.0" r="2.5"/><circle cx="1572.0" cy="911.2" r="2.5"/><circle cx="1514.1" cy="877.6" r="2.5"/><circle cx="1523.3" cy="908.3" r="2.5"/><circle cx="1544.1" cy="909.0" r="2.5"/><circle cx="1593.3" cy="914.0" r="2.5"/><circle cx="1506.0" cy="898.5" r="2.5"/><circle cx="1553.6" cy="883.5" r="2.5"/><circle cx="1565.3" cy="872.4" r="2.5"/><circle cx="1649.5" cy="908.0" r="2.5"/><circle cx="1538.6" cy="915.1" r="2.5"/><circle cx="1521.8" cy="898.8" r="2.5"/><circle cx="1508.1" cy="890.8" r="2.5"/><circle cx="1512.8" cy="904.9" r="2.5"/><circle cx="1679.7" cy="917.3" r="2.5"/><circle cx="1505.9" cy="904.8" r="2.5"/><circle cx="1514.5" cy="888.5" r="2.5"/><circle cx="1504.0" cy="874.0" r="2.5"/><circle cx="1601.0" cy="892.6" r="2.5"/><circle cx="1531.7" cy="911.4" r="2.5"/><circle cx="1558.3" cy="904.2" r="2.5"/><circle cx="1531.3" cy="909.6" r="2.5"/><circle cx="1532.9" cy="894.5" r="2.5"/><circle cx="1591.7" cy="877.4" r="2.5"/><circle cx="1512.9" cy="910.5" r="2.5"/><circle cx="1533.3" cy="900.5" r="2.5"/><circle cx="1525.4" cy="913.9" r="2.5"/><circle cx="1508.3" cy="909.4" r="2.5"/><circle cx="1534.9" cy="840.6" r="2.5"/><circle cx="1624.1" cy="887.0" r="2.5"/><circle cx="1687.9" cy="867.0" r="2.5"/><circle cx="1552.4" cy="884.3" r="2.5"/><circle cx="1507.0" cy="891.5" r="2.5"/><circle cx="1551.1" cy="911.5" r="2.5"/><circle cx="1546.4" cy="854.2" r="2.5"/><circle cx="1536.8" cy="896.0" r="2.5"/><circle cx="1521.7" cy="909.1" r="2.5"/><circle cx="1612.5" cy="918.4" r="2.5"/><circle cx="1514.4" cy="892.0" r="2.5"/><circle cx="1533.7" cy="916.9" r="2.5"/><circle cx="1558.1" cy="909.4" r="2.5"/><circle cx="1547.5" cy="907.5" r="2.5"/><circle cx="1541.8" cy="900.9" r="2.5"/><circle cx="1529.2" cy="916.1" r="2.5"/><circle cx="1513.9" cy="866.6" r="2.5"/><circle cx="1543.8" cy="916.3" r="2.5"/><circle cx="1603.4" cy="913.9" r="2.5"/><circle cx="1508.9" cy="900.6" r="2.5"/><circle cx="1518.4" cy="903.2" r="2.5"/><circle cx="1544.4" cy="913.3" r="2.5"/><circle cx="1546.6" cy="916.3" r="2.5"/><circle cx="1540.0" cy="899.6" r="2.5"/><circle cx="1508.1" cy="906.2" r="2.5"/><circle cx="1507.7" cy="904.9" r="2.5"/><circle cx="1603.9" cy="905.4" r="2.5"/><circle cx="1566.8" cy="891.1" r="2.5"/><circle cx="1510.0" cy="877.9" r="2.5"/><circle cx="1509.3" cy="876.3" r="2.5"/><circle cx="1528.9" cy="914.6" r="2.5"/><circle cx="1665.6" cy="905.7" r="2.5"/><circle cx="1578.8" cy="916.1" r="2.5"/><circle cx="1579.0" cy="917.7" r="2.5"/><circle cx="1517.5" cy="907.9" r="2.5"/><circle cx="1504.6" cy="896.9" r="2.5"/><circle cx="1515.9" cy="910.4" r="2.5"/><circle cx="1565.6" cy="907.9" r="2.5"/><circle cx="1614.1" cy="903.3" r="2.5"/><circle cx="1607.2" cy="905.2" r="2.5"/><circle cx="1629.2" cy="886.4" r="2.5"/><circle cx="1513.1" cy="886.4" r="2.5"/><circle cx="1524.8" cy="885.9" r="2.5"/><circle cx="1561.2" cy="883.9" r="2.5"/><circle cx="1510.4" cy="907.7" r="2.5"/><circle cx="1571.0" cy="861.8" r="2.5"/><circle cx="1568.1" cy="918.0" r="2.5"/><circle cx="1550.4" cy="916.6" r="2.5"/><circle cx="1543.8" cy="884.1" r="2.5"/><circle cx="1509.9" cy="856.7" r="2.5"/><circle cx="1560.4" cy="912.9" r="2.5"/><circle cx="1514.7" cy="904.9" r="2.5"/><circle cx="1595.3" cy="903.7" r="2.5"/><circle cx="1509.9" cy="918.3" r="2.5"/><circle cx="1509.7" cy="880.2" r="2.5"/><circle cx="1514.2" cy="899.7" r="2.5"/><circle cx="1521.1" cy="892.0" r="2.5"/><circle cx="1527.9" cy="915.3" r="2.5"/><circle cx="1608.5" cy="906.1" r="2.5"/><circle cx="1562.6" cy="885.9" r="2.5"/><circle cx="1653.1" cy="918.6" r="2.5"/><circle cx="1524.9" cy="915.1" r="2.5"/><circle cx="1538.9" cy="874.0" r="2.5"/><circle cx="1584.8" cy="918.2" r="2.5"/><circle cx="1514.0" cy="878.5" r="2.5"/><circle cx="1561.0" cy="908.8" r="2.5"/><circle cx="1536.3" cy="915.0" r="2.5"/><circle cx="1597.5" cy="910.2" r="2.5"/><circle cx="1607.5" cy="903.3" r="2.5"/><circle cx="1507.8" cy="909.2" r="2.5"/><circle cx="1516.1" cy="866.1" r="2.5"/><circle cx="1548.6" cy="917.9" r="2.5"/><circle cx="1513.2" cy="908.2" r="2.5"/><circle cx="1535.5" cy="899.9" r="2.5"/><circle cx="1528.5" cy="909.0" r="2.5"/><circle cx="1504.2" cy="897.7" r="2.5"/><circle cx="1524.3" cy="918.3" r="2.5"/><circle cx="1534.8" cy="824.1" r="2.5"/><circle cx="1506.2" cy="915.0" r="2.5"/><circle cx="1559.7" cy="912.4" r="2.5"/><circle cx="1519.9" cy="902.8" r="2.5"/><circle cx="1519.1" cy="899.3" r="2.5"/><circle cx="1541.6" cy="851.1" r="2.5"/><circle cx="1508.6" cy="899.0" r="2.5"/><circle cx="1577.9" cy="880.2" r="2.5"/><circle cx="1578.6" cy="900.1" r="2.5"/><circle cx="1554.4" cy="909.6" r="2.5"/><circle cx="1520.5" cy="882.1" r="2.5"/><circle cx="1607.4" cy="872.8" r="2.5"/><circle cx="1561.3" cy="911.6" r="2.5"/><circle cx="1576.2" cy="893.4" r="2.5"/><circle cx="1539.6" cy="897.0" r="2.5"/><circle cx="1525.5" cy="900.6" r="2.5"/><circle cx="1530.0" cy="917.4" r="2.5"/><circle cx="1524.5" cy="909.9" r="2.5"/><circle cx="1571.0" cy="910.0" r="2.5"/><circle cx="1517.9" cy="912.6" r="2.5"/><circle cx="1525.4" cy="915.5" r="2.5"/><circle cx="1504.2" cy="868.9" r="2.5"/><circle cx="1534.2" cy="905.8" r="2.5"/><circle cx="1546.1" cy="911.2" r="2.5"/><circle cx="1513.2" cy="917.2" r="2.5"/><circle cx="1521.9" cy="910.3" r="2.5"/><circle cx="1569.0" cy="903.3" r="2.5"/><circle cx="1643.1" cy="912.2" r="2.5"/><circle cx="1631.5" cy="904.9" r="2.5"/><circle cx="1508.1" cy="914.1" r="2.5"/><circle cx="1547.5" cy="826.6" r="2.5"/><circle cx="1526.0" cy="885.0" r="2.5"/><circle cx="1532.0" cy="873.7" r="2.5"/><circle cx="1507.4" cy="902.8" r="2.5"/><circle cx="1619.1" cy="913.7" r="2.5"/><circle cx="1518.8" cy="918.3" r="2.5"/><circle cx="1512.9" cy="911.4" r="2.5"/><circle cx="1565.1" cy="914.0" r="2.5"/><circle cx="1529.5" cy="913.8" r="2.5"/><circle cx="1550.3" cy="877.2" r="2.5"/><circle cx="1556.3" cy="914.4" r="2.5"/><circle cx="1570.4" cy="855.1" r="2.5"/><circle cx="1550.0" cy="917.1" r="2.5"/><circle cx="1587.1" cy="881.2" r="2.5"/><circle cx="1524.8" cy="915.5" r="2.5"/><circle cx="1514.3" cy="900.6" r="2.5"/><circle cx="1608.5" cy="902.1" r="2.5"/><circle cx="1632.6" cy="915.0" r="2.5"/><circle cx="1523.7" cy="887.2" r="2.5"/><circle cx="1556.4" cy="908.2" r="2.5"/><circle cx="1560.9" cy="910.6" r="2.5"/><circle cx="1506.8" cy="905.9" r="2.5"/><circle cx="1506.2" cy="895.0" r="2.5"/><circle cx="1524.3" cy="903.2" r="2.5"/><circle cx="1549.6" cy="912.6" r="2.5"/><circle cx="1535.1" cy="918.5" r="2.5"/><circle cx="1634.2" cy="905.6" r="2.5"/><circle cx="1724.0" cy="917.9" r="2.5"/><circle cx="1551.7" cy="892.1" r="2.5"/><circle cx="1523.9" cy="916.6" r="2.5"/><circle cx="1512.4" cy="915.2" r="2.5"/><circle cx="1577.1" cy="917.1" r="2.5"/><circle cx="1588.3" cy="908.9" r="2.5"/><circle cx="1542.7" cy="899.8" r="2.5"/><circle cx="1544.5" cy="896.0" r="2.5"/><circle cx="1550.1" cy="910.4" r="2.5"/><circle cx="1571.7" cy="913.1" r="2.5"/><circle cx="1566.3" cy="890.5" r="2.5"/><circle cx="1579.0" cy="911.9" r="2.5"/><circle cx="1578.3" cy="847.9" r="2.5"/><circle cx="1534.2" cy="911.6" r="2.5"/><circle cx="1541.1" cy="857.8" r="2.5"/><circle cx="1511.0" cy="918.6" r="2.5"/><circle cx="1536.3" cy="895.5" r="2.5"/><circle cx="1578.6" cy="910.4" r="2.5"/><circle cx="1535.7" cy="887.8" r="2.5"/><circle cx="1508.6" cy="918.1" r="2.5"/><circle cx="1511.1" cy="917.3" r="2.5"/><circle cx="1538.9" cy="901.2" r="2.5"/><circle cx="1514.0" cy="852.4" r="2.5"/><circle cx="1526.7" cy="915.2" r="2.5"/><circle cx="1513.7" cy="887.2" r="2.5"/><circle cx="1631.6" cy="916.0" r="2.5"/><circle cx="1505.4" cy="882.2" r="2.5"/><circle cx="1517.8" cy="824.6" r="2.5"/><circle cx="1538.6" cy="896.8" r="2.5"/><circle cx="1525.1" cy="882.1" r="2.5"/><circle cx="1534.8" cy="910.2" r="2.5"/><circle cx="1621.3" cy="917.0" r="2.5"/><circle cx="1570.3" cy="917.5" r="2.5"/><circle cx="1555.9" cy="908.3" r="2.5"/><circle cx="1604.1" cy="917.8" r="2.5"/><circle cx="1545.6" cy="907.6" r="2.5"/><circle cx="1630.2" cy="872.8" r="2.5"/><circle cx="1553.4" cy="913.6" r="2.5"/><circle cx="1518.5" cy="911.7" r="2.5"/><circle cx="1532.4" cy="913.0" r="2.5"/><circle cx="1515.3" cy="885.3" r="2.5"/><circle cx="1555.6" cy="911.6" r="2.5"/><circle cx="1534.1" cy="900.2" r="2.5"/><circle cx="1512.4" cy="871.6" r="2.5"/><circle cx="1606.1" cy="913.7" r="2.5"/><circle cx="1573.8" cy="885.8" r="2.5"/><circle cx="1520.6" cy="909.5" r="2.5"/><circle cx="1537.3" cy="870.4" r="2.5"/><circle cx="1512.7" cy="891.6" r="2.5"/><circle cx="1549.6" cy="906.2" r="2.5"/><circle cx="1547.3" cy="873.6" r="2.5"/><circle cx="1515.7" cy="868.3" r="2.5"/><circle cx="1526.3" cy="884.5" r="2.5"/><circle cx="1603.8" cy="915.5" r="2.5"/><circle cx="1604.1" cy="830.7" r="2.5"/><circle cx="1521.6" cy="918.3" r="2.5"/><circle cx="1509.8" cy="831.1" r="2.5"/><circle cx="1504.3" cy="859.7" r="2.5"/><circle cx="1512.1" cy="887.1" r="2.5"/><circle cx="1509.0" cy="914.4" r="2.5"/><circle cx="1561.5" cy="916.9" r="2.5"/><circle cx="1524.7" cy="861.6" r="2.5"/><circle cx="1567.2" cy="877.0" r="2.5"/><circle cx="1699.5" cy="918.3" r="2.5"/><circle cx="1517.3" cy="882.1" r="2.5"/><circle cx="1562.6" cy="918.1" r="2.5"/><circle cx="1539.2" cy="913.1" r="2.5"/><circle cx="1532.1" cy="916.4" r="2.5"/><circle cx="1504.9" cy="900.9" r="2.5"/><circle cx="1609.8" cy="916.7" r="2.5"/><circle cx="1537.4" cy="915.6" r="2.5"/><circle cx="1532.0" cy="914.4" r="2.5"/><circle cx="1561.9" cy="915.6" r="2.5"/><circle cx="1571.2" cy="905.4" r="2.5"/><circle cx="1509.9" cy="908.4" r="2.5"/><circle cx="1538.3" cy="864.2" r="2.5"/><circle cx="1525.5" cy="913.3" r="2.5"/><circle cx="1676.0" cy="884.8" r="2.5"/><circle cx="1569.9" cy="912.7" r="2.5"/><circle cx="1513.7" cy="911.5" r="2.5"/><circle cx="1507.5" cy="917.8" r="2.5"/><circle cx="1539.6" cy="907.5" r="2.5"/><circle cx="1544.7" cy="909.2" r="2.5"/><circle cx="1504.4" cy="890.4" r="2.5"/><circle cx="1557.0" cy="902.9" r="2.5"/><circle cx="1543.8" cy="893.8" r="2.5"/><circle cx="1706.6" cy="885.9" r="2.5"/><circle cx="1567.4" cy="908.9" r="2.5"/><circle cx="1523.1" cy="906.4" r="2.5"/><circle cx="1685.1" cy="911.1" r="2.5"/><circle cx="1528.3" cy="906.9" r="2.5"/><circle cx="1511.6" cy="918.5" r="2.5"/><circle cx="1550.9" cy="864.6" r="2.5"/><circle cx="1518.6" cy="896.8" r="2.5"/><circle cx="1527.6" cy="912.6" r="2.5"/><circle cx="1515.0" cy="915.9" r="2.5"/><circle cx="1596.9" cy="892.3" r="2.5"/><circle cx="1624.0" cy="918.0" r="2.5"/><circle cx="1563.4" cy="911.0" r="2.5"/><circle cx="1556.1" cy="902.6" r="2.5"/><circle cx="1522.9" cy="837.1" r="2.5"/><circle cx="1503.9" cy="885.4" r="2.5"/><circle cx="1600.3" cy="906.7" r="2.5"/><circle cx="1548.9" cy="808.8" r="2.5"/><circle cx="1517.3" cy="895.6" r="2.5"/><circle cx="1572.2" cy="909.7" r="2.5"/><circle cx="1566.4" cy="909.0" r="2.5"/><circle cx="1541.4" cy="898.4" r="2.5"/><circle cx="1560.7" cy="911.0" r="2.5"/><circle cx="1553.7" cy="902.7" r="2.5"/><circle cx="1516.6" cy="896.6" r="2.5"/><circle cx="1519.3" cy="863.2" r="2.5"/><circle cx="1536.1" cy="890.8" r="2.5"/><circle cx="1540.9" cy="904.9" r="2.5"/><circle cx="1516.4" cy="915.2" r="2.5"/><circle cx="1635.5" cy="906.9" r="2.5"/><circle cx="1541.1" cy="902.7" r="2.5"/><circle cx="1588.2" cy="913.9" r="2.5"/><circle cx="1513.4" cy="878.0" r="2.5"/><circle cx="1534.8" cy="896.3" r="2.5"/><circle cx="1592.1" cy="879.2" r="2.5"/><circle cx="1605.5" cy="918.1" r="2.5"/><circle cx="1528.0" cy="878.6" r="2.5"/><circle cx="1589.4" cy="916.5" r="2.5"/><circle cx="1512.3" cy="911.9" r="2.5"/><circle cx="1509.3" cy="908.2" r="2.5"/><circle cx="1585.5" cy="905.4" r="2.5"/><circle cx="1534.2" cy="916.8" r="2.5"/><circle cx="1529.2" cy="879.4" r="2.5"/><circle cx="1533.8" cy="904.4" r="2.5"/><circle cx="1584.3" cy="892.9" r="2.5"/><circle cx="1512.0" cy="891.7" r="2.5"/><circle cx="1526.8" cy="902.2" r="2.5"/><circle cx="1517.5" cy="908.0" r="2.5"/><circle cx="1524.7" cy="907.9" r="2.5"/><circle cx="1504.8" cy="913.4" r="2.5"/><circle cx="1546.3" cy="917.6" r="2.5"/><circle cx="1513.7" cy="888.9" r="2.5"/><circle cx="1520.0" cy="909.7" r="2.5"/><circle cx="1517.8" cy="876.9" r="2.5"/><circle cx="1508.7" cy="894.5" r="2.5"/><circle cx="1602.2" cy="915.0" r="2.5"/><circle cx="1531.5" cy="883.8" r="2.5"/><circle cx="1552.2" cy="909.2" r="2.5"/><circle cx="1506.1" cy="904.7" r="2.5"/><circle cx="1526.9" cy="890.6" r="2.5"/><circle cx="1521.4" cy="906.7" r="2.5"/><circle cx="1556.3" cy="884.9" r="2.5"/><circle cx="1525.7" cy="907.8" r="2.5"/><circle cx="1547.3" cy="864.3" r="2.5"/><circle cx="1514.6" cy="835.0" r="2.5"/><circle cx="1566.4" cy="909.7" r="2.5"/><circle cx="1558.9" cy="910.8" r="2.5"/><circle cx="1507.6" cy="884.8" r="2.5"/><circle cx="1527.8" cy="902.0" r="2.5"/><circle cx="1538.3" cy="868.4" r="2.5"/><circle cx="1574.9" cy="918.3" r="2.5"/><circle cx="1549.0" cy="905.8" r="2.5"/><circle cx="1535.0" cy="878.5" r="2.5"/><circle cx="1530.8" cy="904.5" r="2.5"/><circle cx="1614.9" cy="909.6" r="2.5"/><circle cx="1537.8" cy="903.2" r="2.5"/><circle cx="1591.3" cy="899.2" r="2.5"/><circle cx="1571.6" cy="908.9" r="2.5"/><circle cx="1506.0" cy="891.2" r="2.5"/><circle cx="1544.4" cy="887.6" r="2.5"/><circle cx="1577.7" cy="916.5" r="2.5"/><circle cx="1516.4" cy="916.9" r="2.5"/><circle cx="1589.3" cy="916.9" r="2.5"/><circle cx="1508.5" cy="885.2" r="2.5"/><circle cx="1545.6" cy="917.6" r="2.5"/><circle cx="1561.3" cy="894.0" r="2.5"/><circle cx="1537.0" cy="917.6" r="2.5"/><circle cx="1562.9" cy="908.1" r="2.5"/><circle cx="1547.9" cy="872.5" r="2.5"/><circle cx="1607.1" cy="916.2" r="2.5"/><circle cx="1524.3" cy="902.1" r="2.5"/><circle cx="1504.2" cy="809.5" r="2.5"/><circle cx="1520.0" cy="911.8" r="2.5"/><circle cx="1522.7" cy="912.1" r="2.5"/><circle cx="1602.2" cy="905.1" r="2.5"/><circle cx="1539.8" cy="907.0" r="2.5"/><circle cx="1506.5" cy="910.0" r="2.5"/><circle cx="1605.1" cy="891.8" r="2.5"/><circle cx="1601.4" cy="913.8" r="2.5"/><circle cx="1515.2" cy="917.6" r="2.5"/><circle cx="1542.5" cy="908.8" r="2.5"/><circle cx="1535.2" cy="904.0" r="2.5"/><circle cx="1547.9" cy="909.2" r="2.5"/><circle cx="1585.1" cy="914.8" r="2.5"/><circle cx="1630.3" cy="905.9" r="2.5"/><circle cx="1506.5" cy="909.7" r="2.5"/><circle cx="1542.1" cy="907.5" r="2.5"/><circle cx="1545.7" cy="910.5" r="2.5"/><circle cx="1519.9" cy="882.0" r="2.5"/><circle cx="1521.2" cy="890.2" r="2.5"/><circle cx="1585.3" cy="902.5" r="2.5"/><circle cx="1534.3" cy="858.5" r="2.5"/><circle cx="1533.4" cy="872.2" r="2.5"/><circle cx="1506.9" cy="905.1" r="2.5"/><circle cx="1555.1" cy="917.8" r="2.5"/><circle cx="1603.6" cy="917.6" r="2.5"/><circle cx="1549.4" cy="914.7" r="2.5"/><circle cx="1632.2" cy="905.8" r="2.5"/><circle cx="1584.9" cy="906.3" r="2.5"/><circle cx="1560.1" cy="896.2" r="2.5"/><circle cx="1521.4" cy="913.4" r="2.5"/><circle cx="1595.4" cy="916.1" r="2.5"/><circle cx="1629.4" cy="915.1" r="2.5"/><circle cx="1509.2" cy="916.4" r="2.5"/><circle cx="1580.9" cy="863.0" r="2.5"/><circle cx="1530.8" cy="894.8" r="2.5"/><circle cx="1518.8" cy="863.8" r="2.5"/><circle cx="1562.0" cy="915.5" r="2.5"/><circle cx="1506.8" cy="890.0" r="2.5"/><circle cx="1506.0" cy="875.0" r="2.5"/><circle cx="1521.3" cy="912.7" r="2.5"/><circle cx="1547.7" cy="910.7" r="2.5"/><circle cx="1545.2" cy="915.3" r="2.5"/><circle cx="1625.9" cy="912.6" r="2.5"/><circle cx="1596.3" cy="916.0" r="2.5"/><circle cx="1584.5" cy="847.4" r="2.5"/><circle cx="1528.8" cy="918.1" r="2.5"/><circle cx="1527.9" cy="895.7" r="2.5"/><circle cx="1516.6" cy="900.3" r="2.5"/><circle cx="1508.8" cy="903.8" r="2.5"/><circle cx="1569.3" cy="907.9" r="2.5"/><circle cx="1560.9" cy="916.4" r="2.5"/><circle cx="1592.4" cy="916.5" r="2.5"/><circle cx="1632.8" cy="830.7" r="2.5"/><circle cx="1644.7" cy="907.0" r="2.5"/><circle cx="1521.1" cy="908.9" r="2.5"/><circle cx="1573.6" cy="905.7" r="2.5"/><circle cx="1637.3" cy="917.3" r="2.5"/><circle cx="1537.2" cy="875.2" r="2.5"/><circle cx="1549.6" cy="902.6" r="2.5"/><circle cx="1508.5" cy="915.2" r="2.5"/><circle cx="1519.8" cy="867.0" r="2.5"/><circle cx="1597.6" cy="914.4" r="2.5"/><circle cx="1633.7" cy="918.3" r="2.5"/><circle cx="1549.7" cy="847.3" r="2.5"/><circle cx="1525.1" cy="853.0" r="2.5"/><circle cx="1557.5" cy="917.8" r="2.5"/><circle cx="1524.2" cy="905.2" r="2.5"/><circle cx="1518.1" cy="887.2" r="2.5"/><circle cx="1513.8" cy="882.2" r="2.5"/><circle cx="1521.7" cy="917.2" r="2.5"/><circle cx="1545.0" cy="916.7" r="2.5"/><circle cx="1544.2" cy="885.7" r="2.5"/><circle cx="1549.3" cy="905.9" r="2.5"/><circle cx="1505.6" cy="901.3" r="2.5"/><circle cx="1509.0" cy="893.8" r="2.5"/><circle cx="1511.0" cy="898.2" r="2.5"/><circle cx="1525.7" cy="908.1" r="2.5"/><circle cx="1558.5" cy="915.2" r="2.5"/><circle cx="1513.2" cy="851.5" r="2.5"/><circle cx="1524.1" cy="876.6" r="2.5"/><circle cx="1607.7" cy="908.0" r="2.5"/><circle cx="1512.0" cy="916.5" r="2.5"/><circle cx="1610.0" cy="916.8" r="2.5"/><circle cx="1538.3" cy="902.1" r="2.5"/><circle cx="1510.2" cy="903.7" r="2.5"/><circle cx="1512.9" cy="900.6" r="2.5"/><circle cx="1539.4" cy="908.9" r="2.5"/><circle cx="1514.9" cy="906.6" r="2.5"/><circle cx="1515.3" cy="915.6" r="2.5"/><circle cx="1517.6" cy="870.9" r="2.5"/><circle cx="1538.9" cy="870.7" r="2.5"/><circle cx="1504.6" cy="848.9" r="2.5"/><circle cx="1537.5" cy="884.6" r="2.5"/><circle cx="1546.3" cy="894.1" r="2.5"/><circle cx="1517.0" cy="886.4" r="2.5"/><circle cx="1512.3" cy="911.5" r="2.5"/><circle cx="1505.5" cy="906.7" r="2.5"/><circle cx="1540.5" cy="911.4" r="2.5"/><circle cx="1542.1" cy="913.0" r="2.5"/><circle cx="1528.7" cy="902.7" r="2.5"/><circle cx="1529.5" cy="864.8" r="2.5"/><circle cx="1534.4" cy="914.5" r="2.5"/><circle cx="1514.4" cy="877.5" r="2.5"/><circle cx="1546.1" cy="916.0" r="2.5"/><circle cx="1530.4" cy="871.1" r="2.5"/><circle cx="1538.9" cy="895.2" r="2.5"/><circle cx="1538.7" cy="887.0" r="2.5"/><circle cx="1543.4" cy="918.1" r="2.5"/><circle cx="1544.3" cy="890.4" r="2.5"/><circle cx="1521.4" cy="912.8" r="2.5"/><circle cx="1514.4" cy="868.2" r="2.5"/><circle cx="1533.0" cy="908.4" r="2.5"/><circle cx="1518.7" cy="909.1" r="2.5"/><circle cx="1512.4" cy="903.7" r="2.5"/><circle cx="1518.1" cy="851.5" r="2.5"/><circle cx="1546.7" cy="864.2" r="2.5"/><circle cx="1524.5" cy="884.5" r="2.5"/><circle cx="1537.4" cy="856.2" r="2.5"/><circle cx="1536.2" cy="874.9" r="2.5"/><circle cx="1512.4" cy="875.7" r="2.5"/><circle cx="1540.2" cy="864.6" r="2.5"/><circle cx="1507.8" cy="869.3" r="2.5"/><circle cx="1518.9" cy="907.6" r="2.5"/><circle cx="1545.4" cy="872.4" r="2.5"/><circle cx="1535.9" cy="909.5" r="2.5"/><circle cx="1539.5" cy="854.2" r="2.5"/><circle cx="1542.7" cy="867.5" r="2.5"/><circle cx="1539.6" cy="863.5" r="2.5"/><circle cx="1529.2" cy="888.8" r="2.5"/><circle cx="1539.3" cy="864.7" r="2.5"/><circle cx="1541.3" cy="898.2" r="2.5"/><circle cx="1545.2" cy="882.2" r="2.5"/><circle cx="1544.5" cy="910.8" r="2.5"/><circle cx="1545.5" cy="864.5" r="2.5"/><circle cx="1514.7" cy="861.0" r="2.5"/><circle cx="1513.8" cy="905.2" r="2.5"/><circle cx="1523.5" cy="902.5" r="2.5"/><circle cx="1525.0" cy="856.2" r="2.5"/><circle cx="1533.3" cy="869.8" r="2.5"/><circle cx="1520.7" cy="864.8" r="2.5"/><circle cx="1538.0" cy="871.7" r="2.5"/><circle cx="1544.3" cy="861.9" r="2.5"/><circle cx="1521.3" cy="912.8" r="2.5"/><circle cx="1531.9" cy="861.2" r="2.5"/><circle cx="1518.5" cy="877.8" r="2.5"/><circle cx="1539.8" cy="864.1" r="2.5"/><circle cx="1504.1" cy="885.1" r="2.5"/><circle cx="1504.6" cy="911.2" r="2.5"/><circle cx="1538.8" cy="890.0" r="2.5"/><circle cx="1529.9" cy="887.3" r="2.5"/><circle cx="1518.3" cy="904.1" r="2.5"/><circle cx="1519.1" cy="860.6" r="2.5"/><circle cx="1530.5" cy="898.7" r="2.5"/><circle cx="1507.7" cy="900.1" r="2.5"/><circle cx="1534.0" cy="888.3" r="2.5"/><circle cx="1532.3" cy="863.2" r="2.5"/><circle cx="1509.1" cy="871.7" r="2.5"/><circle cx="1505.7" cy="862.1" r="2.5"/></g>
<g stroke="#333" stroke-width="1.6" stroke-dasharray="8 5.5"><line x1="1390.6" x2="1390.6" y1="34.3" y2="976.8"/><line x1="1502.2" x2="1502.2" y1="34.3" y2="976.8"/><line x1="1104" x2="1903" y1="919.4" y2="919.4"/></g>
<rect x="1104" y="34.3" width="799" height="942.5" fill="none" stroke="#5a5a5a" stroke-width="1.8"/>
<g stroke="#222" stroke-width="2"><line x1="1096.5" x2="1104" y1="935.3" y2="935.3"/><line x1="1096.5" x2="1104" y1="691.2" y2="691.2"/><line x1="1096.5" x2="1104" y1="447.1" y2="447.1"/><line x1="1096.5" x2="1104" y1="203.0" y2="203.0"/><line x1="1223.2" x2="1223.2" y1="976.8" y2="984.3"/><line x1="1446.4" x2="1446.4" y1="976.8" y2="984.3"/><line x1="1669.6" x2="1669.6" y1="976.8" y2="984.3"/><line x1="1892.8" x2="1892.8" y1="976.8" y2="984.3"/></g>
<circle cx="1965.2" cy="516.5" r="3" fill="#0000FF"/>
<circle cx="1965.2" cy="558.2" r="3" fill="#BEBEBE"/>
<circle cx="1965.2" cy="600.7" r="3" fill="#FF0000"/>
<path d="M669.8 1271.4V1229.9H825.5V1271.4M514.0 1271.4V1225H747.6V1229.9M1136.8 1271.4V1213.4H1292.5V1271.4M981.1 1271.4V1194H1214.7V1213.4M630.8 1225V1118.6H1097.9V1194" fill="none" stroke="#000" stroke-width="2.1"/>
<rect x="436.2" y="1274.6" width="467.1" height="29.5" fill="#00DAE0"/>
<rect x="903.3" y="1274.6" width="467.1" height="29.5" fill="#FD9289"/>
<line x1="591.9" x2="591.9" y1="1274.6" y2="1304.1" stroke="#fff" stroke-opacity="0.18" stroke-width="1"/><line x1="591.9" x2="591.9" y1="1313.0" y2="2272.5" stroke="#999" stroke-opacity="0.25" stroke-width="1"/><line x1="747.6" x2="747.6" y1="1274.6" y2="1304.1" stroke="#fff" stroke-opacity="0.18" stroke-width="1"/><line x1="747.6" x2="747.6" y1="1313.0" y2="2272.5" stroke="#999" stroke-opacity="0.25" stroke-width="1"/><line x1="903.3" x2="903.3" y1="1274.6" y2="1304.1" stroke="#fff" stroke-opacity="0.18" stroke-width="1"/><line x1="903.3" x2="903.3" y1="1313.0" y2="2272.5" stroke="#999" stroke-opacity="0.25" stroke-width="1"/><line x1="1059.0" x2="1059.0" y1="1274.6" y2="1304.1" stroke="#fff" stroke-opacity="0.18" stroke-width="1"/><line x1="1059.0" x2="1059.0" y1="1313.0" y2="2272.5" stroke="#999" stroke-opacity="0.25" stroke-width="1"/><line x1="1214.7" x2="1214.7" y1="1274.6" y2="1304.1" stroke="#fff" stroke-opacity="0.18" stroke-width="1"/><line x1="1214.7" x2="1214.7" y1="1313.0" y2="2272.5" stroke="#999" stroke-opacity="0.25" stroke-width="1"/>
<path d="M436.2 1316.0H417.8V1318.0H436.2M417.8 1317.0H415.4V1320.0H436.2M436.2 1314.0H410.1V1318.5H415.4M436.2 1324.0H418.9V1326.0H436.2M436.2 1322.0H410.5V1325.0H418.9M410.1 1316.2H390.8V1323.5H410.5M436.2 1328.0H419.3V1330.0H436.2M436.2 1332.0H416.9V1334.0H436.2M419.3 1329.0H409.5V1333.0H416.9M436.2 1336.0H420.3V1338.0H436.2M409.5 1331.0H405.7V1337.0H420.3M390.8 1319.9H348.6V1334.0H405.7M436.2 1340.0H421.6V1342.0H436.2M421.6 1341.0H414.8V1344.0H436.2M436.2 1346.0H421.4V1348.0H436.2M421.4 1347.0H411.8V1350.0H436.2M411.8 1348.5H403.1V1352.0H436.2M414.8 1342.5H396.0V1350.2H403.1M436.2 1356.0H418.4V1358.0H436.2M436.2 1354.0H414.7V1357.0H418.4M436.2 1360.0H417.1V1362.0H436.2M436.2 1364.0H419.5V1366.0H436.2M417.1 1361.0H410.8V1365.0H419.5M436.2 1370.0H420.8V1372.0H436.2M436.2 1368.0H413.2V1371.0H420.8M436.2 1376.0H422.1V1378.0H436.2M436.2 1374.0H413.0V1377.0H422.1M413.0 1375.5H406.9V1380.0H436.2M413.2 1369.5H401.3V1377.7H406.9M436.2 1384.0H420.7V1386.0H436.2M420.7 1385.0H413.4V1388.0H436.2M436.2 1382.0H405.4V1386.5H413.4M436.2 1390.0H420.3V1392.0H436.2M420.3 1391.0H413.9V1394.0H436.2M405.4 1384.2H400.5V1392.5H413.9M401.3 1373.6H389.1V1388.3H400.5M410.8 1363.0H384.9V1381.0H389.1M436.2 1400.0H421.3V1402.0H436.2M436.2 1398.0H413.7V1401.0H421.3M436.2 1396.0H406.6V1399.5H413.7M384.9 1372.0H382.2V1397.7H406.6M414.7 1355.5H377.3V1384.8H382.2M396.0 1346.4H375.2V1370.2H377.3M436.2 1408.0H422.0V1409.9H436.2M436.2 1406.0H413.2V1408.9H422.0M436.2 1404.0H405.8V1407.5H413.2M436.2 1411.9H421.3V1413.9H436.2M436.2 1415.9H420.6V1417.9H436.2M421.3 1412.9H402.1V1416.9H420.6M436.2 1419.9H421.9V1421.9H436.2M421.9 1420.9H409.6V1423.9H436.2M436.2 1427.9H416.3V1429.9H436.2M436.2 1425.9H410.4V1428.9H416.3M409.6 1422.4H404.2V1427.4H410.4M402.1 1414.9H392.4V1424.9H404.2M436.2 1431.9H418.4V1433.9H436.2M436.2 1435.9H417.4V1437.9H436.2M417.4 1436.9H409.4V1439.9H436.2M418.4 1432.9H405.0V1438.4H409.4M436.2 1441.9H416.1V1443.9H436.2M405.0 1435.7H401.0V1442.9H416.1M392.4 1419.9H377.5V1439.3H401.0M405.8 1405.7H372.8V1429.6H377.5M436.2 1445.9H416.6V1447.9H436.2M416.6 1446.9H412.9V1449.9H436.2M412.9 1448.4H409.4V1451.9H436.2M436.2 1457.9H419.7V1459.9H436.2M436.2 1455.9H410.8V1458.9H419.7M436.2 1453.9H403.1V1457.4H410.8M409.4 1450.2H397.3V1455.7H403.1M436.2 1461.9H416.8V1463.9H436.2M436.2 1465.9H421.1V1467.9H436.2M436.2 1469.9H421.5V1471.9H436.2M421.5 1470.9H414.6V1473.9H436.2M421.1 1466.9H408.5V1472.4H414.6M416.8 1462.9H405.2V1469.7H408.5M405.2 1466.3H401.1V1475.9H436.2M436.2 1477.9H418.9V1479.9H436.2M401.1 1471.1H395.3V1478.9H418.9M397.3 1452.9H375.4V1475.0H395.3M372.8 1417.7H367.9V1464.0H375.4M375.2 1358.3H350.9V1440.8H367.9M436.2 1481.9H416.4V1483.9H436.2M436.2 1487.9H422.1V1489.9H436.2M436.2 1485.9H415.7V1488.9H422.1M415.7 1487.4H405.6V1491.9H436.2M436.2 1493.9H419.2V1495.9H436.2M419.2 1494.9H407.9V1497.9H436.2M407.9 1496.4H405.5V1499.9H436.2M405.6 1489.7H395.8V1498.2H405.5M416.4 1482.9H391.9V1493.9H395.8M436.2 1501.9H419.1V1503.9H436.2M419.1 1502.9H413.2V1505.9H436.2M413.2 1504.4H406.9V1507.9H436.2M436.2 1509.9H420.6V1511.9H436.2M420.6 1510.9H415.1V1513.9H436.2M436.2 1515.9H418.2V1517.9H436.2M415.1 1512.4H404.4V1516.9H418.2M406.9 1506.1H390.8V1514.6H404.4M436.2 1519.9H416.0V1521.9H436.2M436.2 1523.9H421.0V1525.9H436.2M416.0 1520.9H405.9V1524.9H421.0M390.8 1510.4H384.0V1522.9H405.9M436.2 1527.9H419.8V1529.9H436.2M384.0 1516.6H381.2V1528.9H419.8M436.2 1531.9H420.6V1533.9H436.2M436.2 1535.9H418.5V1537.9H436.2M436.2 1539.9H417.6V1541.9H436.2M417.6 1540.9H409.9V1543.9H436.2M436.2 1547.9H416.5V1549.9H436.2M416.5 1548.9H408.7V1551.9H436.2M436.2 1545.9H404.5V1550.4H408.7M409.9 1542.4H399.4V1548.1H404.5M418.5 1536.9H396.5V1545.3H399.4M436.2 1553.9H421.8V1555.9H436.2M436.2 1559.9H419.9V1561.9H436.2M436.2 1557.9H415.1V1560.9H419.9M421.8 1554.9H405.0V1559.4H415.1M396.5 1541.1H390.6V1557.1H405.0M420.6 1532.9H379.3V1549.1H390.6M436.2 1569.9H421.6V1571.9H436.2M436.2 1567.9H416.0V1570.9H421.6M436.2 1565.9H403.2V1569.4H416.0M436.2 1563.9H397.9V1567.6H403.2M436.2 1573.9H417.2V1575.9H436.2M417.2 1574.9H408.8V1577.9H436.2M436.2 1579.9H420.8V1581.9H436.2M408.8 1576.4H398.7V1580.9H420.8M397.9 1565.7H393.8V1578.6H398.7M436.2 1583.9H418.9V1585.9H436.2M393.8 1572.2H389.6V1584.9H418.9M436.2 1589.9H421.3V1591.9H436.2M436.2 1587.9H410.5V1590.9H421.3M389.6 1578.5H379.0V1589.4H410.5M379.3 1541.0H374.3V1583.9H379.0M381.2 1522.8H362.3V1562.5H374.3M391.9 1488.4H356.2V1542.6H362.3M350.9 1399.5H339.0V1515.5H356.2M348.6 1326.9H333.0V1457.5H339.0M436.2 1593.9H418.8V1595.9H436.2M436.2 1597.9H420.5V1599.9H436.2M420.5 1598.9H414.6V1601.8H436.2M414.6 1600.4H410.5V1603.8H436.2M436.2 1605.8H417.4V1607.8H436.2M417.4 1606.8H413.5V1609.8H436.2M436.2 1613.8H420.9V1615.8H436.2M436.2 1611.8H415.0V1614.8H420.9M413.5 1608.3H400.1V1613.3H415.0M410.5 1602.1H397.1V1610.8H400.1M418.8 1594.9H393.4V1606.5H397.1M436.2 1619.8H420.4V1621.8H436.2M436.2 1617.8H416.0V1620.8H420.4M416.0 1619.3H411.2V1623.8H436.2M436.2 1625.8H421.3V1627.8H436.2M436.2 1629.8H420.8V1631.8H436.2M421.3 1626.8H409.9V1630.8H420.8M409.9 1628.8H403.8V1633.8H436.2M411.2 1621.6H396.5V1631.3H403.8M436.2 1635.8H421.7V1637.8H436.2M436.2 1639.8H421.9V1641.8H436.2M421.7 1636.8H410.3V1640.8H421.9M436.2 1645.8H419.8V1647.8H436.2M436.2 1643.8H413.9V1646.8H419.8M436.2 1651.8H418.0V1653.8H436.2M436.2 1649.8H411.9V1652.8H418.0M413.9 1645.3H406.1V1651.3H411.9M410.3 1638.8H392.8V1648.3H406.1M396.5 1626.5H376.9V1643.6H392.8M393.4 1600.7H366.0V1635.0H376.9M436.2 1655.8H418.4V1657.8H436.2M418.4 1656.8H415.9V1659.8H436.2M436.2 1663.8H419.4V1665.8H436.2M436.2 1661.8H412.0V1664.8H419.4M415.9 1658.3H402.9V1663.3H412.0M436.2 1669.8H420.9V1671.8H436.2M436.2 1667.8H415.9V1670.8H420.9M436.2 1675.8H416.8V1677.8H436.2M436.2 1673.8H412.6V1676.8H416.8M412.6 1675.3H410.6V1679.8H436.2M415.9 1669.3H392.2V1677.6H410.6M402.9 1660.8H379.5V1673.4H392.2M436.2 1683.8H417.1V1685.8H436.2M417.1 1684.8H409.3V1687.8H436.2M436.2 1681.8H407.4V1686.3H409.3M436.2 1689.8H420.3V1691.8H436.2M407.4 1684.1H397.8V1690.8H420.3M436.2 1695.8H417.0V1697.8H436.2M417.0 1696.8H408.7V1699.8H436.2M436.2 1693.8H404.3V1698.3H408.7M397.8 1687.4H393.0V1696.1H404.3M379.5 1667.1H366.8V1691.7H393.0M366.0 1617.8H350.3V1679.4H366.8M436.2 1703.8H421.6V1705.8H436.2M436.2 1701.8H414.8V1704.8H421.6M436.2 1707.8H416.0V1709.8H436.2M414.8 1703.3H401.2V1708.8H416.0M436.2 1711.8H421.0V1713.8H436.2M421.0 1712.8H410.2V1715.8H436.2M401.2 1706.0H388.4V1714.3H410.2M436.2 1719.8H418.8V1721.8H436.2M436.2 1723.8H418.4V1725.8H436.2M418.8 1720.8H407.2V1724.8H418.4M436.2 1717.8H405.4V1722.8H407.2M436.2 1727.8H416.8V1729.8H436.2M405.4 1720.3H396.8V1728.8H416.8M436.2 1731.8H416.3V1733.8H436.2M416.3 1732.8H407.9V1735.8H436.2M436.2 1737.8H418.2V1739.8H436.2M407.9 1734.3H400.3V1738.8H418.2M396.8 1724.5H392.6V1736.5H400.3M388.4 1710.2H380.3V1730.5H392.6M436.2 1741.8H416.7V1743.8H436.2M436.2 1745.8H416.5V1747.8H436.2M416.7 1742.8H411.6V1746.8H416.5M436.2 1751.8H416.5V1753.8H436.2M436.2 1749.8H409.3V1752.8H416.5M436.2 1757.8H420.9V1759.8H436.2M436.2 1755.8H412.1V1758.8H420.9M409.3 1751.3H405.9V1757.3H412.1M405.9 1754.3H401.5V1761.8H436.2M411.6 1744.8H397.9V1758.0H401.5M436.2 1763.8H420.5V1765.8H436.2M420.5 1764.8H412.3V1767.8H436.2M397.9 1751.4H393.1V1766.3H412.3M380.3 1720.4H363.1V1758.8H393.1M436.2 1773.8H416.4V1775.8H436.2M436.2 1777.8H416.3V1779.8H436.2M416.4 1774.8H411.5V1778.8H416.3M436.2 1771.8H404.5V1776.8H411.5M436.2 1769.8H397.3V1774.3H404.5M436.2 1781.8H419.3V1783.8H436.2M436.2 1785.8H418.1V1787.8H436.2M436.2 1789.8H416.0V1791.8H436.2M418.1 1786.8H409.2V1790.8H416.0M419.3 1782.8H404.3V1788.8H409.2M436.2 1795.7H416.8V1797.7H436.2M436.2 1793.7H407.7V1796.7H416.8M436.2 1801.7H417.5V1803.7H436.2M436.2 1799.7H415.2V1802.7H417.5M407.7 1795.2H400.4V1801.2H415.2M436.2 1807.7H417.5V1809.7H436.2M436.2 1811.7H419.2V1813.7H436.2M419.2 1812.7H412.9V1815.7H436.2M417.5 1808.7H403.0V1814.2H412.9M436.2 1805.7H398.8V1811.5H403.0M400.4 1798.2H396.1V1808.6H398.8M436.2 1817.7H419.1V1819.7H436.2M419.1 1818.7H412.6V1821.7H436.2M412.6 1820.2H410.6V1823.7H436.2M436.2 1825.7H421.7V1827.7H436.2M421.7 1826.7H414.7V1829.7H436.2M410.6 1822.0H394.0V1828.2H414.7M396.1 1803.4H391.5V1825.1H394.0M436.2 1831.7H419.9V1833.7H436.2M419.9 1832.7H413.5V1835.7H436.2M391.5 1814.3H386.6V1834.2H413.5M436.2 1841.7H421.6V1843.7H436.2M436.2 1839.7H412.7V1842.7H421.6M436.2 1837.7H409.6V1841.2H412.7M436.2 1845.7H418.5V1847.7H436.2M409.6 1839.5H406.0V1846.7H418.5M436.2 1849.7H419.8V1851.7H436.2M406.0 1843.1H401.7V1850.7H419.8M436.2 1853.7H418.2V1855.7H436.2M401.7 1846.9H392.9V1854.7H418.2M386.6 1824.2H379.0V1850.8H392.9M404.3 1785.8H376.0V1837.5H379.0M436.2 1857.7H421.7V1859.7H436.2M436.2 1861.7H416.6V1863.7H436.2M421.7 1858.7H410.9V1862.7H416.6M436.2 1865.7H416.1V1867.7H436.2M410.9 1860.7H404.9V1866.7H416.1M376.0 1811.6H374.2V1863.7H404.9M397.3 1772.0H369.3V1837.7H374.2M363.1 1739.6H356.5V1804.8H369.3M436.2 1871.7H420.3V1873.7H436.2M420.3 1872.7H414.9V1875.7H436.2M436.2 1869.7H406.1V1874.2H414.9M436.2 1877.7H416.2V1879.7H436.2M406.1 1872.0H393.4V1878.7H416.2M436.2 1883.7H420.7V1885.7H436.2M420.7 1884.7H415.4V1887.7H436.2M436.2 1881.7H411.9V1886.2H415.4M436.2 1891.7H417.0V1893.7H436.2M436.2 1889.7H412.2V1892.7H417.0M436.2 1895.7H420.2V1897.7H436.2M412.2 1891.2H403.3V1896.7H420.2M436.2 1899.7H416.1V1901.7H436.2M403.3 1893.9H396.8V1900.7H416.1M411.9 1884.0H393.8V1897.3H396.8M393.4 1875.3H383.4V1890.6H393.8M436.2 1905.7H419.0V1907.7H436.2M436.2 1903.7H412.7V1906.7H419.0M436.2 1909.7H417.7V1911.7H436.2M417.7 1910.7H412.0V1913.7H436.2M412.7 1905.2H403.8V1912.2H412.0M403.8 1908.7H399.0V1915.7H436.2M436.2 1919.7H422.0V1921.7H436.2M436.2 1917.7H412.1V1920.7H422.0M399.0 1912.2H393.4V1919.2H412.1M383.4 1883.0H378.7V1915.7H393.4M436.2 1923.7H416.7V1925.7H436.2M436.2 1927.7H420.0V1929.7H436.2M420.0 1928.7H416.1V1931.7H436.2M416.7 1924.7H408.3V1930.2H416.1M436.2 1935.7H416.9V1937.7H436.2M436.2 1933.7H408.9V1936.7H416.9M408.3 1927.4H399.3V1935.2H408.9M436.2 1943.7H417.1V1945.7H436.2M417.1 1944.7H411.2V1947.7H436.2M436.2 1941.7H408.6V1946.2H411.2M436.2 1939.7H401.3V1943.9H408.6M399.3 1931.3H382.8V1941.8H401.3M436.2 1949.7H418.9V1951.7H436.2M418.9 1950.7H410.3V1953.7H436.2M436.2 1955.7H422.0V1957.7H436.2M422.0 1956.7H407.6V1959.7H436.2M436.2 1963.7H419.8V1965.7H436.2M436.2 1961.7H407.6V1964.7H419.8M407.6 1958.2H400.5V1963.2H407.6M410.3 1952.2H392.4V1960.7H400.5M436.2 1969.7H418.7V1971.7H436.2M418.7 1970.7H412.6V1973.7H436.2M436.2 1967.7H408.8V1972.2H412.6M436.2 1975.7H416.7V1977.7H436.2M408.8 1969.9H395.5V1976.7H416.7M392.4 1956.4H382.6V1973.3H395.5M382.8 1936.6H378.3V1964.8H382.6M436.2 1979.7H420.4V1981.7H436.2M420.4 1980.7H415.3V1983.7H436.2M415.3 1982.2H405.2V1985.6H436.2M436.2 1987.6H421.3V1989.6H436.2M405.2 1983.9H401.1V1988.6H421.3M378.3 1950.7H364.1V1986.3H401.1M378.7 1899.3H359.7V1968.5H364.1M356.5 1772.2H351.7V1933.9H359.7M436.2 1991.6H418.6V1993.6H436.2M436.2 1999.6H420.3V2001.6H436.2M436.2 1997.6H414.7V2000.6H420.3M436.2 1995.6H408.3V1999.1H414.7M408.3 1997.4H403.5V2003.6H436.2M418.6 1992.6H400.6V2000.5H403.5M436.2 2005.6H421.4V2007.6H436.2M400.6 1996.6H396.6V2006.6H421.4M396.6 2001.6H394.4V2009.6H436.2M436.2 2011.6H416.9V2013.6H436.2M436.2 2015.6H419.0V2017.6H436.2M419.0 2016.6H415.8V2019.6H436.2M416.9 2012.6H403.1V2018.1H415.8M403.1 2015.4H400.3V2021.6H436.2M436.2 2023.6H421.7V2025.6H436.2M400.3 2018.5H389.6V2024.6H421.7M436.2 2027.6H421.6V2029.6H436.2M436.2 2031.6H418.4V2033.6H436.2M436.2 2035.6H420.6V2037.6H436.2M436.2 2039.6H417.8V2041.6H436.2M417.8 2040.6H410.2V2043.6H436.2M420.6 2036.6H404.6V2042.1H410.2M436.2 2045.6H418.6V2047.6H436.2M418.6 2046.6H408.7V2049.6H436.2M404.6 2039.4H397.1V2048.1H408.7M418.4 2032.6H392.4V2043.7H397.1M421.6 2028.6H382.3V2038.2H392.4M389.6 2021.6H370.8V2033.4H382.3M436.2 2051.6H416.9V2053.6H436.2M436.2 2055.6H417.5V2057.6H436.2M416.9 2052.6H412.0V2056.6H417.5M436.2 2061.6H421.1V2063.6H436.2M436.2 2059.6H411.7V2062.6H421.1M412.0 2054.6H397.0V2061.1H411.7M436.2 2067.6H421.5V2069.6H436.2M436.2 2065.6H415.7V2068.6H421.5M436.2 2071.6H417.2V2073.6H436.2M415.7 2067.1H405.5V2072.6H417.2M436.2 2075.6H422.0V2077.6H436.2M422.0 2076.6H408.1V2079.6H436.2M436.2 2083.6H421.9V2085.6H436.2M436.2 2081.6H410.4V2084.6H421.9M408.1 2078.1H399.9V2083.1H410.4M436.2 2087.6H419.2V2089.6H436.2M419.2 2088.6H409.6V2091.6H436.2M436.2 2095.6H418.3V2097.6H436.2M436.2 2093.6H414.3V2096.6H418.3M409.6 2090.1H401.0V2095.1H414.3M399.9 2080.6H392.2V2092.6H401.0M436.2 2099.6H416.6V2101.6H436.2M416.6 2100.6H408.7V2103.6H436.2M392.2 2086.6H388.9V2102.1H408.7M436.2 2107.6H419.5V2109.6H436.2M436.2 2105.6H408.8V2108.6H419.5M408.8 2107.1H405.0V2111.6H436.2M436.2 2113.6H419.2V2115.6H436.2M405.0 2109.3H402.6V2114.6H419.2M388.9 2094.3H385.9V2112.0H402.6M405.5 2069.9H383.9V2103.2H385.9M397.0 2057.9H378.9V2086.5H383.9M370.8 2027.5H368.0V2072.2H378.9M394.4 2005.6H365.1V2049.8H368.0M436.2 2119.6H421.3V2121.6H436.2M436.2 2117.6H407.6V2120.6H421.3M436.2 2127.6H421.0V2129.6H436.2M436.2 2125.6H414.0V2128.6H421.0M436.2 2123.6H405.1V2127.1H414.0M407.6 2119.1H391.6V2125.3H405.1M365.1 2027.7H350.9V2122.2H391.6M436.2 2131.6H417.7V2133.6H436.2M436.2 2137.6H419.9V2139.6H436.2M436.2 2135.6H411.7V2138.6H419.9M436.2 2141.6H419.1V2143.6H436.2M419.1 2142.6H416.1V2145.6H436.2M411.7 2137.1H396.0V2144.1H416.1M417.7 2132.6H393.5V2140.6H396.0M436.2 2147.6H419.7V2149.6H436.2M436.2 2151.6H417.9V2153.6H436.2M436.2 2155.6H417.7V2157.6H436.2M417.9 2152.6H405.8V2156.6H417.7M436.2 2159.6H420.4V2161.6H436.2M420.4 2160.6H409.2V2163.6H436.2M436.2 2167.6H418.2V2169.6H436.2M436.2 2165.6H414.1V2168.6H418.2M436.2 2171.6H418.0V2173.6H436.2M414.1 2167.1H407.5V2172.6H418.0M409.2 2162.1H396.7V2169.8H407.5M405.8 2154.6H392.9V2165.9H396.7M436.2 2175.6H421.1V2177.5H436.2M392.9 2160.2H391.2V2176.6H421.1M436.2 2179.5H421.3V2181.5H436.2M421.3 2180.5H412.4V2183.5H436.2M436.2 2185.5H415.9V2187.5H436.2M412.4 2182.0H404.4V2186.5H415.9M391.2 2168.4H385.3V2184.3H404.4M419.7 2148.6H381.4V2176.3H385.3M393.5 2136.6H379.4V2162.5H381.4M350.9 2075.0H347.1V2149.5H379.4M436.2 2189.5H420.4V2191.5H436.2M436.2 2197.5H419.5V2199.5H436.2M436.2 2195.5H413.1V2198.5H419.5M436.2 2193.5H411.3V2197.0H413.1M420.4 2190.5H397.2V2195.3H411.3M436.2 2201.5H416.0V2203.5H436.2M416.0 2202.5H410.6V2205.5H436.2M397.2 2192.9H389.4V2204.0H410.6M436.2 2209.5H421.7V2211.5H436.2M436.2 2207.5H413.0V2210.5H421.7M436.2 2213.5H416.2V2215.5H436.2M436.2 2219.5H422.0V2221.5H436.2M436.2 2217.5H408.9V2220.5H422.0M416.2 2214.5H404.6V2219.0H408.9M413.0 2209.0H401.6V2216.8H404.6M401.6 2212.9H389.1V2223.5H436.2M436.2 2225.5H419.0V2227.5H436.2M419.0 2226.5H414.2V2229.5H436.2M414.2 2228.0H411.7V2231.5H436.2M389.1 2218.2H382.0V2229.8H411.7M389.4 2198.5H376.9V2224.0H382.0M436.2 2235.5H419.7V2237.5H436.2M436.2 2233.5H415.6V2236.5H419.7M415.6 2235.0H410.9V2239.5H436.2M410.9 2237.3H397.2V2241.5H436.2M436.2 2243.5H419.0V2245.5H436.2M397.2 2239.4H392.4V2244.5H419.0M436.2 2247.5H420.5V2249.5H436.2M392.4 2242.0H390.3V2248.5H420.5M390.3 2245.2H388.5V2251.5H436.2M376.9 2211.2H373.3V2248.4H388.5M436.2 2253.5H421.0V2255.5H436.2M421.0 2254.5H408.8V2257.5H436.2M436.2 2259.5H419.5V2261.5H436.2M419.5 2260.5H414.7V2263.5H436.2M408.8 2256.0H401.0V2262.0H414.7M436.2 2265.5H420.6V2267.5H436.2M436.2 2269.5H421.2V2271.5H436.2M420.6 2266.5H405.1V2270.5H421.2M401.0 2259.0H389.8V2268.5H405.1M373.3 2229.8H369.3V2263.8H389.8M347.1 2112.2H345.0V2246.8H369.3M351.7 1853.1H334.4V2179.5H345.0M350.3 1648.6H324.6V2016.3H334.4M333.0 1392.2H283.2V1832.5H324.6" fill="none" stroke="#000" stroke-width="2"/><rect x="418" y="1313.0" width="18.2" height="959.5" fill="#000"/>
<defs><linearGradient id="lg" x1="0" y1="0" x2="0" y2="1"><stop offset="0" stop-color="#FF0000"/><stop offset="0.5" stop-color="#000"/><stop offset="1" stop-color="#00FF00"/></linearGradient></defs>
<rect x="1384.1" y="1312.9" width="29.5" height="436.9" fill="url(#lg)"/>
<text class="lab" transform="translate(27.90,88.70) scale(0.9085,1)" style="font-size:72.92px" text-anchor="start">a</text>
<text class="lab" transform="translate(985.05,89.35) scale(1.0273,1)" style="font-size:71.45px" text-anchor="start">b</text>
<text class="lab" transform="translate(22.80,1213.05) scale(1.0197,1)" style="font-size:74.20px" text-anchor="start">c</text>
<text class="ytka" transform="translate(204.85,142.50) scale(1.0600,1)" style="font-size:27.50px" text-anchor="end">4</text>
<text class="ytka" transform="translate(205.00,410.85) scale(1.0600,1)" style="font-size:27.50px" text-anchor="end">2</text>
<text class="ytka" transform="translate(205.00,678.65) scale(1.0600,1)" style="font-size:27.50px" text-anchor="end">0</text>
<text class="ytka" transform="translate(205.75,945.70) scale(1.0600,1)" style="font-size:27.50px" text-anchor="end">-2</text>
<text class="yta" transform="translate(152.85,637.55) rotate(-90) scale(1.0243,1)" style="font-size:36.00px" text-anchor="middle">log10(fpkm)</text>
<text class="xla" transform="translate(323.00,999.20) rotate(-30) scale(1.0124,1)" style="font-size:35.00px" text-anchor="end">WT−1</text>
<text class="xla" transform="translate(428.80,996.45) rotate(-30) scale(1.0573,1)" style="font-size:35.00px" text-anchor="end">WT−2</text>
<text class="xla" transform="translate(534.00,999.85) rotate(-30) scale(1.0511,1)" style="font-size:35.00px" text-anchor="end">WT−3</text>
<text class="xla" transform="translate(639.85,995.90) rotate(-30) scale(1.0128,1)" style="font-size:35.00px" text-anchor="end">yld7−1</text>
<text class="xla" transform="translate(753.80,999.20) rotate(-30) scale(1.0623,1)" style="font-size:35.00px" text-anchor="end">yld7−2</text>
<text class="xla" transform="translate(855.50,995.25) rotate(-30) scale(1.0567,1)" style="font-size:35.00px" text-anchor="end">yld7−3</text>
<text class="tt" transform="translate(1509.40,1060.55) scale(1.0595,1)" style="font-size:35.03px" text-anchor="middle">log2(Fold Change)</text>
<text class="tt" transform="translate(1026.75,565.30) rotate(-90) scale(1.0169,1)" style="font-size:36.50px" text-anchor="middle">-log10(p-value)</text>
<text class="lg1" transform="translate(1965.85,391.45) scale(0.9602,1)" style="font-size:38.39px" text-anchor="start">Control: WT</text>
<text class="lg1" transform="translate(1968.80,446.25) scale(1.0530,1)" style="font-size:35.26px" text-anchor="start">Case: <tspan font-style="italic">yld7</tspan></text>
<text class="lg2" transform="translate(1983.00,528.00) scale(1.0183,1)" style="font-size:36.29px" text-anchor="start">Down(519)</text>
<text class="lg2" transform="translate(1979.55,573.65) scale(1.0551,1)" style="font-size:35.14px" text-anchor="start">NoDiff(24591)</text>
<text class="lg2" transform="translate(1980.00,619.35) scale(1.0227,1)" style="font-size:36.41px" text-anchor="start">Up(1272)</text>
<text class="grp" transform="translate(1378.35,1299.15) scale(1.0278,1)" style="font-size:28.61px" text-anchor="start">group</text>
<text class="lgn" transform="translate(1424.90,1371.75)" style="font-size:30.50px" text-anchor="start">2</text>
<text class="lgn" transform="translate(1423.95,1458.95)" style="font-size:30.50px" text-anchor="start">1</text>
<text class="lgn" transform="translate(1425.15,1548.20)" style="font-size:30.50px" text-anchor="start">0</text>
<text class="lgn" transform="translate(1423.35,1637.45)" style="font-size:30.50px" text-anchor="start">−1</text>
<text class="lgn" transform="translate(1424.80,1725.20)" style="font-size:30.50px" text-anchor="start">−2</text>
<text class="xla" transform="translate(564.35,2293.85) rotate(-30) scale(1.0137,1)" style="font-size:35.00px" text-anchor="end">WT−1</text>
<text class="xla" transform="translate(711.30,2296.60) rotate(-30) scale(1.0648,1)" style="font-size:35.00px" text-anchor="end">WT−2</text>
<text class="xla" transform="translate(860.60,2294.80) rotate(-30) scale(1.0511,1)" style="font-size:35.00px" text-anchor="end">WT−3</text>
<text class="xla" transform="translate(1006.90,2293.20) rotate(-30) scale(1.0115,1)" style="font-size:35.00px" text-anchor="end">yld7−1</text>
<text class="xla" transform="translate(1160.35,2292.20) rotate(-30) scale(1.0496,1)" style="font-size:35.00px" text-anchor="end">yld7−2</text>
<text class="xla" transform="translate(1333.40,2291.40) rotate(-30) scale(1.0590,1)" style="font-size:35.00px" text-anchor="end">yld7−3</text>
<text class="tkb" transform="translate(1090.60,947.70) scale(0.9650,1)" style="font-size:32.80px" text-anchor="end">0</text>
<text class="tkb" transform="translate(1090.60,703.60) scale(0.9650,1)" style="font-size:32.80px" text-anchor="end">20</text>
<text class="tkb" transform="translate(1090.60,459.50) scale(0.9650,1)" style="font-size:32.80px" text-anchor="end">40</text>
<text class="tkb" transform="translate(1090.60,215.40) scale(0.9650,1)" style="font-size:32.80px" text-anchor="end">60</text>
<text class="tkb" transform="translate(1223.10,1013.10) scale(0.9650,1)" style="font-size:32.80px" text-anchor="middle">-4</text>
<text class="tkb" transform="translate(1446.30,1013.10) scale(0.9650,1)" style="font-size:32.80px" text-anchor="middle">0</text>
<text class="tkb" transform="translate(1669.50,1013.10) scale(0.9650,1)" style="font-size:32.80px" text-anchor="middle">4</text>
<text class="tkb" transform="translate(1892.70,1013.10) scale(0.9650,1)" style="font-size:32.80px" text-anchor="middle">8</text>
</svg></div></body></html>
